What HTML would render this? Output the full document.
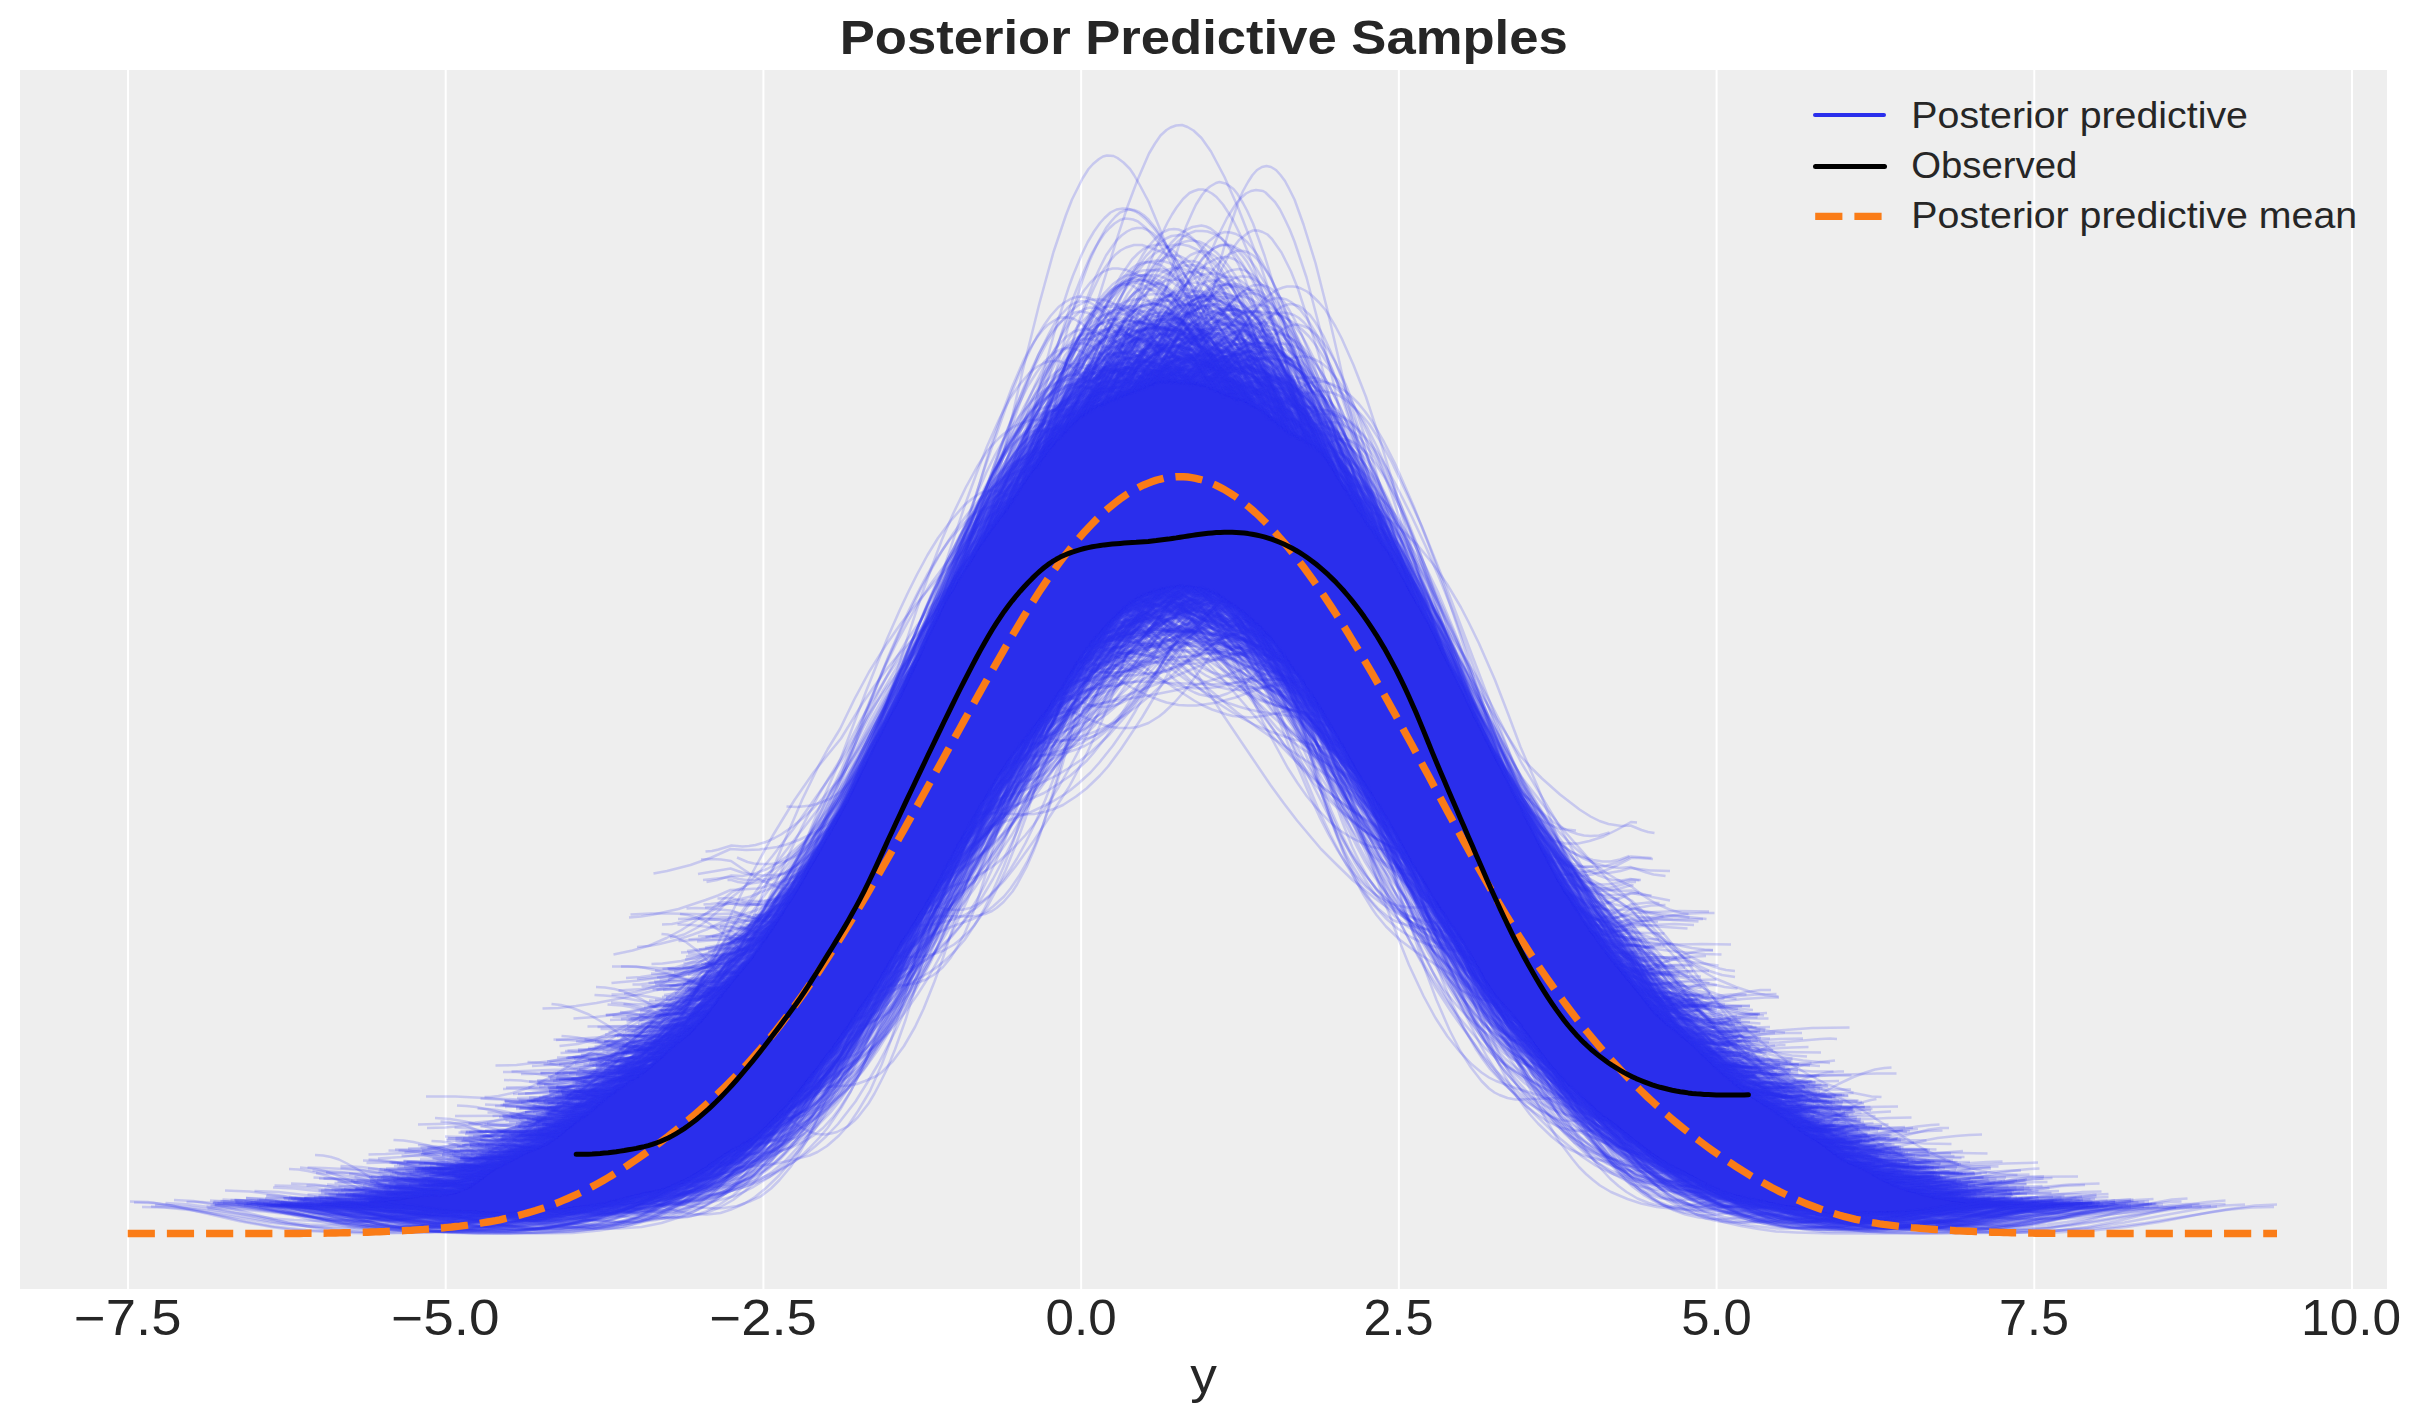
<!DOCTYPE html>
<html><head><meta charset="utf-8"><title>Posterior Predictive Samples</title>
<style>
html,body{margin:0;padding:0;background:#fff}
body{width:2423px;height:1423px;overflow:hidden;font-family:"Liberation Sans",sans-serif}
svg{display:block;position:absolute;left:0;top:0}
text{font-family:"Liberation Sans",sans-serif;fill:#262626}
</style></head><body>
<svg width="2423" height="1423" viewBox="0 0 2423 1423">
<rect x="20" y="70" width="2367" height="1219" fill="#eee"/>
<g stroke="#fff" stroke-width="2" fill="none"><path d="M128.00 70V1289"/><path d="M445.71 70V1289"/><path d="M763.43 70V1289"/><path d="M1081.14 70V1289"/><path d="M1398.86 70V1289"/><path d="M1716.57 70V1289"/><path d="M2034.28 70V1289"/><path d="M2352.00 70V1289"/></g>
<svg x="20" y="70" width="2367" height="1219" viewBox="20 70 2367 1219" style="position:static">
<path d="M369,1201.2L383,1199.0L403,1197.0L422,1194.0L440,1193.5L446,1192.9L457,1190.2L467,1185.9L473,1182.2L488,1171.1L495,1166.8L524,1151.8L543,1143.9L552,1138.5L571,1123.5L588,1110.9L608,1094.3L633,1077.5L647,1067.4L655,1060.6L671,1045.9L687,1033.0L695,1025.6L705,1014.2L727,985.7L746,963.1L754,952.9L777,919.3L795,891.0L831,828.7L847,799.3L872,748.8L903,688.5L935,620.3L946,598.8L954,585.2L983,539.0L1009,503.5L1032,468.8L1048,448.4L1060,434.3L1075,419.1L1086,410.0L1095,405.0L1124,392.4L1139,386.8L1155,380.2L1160,379.0L1165,378.6L1188,380.4L1203,383.0L1211,385.5L1227,392.7L1240,396.7L1246,399.1L1253,402.9L1262,408.8L1293,432.0L1298,434.8L1309,439.7L1313,442.0L1318,446.1L1323,451.8L1329,460.5L1365,517.9L1384,543.5L1390,552.4L1396,562.6L1410,588.7L1424,613.0L1434,632.2L1482,729.8L1505,774.1L1542,847.7L1553,868.7L1563,886.2L1582,916.2L1603,946.3L1650,1005.0L1658,1013.9L1665,1020.3L1689,1039.4L1723,1071.4L1742,1087.2L1755,1096.5L1777,1110.2L1801,1128.5L1822,1141.7L1838,1154.1L1845,1158.7L1866,1168.1L1883,1177.8L1891,1181.9L1901,1186.0L1914,1190.3L1932,1195.0L1948,1198.0L1974,1201.0L1992,1201.9L1992,1207.1L1966,1208.0L1928,1212.3L1903,1213.9L1859,1214.7L1837,1216.0L1825,1215.2L1803,1210.6L1776,1206.4L1737,1197.9L1725,1194.5L1710,1188.0L1666,1164.9L1657,1159.4L1647,1152.2L1597,1113.4L1562,1080.5L1553,1070.7L1544,1059.6L1516,1021.3L1499,1002.2L1493,994.7L1485,982.4L1463,944.4L1437,906.1L1412,865.2L1388,822.5L1360,778.8L1331,728.2L1321,711.7L1304,686.3L1278,650.2L1271,641.2L1261,630.4L1247,617.8L1237,610.2L1217,596.7L1210,593.3L1203,591.3L1191,589.5L1181,588.8L1170,590.0L1153,594.1L1144,597.3L1136,601.7L1127,608.3L1116,618.4L1101,634.0L1090,646.9L1080,661.0L1062,690.4L1053,704.0L1039,723.2L1013,756.8L1000,776.0L968,830.0L936,889.1L926,906.8L898,951.0L878,984.0L867,1000.8L835,1047.0L800,1092.3L788,1106.3L774,1121.2L763,1131.9L754,1139.5L746,1144.9L726,1156.0L697,1175.2L685,1181.9L674,1187.1L666,1190.3L659,1192.4L640,1196.4L616,1202.7L601,1205.9L562,1211.3L536,1212.5L513,1214.6L502,1215.1L469,1213.5L445,1213.1L414,1208.8L398,1207.5L384,1207.2L369,1208.0Z" fill="#2a2eec"/>
<g fill="none" stroke="#2f33f1" stroke-opacity=".2" stroke-width="5" stroke-linejoin="round" transform="scale(0.5)">
<path d="M1257 2039l18-2 13-3 18-5 13-5 36-20 13-9 23-17 22-21 22-22 27-31 31-30 27-27 49-55 58-69M3488 2181l22 4 27 1M1997 1552l33-35 23-25 22-26 38-51 39-54 93-140M1065 2292l19 0M665 2404l37 2 43 5 37 8 96 21 48 8 26 3 48 2 27 0 27-2 42-7 16-4 32-10 43-19"/>
<path d="M3648 2289l16 3 38 2M1148 2179l35-4 26-4 35-10 35-12M2004 1542l55-69 45-63 106-154M3634 2281l85 5M1944 1641l34-23 28-26 24-27 24-31 15-22 14-25 24-44 29-61 33-79M3636 2284l58 0M1198 2408l18 2 40 0 13 0 31-3 26-6 18-5 31-12 35-18 31-22 39-35 40-43M2071 1453l22-26 53-67 92-133M2789 1124l18 24 39 59 194 304 22 24 22 22 36 32 39 30 22 14 18 9 18 6 26 4 18-1 22 9 13 4 13 2"/>
<path d="M2226 797l13-9 14-6 14-4 13-2M1195 2198l15-1M2393 1175l59 68 49 51 44 39 83 66M3630 2279l73 2M1254 2052l41 1 91 9M3771 2361l51-6 35-2M3458 2160l44-7 38-3 29-1"/>
<path d="M1058 2202l46-2 42-5 47-8 47-11M1161 2217l15-2 16-2M2243 1222l31-14 27-8 26-6 26-4 27 0 26 2 21 3 27 7M3699 2325l58 6 101 3M923 2334l31 1 37 3M1050 2225l71-3 49-3 16-2M2309 1182l44 22 103 41 33 14 44 26 21 15 11 9"/>
<path d="M3465 2164l18 7 31 8 27 3M1167 2223l15-1M3741 2345l53 6 36 1M964 2315l68 1M2231 795l11-7 10-5 11-3 15-2M3615 2271l42-1"/>
<path d="M1253 2396l24-2 29-7 29-8 29-12 24-12 24-14 29-21 24-19M3042 1616l126 169 53 77 43 70 58 104M582 2397l109-2 37-1 49-4 36-4 140-21M1321 2108l9-1M739 2398l46 1"/>
<path d="M2556 1296l58 114 80 152 42 75 26 44 37 55 32 42 37 42 42 42M830 2337l69-1 54-1 24-3 34-5M2505 1239l49 76 49 69 34 44 34 39M1608 2171l23-24 17-21 35-51 18-28M3890 2398l52 3 24 0 128-8 35-1M850 2360l35-2 25-2 35-7 40-9M3402 2107l10 1"/>
<path d="M1106 2162l52-4 33-5 33-6 29-7 33-11 37-16M2483 1220l47 89 24 42 18 32 29 43 23 31 29 33 23 23 38 31M1285 2142l4 0M768 2382l110-2 52-3M3636 2283l87 0M1088 2272l28 1M3334 2047l28 17 18 9 19 7 23 7 14 3 23 2"/>
<path d="M1790 1413l73-160 34-69 30-55 24-40 29-43 29-35 25-25M2457 1203l54 88 24 36 35 48 19 25 34 40 83 90M3651 2292l58 1M675 2363l35 2 36 5 41 8 53 15M3628 2279l30 2 35 0M3836 2386l52 4 100 2M2105 1405l105-96 42-36 68-54 63-45M2697 992l10 2 11 5 10 6 16 13 16 16 10 14 16 23 10 17 21 38 16 31 31 67 42 99 47 118M3717 2335l42-14 37-9 36-6 26-1"/>
<path d="M1246 2131l33-4 23-7 24-8M3595 2256l42 1M979 2332l23-1M2342 1177l44 5 50 8M3726 2337l39 4 44 1M2364 763l9-1 14 1 14 5M919 2364l31 1M1211 2407l21-2 21-4 26-8 16-7M2301 767l10-5 16-4 21 2 10 3"/>
<path d="M2304 769l15-22 19-26 25-27 14-13 20-11 10-3 9-2 10 0 15 3 15 7 9 7 15 15 15 19 19 33 15 31 10 22 19 51M3369 2345l25 17 9 5 15 7 20 7M3575 2242l27 2 36 2M1026 2188l38-2 38-5 37-7 33-8 28-9 52-20 42-18 47-24M3257 1962l65-34 38-16 19-6 19-4 9-1 19 0M1147 2417l39 4 33 0 39-4 34-9 29-10 29-15 39-26 34-28"/>
<path d="M740 2402l22 0M1416 1902l45-5 36 3 13 0 9-2M3665 2305l35 2M2213 1251l19-3 27-7 37-16 23-14 32-27 14-14M2801 1146l32 58M2637 902l14-12 15-8 9-3 10-1 14 3 9 4 10 7 19 18 14 17 19 29 19 35 24 52 24 55 19 49 24 65 24 68 61 188"/>
<path d="M1258 2395l20 0 20-2 20-4 10-3 24-11 15-8 15-10 20-15M2489 800l20-11 20-7 20-4 10 0 10 1 14 3 10 4 15 8 10 7 10 9 15 15 15 19 20 28 20 34 14 28 20 42 20 47 20 50 20 55M3100 2130l20 37 24 39 25 31 15 16 10 10 15 11 15 10 15 9 15 7 14 5 15 3 25 3M2437 781l13 2 8 3 13 6 9 5M1116 2420l31 4 36 2 26-1 36-5 31-9 31-12 31-17 26-19M2539 833l15 5 16 9 10 7 21 21M1475 1838l21 4 13 0 13-1 21-5 21-8"/>
<path d="M3256 1961l51 30 38 16 27 9 42 10 28 4 32 2M2199 812l14-26 10-16 15-19 10-10 9-7 15-8 10-2 10 0 15 3 9 4 10 6 10 9 15 16M2596 1350l20 43 29 60 20 35 19 33 15 23 25 35 19 25 35 41M3705 2329l20 1M3725 2425l37 9 36 5 37 3 43 0 31-2 37-4 110-18 37-5 36-3 31-1M1390 2021l12 0 20 1M3395 2099l24 2"/>
<path d="M696 2392l62-2 62-5 46-8 51-15 16-5 36-15 51-26 144-82M1458 1875l24 3 15 0 20-3 19-6M3850 2390l59-5 54-1M864 2347l19 1 23 3 23 5 28 7M2029 996l24-56 23-51 28-53 18-31 14-20 19-23 14-13 18-14 14-6 19-4 14 1 9 2 9 3 14 8 19 16 14 15M2521 1253l28 65 19 38 18 34 24 36 18 25 23 23 19 15 14 9 9 5M3227 1927l9 0M1073 2169l40-1 45-7 45-11 40-16 35-20 30-19 85-64 40-28"/>
<path d="M3270 1978l39 6 26 3 65 5M3665 2306l90-1M797 2376l62 2 57 5M2464 1209l68 122 28 49 23 37 34 49 28 37 23 27 11 11 46 43 34 27M3620 2273l74-1M1063 2204l41-5 35-9 46-18 36-19 35-22 46-34 46-39 46-44 36-39 30-36 41-46 30-38 31-41 51-77 46-77 25-44 46-87M2245 1220l15 4 20 7 31 13 40 26 21 16 30 27 36 37 122 140 26 27 35 36 31 27 46 37 46 32 56 35M3660 2299l6 1"/>
<path d="M1136 2208l15-1 24-4 24-6 19-7M2734 1576l58 117 34 63 24 41 25 38 24 33 24 30 29 31M3418 2121l38 8 56 6 84 4M3493 2186l43 0M1676 1636l53-126 35-74 22-42 17-31 18-28 22-30M3404 2106l35 4 44 2"/>
<path d="M2007 1029l49-121 26-59 18-36 18-32 17-28 18-23 18-18 17-12 14-6 17-1 9 2 9 4 18 11 13 12 18 19 22 30M2785 1115l15 26 25 48M3772 2363l20 1M962 2341l21 0M934 2348l41 0M2146 1341l23-7 47-11 24-7 41-14 29-14 35-20 23-16 30-23 41-36M3802 2377l76-6 47-1"/>
<path d="M2136 1356l26-10 21-12 16-10 26-20 37-33 100-100M2778 1105l21 34 27 52M3737 2343l47 6 32 2M1314 2103l23-2M3546 2221l18-4 42-5 27-2 18 0M1943 1123l53-155 24-63 24-59 17-41 24-47 18-29 18-21 6-6 12-9 12-5 5-1 12 0 12 4 6 3 18 16 12 15 18 28 18 35M2400 1169l36 88 17 40 18 36 24 43 12 19 30 41 17 20 18 17 30 23 35 22 60 33 18 11 23 17M3980 2407l35-1 48-2 83-7 71-3M854 2256l37-1 30-3 31-3 36-7 31-7 36-12 31-10 30-13 43-21 49-28 30-18 61-40 98-72 36-29 25-21M2470 1210l31 46 73 115 55 81 36 50 31 39 67 79M3836 2386l55 3 79 1"/>
<path d="M1884 1750l20-11 14-9 25-21 19-21 24-37 10-17 10-20 24-55 15-39 24-73M2254 788l20-54 24-60 24-52 20-34 10-15 9-12 10-10 10-7 14-7 10-2 10 1 10 3 9 6 10 7 10 10 14 20 20 35 19 44 25 65 19 60 25 82M3764 2358l44 0M1396 1872l64 2 28 6 14 0 18-1 14-3M2248 790l13-12 19-12 13-6 19-7 9-2 18-1 14 2 14 5 13 7M2971 1960l36 99 28 66 23 49 32 62 27 45 28 37 13 16 14 14 14 12 14 11 22 13 33 14 27 9 32 7 18 2 74 7 32 2 36 0 23 0 32-2 32-3 32-5M980 2315l31-1 31-3M3024 1579l19 26 56 72 43 58 118 173 42 64 19 26 19 22 24 24 18 17 24 17 14 8 24 11 23 7 15 4 18 2"/>
<path d="M722 2404l24 0M3753 2353l18 1M707 2393l58-2 69-6 32-6 38-9 32-9 38-14M2357 1175l38 3M3715 2331l57 8 64 5 63 4 51 1M2027 1000l18-55 18-51 17-45 14-31 18-35 13-21 9-12 18-19 13-9 9-5 4-1 9-1 5 1 17 5 14 9 18 16 13 15 18 24M3653 2296l25 2 31 1"/>
<path d="M1308 2083l23-3 18-5 18-7 23-13M1793 1407l131-292 45-92 28-49 36-58 27-39 27-32 32-33 18-16 18-14 41-24 18-9 18-6 18-4 18-2 14 0 13 1 19 4 18 6 9 4 18 11M2639 1415l32 99 45 130 37 93 22 54 18 40 37 71 40 72 32 49 14 20 45 62 32 38 31 30 27 25 77 66 23 16 18 11 23 12 27 13 32 12 27 7 32 5 27 2 27 1M940 2339l22 1 22 2M1979 1065l22-53 22-45 22-39 17-24 16-20 11-11 11-9 17-9 16-5 11-1M3712 2331l39 0M1824 1345l49-126 50-117 19-38 22-45 23-41 14-21 13-20 18-24 19-20 22-19 14-8 18-8 14-3 18-1M2409 1176l28 45 22 34 23 31 18 22 14 15 32 32 13 12 37 27 54 38M3250 1956l18-5 36-5 32-2 23 1M2872 1805l23 42 33 55 18 28 28 37"/>
<path d="M1268 2065l26-2 26-5 22-5 48-19 35-19M1179 2205l24-2M2374 1173l34 30 57 54 28 25 19 15 29 20 24 13 23 10M3498 2187l38 10 19 4 28 4 29 3M578 2338l19 1 18 3 19 4 18 5 31 11 61 26 31 12 24 9 25 7 31 5 30 4 31 1 31-1M2739 1584l49 108 43 89 31 57 31 52 18 28 19 25 18 25 18 21 19 18 24 21 37 26M3654 2296l31-2 30-1M2167 830l20-40 19-34 23-34 20-23 19-16 8-6 12-6 27-10 19-3 16 1 8 1 11 3 12 6 23 13 31 25 24 23 23 27 23 33 20 31M2874 1807l20 44 27 54 31 55 23 35 24 29 15 17 19 19 35 30"/>
<path d="M2253 789l20-23 10-10 11-7 15-8 10-4 10-3 15-1 15 2 25 9 25 15 40 28M3227 2249l40 36 20 15 31 20 20 10 15 7M2315 762l14-14 9-7 13-9 9-4 10-4 13-2 9 0 14 2 23 9 9 5 22 16 14 13 9 10 14 15 18 23M3487 2182l22-5 32-3M1077 2209l35-2 25-3 35-4 45-9M1074 2234l93-2M2350 1175l21 17 31 23 36 24 41 24 47 24 41 24M3368 2346l21 16 26 16 15 9 26 10 26 8 31 5 21 3 41 1"/>
<path d="M1096 2153l66-5 48-6 35-7 56-14 22-6M2887 1828l13 21 26 37M3210 1902l51 38 25 25 30 33 30 36 61 74M3683 2318l10 1M737 2406l6 0M3979 2407l26 0M1052 2424l34-3M3433 2379l17 10 23 10 23 8 23 5 23 4 23 1 23 1 17-1"/>
<path d="M3646 2289l26-3 47-2M685 2402l28 2 35 4 34 6 86 19 35 6 40 6 34 2 41-1 40-5 23-4 29-7 51-16M2752 1604l23 61 29 69 34 70 23 40 23 35 12 15 17 20 35 34 11 10 17 13M3597 2256l23 2M3427 2132l43 4 76 5M863 2282l19 1 15 2 29 9 33 14 44 22M2085 915l15-37 19-47 15-30 14-27 15-23 14-19 15-16 14-12 15-8 14-4 10 0 14 1 15 6 19 12 15 12 14 14 24 28M2854 1770l29 85 34 87 29 62 14 27 15 23 14 18 15 16 14 13 10 7 19 11 19 8 25 9 19 5"/>
<path d="M940 2334l23 0 41-2M3385 2355l24 16 23 13 23 10 29 11 29 7 35 5 23 1 35 0M3839 2388l34-2 35-1M777 2341l82-1 50-3 55-9 77-17M2206 815l21-50 22-43 22-36 22-31 28-31 16-15 6-4 11-6 11-4 11-3 11 1 16 3 6 2 11 6 11 7 11 9 11 11 16 21 22 36 17 32 27 62 28 70M2986 1977l16 51 17 46 22 54 16 34 17 30 16 27 17 23 22 25 21 19 22 13 17 7 22 8 27 7 50 9 60 4M2458 791l13-7 17-8 13-4 9-1 9 0 17 3 14 5 13 7 13 10 9 9 13 14 9 12 26 42 13 25 13 28M499 2405l39 2 40 4 118 22 33 4 33 2 39 0 33-3 20-3 46-9M3366 2343l26 20 27 18 33 16 19 7 33 8 20 4 26 1 20 0 20-1M3780 2369l40-6 39-3"/>
<path d="M716 2398l64 2M843 2365l27 1 22 1 48 7M2095 902l16-22 16-19 11-10 16-13M3287 2296l27 30 21 20 22 16 27 16 27 11 22 6 16 3 27 3 38 0M660 2407l65 1 110 7M2250 1217l26-12 39-15 45-13 13-3M838 2369l56-1 57-2M2356 1174l19 8 31 16 126 68M3529 2404l38 16 31 11 19 5 44 7 31 3 19 1 44-1 38-4 169-25 44-4 38-1"/>
<path d="M2552 846l20-6 16-2 8 0 8 1 16 5 17 8 16 11 16 15 16 19 12 16 20 31 20 36 12 24 21 44 16 37 16 40 28 75M572 2412l34 1 41 3 129 15 54 4 34 0 27-2 34-4 27-5M3778 2366l27-1 40-3 102-14 34-4 41-3 20 0M3398 2101l37 3 64 2M913 2336l32 0 47 2"/>
<path d="M728 2405l17 0M2385 766l17-7 17-3 22 0 17 5 8 3 13 8 13 10 22 23 17 21M3429 2134l38-6 34-2M3432 2136l37 5 41 3M541 2410l33 1 39 4 39 5 78 14 45 7 39 5 33 1 32 0 46-5 32-7 33-10"/>
<path d="M2274 1191l33 36 28 26 19 12 14 9 19 7 14 3 14 0 19-3 14-4 14-6 14-8 18-12 14-10M3669 2308l38 2 51 2M2996 1996l22 39 28 45 49 75 33 43 17 19 22 23 22 20 16 12 17 12 33 19 44 19 60 19M784 2345l26 2 27 4 54 13 42 13M2187 821l21-43 27-46 16-24 22-26 16-14 21-16 11-6 10-5 11-2 16-1 16 3 11 4 11 6 21 16 27 23 21 24 33 43 21 33 32 54M2899 1844l27 90 21 67 22 60 21 52 22 43 21 36 27 37 16 18 27 26 16 13 21 13 27 12 32 9 38 8 53 8 81 10M1336 1960l37-2 37-4 74-12M2396 1177l13 9 28 16 19 9 23 10M3640 2286l42-1 18 0"/>
<path d="M3784 2370l106-6 56-1M679 2404l39 2 20 1 111 17 32 2 39 0 26-2M1299 2136l52-65 39-44 19-21 20-18 26-22 13-9M3959 2406l52-3M1440 2316l100-53 60-36 26-17 15-11 35-28 35-34 25-29 30-39 25-38 35-61 31-59 20-43 40-91 30-73 40-103 30-81M3057 1646l20 24 25 26 15 15 20 17 25 18 15 10 45 25 41 20 35 34 30 33 50 61 25 34 66 91 50 69 35 43 35 38 20 18 20 16 30 18 20 8 15 4 16 4 15 1M1037 2200l44 0 49-3 28-3 44-8 32-10 17-7"/>
<path d="M2234 797l13-22 13-20 22-26 9-8 21-15 13-5 9-1 13 1 12 4 18 11 8 8 13 15 9 11 17 26M1225 2177l14 0M3574 2238l23 0M850 2334l81-2 76-3M3201 1892l24 3 9-1 29-4 19 1M811 2341l59 1 59 3 24 1 25-1M1212 2195l88-102 39-41 20-20 29-25 20-16 39-27 15-9 14-7"/>
<path d="M1934 1135l28-71 14-32 13-29 19-36 13-25 28-43 18-25 42-50 64-71 37-39 18-18 19-16 9-6 18-11 19-6 13-1 14 0 9 3 14 6 9 7 9 8 14 16 9 13 19 31 18 38M2646 1427l19 42 18 38 32 58 14 22 23 34 18 24 23 27M3514 2201l23-5 14-1M1311 2084l26-6 17-6 22-11 25-18M3463 2160l30 7 26 3M3687 2321l35-5 34-1M3487 2180l30 2 78 0 45 2"/>
<path d="M3818 2381l95 0M661 2410l70 2 83 5 47 2M1058 2163l113-4 32-2 43-5 43-9M2129 1368l38-38 42-41 33-28 32-25 21-15 43-26 21-10 27-10M3644 2290l97-10 53-2M1119 2247l17-1 16-3M3776 2364l71 3 77 1"/>
<path d="M1123 2072l14 1 18 2 42 9 102 34 18 4M3843 2388l79 0M1945 1639l32-15 19-10 39-25 19-14 26-23 32-32 19-22 39-48 45-62 90-128 26-33 32-39 13-14M3070 1672l58 89 128 191 20 31M3758 2426l32 7 51 9 97 13 83 5 84 1 64-2 58-5 64-8 116-19 45-7 51-5 45-1M2232 1233l32-9 106-29 42-14M2784 1115l14 13 14 16 18 24 14 20 37 60 41 77 33 66 27 61 120 281M3741 2345l19 1"/>
<path d="M2261 788l14-24 13-22 23-29 18-19 18-12 14-6 13-2 14 2 18 6 9 5 27 19 18 18 18 21 19 24 18 26 27 42M3306 2310l18 15 18 13 18 8 19 5M3591 2252l27-15 23-10 23-6 18-1M857 2372l34 0 57-3M1394 1883l52-4 10-1 5-1 24 2 19-1 23-4 10-3M3780 2367l42 1M1363 2030l31 0 20-3M3862 2394l56-4 35-1"/>
<path d="M2068 1454l27-13 33-18 14-11 14-13 18-21 10-12 14-21 28-50 23-50 18-44M2449 789l18-25 19-21 14-11 14-10 14-7 9-3 14-1 9 1 19 5 9 5 14 10 14 12 9 10 24 29 23 36 23 42 28 56 19 41 28 65 93 236M1322 2381l17-5 16-5 22-11 28-16 21-18M2215 1247l17-1 22-3 27-10 22-11 17-11 38-29 11-10M3969 2406l44-1M1351 2369l40 2 13-1 18-4 13-3 13-5 14-6 13-8 13-10 13-12 14-15 13-17 22-35 22-42M2211 808l27-94 31-100 26-75 18-46 9-21 13-27 9-16 9-14 13-17 13-12 9-4 9-3 9 0 9 3 9 5 9 7 13 15 13 20 9 15 18 37 9 21 13 34 13 37 36 105 31 102 31 109M3120 2150l22 45 18 34 27 45 22 33 26 34 18 21 13 12 23 17 17 10 22 10 9 3 14 2 13 1 22-1 22-3 27-6 49-13M769 2393l51 2M3221 2243l28 29 17 14 27 19 23 12"/>
<path d="M3098 2128l25 38 24 33 25 28 25 25 12 11 25 18 37 23 44 20 49 18M3705 2427l32 1 43-2 37-4 106-13 31-3 31-1M3251 2266l15 17 25 26 25 22 39 31 35 21 40 16 29 9 20 4 40 2 25-1 20-2M3747 2350l35-12 44-12 35-5 30-2M1582 2202l16-17 19-25M2135 858l15-38 12-26 19-38 11-20 12-16 12-13 15-12 8-4 11-3 12 1 12 3 15 9 27 25 15 18 16 22M3250 1953l8 1 31 9 19 3 19 2M1782 1428l49-101M3474 2172l27 2"/>
<path d="M3339 2331l20 20 15 13 25 19 30 19 15 7 24 10 20 5 20 4 30 3 20 1 30-1 49-6M3746 2347l124-2M1924 1673l15-8 25-20 25-28 20-27 20-33 20-38 20-43 20-48M2369 764l15-9 10-2 10-1 15 3 15 6 10 6 10 9 10 11 10 12M860 2370l88-3"/>
<path d="M1955 1624l26-26 31-36 31-40 20-28 26-39 26-42 83-145M2879 1293l16 22 25 38 37 61 41 74 46 90 88 153 46 79 21 33 31 46 47 62 15 19 31 32 26 22 10 8 16 9 25 13 31 11 31 6 26 4 52 2M600 2411l76 2 183 15 89 3 50 0 70-3 56-8M2482 1220l37 47 95 121 32 37M3668 2307l32 6 38 5 38 3 50 2M2249 791l19-43 24-48 28-49 14-20 15-17 14-12 14-7 5-2 5-1 9 0 10 3 10 5 19 15 14 16 19 29 19 38 14 32 19 49 19 55M3469 2391l52 21 24 8 43 11 33 5 34 2 38 0 52-7 29-6M3898 2400l23-2 15 0M1435 1797l28-1 24 8 16 4 16 2 32 2 11-2 16-3"/>
<path d="M995 2427l43 5 43 0 30-3 25-4 24-6 25-8M2352 764l19-8 18-2 18 1 19 5 18 6 18 10 19 14 18 17M3814 2379l122-2M965 2272l60-1 39-1 65-7M1741 1987l28-25 18-20 19-22 27-38 28-44 9-16 23-46 23-50 23-56 23-62M2321 762l9-4 10-3 18-2 18 0 23 4 37 13 23 10 23 13 23 16M2413 771l20-12 24-13 15-5 15-3 20 0 10 2 10 3 20 11 14 11 10 9 10 11 10 13 25 37 25 44 20 41 14 33"/>
<path d="M1121 2241l18-1 27-5M1718 2016l18-4 14-4 18-10 13-11 18-16 14-16 14-19 13-21 14-24 13-27 32-72 32-83 36-105M3189 1872l13 2 17 0 22-4 22-5 66 2M3276 1983l24 10 33 10 28 6 19 2M3888 2398l66-2"/>
<path d="M1623 2151l25-23 21-26 29-43 25-44M2205 809l16-24 11-13 11-9 5-3 11-5 16-1 11 3 5 2 17 10M3884 2398l16-2 27-1M3798 2375l97-14 55-6 73-5 36-1M2117 879l21-48 22-41 25-42 22-28 17-19 26-22 8-5 17-8 18-5 25-3 26 2 9 3 17 8 13 8 12 10 13 11 35 35 30 36 25 35"/>
<path d="M1074 2239l85 1M2006 1539l17-21 29-43M3711 2331l92 2 194 0M893 2365l57 3M2461 1209l46 46 28 30 46 46M3717 2334l40 2 40 1M1245 2117l32-4 27-7 27-11 32-17M1121 2253l22 0M3524 2403l11 7 22 11 16 7 23 8 27 6 34 4 33 0 44-5 28-5 50-11M3923 2403l33-2"/>
<path d="M3637 2284l34 1M837 2336l63 2 80 6M2175 821l10-12 11-11 20-15 15-8 11-3 15-1 5 0 21 5M627 2398l18 1 41 4 94 15 35 5 35 1 35-1M2107 892l12-30 17-38 12-24 18-31 12-18 17-20 12-11 12-8 11-5 12-2 6 0 12 1 17 7 12 8 24 19 11 12 12 14"/>
<path d="M2329 763l26-19 11-5 10-6 16-6 21-5 26-6 21-1 11 0 10 2 11 3 10 4 16 9 16 13 16 16 15 19 21 33 11 18 26 56M3813 2423l36 12 42 10 42 5 24 1 24 0 42-3 53-7 108-21 42-7 36-4 36-2M530 2397l69-1 58-2 63-7 41-7 40-9 122-30 104-22M1339 2099l23-33 34-51 70-106 75-98 81-100 52-69M1262 2394l67 1 50-7 18-5 18-7 22-11 18-12 19-14 18-17 13-15 14-16 22-31 23-37"/>
<path d="M2304 769l9-12 22-25 17-16 22-15 13-5 17-3 9 0 13 2 17 5 13 6 13 9 18 14 17 18 17 21 26 37 13 20 26 44M1724 2012l17-19 26-32 30-44 34-60 13-25 17-38M3420 2122l29 7 13 2 30 3 30 1 34 0M3588 2250l10 1M3426 2129l37 17 23 7 27 8 46 8 28 3 23 1"/>
<path d="M2148 1333l34 9 33 4 12 0 17-2 16-2 17-4 34-15 17-8 17-11 34-23 90-69M1001 2210l33-3 29-5 24-7 34-12 38-18 19-11 38-26 29-21 48-42 38-35 67-69 63-69 33-30 34-32 28-31 39-45 24-30 33-46M2193 1272l53-18 33-11 67-18 39-6 28-4 29-1 29 0M1223 2083l51-3 40-5 40-7 35-11M3741 2346l45 1M2216 1243l23 14 17 12 87 69 35 26 35 22 35 17 29 10 17 5 23 5 76 11 23 5 29 8 17 6M3741 2345l34 11 41 9 58 10 35 4 40 4 87 4 157 2"/>
<path d="M585 2401l36 2 42 6 36 8 113 27 42 8 36 5 36 3 59 2 48-1 48-3 54-8 47-11 42-11 54-19 36-15 41-21 30-17 24-16 18-14M3617 2271l18 1M1269 2073l58-1 44 1M1025 2316l9 0M2472 797l9-10 19-17 14-9 14-6 14-2 14 2 14 6 10 6 14 14 9 12 14 22 14 26 24 52 23 66M3297 2014l23-2 47-2 51 0M548 2408l41 1 47 6 41 7 111 23 29 5 35 4 71 6 41 2 35 0 52-3 41-3 53-8 35-8 35-10 36-13 29-14 35-21"/>
<path d="M268 2405l40 1 40 6 40 7 104 24 56 10 64 7 56 3 56 1 65-2 64-5 40-6 40-9 40-10 24-7M3971 2410l56 9 40 5 32 2 32 0 48-2 120-16 40-4 24-1M946 2363l11 0M948 2334l49 1M2257 1211l22 0 27 3 27 7 33 9 27 11 27 13 92 46 71 33M3664 2302l32 3 27 1M1241 2160l27-2"/>
<path d="M1227 2404l53 4 38 1 28-3 29-6 14-4 15-6 28-16 29-20 24-20 42-42 91-104 52-63 53-69 33-51 14-24 19-34 24-49 34-78M1245 2399l24-5 18-6M1658 2107l36-41 19-24 24-34 36-60 37-71M2697 989l12 1 6 2 18 8 12 8 19 16 18 20 12 16 24 38 18 31 19 34 24 50 43 97 42 108 61 165M3450 2385l30 17 31 16 18 7 36 13 31 8 42 8 31 3 30 2 37 0 36-1 55-5 60-11 104-23 36-8 43-5 36-2M1480 1855l12 1 8 0 20-2 16-5 20-10M909 2370l33 0M2387 1177l22 10 16 6 27 9"/>
<path d="M2349 764l24-41 19-29 18-24 15-13 14-11 9-5 5-1 9-1 5 0 14 5 14 10 14 16 14 20 14 26 15 30 14 35 18 52 15 44M2885 1824l24 51 19 38 28 50 14 22 24 32 33 38 51 47M1087 2129l26-1 52-5 37-7 42-11 42-14 36-14 84-41M3718 2335l41-2M847 2371l96 1M3663 2302l42 23 24 13 25 10 36 13 36 9 30 6 30 3 43 2M1003 2270l27 0 21 2 54 9M3626 2277l107 0"/>
<path d="M1737 1994l21-24 20-27 16-23 26-41 21-37 21-39 46-96M3540 2214l26 7 26 5 21 3 36 3M3205 1894l20 11 40 19 120 76 35 20 25 12 30 13 40 13 25 4 30 3M863 2369l35 1 45 3M2458 1205l22 19 21 15"/>
<path d="M3342 2053l52 7 79 5M1217 2064l19-2 24-5 28-8 14-6 43-18 113-55M1288 2097l33-5 36-10M3578 2244l55 3M3784 2368l26 0"/>
<path d="M2142 1347l35-35 35-32 51-41 25-17 25-16 65-32M1364 2078l47-80 52-93 47-70 47-63 32-38 88-98M1991 1561l20-14 16-12 10-10 16-17 26-33 26-40 21-36 26-47 42-82M1446 1924l16-1 21 2 16-2M2102 893l41-85 25-44 24-39 20-28 21-22 12-10 12-8 12-6 9-3 12-1 20 1 21 7 8 4 8 5 20 18 21 23 24 36 25 41M2971 1963l24 43 33 49 36 50 49 58 29 28 28 25 17 12 20 13 29 13M940 2349l33 0M3259 1963l32 3"/>
<path d="M2723 1031l19 13 18 15 18 20 14 17 9 13 23 35 27 46 28 50 50 97 41 86 74 164 46 98 45 106M1616 2161l22-17 26-26 13-16 18-23 17-26 18-29 26-52 17-38M3477 2174l22 0M1099 2156l30 1 31 3 35 8 39 12"/>
<path d="M2183 817l17-26 16-21 17-14 9-6 8-4 13-4 4-1 21 1 25 9 12 6 9 6M3315 2033l8 0M1250 2146l15 0 24-3M2159 835l18-42 18-36 18-31 22-29 13-14 9-7 22-13 14-4 17-2 9 0 14 2 22 7 22 12 18 12 18 15 44 42 27 32 22 31M3012 2015l18 23 13 15M1201 2058l46 0 87-2 29-3 34-5M3533 2405l23 13 17 8 29 11 35 10 23 4 29 4 29 3 34 0 46-1 64-6 46-7 104-18 46-8 46-5 46-2"/>
<path d="M998 2308l16-1 23-2 34-8M3724 2336l90-8 68-1M1011 2300l20-1 25-4 25-6 25-9M1892 1736l25-33 21-30 15-24 30-53 40-82M3484 2181l101 2M807 2360l27 1 33 2 33 4 38 7M2080 923l23-45 27-44 11-15 12-14 15-13 8-6 11-6 12-3 11-1 8 0 12 4 19 10"/>
<path d="M3315 2315l27 24 38 27 32 18 33 13 27 8 37 7 33 3 27 1 21-1M917 2265l32 2 42 6 36 8 53 13M2178 825l10-20 16-26 16-24 16-19 10-11 16-13 16-9 10-3 16-3 16 1 15 4 11 6 16 11 10 9 16 17 21 27M3207 2233l32 40 21 23 21 21 16 15 21 18 16 11 15 10 32 15 21 7 16 3 15 3 27 2 47-2M1376 1981l79-6M3782 2367l79-3 50-1M1146 2183l38 2 38 3"/>
<path d="M3918 2402l31-1M747 2396l75-1M3624 2275l29 4 29 2M2364 1173l26 12 26 11 36 13 21 6M1611 2168l22-26 28-36 27-39 9-16"/>
<path d="M788 2377l58 2 69 5M3271 1976l47 30 32 15 38 15 42 10 16 3 37 3 22 0M1281 2399l47 4 60 11 43 3 17-1 26-4 25-9 22-10 21-16 17-17 22-26 21-33 13-23 13-26 17-39 22-56 21-63 17-54M2636 899l21 2 13 3 13 5 17 11 22 19 13 14 17 23 17 27 17 30 26 52 38 87 47 120 52 140M1388 2350l19-4 24-8 24-12 24-16 20-15 19-18 19-22 20-25M2005 1030l14-27 19-34 29-43 24-29 15-13 14-11M1183 2203l23-1"/>
<path d="M2947 1429l95 163 48 71 75 110 48 73 51 85 60 108M2512 1245l48 130 32 77 21 47 16 31 16 29 16 25 15 22 16 20 22 22 15 14 22 15 21 12 16 7 26 9M3640 2284l84-1M1221 2122l32-2 28-5 32-9 32-13M2363 765l16-12 8-4 12-6 12-4 8-2 20 0 12 2 12 4 12 7 8 6 12 11 12 13 16 22 20 35M1111 2213l33-2 22-2 38-7M3672 2309l22 1 44 1 126-4 38 0"/>
<path d="M1018 2294l60 1M2130 861l20-23 21-16 20-11 15-5M1109 2259l25 0M1067 2248l27 2 44 6M3765 2360l38-3 38-1M2439 786l10-6 9-4 9-3 10-1 14 1 14 6 5 3 14 11 14 14 14 19 19 31"/>
<path d="M776 2366l108-3 51-2 26-2M3151 1818l10 5 21 6 20 4 16 2 20-1 26-4 25 5 57 5 51 3M854 2383l66-1M3667 2305l36 7 48 6 59 3 96 0M3902 2400l71-1M1931 1665l19-14 34-29 39-37 15-16 24-29 29-39 29-45 29-50 34-63 63-122M2894 1323l25 37 38 65 39 71 49 92 164 288 58 96M3500 2191l9 1"/>
<path d="M983 2290l30-1 36-7 36-10 30-12 36-15M1770 1942l36-59M1907 1709l31-48 20-30 20-28 21-27 60-73 87-95 35-43 26-33 51-74 45-76M3451 2151l106-3 21 0M3231 1928l20 20 44 41 30 22 15 10 15 8 19 9 30 10 15 4 45 7 34 3M2260 1203l48 33 28 17 38 19 32 12 38 9 27 3 87 4M3688 2321l60 5 33 2 141 0M1216 2146l48 0 26-2M3818 2381l69-6 48-2"/>
<path d="M775 2398l21 0M3645 2426l41 14 56 11 34 5 35 3 42 2 41 0 77-3 62-7 48-7 104-19 42-6 49-5 41-2M797 2301l15 0 26 3 30 6 45 14 66 23M2185 815l10-9 11-9 10-7 10-4 20-5 10 1 10 1M3306 2021l20-7 20-6 31-3M1434 2003l54-124 80-195 37-86 33-68 17-31 25-41 29-60 29-54 34-54 29-42 33-42 38-45 42-45 16-17 21-16 25-14M981 2266l41 0 94 7M3028 2031l31 58 46 80 26 41 26 37 26 33 36 41 21 19 26 20 31 21 26 13 26 10 21 6 15 3 36 3 21 0 47-3 57-5"/>
<path d="M736 2337l17 1 18 2 17 4 17 6 34 13 58 28M983 2427l34 9 29 4 28 2 29-1 29-5 34-8 29-10 34-16M1877 1229l34-85 23-53 23-51 35-70 22-43 29-48 29-43 17-22 23-25 17-15 12-7 11-6 17-6 12-1 11 2 17 5 23 14 17 15M2513 1248l46 78 34 52 58 80 51 64M3654 2294l11 0M2172 1298l28-15 27-11 11-4 28-7 11-1 22-2 28 2 17 2 27 7 28 9 66 30 61 29 34 13 49 17M3113 1755l39 50 39 46 33 36 39 39 44 49 55 54 34 30 27 22 50 36 44 27 39 20 33 14 34 10 38 8 22 3 34 2M3480 2394l19 7 25 7 31 5 25 1M3893 2416l44 8 37 6 32 2 31 0 25-2 31-5 81-17 32-5 18-2 38-2M928 2330l15 1 14 2 30 8M1145 2416l30 9 24 5 25 3 30-1 19-3 20-5 35-12 29-14 25-13 30-20 49-38 25-21 29-27 30-31 25-28 29-38M2266 782l15-14 15-12 19-12 15-6 10-3 20-2 15 1 14 2 25 8 35 13 19 8 35 17 20 13 29 21 25 23 20 22 15 20"/>
<path d="M964 2304l20-1 72 2M2188 822l15-41 16-35 15-29 16-23 15-19 10-9 5-3 16-7 20-6 11 0 10 2 21 7 20 11 31 25 31 29 15 16 26 31 21 28 10 15M2888 1824l20 53 21 48 25 51 11 18 10 16 10 14 11 12 10 11 10 9 26 20 26 13M3495 2190l61-12 21-2 15-1M3267 1973l39 33 38 36 39 39 55 58M3796 2373l22 1 33-1 115-11 44-2M2782 1111l15 21 11 15 20 36 16 28 31 63 36 81M3567 2233l25 1"/>
<path d="M975 2319l53-2M2162 1315l27-22 32-30 26-27 43-48M3651 2293l32 3M1069 2287l27-1M2287 1190l71 27 49 22 120 58 44 18M1971 1597l9-8 24-26 23-30 10-13 19-32 28-53M2666 937l10 7 18 15 19 21 24 30 19 29 23 42 19 37 19 41 28 66M3762 2357l30 7 36 4 41 3 35 1"/>
<path d="M761 2389l33 3 22 3M911 2423l39 10 33 6 28 2 45-2 33-3 78-12 39-4 39-4 61-4 51-5 27-5 34-9 22-7 22-10 17-8 22-14 11-8 23-18 22-23 17-19 16-22 12-16 16-27 28-52 17-34 17-37 27-66M2114 880l33-103 28-77 23-57 27-61 17-31 22-32 12-12 11-9 11-5 11-3 11-1 6 1 11 5 11 7 11 11 11 13 17 25 22 40 34 71 28 66 33 86M1095 2283l5 0M1248 1987l23-3 19-5 20-6 19-8 34-18 27-16 54-37 19-12 62-22 27-12M3306 2023l26 9 13 3 35 7 30 3"/>
<path d="M839 2348l48 1 79 7M2453 1198l117 206 32 52 37 57 16 22 21 26 21 24 16 16 16 15 27 22 32 21M1155 2226l23-1M2239 1226l23-9 14-4 13-2 32-1 23 1 41 9 95 33 22 7 32 7M2988 1509l54 92 37 50 27 35 32 38 31 35 28 28 27 26 36 32 41 45 23 23 22 21 19 14 27 20 27 15 32 11 22 4M3561 2229l81-9 36-4 25-1M3658 2301l52-2"/>
<path d="M1165 2173l15-2 25-5 20-6 15-6 15-8 25-15 15-11 20-17 20-18 39-43 25-30 60-80 15-18 45-51 70-75M1997 1550l30-26 80-74 30-26 45-35 20-14 25-16 34-20 35-17 40-18 130-52 40-13M3657 2298l55 4M1191 2129l35-4 34-9 34-15 25-13 19-14 25-18 19-17 34-32 49-48 10-9M1608 1756l108-229 39-78 30-54 21-36 22-33 13-17M2916 1868l26 50 21 38 18 28 13 18 21 27 26 29 17 17M969 2318l60 0"/>
<path d="M908 2304l36-2 66-7 36-7 71-18M1083 2285l16-1M970 2290l20 1 25 4 40 11M3487 2180l19 0M1993 1561l28-44M2655 922l9 3 15 7 14 10 9 9 10 9 14 18 10 13 14 22 14 24 15 26 23 49 29 65 48 113"/>
<path d="M947 2325l40-1 34-2M2485 1223l24 34 29 36 20 21 15 13 14 12M2212 804l14-12 10-7 19-10 19-4 19 0M3548 2221l43-1 29-3 43-3 43 0M3357 2066l23 6 14 2 14 1M1078 2194l54-4 32-3 54-10 37-10M2031 1501l54-17 14-5 36-19 18-10 18-13 19-16 13-13 32-35 41-55 18-27 18-30 55-92"/>
<path d="M747 2395l28 1 28 2M2071 937l23-62 17-41 16-38 23-43 23-35 16-22 17-16 17-12 17-6 6-1 11-1 17 3 17 9 22 17 17 17 23 31 17 28M2561 1299l17 46 17 42 17 36 23 42 16 24 23 26 17 14 11 7 11 5M1777 1930l39-58 61-101 45-80 39-77M2296 771l22-23 11-9 11-6 11-5 12-3 11-2 16 2 17 4 23 11 16 10 17 14 17 16 28 32M3696 2326l50-3 39 0M2254 788l24-42 12-18 27-35 16-16 20-14 15-5 12-1 20 2 28 11 19 12 20 15 20 20 23 27 32 44 23 37 28 50M1325 1938l26-3 23-7 18-7 31-18 41-30 36-22 35-24 23-17 36-31M3344 2332l14 12 22 16 27 14 18 8 18 6 18 4 22 3"/>
<path d="M650 2415l33 1 53 3 112 11 52 3 53-2 13-1 26-4M2235 1226l27 23 125 118 26 22 26 19 20 13 26 16 27 14 26 11 39 14 66 18 46 14 7 3M3873 2395l72-2 66-1M1267 2118l51-1M3791 2372l87 1M673 2391l58 2 64 6M1022 2427l29 2 29 0 41-1 23-2 35-6 29-8 29-11M3599 2258l18 4 29 3M1343 2093l20-21 24-26 43-41"/>
<path d="M671 2405l37 2 43 5 37 7 95 21 48 8 48 5 37 1 48-2 21-2 37-8 42-13 27-11 21-12M852 2379l51-1 31-1M3404 2109l41-4 31-2M706 2409l51 2 101 8M2888 1309l23 41 28 55 51 108M855 2339l23 2 23 4 23 6 34 12"/>
<path d="M3458 2157l35 16 20 8 25 8 26 6 35 5 36 2 80 1M896 2276l26 2 21 5 10 4 31 15 37 21M1230 2403l21-3 26-8 10-4M1564 2223l52-30 36-23 47-34 21-17 37-33 20-21 32-39 26-37 21-33 31-56 26-53 21-45 31-76 26-69 68-197M2664 936l16 15 26 28 26 34 26 38 26 45 26 49 26 53 47 101M2475 795l9-5 9-4 9-3 13-2 9 1 9 2 13 5 9 5 9 6 9 7 9 9 13 15 27 38 17 31M589 2406l35 2 34 4 35 5 115 22 23 3 40 4 35 0 28-3 35-6 34-10M1354 2086l29-41 81-121 63-81 104-126M3116 2149l23 37 17 26 29 39 11 14 18 20 17 17 29 25 17 13 34 20 18 7 23 8 17 4 29 5 34 4 29 1"/>
<path d="M2375 766l16-17 20-16 24-15 16-6 20-3 12 0 16 5 16 7 20 14 12 11 20 22 20 27 12 18 20 33 32 60 16 33M3310 2028l28 1M1939 1126l33-86 32-75 19-37 13-25 14-22 14-20 14-16 14-14 14-11 18-9 14-4 14-1 23 3 14 5M2846 1764l28 68 27 60 37 70 18 30 18 26 19 24 23 26 32 32 32 30 36 33 23 19 32 20M2062 944l17-28 11-16 12-15 11-13 11-12 11-10 11-8 12-6M2500 1237l17 22 22 27 39 41M3880 2397l101-3"/>
<path d="M1513 2271l22-10 22-13 23-15 17-13 31-29 35-42 27-37 26-44 18-32 35-72 18-39 18-43M2162 835l22-40 14-21 9-11 13-15 9-7 8-6 14-7 17-3 9 0 9 3 22 10 9 5 9 7 13 12M3275 1982l88-10 71-2M3512 2200l33-4 22-1M3364 2342l27 24 16 12 21 15 32 16 38 13 11 3 26 5 27 3 22 0 48-3 21-3M771 2387l140-2M3676 2313l82-1"/>
<path d="M2273 782l30-64 51-114 17-33 17-29 17-24 9-9 8-8 9-6 8-3 9-2 8 1 9 3 12 9 9 10 8 11 17 30 13 27 9 21 21 61 17 57 21 81 22 91M2792 1671l22 67 21 60 42 112 13 30 34 76 38 76 13 23 13 20 21 30 17 20 26 27 17 13 25 17 26 13 13 3 12 3 26 1 17-1 13-2 34-7M1946 1637l25-31 40-56 25-36 59-94M3699 2326l44 2M3967 2406l31 0M1528 2258l27-17 17-14 27-25 22-25 18-24 26-38 31-51 26-49"/>
<path d="M2073 937l21-68 16-45 15-41 16-36 21-39 10-16 16-18 10-9 5-3 11-4 10-1 11 0 5 2 5 2 10 6 16 14 16 18 31 43 15 23M2486 1226l33 34 33 30M769 2399l15 0M795 2336l54 1 125 10M3407 2110l32 18 17 8 22 9 21 8 22 6 22 5 33 3"/>
<path d="M2288 781l40-121 15-40 22-54 23-44 11-17 7-10 11-12 15-12 11-5 7-2 11 1 11 3 12 7 11 10 11 13 11 15 26 45 25 55 30 72 33 92 33 102 34 112M908 2353l29-1 35-3M2374 1174l82 51 35 18 35 17M3754 2354l58 1 70-1M975 2225l24 0 33 3 42 5 38 6 42 4M2144 855l14-42 14-37 18-41 14-27 14-21 18-21 10-8 9-7 14-5 9-1 9 0 19 5 9 3 9 5 18 13 19 17 23 26 27 38 19 27M3471 2168l23-1"/>
<path d="M1135 2245l16 0M3778 2367l80 0M1078 2283l22 1M3456 2386l27 18 22 11 33 12 33 8 32 3 33-1 33-3 44-7M737 2383l108 2 51-1 23-1M700 2414l38 0 44 4 138 18 38 3 31 2 44 1 50-3 38-5 63-15 44-15M3639 2285l69 12 88 10 44 4 69 1"/>
<path d="M1082 2146l25 1 25 5 41 13 50 22M3831 2385l48 1M1134 2192l56-3 38-5M1874 1236l47-121 19-46 23-53 19-40 19-36 19-32 18-28 15-18 18-20 14-11 19-9 14-3 14 0 14 3 19 9M2582 1333l47 83 66 121 37 64 28 45 24 35 32 45 29 34M1096 2207l31-1 31-3 26-4 32-7M3709 2330l53 0"/>
<path d="M3846 2421l44 14 26 6 26 5 45 5 51 1 57-3 39-5 102-17 71-10 38-3 39-2M647 2357l223 4 88-1M3569 2235l65 2 17-1M857 2357l107 0M3839 2388l59 1M1265 2093l23-1 57 2M2106 1403l22-16 40-32 27-24 17-18 49-57 63-80M2866 1263l31 61 40 83"/>
<path d="M1222 2403l36 9 31 5 37 4 26-1 26-5 26-7 36-17 26-16 21-15 21-19 31-34 26-34 26-39 21-36 26-51 21-45M2696 989l16 10 15 13 21 24 16 23 15 26 21 42 21 47 16 39M3310 2028l81 3M3432 2134l44 5M830 2340l30 2 26 3 21 5 51 13"/>
<path d="M2309 768l14-24 20-28 19-23 19-19 14-10 14-5 10-3 14-1 14 2 19 9 15 12 19 21 14 20 19 33 14 29 19 45 14 37M2818 1718l19 61 24 69 24 64 14 34 19 42 19 38 19 33 19 27 15 18 23 24 19 15 24 16 38 20 24 12 33 12 29 6M3456 2158l28-6 29-2M2317 1182l34 2 21-2 17-2 12-2M3379 2351l32 23 42 24 20 9 27 10 21 7 26 6 47 7 32 1 26 0 42-4 52-9M2980 1495l64 90 30 31 17 15 17 14 13 8 17 9 17 6 13 3 13 1 17-1 21-6"/>
<path d="M3633 2281l37 2M1108 2221l32 1 35 6M3301 2016l35 4 59 3M887 2382l34 0M3103 2134l28 41 22 31 22 29 17 19 22 24 28 26 38 30 23 14 22 13 39 17 16 5 23 5 27 4 34 2 16 0M1112 2175l35-2 53-5 45-6 24-6M3552 2224l64 1"/>
<path d="M1584 2197l41-10 27-9 23-12 18-11 18-14 9-9 27-33 23-31 18-30 22-43 14-29 23-53 22-59 23-63 45-136M2282 777l68-112 22-34 23-28 14-13 9-7 13-8 9-4 9-2 9 0 14 3 14 9 9 8 9 10 18 28 18 36 14 32 18 50 18 58 22 83M3410 2112l18 8 27 8 27 4 14 1M1112 2239l33-1 19-2M1893 1200l28-58 33-64 28-50 32-52 28-37 28-31 14-13 14-10 24-15M2519 1252l28 51 33 54 37 54 61 83 33 48 23 36 28 49 28 55 28 60 94 219 23 52 19 39 14 26 14 25 14 21 18 24 28 30 28 21 29 17 14 6 18 7 24 6 32 4 28 1M625 2341l25 1 31 2 24 3 31 6 55 13 86 25M1019 2426l25 3 30 3 31 0 25-2 43-8 37-11 30-11M3639 2283l62 4 67 1M1323 2379l14 0 14-1 9-2 18-7 19-11 13-11 9-8 19-20M2424 780l23-24 18-17 9-8 23-16 18-8 19-3 18 2 9 2 18 9 14 10 9 8 23 26 23 34 18 31 28 55 18 41 27 67 23 63 23 68M3118 2152l9 16 19 26 27 35 27 29 19 17 23 19 41 26 13 7 14 6 32 11 18 5 23 4"/>
<path d="M3339 2052l36 5M1011 2308l36-1M971 2317l37 0 24-2M3978 2408l129-3M916 2365l38-2M3048 1631l48 61 105 145 34 43 33 38 24 24 24 19 19 10 10 3 14 3"/>
<path d="M1069 2269l55-3M1217 2406l23-2 28-4 23-7 23-10M3442 2143l19 2M582 2367l47 2 36 5 41 8 76 17M2495 1234l82 136 47 71 24 32 23 30 24 26 29 31M3551 2226l30-2M1235 2158l27-4 17-4"/>
<path d="M1234 2073l66-4 39-4 49-7M2182 1287l44-15 35-12 13-6 39-18 49-26 57-28M3266 1971l13 6 35 11 44 12 48 10 44 6 26 2M608 2396l142 2 36-2 29-4 42-8 41-12 47-16 42-16M3173 2204l47 60 42 44 18 17 23 19 24 18 18 10 23 12 18 7 29 8 18 4 42 3 59-1M1132 2247l15-1M2276 777l15-9 32-16 14-5 43-10 65-6 19-1 14 1 14 3 14 4 19 9 19 12 23 22 14 17 14 19 19 28 28 49 14 28"/>
<path d="M945 2363l12 0M3879 2419l56 0 131-7 62-2M837 2381l92-2M3174 1852l14 13 20 16 19 12 19 8 34 8 19 2M1610 2169l9-9 19-22 32-41 28-42 24-38M2257 784l14-15 14-13 24-13 9-4 9-2 14 0 10 3 9 3 14 9 9 7 10 10M3693 2322l37-3 33-1M901 2350l70 0"/>
<path d="M1092 2272l23 0M2959 1940l25 53 10 20 15 27 20 33 15 23 25 35 30 37 15 17 25 26 15 12 25 18 41 22 40 19 25 10M3727 2339l25-4 25-1M1509 2273l23 6 23 3 14-1 23-5 19-9 19-14 18-19 19-24 14-21 14-24 27-55 38-83 65-152 14-31 23-47 32-57 65-99 28-46 23-45 24-52M2220 801l23-79 23-69 23-57 19-40 14-26 9-16 14-19 9-10 14-12 10-6 13-5 14 0 10 1 14 5 14 9 9 8 14 16 18 25 19 32 14 27 28 62 28 72 28 85 27 95M1039 2425l22 2 29 1 22-1 17-1 40-7 39-12M3650 2291l56 4 34 0"/>
<path d="M2881 1816l23 49 18 36 23 40 23 37 13 19 23 29 32 33 32 30M2986 1506l98 175 44 84 35 68M1190 2411l13 0 33-1 26-4 32-6 26-8 26-11 19-11 20-13 26-20M3802 2424l52 11 39 5 39 3 39-1 32-3 33-5 97-21 32-7 33-4 32-1M2357 763l15-15 12-9 16-8 12-5 19-4 12 0 16 2 15 6 16 9 12 9 12 11 11 13 32 41 16 25 19 33M3181 1861l23 9 24 4 20 1 15-1 28 4 27 1"/>
<path d="M3381 2085l30 9 25 3M2343 769l19-39 19-35 23-35 11-14 12-13 15-12 15-8 7-1 8-1 15 4 8 4 11 8 15 17 19 26 19 33 27 56 15 36 22 58 19 53M651 2407l21 0 37 3 105 14 48 4 26 1 21 0 21-2 21-3M2720 1553l24 57 34 73 35 66 39 69 39 60 24 34 20 23 24 28 20 18 9 8M3477 2172l25 0"/>
<path d="M1437 2319l27-10 27-15 27-19 14-12 27-27 22-26 9-11 28-40M2561 849l14 4 9 4 18 12 13 12M3796 2373l104-5 83-1M1021 2296l19-1 28-6 24-8 23-9M1239 2177l19-20 23-27 48-58 61-82 72-99 113-122 53-62 33-44M2666 1460l33 78 48 105 28 56 38 67 33 49 19 25 19 23 33 34 19 16 15 11M909 2255l32 2 37 7 38 11 64 22"/>
<path d="M511 2407l30 1 30 3 54 7 90 15 30 4 24 1 24 1 42-4 30-5 30-7M1286 2145l36-49 24-36 18-30 48-83 49-89 12-19 48-69 48-65 66-85 48-65 30-53 108-197 54-94 30-49 24-36 18-24 18-20M2434 1191l48 64 37 51 48 74 30 50 24 41 54 97 144 271 36 65 36 60 36 58 30 44 18 25 36 40 37 34 60 48 36 26 36 21 18 10 12 5 18 6 24 8 42 10M1123 2260l10 0M681 2332l42 2 48 6 43 8 78 18 48 9M2384 1175l36 17 24 10 12 3M1164 2414l29 4 38 5 23 2 24 0 10-1 28-4 19-5 14-5 15-6 14-8 24-16 14-11 14-13 19-20 24-29 14-20"/>
<path d="M2203 809l18-24 19-19 18-13 10-5 14-5 14-2 23 2 9 2 14 6 19 11M3409 2110l4 0M1640 2129l22-14 17-12 26-24 31-36 21-31 26-44 22-42 31-70 26-65M2421 775l17 1 22 4 17 6 18 9 21 13 22 16 22 19 17 18M1213 2190l9 0M1577 2208l10-9 23-25 14-18 19-29M2203 812l18-31 19-27 14-18 19-21 18-15 24-14 9-4 10-3 18-2 14 2 19 8 9 5 19 15 19 18 18 21 19 24 23 36M3440 2382l33 24 28 15 32 13 33 7 28 2 33-1 32-5 42-10"/>
<path d="M1330 2020l18-1 47-5 35-5M518 2400l34 2 40 6 35 8 103 26 34 7 35 6 40 4 40 3 28 1 52-1 57-5 35-5 28-5 58-14 103-30 46-12 46-9 103-15 28-7 18-5 17-8 23-12 28-25 12-12 17-21 23-34 17-31 12-22 23-52 22-59M2249 788l17-14 17-10 29-10 11-2 17 0 12 2 17 5 17 7M1054 2423l43 8 34 3 34 1 29-3 29-6 39-12 24-10 19-10 29-18M667 2403l29 1 34 4 116 20 40 5 29 2 29-1 28-4 23-4M1802 1390l46-125 46-117 23-52 23-48 29-51 18-26 11-14 17-19 18-15 17-11 17-7 12-4 23-2M2476 1217l87 176 23 45 34 61 18 28 23 35 29 39 28 37 70 83 23 28 34 46 35 48 69 103 34 50 29 36 29 32 40 43M3571 2238l41-3"/>
<path d="M3477 2175l19-1 24 0M2358 765l14-22 13-20 17-20 9-8 13-8 14-6 8 0 9 1 5 2 8 4 14 12 8 11 14 20 13 25 9 20 13 32 13 37M1358 2027l61-3M2260 785l12-10 16-11 20-10 21-5 12-1 12 2 16 5 20 12M3493 2185l101 48 68 35 50 28 82 46 37 20 32 15 18 8 32 11 25 7 25 5 31 4 19 1 44 0 100-7 44 0"/>
<path d="M3687 2322l64-7 37-3 21 0M1637 2131l12-7 35-26 24-20 18-18 12-13 24-30 30-44 18-30 18-34 30-64 24-56 41-110M3661 2429l30 7 24 5 30 2 41-1 30-3 24-3 131-25 36-4 36-1M3181 1862l23 7 19 2M850 2386l26 0 37-1M1669 2093l21-26 26-39 21-34M2403 770l11-7 21-11 21-7 15-1 11 1 16 4 10 5 16 9 10 8 16 15 16 17 26 35 32 51"/>
<path d="M1253 2032l39-4 30-5 35-10 30-11 21-10 13-7 52-31M958 2315l40-1 46-5M3805 2377l57 3M860 2336l24 0 29 2 63 8M2627 1397l34 61 43 75 39 61 33 49M743 2367l35 2 35 4 40 7 41 10M1027 2426l41 8 29 5 29 2 29 1 23-1 29-3 29-7 29-8 41-16 29-13 29-15 29-16 29-19 35-25 29-25 17-16M2368 766l29-14 47-15 11-1 12 1 11 2 12 4 12 7 11 9 12 12 11 14 12 17 12 20 11 23 12 26M3686 2318l23 1"/>
<path d="M3030 1592l13 15 12 12 16 13 20 13 12 6 16 6 13 2 20 2M1107 2079l30 1 24 2 97 11 24 1 36-2 24-4 13-3M1742 1506l60-132 61-122 30-56 18-31 12-20 24-34M2643 1420l115 267 42 92 31 60 36 66 24 41 30 46 19 25 30 37 18 19 30 28 109 78 55 34M3647 2426l37 10 42 8 36 5 49 5 30 1 30-1 43-3 48-6 42-8 91-20 36-6 37-5 30-1M1332 2085l16-4 16-4M3391 2096l29 4M1950 1633l30-31 26-29 13-17 30-42 35-56 26-50 22-44M3128 1782l39 37 44 34 30 20 22 12 34 26 35 21 31 16 39 14 17 5 30 7 26 3"/>
<path d="M2020 1007l19-32 23-36 19-24 19-19M2798 1681l28 59 19 36 18 32 33 49 19 22 23 25M1291 2388l33-6 28-9 23-11 11-6 16-12 23-17M1911 1702l22-23 23-18 22-16 56-34 22-16 28-27 22-29 12-17 16-31 17-35 11-26 28-76 39-122M2402 776l23-25 17-16 16-11 6-3 11-4 11-3 23 0 16 4 23 11 22 16 22 23 17 21 23 32 22 39 17 32 22 48 22 54 23 58M3760 2357l78 15 45 7 33 2 107 0M1871 1773l42-24 19-13 19-15 19-20 19-24 14-22 19-33 24-51 29-74 33-97M2398 767l14-10 24-13 19-7 9-3 10-2 18 1 15 2 19 8 19 12 14 13 14 15 14 18 19 28 15 24 9 17 24 48M1239 2099l27-3 22-4 27-8 26-9 18-9 18-10 13-9 18-13"/>
<path d="M3753 2352l43-3 37-1M1985 1057l15-51 17-57 15-41 17-46 18-39 18-33 14-20 14-17 15-11 14-8 10-1 7 0 8 2 14 6 18 14 14 14 21 26M1039 2248l44-4 43-7 57-18M3383 2089l38 6 29 3 39 3M578 2394l27 2 34 5 33 8 81 22 34 7 34 4 33 1 34-2 41-6 40-9M1913 1166l34-110 33-102 27-76 34-85 27-59 27-51 20-31 14-16 13-14 14-11 6-3 14-7 13-2 14 0 7 1 13 5 14 8 13 11 7 6 27 33 40 59 27 46M2918 1869l47 111 34 71 20 38 27 45 13 22 34 51 20 28 20 27 27 30 21 21 13 12 20 15 14 9 27 14 6 4 21 6 27 6 47 4 74 2 34 3 20 4 47 12 47 15 68 19 40 7 34 4 40-1 41-4 47-11 108-30 34-6 33-3"/>
<path d="M3301 2017l36 8M3611 2267l23 1M1751 1487l58-143 46-111 42-91 15-31 21-38 16-26 15-23 16-18 10-11 16-13 10-6 16-6 15-3M2307 1183l25 24 21 16 37 22 25 12 16 5 26 6 83 5M1839 1312l52-158 26-72 30-78 26-60 17-34 22-39 26-38 26-31 9-8 17-15 17-10 13-6 14-4 13-1 13 0 26 4 30 13 26 16M2988 1988l26 39 13 17 17 22 35 37"/>
<path d="M2467 794l40-67 10-15 25-33 14-14 10-7 10-5 10-3 10-1 10 3 10 4 5 3 15 14 10 12 10 14 15 26 20 43 25 64 25 75 30 100 30 107 20 76M3499 2398l30 9 19 5 30 4 45 6M3877 2396l25-2 25-1M1084 2248l28 0 32 3M3254 1955l56 29 18 9 27 11 33 10 18 3 28 2M3588 2250l108 4M1501 1919l26-44 36-57 25-38 31-43"/>
<path d="M1161 2224l19-2M2108 1402l33-43 85-119M898 2368l44 3M2034 990l29-86 20-53 25-61 20-43 24-45 10-15 15-18 10-10 10-9 15-8 10-3 9 0 10 2 10 4 15 9 15 12 25 27 24 32 30 42M2987 1988l15 35 25 55 20 38 29 53 25 38 25 35 19 25 25 26 25 20 20 13 34 17 25 8 20 4 39 6 69 2M983 2319l49-4M2056 959l19-70 16-51 23-67 20-48 20-41 15-27 12-16 8-9 16-13 15-7 8-2 12 1 16 7 7 6 8 7 16 18 27 42 24 44 16 34"/>
<path d="M947 2323l77-2M1953 1103l16-36 16-33 17-30 22-34 16-22 28-31 22-19 22-15M2656 1440l38 101 17 40 27 58 28 50 27 43 22 30 11 12 33 32 28 20M927 2348l22 0 22 1M3777 2365l35 3 30 1M2671 1468l30 65 30 61 20 38 21 34 20 32 25 36 25 31 15 16"/>
<path d="M600 2335l31 3 18 4 18 6 37 14 85 41 24 9 37 11 18 4 30 2 25-2 24-4M1226 2185l37-35 36-31 25-17 30-17M2685 1493l31 81 18 44 24 52 24 45 25 36 18 23 12 13 18 17 25 19 12 8M1227 2165l17-2 25-6M3285 1993l38 7 63 5M941 2354l25 0M2193 1274l56-22 31-11 99-31 62-18M3773 2426l31 5 19 1 24 1 38 0 37-3 111-13 37-2 38-1M2363 763l14-11 18-11 14-5 23-5 14 0 19 2 23 9 18 11 14 10 18 16 14 14 19 21 18 23 37 51M3594 2257l23-2 37-1"/>
<path d="M1801 1889l33-20 21-17 27-24 33-31 22-24 16-20 33-44 16-24 27-46 38-69 33-64 86-177 38-72 22-37M3071 1673l114 168 38 59 43 70M3754 2352l87 5 136 1M3801 2376l11 0M1427 1981l25-1M2402 768l8 0 16 2 16 5 20 11 12 10M3437 2379l21 17 22 13 42 22 22 8 16 5 21 4 27 4 21 1 32 1 37-3 32-5 48-10 48-13M3928 2403l37-2"/>
<path d="M689 2404l29 0 34 3 97 13 58 7 45 1 40-1M3410 2113l21 5 33 7 33 3M1097 2265l31-3M2297 1184l10 8 26 22 31 29 76 78 21 18 30 26 41 28 36 20 25 13 21 8 51 20M3140 1798l122 119 82 98 31 35 20 21 41 41 20 17 21 17 36 23 20 11 25 12 26 9 26 7 30 6 31 4 36 3M2141 1348l32-37 76-94M3954 2405l87-2"/>
<path d="M827 2359l89-1 51-3M609 2414l54 1 146 11 43 0 36-3M3650 2293l30 3 37 1M1053 2423l25 1 25-1 25-2 25-5M3277 1987l20 8 20 6 45 10 25 2 25 1M2639 1413l33 68 17 32 22 40 17 27 22 35 51 69M3588 2251l84 1"/>
<path d="M688 2411l42 1 125 6M1551 2236l29-15 36-22 24-18 24-21 12-11 29-32 36-43 24-31 35-51 48-75 95-163 119-210 36-61 41-66 54-80 36-48 41-51 24-27 30-32M2907 1346l59 95 78 128 77 110 42 61 101 153 23 40 30 45 36 48 30 36 17 19 30 27 48 38 30 20 53 30 42 19 29 11 24 7 18 5 12 2 18 2 24 2M1398 2041l5 0M2974 1967l13 31 19 38 27 47 32 46 41 49 22 23 14 12 23 18 22 15 37 20 27 13 27 10M3619 2272l36-7 27-4 37-2M1319 1972l34-3 47-9 26-6 34-11 29-8M1146 2416l26 0 20-2 20-5 21-7M2398 772l46-62 15-19 20-21 16-12 10-6 10-4 10-3 10 0 11 3 5 2 10 5 5 4 15 16 21 28 15 27 20 43 21 52 20 59 20 67 21 74"/>
<path d="M707 2366l51 0 128 6 51 1M427 2403l30 1 30 2 30 4 95 13 42 4 36 3 54 0 42-2 35-3 48-5M2505 1242l66 130 60 113 36 64 35 57 42 61 30 40 30 37 48 54 53 57M2406 770l34-5 19 0 19 4 11 5 12 6 18 13 19 19 19 24 15 23M1122 2221l32-2 42-9M2872 1804l37 69 21 35 27 38 21 28"/>
<path d="M1298 2121l22-3M1121 2106l21-1 21-2 21-5 37-10 16-5 21-9 26-13 26-15 37-25 42-32 42-37 32-30 31-25 26-23 37-36M3681 2315l42-10 26-5 32-4 26-1M961 2253l39-1 44-6 45-10 44-15 40-16 33-18 56-33 56-37M3710 2331l17 1 83 0M1393 2025l16-3 13-3M3482 2176l12 2"/>
<path d="M3072 1676l35 32 50 39 105 72 126 137 40 41 50 48 40 35 25 20 30 22 20 13 25 15 35 18 20 7 35 11 35 7 20 1M2042 972l35-75 18-34 17-30 18-27 12-15 11-14 18-16 11-10 18-8 18-4 11 1 12 2 12 5 23 16 12 10M3555 2410l29 11 47 14 40 10 30 5 29 3 29 3 35 1 47-2 46-5 59-9 99-21 35-7 41-5 41-2M3498 2188l23 2M1047 2278l37-1 31-5"/>
<path d="M788 2332l28 2 28 4 17 4 68 17 23 5M3600 2259l45-7 34-2M2149 1335l51 3 42-1 31-6 15-4 16-6 25-13 37-24 46-37 47-41M2784 1115l21 24 25 38 31 52 26 48 21 40 46 97 88 194 88 175M3662 2301l21 4 46 6 26 3 52 1M1222 2162l31-2 14-2M620 2406l30 0 36 3 138 18 42 4 36 2 36 0 54-2 60-4 60-7M3591 2253l36 8 36 5 24 1"/>
<path d="M892 2377l44-2M3278 1986l33 28 28 26 94 94M3588 2250l17 7 16 5 34 8 27 4 39 2M3740 2344l16 0M3577 2244l23 1M2164 832l21-31 13-17 13-13 13-12 13-10 13-8 13-6 13-3 9-1 26 2 9 2 13 4 13 6 13 9 13 10"/>
<path d="M3899 2400l20-1M1596 2185l10-3 14-6 18-12 9-7 19-17 9-10 14-17 18-25 14-21 10-16 18-33 19-35 37-80 23-56M2170 826l24-57 13-30 24-43 13-21 19-22 18-15 14-7 14-5 9-2 14 1 14 5 19 12 18 16 19 22 32 45 23 36 23 39M3205 2233l29 27 18 15 17 12 23 13M3639 2426l47 13 46 9 41 3 46 0 35-3 40-7 46-10 70-17 35-7 34-4 29-2M1050 2424l44 12 32 7 22 4 38 4 39 0 27-3 22-4 33-9 27-10 33-15 27-18 16-12 11-10 33-31 27-32 22-29M2650 912l22 25 22 32 21 39 17 34M3092 2118l27 53 33 57 33 50 11 14 27 34 28 28 32 29 28 19 16 9 22 10 22 8 27 6 27 3 28 0 38-4 38-7 55-13"/>
<path d="M1812 1369l57-138 52-118 24-48 23-46 29-48 14-21 24-32 19-21 24-22 14-11 14-8 19-7 20-2M1000 2323l20 0M3488 2182l39 1M3357 2065l19 2 62 3M943 2298l90-1 52-4"/>
<path d="M862 2370l33 1 43 4M2384 766l19-24 19-20 19-16 19-13 14-5 10-2 9 0 14 3 10 4 9 5 14 10 19 19 15 18 18 29 19 34 24 50 19 45 14 38M919 2340l30 1 29 3M3302 2017l19 1 69-4 34 1M2245 1218l26 4 37 11 31 11 47 20 84 38 78 38 37 20 31 19M3703 2327l32 5 26 2M814 2324l48 2 95 8 37 2M3434 2137l37 2 42 2"/>
<path d="M1055 2295l23 1M3397 2100l23 3 48 3M1213 2140l31 3 13 2 22 7M2278 779l13-19 18-21 17-18 9-7 13-9 13-5 9-2 13-1 13 3 13 6 22 15 9 7 13 14 13 16 13 20 18 29M1266 2126l15-3 12-5 20-10 16-11 15-13 12-12 20-22 20-25 23-34 28-44 16-27 75-116 145-211 107-181M2259 1208l24-4 31-9 28-11 20-10M3265 1971l15 3M2272 1194l37 25 103 78 55 38 30 19 158 87M3129 1782l31 29 36 31 43 30 24 16 85 73 322 264 55 41 24 15 24 15 37 18 30 13 43 14 36 7 37 4 42 2 158-1"/>
<path d="M777 2301l58 1 101 8 39 2 33 1 29-1M3209 1903l14 3 15 0M3625 2275l5 0M937 2359l22-1M2151 1332l47-30 134-92 37-22 26-12M3300 2014l48 39 42 31 54 31 26 13 43 16 48 14 37 7 32 4 26 2M1501 1917l115-176"/>
<path d="M1386 1996l25-2 15-2 20-6M2171 1303l20-21 35-43M3095 1722l40 55 30 44 30 47 29 52M3821 2383l44-5 60-3M1288 2014l49-1 22-1 35-4 27-5 17-4M2426 777l9 0 9 1 18 5 13 6 18 14M2872 1804l31 62 18 30 26 39 13 17 18 21M1377 1976l28-3 19-3 19-5 19-8 9-2M3708 2329l38 4 48 2M1903 1185l29-83 17-44 18-41 17-37 18-32 12-19 17-25 12-15 17-19 18-15 12-8 17-8 18-6 23-3 18 0M3137 2169l23 32 41 55 35 41 18 19 23 23 24 22 17 14 24 17 29 19 29 15 18 8 29 10 35 8 35 6 35 5 41 2 71 2 175 0 76-2 41-2 53-5 47-7 52-11 88-24 35-9 41-7 35-2"/>
<path d="M1221 2096l30-2 45-4 46-8 25-5M3275 1982l25 9 25 6 17 2M704 2402l28 1 27 2 134 21 33 4 28 2 56 0 55-6 39-6M1085 2192l33-3 29-3 38-9 34-9 33-12 43-19M3376 2081l39 12 38 10 33 6 43 4M1015 2299l53 2M2242 1224l42-31"/>
<path d="M927 2311l46-2 36-5 46-8 41-9M2381 1175l51 29 103 65M2737 1579l32 68 31 58 22 36 18 26 36 44M1193 2111l27-2 22-2 30-6 31-7 22-7 22-8 31-13M1273 2090l27-6 14-5 14-6 13-8 14-9 27-22 28-25 18-20 32-38 59-67 37-44"/>
<path d="M832 2383l82 1M909 2423l61 8 33 1 23 0 22-3 27-5 17-4M1413 2028l50-102 33-58 22-35 39-56 22-30 28-35 66-80 22-30M2603 1355l38 104 28 67 33 72 28 50 17 27 16 23 17 22 16 19 28 28 28 25 27 23M3944 2405l67-1M889 2386l19 0M3291 2003l25 4 40 3 64 2"/>
<path d="M3534 2406l28 13 28 10 28 7 29 4 39 1 17-2 45-7 28-6M3900 2400l28-2M965 2346l13 0M415 2417l33 0 41 3 40 3 134 16 61 3 40-1 34-3 40-8 34-9M1067 2301l41-39 33-35 61-68 128-147 40-43 40-39 34-30 20-16 67-34 27-15M1908 1700l14-7 33-20 41-30 27-22 26-25 48-47 33-38 27-32 81-104 74-98 27-34 33-40 27-29M3289 2001l14 7 32 13 13 4 28 6 45 8 32 3 68 5"/>
<path d="M841 2295l51-2 33-2 64-8 77-13 32-7 45-11M2411 1180l39 34 26 25 141 143M3705 2427l32 7 32 5 32 3 39 0 58-4 161-18 38-3 33-1M1297 1966l51-3 43-1 35 1 36 5M1704 2041l20-7 7-4 16-11 12-10 12-12 11-15 20-29 12-20 11-23 20-45 15-41 28-82M2150 843l19-34 20-26 20-19 11-8 8-4 16-5 15 0 8 1 20 8 19 12M3222 1918l27 13 23 7 24 5M1098 2236l42-4 36-6M2297 1186l48 44 132 139 67 63 60 52 24 18 36 26 72 49M3929 2412l36 3 42 1 169-4M3764 2426l29 6 29 4 29 2 35-1 52-5 116-18 46-5 35-1"/>
<path d="M2474 1215l64 89 52 70 32 39 53 61M3433 2136l63 7 101 5M1244 2153l31-1M3657 2298l133 5 66 1M3547 2220l86 2M1160 2205l38 2M3763 2359l64-6 53-2"/>
<path d="M1138 2216l17 1 29 6M1535 2252l12-7 29-21 30-24 11-11 12-12 23-27 30-38 29-44 23-37 35-61 35-67 36-75M3641 2426l41 11 29 7 24 4 29 3 29 2 41 0 47-5 29-5 35-8 88-23 35-7 29-5 30-1M3543 2218l21 0M659 2394l86-2 41-3 29-3 57-11 41-10 34-12 52-22 46-25 24-13 34-22 46-31 52-40 52-43 35-30 63-58 52-51 58-58 29-28M2246 1213l41 21 52 30 144 80 35 20 52 34 23 17 40 31 52 44M1319 2093l17-2 17-4"/>
<path d="M1173 2225l5 0M3712 2331l20 0M1124 2188l31-3 25-5 16-3 25-10 16-7 25-14 31-22 15-13 31-29 26-29 41-52 56-79 36-43 46-52 56-58M3313 2031l34-12 35-11 22-3 21-1M913 2324l43 1 48 5"/>
<path d="M1263 2119l58-3M3182 1865l40 25 40 22 107 89 44 34 18 12 27 15 27 12 22 7 13 2 18 2M793 2379l33-2 28-3 33-6 28-7 33-11 28-12 28-14 33-20 56-40 38-33 128-115 50-44 89-75 61-57 44-38 33-33M2185 1283l28-18 38-26 45-34 39-27M775 2394l47 1M2262 784l16-10 11-5 26-7"/>
<path d="M1955 1098l23-52 18-35 18-32 18-28 17-22 18-18 9-7 14-8 9-4 9-3M1801 1891l36-48 26-40 21-35 42-78 42-88M3612 2268l16 1M754 2385l81 3 60 1M2178 820l11-12 22-20 11-8 21-11 17-4 16-3 11 0 27 2M3599 2261l26-3 26-1"/>
<path d="M1881 1223l33-82 27-62 28-54 22-36 21-31 17-19 11-10 16-13 11-6 11-4 17-4M2494 1233l50 49M3111 1750l12 7 27 12 20 6 16 2 23 0 12-2 24-6 15-5 12 0M2134 1360l57-72 42-56M3647 2289l19 1M2998 1528l23 33 17 20 7 7 16 12"/>
<path d="M898 2384l17 0M2171 830l20-60 16-42 16-37 21-37 16-23 16-17 12-8 12-5 8-2 12-1 12 2 8 4 16 12 13 10 8 9 20 27 16 25 32 54 32 59M3353 2064l80-13 37-2M1348 1944l49-2 63 1 18 3M2228 1237l18-13 31-27M3505 2195l32 0 63-4 54 0M373 2404l30 0 36 3 130 16 54 5 59 1 54-2 53-5 48-7"/>
<path d="M1049 2262l31 1 21 3 21 4M3354 2338l16 13 26 17 21 11 26 11 21 7 36 8 31 3 16 0M2415 779l44-81 22-37 17-26 18-19 9-8 9-6 9-3 8-3 14 1 8 2 9 5 9 7 9 8 13 17 18 29 22 47 22 56 26 78 22 72 27 95 22 87M3055 2070l26 41 26 38 18 21 22 24 18 17 26 20 36 21 13 6M3518 2204l18-6 17-4 18-3 13 0M712 2407l34 1 35 4 35 5 115 20 35 4 34 3 41 1 29 0 58-5 40-5 46-8 46-10 35-10 46-17 41-20 34-23 12-8 23-20 29-27M1165 2214l30-2M3599 2258l35 5 20 1 81 4"/>
<path d="M3362 2342l26 20 20 13 16 8 20 9 16 5 25 6 42 5 20 1M922 2349l51-1M2386 1176l126 99 66 51M1028 2292l56 1M2123 1380l30-18 41-27 35-27 31-26 20-18 36-36 51-56M3553 2223l15 4 21 3 40 2M3916 2402l41-2"/>
<path d="M1435 1809l26-2 21 4 13 0 25-3 18-4 17-7 17-8 25-15M1854 1806l35 12 12 1 13 1 13-1 13-3 8-4 13-7 17-13 22-24 21-30 13-21 17-31 17-35 22-50 43-110 68-190 26-68M2475 798l9-5 17-9 8-3 17-3 17 0 18 5 12 6 13 9 17 16 18 19 12 17 17 27 18 29 34 66 38 85M836 2249l73-2 41-2 114-10 77-7 37-4M3004 2005l31 50 16 22 25 33 31 35 16 14 21 18M1943 1641l34-24 23-21 34-38 24-32 24-40 23-45 19-42 24-61M2329 766l24-61 19-42 15-26 9-16 10-13 9-11 19-18 15-8 9-3 14 0 5 1 10 4 9 5 19 15 24 29 19 29 10 16 24 46 28 61 34 79 33 87 29 80M3235 2253l29 36 24 26 19 16 24 17 24 13 28 12 29 7 33 3M1965 1607l90-110 133-153 64-72 90-97M2661 935l16 3 16 6 16 10 16 14 16 17 16 21 10 15 22 35 21 39 21 42 48 104 43 99 79 195"/>
<path d="M3283 1992l23 7 35 9 54 6M1144 2234l20-1M1242 1933l31 0 18 3 18 4 31 8 44 16 40 13 26 6M2272 781l14-18 9-10 15-13 14-9 14-8 15-4 14-1 14 1 15 3 14 6 24 13 19 13 14 11 14 14 15 16 14 19M3593 2254l24-1"/>
<path d="M972 2288l47 2 26 3 27 5M1344 2372l5-1 26-5 27-9 10-4 31-18 27-18 21-18 31-30 26-30M2250 792l21-53 15-35 27-50 15-25 16-19 10-10 11-9 10-5 11-3 16-1 15 5 21 12 21 21 11 13 10 15 21 37 26 56 26 66 21 60M2254 787l13-10 18-9 26-9 21-3 18 2 13 5M1708 1575l48-111 38-86 24-51 29-59 29-53 24-40 24-34 19-22M2191 812l18-11 13-6 9-3 13-2M3727 2338l17 0"/>
<path d="M729 2406l42 1 41 6 42 8 107 23 41 7 36 4 29 3 48 1 29-1 42-3 47-8 36-9 30-11 29-14 18-9 18-11 18-12 29-23 30-29 30-33M3671 2309l18 5 23 5 24 3 24 1M701 2394l44 1 57 3M1329 2379l25 1 25-1 19-4 19-5 19-7 19-9 18-12 13-10 19-16 12-12 32-35 25-34 19-29 37-64M3846 2389l63-3M3360 2069l50 2 27 3 40 1M1626 2148l24-25 19-24 28-41 24-41M2263 782l23-26 29-22 9-6 10-4 9-2 10-2 9 1 15 3 19 10 9 6 14 14 15 15 14 17M3431 2134l34 0 9 0"/>
<path d="M3127 2158l22 43 23 36 26 35 23 23 9 7 13 8 14 7 18 6 17 2 9 0 27-3M1818 1863l24-24 23-29 24-33 28-46 19-33 33-68 28-64 19-45M2323 764l10-17 23-38 19-26 14-17 10-9 14-12 14-10 14-8 10-4 9-3 14-1 10 1 9 3 14 6 10 5 9 7 19 17 14 16 10 12 14 20 19 31 18 36 24 49 28 69 24 66 24 72M1970 1077l19-38 18-34 19-31 18-27 19-24 23-26 28-26 23-17M2812 1705l32 78 33 69 32 60 28 44 13 20 14 17 23 25 28 23 19 13 18 11M1546 2240l24-14 17-12 18-15 17-16 30-33 23-32 24-38 23-44 35-75M3589 2415l36 11 29 5 12 1 40-1 18-1 29-4M3865 2396l52-16 41-10 41-6 35-3"/>
<path d="M1956 1622l31-38 31-43 45-70 22-39M2411 772l31-39 14-14 13-13 13-9 9-5 14-4 9-2 9 0 9 2 13 4 13 8 9 6 18 18 18 23 18 28 22 41 27 58 22 54 27 72 18 53M1786 1420l34-69M981 2334l15 0M1157 2153l38 0 72 5M3370 2075l52 4 63-5 38-5 34-2 14-1 33 0"/>
<path d="M562 2409l33 1 33 3 150 22 22 3 39 2 39 0 33-2 33-5 34-7M3290 2003l17 6 39 8 22 3 28 1M2124 874l11-38 16-45 15-39 15-34 16-27 15-22 16-16 7-5 8-4 4-1 12-2 11 1 8 3 11 7 16 13 11 11 8 9 16 19 15 21 27 41M1115 2189l70-1 45-4M3631 2280l45-1M2344 767l15-20 14-17 15-13 15-9 10-5 15-4 15 0 15 4 15 8 10 9 14 17 10 14 20 35 15 31 15 35M2800 1684l15 39 15 33 15 31 19 36 20 29 15 18 20 20 20 15"/>
<path d="M633 2409l33 1 38 4 142 21 33 4 27 1 33 0 33-3 27-4 27-7M1099 2176l67-5 33-5 23-6 19-5 19-7 29-13 23-12M3509 2197l10 1M1619 2157l12-10 16-14 20-21 16-18 20-28 16-24 28-48 17-32 20-45M2089 908l20-36 16-25 25-30 16-15 20-15 24-14 24-9 40-11 28-5 21-5 24-3 32-1 20 3 16 6 24 9 20 11 24 18 17 14 12 13M1221 2110l61-2 51-4M3405 2108l22 3"/>
<path d="M1435 2320l9-4 28-18M2406 773l24-16 19-9 14-4 14-1 14 2 9 3 15 7 9 7 9 8 10 10 14 18 9 13 19 30 24 45M3580 2244l27 0M1212 2406l41 3 33-2 23-3 23-4 23-7 32-14 33-19 23-16 42-35 41-42 37-44M3451 2151l5 0M939 2292l36 2 37 7 31 8M3571 2413l43 12 24 5 25 2 24 1 24-1 37-4 18-3M3882 2397l55-14 36-8 43-5 37-2"/>
<path d="M876 2363l42-1 46-5M3491 2184l26 0M749 2370l30 2 35 3 31 4 50 9M1835 1837l26-34 25-38 41-69 41-78 35-76M3115 1760l31 29 35 29 36 24 46 28 5 4 41 38 36 35 102 105 35 36 36 32 20 18 21 16 15 11 26 15 25 13 15 7 36 12 10 2 31 5 25 2M759 2338l95 0 47 0 27-2 52-6 43-9"/>
<path d="M3814 2379l34-6 25-2 44-3M2235 794l16-26 17-19 11-9 5-4 11-5 11-3 16 0 11 2 11 5 6 3 16 14 16 17M927 2290l61-3 38-5 61-13 22-7 33-11M3699 2325l44 2M807 2382l81-1 37-2M3270 2283l31 35 31 30 31 25 44 30 31 16 31 12 44 13 31 6 37 5 25 1 31 0 44-3 68-9 118-22 38-7 43-5 37-2"/>
<path d="M1070 2271l50-1M2019 1009l20-36 25-38 15-20 10-11 20-19M2757 1612l25 46 25 39M1693 2059l40-11 22-10 23-13 13-11 23-23 22-30 14-22 18-32 18-39 13-31 18-47 14-38 18-56 35-126M2209 809l18-32 13-20 18-23 18-17 14-10 27-16 13-5 14-3 18-1 18 3 18 7 18 12 22 17 18 18 18 21 18 26 18 30M2524 821l14-3 18-1 14 1 13 4 10 4 9 5 14 10 13 14 14 16 14 20 14 22 13 24 23 47 28 65M3706 2328l18-2 14-1M3902 2400l23 0"/>
<path d="M1310 1941l59-3 41-4 27-5 23-7 23-4 9-3 23-12M1841 1828l31-30 30-34 21-24 25-33 36-51 35-57 41-71 97-180 30-54 26-42M3078 1687l102 161 45 68 21 28 46 59 30 33 25 24 21 16 25 15 26 11 30 10 46 7 25 2 62 2M1022 2270l100 0M2245 1220l27-3 21 1 26 3 27 6 37 12 126 51 21 7 37 11M3575 2240l52 7 42 4 48 2M1799 1395l19-47 28-61 24-47 20-35"/>
<path d="M978 2331l26-1M2220 1243l125-48 37-11 31-4M3587 2252l32 3 26 2M1137 2418l46 5 32-1 18-2 23-3 32-10 42-16 27-15 28-17 27-19 28-20 18-15M2102 896l13-30 19-36 23-37 9-12 14-16 13-13 19-13 14-7 13-5 14-1 19 2 18 5 32 13 14 7 14 10M1119 2419l24 2 30 0 36-1 31-3 24-3 24-4 24-6 19-5 36-14 24-12 18-11 30-22 19-15 24-24 18-20M2129 1369l67-38 67-40 48-33 54-39 55-40M2698 994l18 3 19 8 12 8 18 17 18 22 18 26 18 28 25 41 30 56 42 84 49 101 78 170 37 68 48 95 42 88 49 106M3951 2405l49-1M690 2399l36 2 36 6 36 8 96 25 48 10 29 4 24 2 30 2 24 0 30-2 30-3 30-5 30-8 24-7 48-19 59-28M1528 2259l30-22 42-35 23-22 18-18 42-44 36-41 60-73 30-41 24-37 36-62 24-46 18-39 24-55 23-60 42-118M2700 993l12 15 12 17 24 40M3621 2278l48-18 24-7 24-5 30-2"/>
<path d="M3703 2427l39 10 40 7 39 2 40-1 28-2 28-4 40-7 73-15 34-6 34-3 34-2M983 2314l51 1M1964 1088l25-69 28-72 24-54 28-57 12-22 17-26 28-40 16-19 12-13 20-17 25-16 16-7 12-4 12-2 8 0 12 1 12 3 13 5 8 4 28 18 8 6 24 22 20 23 13 16M3350 2060l8 0M3363 2071l28 7 32 5"/>
<path d="M926 2277l21 1 42 5 21 4 58 14M3585 2248l25 7 15 2 35 3M2295 1188l37 14 68 33 80 41 105 59M3213 1905l21 19 26 22 37 33 42 34 32 23 90 61 131 86 58 34 32 15 26 11 27 9 26 6 27 4 26 2M2688 974l13 9 9 7 17 18 17 23 18 26 13 23 21 41 22 47 17 41"/>
<path d="M1612 2166l24-16 19-16 19-18 29-35 24-33 24-40 24-43 25-49 33-76M3632 2280l29 0M3398 2101l29 3M1034 2196l34-1 106 4 34 0M2269 1199l68 15 140 20 29 7M3441 2144l29 4 29 1M1245 2152l36-3"/>
<path d="M3756 2355l20 1M3145 2178l20 25 21 23 35 32 15 12 21 13 20 12 20 9M2170 827l15-19 14-15 20-16 19-10 15-5 14-1 15 1 9 2 10 4M2573 1314l24 72 29 83 20 54 29 73 19 45 24 51 20 37 19 33 24 36 20 24 24 25 15 12 19 14 24 14 25 10 33 9M3494 2188l88-20 14-2 34-2M2257 788l12-18 13-16 8-9 21-17 13-8 8-3 9-3 8 0 8 0 13 4 8 4 13 8 13 11 12 14 25 32M3341 2053l16 3"/>
<path d="M2439 783l12 2 13 5 4 3M1253 2043l31-4 26-6 31-10 26-10 22-11 40-23 52-37M1349 2023l39-3 39-9M2330 1178l51 39 28 18 22 12 22 9 28 8 28 6 33 4M3781 2366l33 9 34 6 33 3 39 2 73-3 145-14 61-2M1953 1103l19-52 22-59 23-55 18-39 23-44 13-23 18-27 18-22 19-16 18-12 9-4 9-3 13-1 10 1 9 3 18 9 22 18 14 14M2456 1204l32 72 45 93 28 48 31 48 18 25 19 21 36 37 59 51 50 37"/>
<path d="M2384 1176l58 58 54 44 29 20 34 21 24 13M3561 2231l78 2M890 2352l79-1M1697 2049l18-13 30-24 24-21 19-18 18-20 18-23 24-35 24-42 18-35 31-67 18-44 18-48 36-103M3857 2421l18 3 24 2 18 1 24-1 37-3 109-15 30-3 24-1M823 2392l16 0M2063 943l27-43 16-22 16-20 11-12 16-16 17-15 16-12 16-11 16-8 32-12 27-6 33 0"/>
<path d="M1173 2413l41 2 31 0 20-2 31-6 36-11 36-16 36-21 26-18 20-17 26-23 15-15M1804 1884l67-78 36-44 31-42 26-39 15-25 21-37 36-70 25-55 31-70M2524 821l10 1 10 2 16 5 15 8 10 6 21 16 15 14 16 17 25 32 31 43 41 66 36 64M3046 1625l70 117 64 102 41 62 46 66M3609 2266l29 9 41 10 75 12 76 6 35 2 110 2M1094 2269l24 0M2210 804l14-8 10-4 10-3"/>
<path d="M1647 2121l33-40 33-46 28-43 29-49M3439 2141l19 0 19-1 94-12 52-2M2319 764l17-29 18-25 17-21 13-12 13-9 18-7 17-2 9 1 9 3 17 10 9 8 13 15 13 18 22 40 13 28 18 42 13 34M1038 2267l33-3 24-4 42-13 19-8M2286 1190l19 9 14 5 15 3 19 1 14-2 19-5 19-7 23-10M1592 2190l9-7 24-22 18-20 14-18 29-41 14-24 23-44M2356 763l33-92 24-61 28-67 19-37 9-14 9-12 10-8 9-7 9-4 10 0 9 3 10 5 9 9 9 13 10 14 9 18 10 20 14 35 18 55 24 78 23 90 28 119 19 89M3004 2008l14 19 37 44M3412 2114l28-22 28-16 19-8 14-3 14-1"/>
<path d="M2411 773l28-24 15-12 16-9 16-7 15-4 12-1 8 1 12 3 15 6 16 13 16 17 15 22 16 26 16 31 15 35 16 39 16 44M1088 2236l74-1M1562 1830l65-122 54-100 64-126 25-46 29-54 35-60M3128 2162l35 52 34 45 35 38 20 18 19 16 15 10 20 11 20 9 20 7 34 8 15 3 44 3M2219 802l10-8 15-8 10-3 14-2M1335 2039l47-4 19-3 15-4"/>
<path d="M783 2326l38 1 38 6 50 10 54 14M3576 2242l6 0M1370 1981l20-4 20-7 7-3 16-10 16-12 36-29 11-12 28-28 36-42M2213 804l25-22 15-9 20-10 10-3 15-2 15-1 19 1 10 3M2866 1795l30 65 35 70 25 46 29 47 20 27 10 12 25 26 20 18 15 13 35 24M3728 2339l80-11 35-4 25-1M712 2403l29 1 34 2 121 16 38 3 20 0M1669 1648l58-114"/>
<path d="M3595 2256l20-4 96-22 35-5 36-2M1200 2177l40-1M2511 1247l45 69 30 42 30 37 35 38M1348 2090l63-90 21-28 27-34 36-37 53-47M2637 1410l21 48 21 42 10 19 21 32 16 20 16 18M961 2309l35 0 42 4M2448 1198l17 17 36 32 47 40M3816 2380l59 3 113 1"/>
<path d="M3630 2278l34 2 39-2 29-5 68-14 34-6 28-3 17-1M3826 2383l16 0M2439 785l9-6 13-5 14-3 9 0 13 1 13 5 9 5 18 13 18 18 22 30 17 29M1741 1512l74-237 30-90 22-61 17-45 22-51 26-54 22-40 21-33 22-24 9-8 13-10 9-6 13-6 21-7 9 0 13 0 9 2 13 4 30 13M2453 1202l65 141 26 55 31 60 34 63 18 28 26 38 22 26 13 14 30 26 13 10 30 19 31 16 21 9"/>
<path d="M1907 1707l58-75 29-43 49-79 43-79M2400 769l10-9 9-6 15-9 9-4 15-3 10 1 14 3 5 2 10 6 9 8 10 9 14 18 10 13 15 22 24 44M2269 782l67-99 19-26 14-17 20-18 14-9 14-4 15-1 4 1 5 1 10 5 9 7 10 10 14 20 15 26 14 32 14 37 19 57 15 49M3221 2243l29 41 19 23 10 10 19 18 19 14 24 14 19 8 9 2 29 4 19 1 15-1M3700 2325l14 0M2604 880l13-6 16-5 12-1 8 1 17 4 20 13 16 14 21 25 20 30 20 36 17 32 32 72 49 118 94 240M3626 2276l45 11 50 10 29 3 40 2"/>
<path d="M1160 2186l67-1M1855 1804l39-58 51-82 39-71 28-55 11-24M2388 768l11-5 11-3 23-3 11-1 11 1 17 3 11 4 17 8 11 6 17 11 33 29 17 17 12 13 28 35M3873 2395l101-5 50-2M1319 2097l24-2M2121 1380l20-7 40-13 16-7 20-10 28-20 28-27 16-19 16-20 28-41 28-45M2618 883l12 1 8 1 24 10 16 9 8 5 20 17 25 26 20 26 24 35 24 40 28 51 36 70 16 33 40 88 44 104 76 195 37 88M3767 2361l33-3 32-1M952 2311l23 1 17 1 35 6M2109 884l17-30 18-25 17-19 17-14 18-9 11-3 6-1 6 0 12 1 17 5M3868 2395l40-1"/>
<path d="M1215 2406l13 0 23-1 23-2 27-4 37-9 27-9 19-9 18-10 27-20 23-20 32-32M2421 777l18-9 18-6 19-3 13 0 19 2 9 3 14 6 18 10 27 24 14 15 18 24 28 41 27 49M2550 841l14 6 9 6 19 15 9 9M2490 804l16-22 16-17 12-9 12-6 8-1 8 0 9 2 12 6 12 9 16 19 12 18 12 20 12 24 16 36 17 39 16 44 16 46M1534 2254l42-33 28-25 55-53 56-55 56-58 28-31 37-47 24-34 23-35 23-39 37-69 24-48 28-62 23-57 28-73 37-103M2483 799l33-11 32-14 33-13 23-6 19 0 9 1 14 5 19 10 9 7 14 13 14 16 9 12 10 13 14 24 18 36 19 42 19 47 37 101 84 247 37 105M3745 2349l14-2 32-3"/>
<path d="M2876 1812l14 25 28 48 27 41 19 23M3872 2420l56 0 63-2 130-10 69-2M2433 780l13-6 23-7 27-3 14 0 14 3 9 3 18 9 9 7 14 11 13 15 14 17 23 34 13 24 14 28M1322 2021l28-4 19-5 14-5 24-12 14-8 24-17 42-35M3599 2258l56-5 76-2"/>
<path d="M1957 1095l24-55 19-39 29-50 19-28 10-12 14-16 20-17 19-12 10-4 14-3M3240 2259l24 29 19 20 19 18 24 17 20 11 24 11 28 8 34 5M1301 2069l12-1 21-5 28-9 16-8 17-9 24-17M1744 1501l106-255 41-95 40-88 21-40 16-28 20-33 16-22 21-23 20-18 20-11 13-4 8-1 8 0 16 3M2338 1176l40 70 21 32 20 30 16 21 12 14 17 17 12 11 16 12 29 16 16 6 36 12 21 6 32 8 16 6 17 7M3736 2341l20 6 30 7 65 10 55 4 44 2M970 2261l44-3 44-7 49-14 25-9 24-11 30-15 24-14 39-27 44-36 44-40 49-52 40-46 34-45 49-62 39-53 54-81 54-86 25-42 58-107M2264 1204l24 8 30 11 29 12 54 28 49 28 54 33 78 53 34 25 30 24"/>
<path d="M978 2427l42 5 32 2 31 0 37-2 47-7 48-11 31-9 48-18M1987 1051l32-76 16-34 21-41 21-37 16-23 15-19 11-11 16-11 15-8 11-2 16 0 10 3 5 1 11 6 10 8M2424 1182l15 25 6 7 15 18 16 14 21 13 21 5 11 0M3380 2086l45 3 36 1M2093 904l31-40 23-25 18-16 22-16 14-7 13-4 13-2 9-1M2514 1248l36 79 18 36 27 50 32 51 31 47 13 19 54 71 63 81 49 66M732 2397l22 1 23 2M867 2420l51 13 40 7 39 4 28 0 34-2 40-7 40-10 45-14M1421 2329l40-22 28-21 34-28 45-46 51-57 68-81 68-84 39-53 17-23 34-52 107-180 46-73 50-79 40-58 40-64 39-70 17-33 23-47M2438 786l23-26 23-21 17-11 16-7 12-3 17-1 11 2 11 3 12 6 11 7 11 9 12 11 22 27 23 33 28 49 23 44 17 36 33 77 34 84 40 102"/>
<path d="M2518 1253l21 48 35 69 27 46 17 27 18 23 26 29 17 16 27 18M3182 1863l18 17 30 23 13 7 44 22 22 10 18 6 21 5 31 4M855 2296l29 2 30 5 29 7 65 20M2081 921l12-27 17-36 12-23 18-30 11-18 12-15 12-13 17-15 12-7 12-5 11-2 12 1 6 1 12 5 12 7 11 9 18 19M2497 1228l30 71 23 51 18 32 23 37 12 15 12 14 17 17 18 13 11 7 12 6 18 7M3752 2351l47-9 29-3 24-2M3570 2235l28 2M1105 2219l31-2 31-7 36-14 36-20"/>
<path d="M3719 2334l47 10 48 7 41 5 59 2M1172 2217l18-3M2405 1178l42 67 57 85 23 32 23 29 38 41 32 31 24 22 70 58M3452 2151l47 4 61 2M1086 2203l10 0 30-4 40-7 45-12 45-15M3550 2222l45 12 25 4 30 3M1883 1755l54-50 24-25 30-33 36-43 115-145 42-50 30-33 42-43 30-28 25-22 114-98M2684 974l6-1 12-1 18 3 12 5 6 4 18 15 18 20 18 25 19 28 24 42 30 58 24 51 24 55 48 116 78 197 61 139M3925 2403l54-9 60-7 43-4 36-1"/>
<path d="M2296 1189l40 3 51 7 31 3 35 0M3253 1957l36 24 20 12 21 11 25 11 26 9 25 7 36 6 20 1M2077 930l42-117 23-57 18-42 19-35 14-22 19-23 9-9 9-7 10-4 9-2 9 0 5 1 9 4 10 5 13 13 19 24 14 21 19 35 23 50M3380 2352l19 14 23 15 14 7 24 10 14 4 27 5 19 2 28-1M3767 2360l37-2M1170 2414l43-1 43-3 32-6 26-7 22-9 32-16 32-22 27-24M2271 780l21-23 22-22 10-9 16-12 16-8 11-4 11-2 16 1 16 4 16 8 10 6 16 13 11 11 16 20 16 23 16 27M1315 2116l5 0M3700 2426l40 10 44 6 45 4 45 0 39-2 34-4 117-21 40-5 39-4 33-1"/>
<path d="M3293 2008l23 3 33 3 23 0 61-2 51 1M756 2376l49-1 56-3 49-6 49-8M2118 874l25-34 18-21 12-13 13-11 18-12 12-7 13-5 12-3 12 0 12 2 19 6M2535 1270l37 97 25 59 18 42 19 39 18 36 18 33 19 30 37 53 36 49 19 22 61 71 49 51 37 34M2509 814l18-10 9-3 14-4 13-1 19 1 9 3 13 6 19 13 13 14 14 16 14 19 18 30 14 27 18 39 14 33 13 36 19 52M2277 1192l9 6 22 12 18 8 17 6 18 1 13-1 14-4 8-4 14-8 9-6 17-17M2675 956l13 9 9 7 14 14 13 18 18 28 13 24 13 26 18 37"/>
<path d="M2107 1403l41-13 36-14 45-20 46-25 46-30 25-20 31-23 41-35 30-24M3532 2211l31 4 40 3M1180 2122l38-2 34-4 82-14M2069 934l15-25 19-30 19-24 19-21 15-12 19-11 19-7 10-1 9 0M932 2264l123-1 77-2M2580 1330l35 70 30 52 23 38 18 26 35 45 12 14M3653 2296l35 4 112 10 70 3 59 1M647 2406l33 0 88 6 55 2"/>
<path d="M1088 2245l40-2 30-3M3535 2214l64-2 25 1M3228 1925l22 10 30 12 37 13 37 9 19 4 30 3M2158 1321l44-48 37-48M3696 2323l54 1M1091 2225l37 1 42 3M3675 2310l52-9 21-2 27-1"/>
<path d="M1408 2339l9-2 23-7 23-9 28-16 28-21 23-22 23-27 23-31 23-37M3510 2197l23 7 24 5 23 3 23 1M855 2362l41 2 24 4 23 4M1103 2419l36 11 41 9 24 3 35 2 30 0 29-4 30-7 18-6 35-16 12-7 30-21 23-21 24-26 18-21 23-33 18-27M3736 2343l89-7 53-1M1009 2427l35 3 23 0 29 0 17-1 35-4 23-5 29-8 29-9M2216 1248l35-21 69-46M2794 1131l23 28 29 42 34 57 35 63 58 115 69 151 121 249M3666 2306l104-2M1054 2202l58 0 57 2 33-2M1837 1835l53-29 33-22 24-19 24-24 14-17 19-26 20-29 19-33 14-27 29-60 43-100 47-115 38-86M2673 948l9 3 10 6 9 6 15 13 19 21 19 27 24 41 24 49 28 66 24 60M3456 2154l38 1"/>
<path d="M1001 2275l66-4 26-3 36-6M2115 1390l66-12 31-3 46-9 21-5 41-15 31-13 51-29 57-35 46-28M3578 2242l25 3 21 1M3641 2286l18-5 18-5 14-2 23-1M1300 2386l36-6 36-9 31-11 20-10 11-6 36-25 25-22 26-26 36-41M1938 1130l31-107 31-100 31-93 26-70 20-51 21-42 10-18 10-15 16-17 5-5 10-6 11-3 10-1 5 1 10 5 5 4 11 9 15 19 21 35 20 41 31 67M3251 2267l31 31 31 27 21 15 25 16 26 13 15 6 21 6 15 3 16 2M1916 1692l15-21 25-40 36-63 20-37M3479 2177l60-2 50 0"/>
<path d="M1265 2140l16-1 17-2M2186 1281l27 1 21-1 27-6 22-8 10-5 22-12 32-21 65-50M3984 2407l32 0M1386 2032l27-2M2188 817l17-24 14-15 17-15 14-7 17-5 18 0 9 3 22 10M642 2386l29 1 34 2 41 4 46 5M2597 1350l34 82 29 65 29 57 28 49 29 43 23 29 29 30 17 15 12 9M3459 2157l29 9 29 7 28 5 35 3M1232 2176l8 0M1533 2253l17-2 9-2 13-5 8-5 22-15 21-21 22-30 17-29 13-24 13-26 17-40 17-43M2454 791l13-5 9-2 17-1 17 3 9 3 8 5 9 5 8 7 13 13 18 22 21 34"/>
<path d="M3776 2364l58 1 78-1M1918 1160l27-58 27-53 27-47 18-27 31-41 13-14 23-19 18-12 9-5M3266 1972l21 11 25 9 26 6 30 5M3796 2374l10 0"/>
<path d="M834 2344l82 3 55 6M2305 767l13-22 22-30 18-19 18-14 13-7 9-4 9-2 22 1 18 5 9 4 13 9 13 11 18 19 18 23 13 20 18 29 26 49 18 35M1032 2214l49 3 59 7 34 5M3291 2006l98 30 59 14 44 6 39 2M1334 2076l20-3 26-7M2545 1282l21 38 15 26 30 47 31 42 30 35M3873 2395l62 1"/>
<path d="M3662 2301l37 16 33 11 21 6 27 5 16 3 43 3 87 2M1757 1475l55-114 44-87M2247 1218l45 48 25 25 34 33 30 24 25 14 15 7 20 6 19 4 15 1 30-2 15-2 20-6 59-20M2296 771l24-24 9-7 10-5 9-5 10-3 14-1 10 0 14 4 10 4 9 5 20 12 14 11 10 10 24 27M1184 2171l36-7 29-8 24-10 25-14 12-8"/>
<path d="M749 2397l60 0M3497 2188l28 5 27 2M2521 1255l37 61 93 160 51 82 18 29 42 60 23 32 46 59M3299 2017l46-9 41-9 33-6 42-4 32 0M742 2353l43 1 48 4 43 6 67 10M3759 2357l49-2 36 0M716 2393l58-2 58-3 58-8 59-12M1378 2066l42-46M2008 1537l95-44 47-24 27-15 37-26 37-32 42-43 143-163"/>
<path d="M722 2407l37 2 43 4 61 11 74 14 43 6 49 4 44 0 30-3 25-3 43-9 37-10 37-13 25-9 43-19M3757 2356l68-5 43-2M856 2366l91 3M1072 2254l33 1 29 3M1985 1056l24-50 24-44 25-39 24-33 28-31 20-16 24-15 14-5 10-3M2548 1286l24 39 24 35 39 48M1028 2280l34 0 43 2"/>
<path d="M843 2380l82 1M1985 1058l26-53 25-49 36-62 21-32 26-36 20-25 21-20 26-20 15-9 21-8 15-2 10-1 16 2 10 3 16 6 25 14M991 2427l28 5 38 4 28 1 14-1 24-3 23-6 19-7 19-9M826 2343l28 0 39 2 74 9M3223 2246l22 26 17 18 23 20 22 16 23 13 28 13 23 8 28 7M2705 999l13 16 17 24 25 41M3640 2284l12 0"/>
<path d="M702 2361l256 2M2779 1647l28 56 34 65 29 52 28 49 29 44 22 32 23 29 23 23M1113 2206l22-2 22-3 27-7 22-8 27-12 32-19 43-29M2181 1286l81-36 60-25 54-22 49-17M916 2334l83 0M3910 2402l36-3 30-1M3733 2342l73-7 36-2"/>
<path d="M2277 778l14-11 17-10 18-8 13-2 18 0 13 3 23 10 17 11M3416 2122l17-5 18-3 18-2 13-1M1236 2148l26 0 17 3M812 2325l52 2 75 7 52 4M2094 902l12-16 12-14 11-13 17-14M2534 1269l34 54 35 50 35 46 17 21M3602 2264l104-9 58-2M1389 2350l24-7 24-8 29-13 28-17 24-18 24-22 19-22 24-33 24-39M3372 2079l62-28 33-13 33-8 15-3 19-1"/>
<path d="M1093 2261l39-2M1539 1863l85-166 54-105 65-135 60-116 34-62 35-58 35-51 15-18M3824 2423l27 4 39 4 28 1 27-1 50-4 127-17 33-2 28-1M1125 2218l66-3M1194 2206l5 0"/>
<path d="M1837 1834l103-134 18-25 17-27 26-44 26-50 21-46 26-60M2389 769l17-17 43-36 17-12 18-9 17-6 13-2 13-1 21 3 13 5 17 9 18 14 17 17 30 40 22 36 21 42 26 57 26 64 30 83 26 78M3445 2145l34-9 39-7 26-4 30-1M1528 1884l34-80 76-187 43-99 51-135 42-105 26-59 17-36 17-34 21-39 21-34 26-35 25-29 9-8 13-10 12-8 9-3 8-2 9 0 8 1 9 3 13 9 8 7M801 2376l133 1M1271 2391l37-3 30-4 22-5 29-9 15-6 29-14 22-12 22-15 22-16 15-12 29-30 22-25 22-27 15-20 22-34 22-38M3732 2426l36 10 52 12 36 6 37 4 66 5 37 2 117 0 74-4 66-7 66-10 103-20 44-7 44-6 44-2M1119 2241l40 0M2282 1193l11 5 23 12 34 23 29 23 29 25 68 57 23 17 23 15 29 16 34 14 23 8 35 7M3874 2396l86 2 86 0"/>
<path d="M1025 2301l32 2M2066 939l21-35 13-17 17-21 17-17 13-10 8-6 13-6M2367 1174l48 46 147 146 44 43 62 55M3120 1766l71 82 40 42 31 32 13 15 18 19 31 31 26 22 14 10 26 17 27 15 17 8 23 7 22 6 22 4 13 2M1683 2072l23-27 28-39 14-22 18-32 18-35M2301 767l23-26 13-12 14-10 14-6 18-5 10-1 9 0 9 0 37 7 9 4 19 10 18 13 19 17 18 21 18 25 19 30 18 33"/>
<path d="M1147 2037l44-3 27-3 158-32 11-2 60-14M1922 1679l16-13 22-22 16-20 11-16 22-35 22-42 16-36 16-39M2281 780l28-64 16-34 16-28 22-32 11-11 11-9 16-9 6-1 11-1 16 2 6 2 10 6 17 13 16 20 11 16 11 18 16 32 22 49 22 57 22 65M2849 1765l32 80 27 59 39 69 21 34 28 33 32 33 82 69M3356 2339l27 18 22 14 49 27 32 15 28 11 27 9 38 9 22 3 22 2 27 1 22-1 22-3 27-4 33-7 32-8M3906 2401l28-1M756 2317l48-3 33-4 42-8 49-12 42-14 81-30 43-19 48-24 59-32 42-25 91-59 75-54M2266 1204l37 19 32 20 38 25 27 17 26 16 33 17 48 21 43 17 42 15 27 11M954 2347l22-1M2377 771l21-35 13-19 25-31 13-11 8-6 9-4 12-4 13 0 8 2 9 4 8 5 9 7 17 18 12 18 17 28 13 25 21 46 17 42 17 45M3331 2048l21-2 47-1"/>
<path d="M3105 2137l35 43 22 22 13 12 22 17 30 18M1505 1830l9 0 13-1 9-3 13-6 22-15 18-18M1487 2290l18-6 32-13 27-13 27-17 23-17 9-9 14-13 23-27 18-25 13-21 19-33 18-36 27-63 18-46 14-38M2201 811l19-20 13-13 19-13 18-9 9-3 14-2 22 0 14 3 18 8M3526 2209l51-4 31-1M682 2405l31 1 43 3 74 9 37 3M3746 2351l25-5 25-4 24-2 19 0"/>
<path d="M946 2272l59-1 90 2 21-1M2173 1298l42-17 27-8 16-4 32-5 26-2 21 0 22 1 26 5 21 6 27 10 32 15 21 11 37 23 32 21 80 55M3251 1953l47 39 27 20 21 15 43 26 21 11 32 15 26 10 27 9 21 6 32 7 58 10 54 5M1714 1562l32-71 27-58 28-53 28-45M2251 1215l39-7 20-5 40-16 27-13M1731 2003l31-36 28-40 16-25 76-132 23-39 12-18 20-27 24-30 56-61 20-24 11-16 24-37 20-37 20-45 20-51 16-47M2335 765l19-35 20-28 20-20 8-6 16-9 12-6 8-2 12-2 12 0 12 2 11 4 12 5 12 8 24 19 24 25 28 37 32 50 23 42 40 80 28 60 24 55M3185 1868l19 1 20-2 19-5 20-8 43-4 43-2 39 2"/>
<path d="M639 2398l97-1 84-6 61-8 60-11M2200 1264l54 3 36 4 25 5 115 25 96 17 55 8M3712 2332l18 0M1040 2305l15 0M2224 801l24-25 15-12 20-12 9-4 15-4 20-3 10 0 9 2 20 9 19 13M2346 761l9-6 17-10 12-6 17-4 34-1 12 1 21 5 17 7 21 11 8 6 21 16 21 19 34 37 17 22 25 36M2522 820l72 22 25 10 21 12 13 9 17 16 13 14 17 22 17 27 25 48 30 68 29 79M3241 1943l8 0"/>
<path d="M676 2386l38 0 38 1 82 6M1184 2213l9 0M1263 2064l42-1 26-2 41-4 21-4M2441 1194l31 38 26 25 15 12 16 10 26 12M3888 2398l26 0M3951 2405l34-1"/>
<path d="M3724 2337l11 0M1180 2212l15 0M951 2314l34 1 45 4M3424 2128l20 4 19 2M1185 2131l47 1 70 2M1894 1734l29-36 23-31 18-25 17-27 41-67 24-42 35-67M3744 2425l35 10 35 7 35 4 41 0 41-3 24-3 117-22 41-7 35-3 29-2"/>
<path d="M1455 2306l40-9 35-10 18-6 39-17 26-15 27-18 17-14 18-16 22-24 22-28 13-17 17-27 22-38 22-43 18-38 26-64 27-70 26-78 26-84M2772 1096l27 32 21 32 27 43 26 49 26 54 22 49 22 52 31 77M3540 2214l9 0M2971 1963l13 22 17 27 26 36 18 21 39 41M1114 2208l81 1M1362 2017l60 0"/>
<path d="M779 2366l30-2 25-3 40-9 30-8 25-9 30-13 25-13 25-15 40-29 35-28 30-25 125-111 80-66 106-82 35-28 30-20 20-15 30-25M2305 1185l20 10 20 13 25 20 26 21 40 37 95 93 40 35 50 37 35 22 30 17M3326 2044l11 1M1240 2024l27 3 22 7 13 6 22 12 22 15 17 14M2079 922l22-42 18-31 18-27 17-24 18-21 17-17 18-13 17-11 22-9 9-2 18-3 13 1 26 3 14 4 17 6 26 16 18 14M953 2286l27 1 38 2 59 8M2360 1172l32 25 81 68 43 33 43 31 38 22M3627 2276l43 6 37 2M1896 1196l33-84 24-52 29-54 28-45 19-25 10-11 14-15 15-13 14-10 14-9 15-8 19-8M2621 1388l38 65 28 44"/>
<path d="M1126 2208l31 1 36 4M1297 2386l20-2 14-2 25-8 19-9 15-9 25-17 24-21M1162 2414l21 0 22-2 31-5 32-11 21-9M3600 2259l90 0M1001 2276l21-1 21-3 26-6 27-9 15-6 32-15 32-17 26-15"/>
<path d="M1253 2162l9 0M2358 766l9-10 14-13 13-10 9-5 13-5 13-2 13 1 9 3 9 4 9 6 13 14 9 11 17 26 9 16 13 27M3485 2179l18 2M1361 2043l46-6M3561 2229l14 2 37 4 101 4M2310 763l22-37 30-42 13-15 13-13 13-11 8-6 26-14 13-4 13-2 8 0 13 3 13 5 9 4 13 9 8 8 26 29 22 30 26 45 25 52 26 59 26 66 21 60M1114 2146l35-2 44-3 30-5 30-7 18-5 34-13 22-10 22-11M2467 1212l69 135 26 49 22 36 30 46 22 28 13 16 26 26 26 23 26 19 30 20"/>
<path d="M2045 1486l44-51 31-40 27-39 13-22 36-63M793 2369l94 0 62-2M1334 2104l78-120 37-53 15-20 42-41 36-30 26-20M3411 2115l42 3M758 2400l17 0M895 2381l27-1M3631 2278l33-2 33-1"/>
<path d="M2077 925l24-38 14-21 19-26 19-21 24-20 9-7 15-7 19-6 19-1 14 2 10 3M2600 1357l19 33 24 38 33 50M3619 2273l40 5 90 1M1825 1342l47-118 47-111 33-68 14-26 19-32 14-20 14-18 19-19 14-11 14-8 14-5 10-1 9 1M3312 2030l28 5 57 2M2317 1181l51 38 28 15 28 12 18 4 28 3 23-1 24-3"/>
<path d="M666 2407l59 2 105 9 29 1M3590 2253l29 3 35 3M3198 1885l9 5 24 11 14 5 14 4 28 12 19 6 23 7 19 4 19 3 19 1M1102 2254l19-1 25-4M1162 2110l26-1 42 3 56 7 26 4M3337 2051l17 2"/>
<path d="M3749 2349l68 5 63 1M3773 2363l74-1M3432 2377l17 13 28 19 28 14 28 12 16 6 28 7 23 4 39 3 44 0 50-5 67-12 84-19 39-7 39-5 39-2M1756 1964l37-33 23-24 27-32 42-57 37-55 36-63 46-88 33-66 59-129M3168 1842l32 43 28 34 65 72 32 33 23 21 27 24 37 29 32 21 23 14 23 12 37 17 28 10 41 10 32 5 23 1"/>
<path d="M1142 2196l40-2 36-4M3639 2286l81 0M2494 806l19-12 20-10 16-5 15-3 12 1 8 3 8 3 15 10 16 14 16 18 15 22 12 19 24 43 23 49 20 44 39 95M2958 1940l29 56 39 63 19 28 25 31 34 40 29 31 20 18 14 12 29 20 25 13 24 11M1124 2190l45 1 44 4M3560 2228l68 3"/>
<path d="M3534 2211l36 8 35 7 36 4 51 2M2307 1182l41 24 35 17 29 13 41 13 87 26M3703 2328l59 0M3650 2293l41-3 68-1M3726 2337l22 4 55 6 38 2 33 1"/>
<path d="M2164 829l19-43 32-70 18-34 14-23 19-24 18-18 14-9 10-5 9-2 18 0 10 3 4 2 10 6 9 8 18 22 10 14 14 23 27 54 28 63M2757 1612l23 41 23 38M1238 2166l18 0M2194 815l18-41 18-36 18-31 18-25 18-20 13-10 18-10 9-3 10-2 9 1 9 3 13 6 14 10 18 19 13 19 23 37 18 35 13 29M2721 1555l18 39 23 41 31 48 18 21M630 2310l16 1 16 3 16 5 16 8 27 15 58 39 27 16M1270 2389l59 25 26 8 27 6 32 1 27-3 21-7 16-7 11-5 21-13 21-17 27-26 16-19 16-21 11-16 16-25 21-38 27-54 21-47 27-65 32-84M2076 937l21-84 32-115 21-67 27-71 11-24 10-21 11-18 11-15 10-12 11-9 11-6 16-5 16 0 21 7 16 6 21 10 22 12 26 16 22 15 26 22 16 17 11 14 16 24 16 29 16 35 11 25 21 58 27 82M2849 1764l37 112 22 56 16 37 16 33 21 35 11 14 10 10 11 8 11 6 16 5 10 1 11-1 21-4M2928 1389l29 55 42 87M3606 2263l43 1"/>
<path d="M1098 2184l16 1 17 2 30 7 25 9 13 3M1821 1349l72-229 38-113 22-60 21-54 25-56 21-40 17-25 9-11 12-14 9-8 8-6 13-7 8-3 13-1 9 0 12 5 9 4 17 13 12 13 9 11 30 41M2626 1395l55 102 46 83 64 110 46 77 43 69 33 52 34 48 17 21 13 14M2367 764l22-14 13-5 9-1 18-1 13 0 13 3 14 5 22 14 18 14 17 17 27 31 27 37M1340 1875l14-2 14-4 27-14 18-13 27-23 23-24 14-11 22-20 23-24 23-28 41-53 95-134 54-92 18-28 23-33 18-24 23-28 18-19 18-17M2339 1177l23 3 36 11 55 22 40 18M1971 1595l98-103 32-38 33-41 44-60 43-68 55-88M3087 1706l38 44 60 63 27 30 27 32 22 28 104 168M3675 2312l22 1"/>
<path d="M3680 2428l36 11 36 7 36 3 42 0 36-3 54-9 90-20 41-8 36-5 30-1M893 2278l42-2 42-4 48-11 48-15 111-47 42-14M3272 2283l15 16 16 13 22 16 10 6 16 8 21 8 11 2M1296 2089l30-2 34-5M1112 2420l33 4 27 1 32-3 27-4 11-3 33-10 37-16 38-20M2232 797l16-26 16-21 17-18 10-10 17-12 16-11 16-6 16-2 11 1 11 2 16 6 11 7 22 16 21 20 11 11 27 35 11 16M3281 2291l16 20 17 18 27 25 27 21 21 13 17 8 16 7 16 5 38 7 32 2 17 1 21-1 27-4"/>
<path d="M1059 2422l54 5 32 0 32-3 22-4 21-6 32-13 22-11M3534 2211l64-8 16-1 27 0M3502 2192l35 1 87 1M1282 2388l39 4 33 1 17 0 16-2 28-7 17-7 16-8 23-15 16-13 11-11 23-25 22-31 11-17 22-38 17-32M2214 813l23-64 11-29 16-38 17-31 17-25 16-19 11-9 6-3 6-2 11-2 5 1 11 5 11 7 17 20 11 17 22 42 17 37 17 42 16 47M1207 2153l21-2 15-4 16-5 20-8 31-18 26-19 36-33 31-32 26-29 77-92M3817 2381l26 0"/>
<path d="M942 2345l36 0M3514 2202l21-5 31-3M1771 1451l71-190 40-101 20-47 26-54 30-56 20-31 15-18 15-15 15-11 16-8 15-3 15 0 15 5M2371 1172l66 51 35 29 71 66 91 87M1358 2365l40-5 34-6 39-11 15-7 25-12 34-21 20-15 29-29 10-10 20-26 19-28 40-65 24-47 34-71 40-90M2213 807l25-31 29-32 20-18 29-25 25-18 29-16 20-5 20-3 19-1 15 2 10 2 15 6 19 11 25 22 24 27 20 27 20 31 29 53 25 52M779 2377l56 1 85 5"/>
<path d="M1001 2292l31 0 46 2M3366 2073l21 4 25 3 46 2 36 0 66-4 46-1M3721 2335l43-3 59-6 48-2M836 2290l17 1 17 2 17 4 17 5 39 15 45 22M2135 863l39-113 28-71 28-63 12-23 17-32 16-26 17-23 23-23 17-12 11-5 17-2 11 2 11 5 12 7 11 9 22 26 12 14 11 17 17 29 17 34 16 37 23 57 22 65 28 95M2737 1570l22 87 23 78 22 70 17 45 22 52 23 43 22 35 23 28 22 24 34 30 62 46 17 15 28 27 22 25 57 72 33 39 28 29 29 23 16 11 17 8 17 7 17 5 23 3 28 1 62-1M1412 2025l5 0M3034 1601l70 91 27 38 17 24 32 53 27 48 27 52 32 66M3622 2421l48 15 27 6 22 4 27 3 38 3 43 1 43-2 38-5 48-7 92-18 38-6 43-6 37-1"/>
<path d="M3831 2423l27 6 27 3 34 3 27-1 20 0 34-3 88-11 47-5 61-3M746 2400l29 0M3271 1977l178 166 52 44 46 33 28 17 29 14 23 7 12 3 22 4 18 1M1265 2393l21-3 31-8M1928 1142l21-43 21-39 20-35 21-31 15-20 16-18 15-15 16-12M2439 1190l30 38 52 57 52 50 20 19 16 16"/>
<path d="M2412 1179l13 11 18 12 14 8 18 8M2849 1232l23 35 18 31 45 83 40 83 68 146 59 123M843 2338l41 1 99 4M3575 2240l24 5 35 5 40 5 59 1 93 0M1008 2160l34 1 45 6 49 11 74 21M1318 2031l34-3 30-8 25-8 30-14"/>
<path d="M602 2411l44 2 44 4 37 6 100 17 50 7 44 4 44 1 31-1 31-2 57-8 43-10 63-21M3084 1700l62 55 44 42 44 46 25 30 25 37 93 149 44 64M3752 2353l44 2M778 2376l27 0 32 2 69 9M1144 2417l41 0 41-6 26-7 16-5 20-8 16-7M3265 1968l40 44 35 41M3557 2227l23 5 22 2"/>
<path d="M1380 1982l27-2 18-3 17-3 18-5M2736 1578l35 77 31 56 23 35 22 32 18 22 13 14M3607 2264l27 3 17 1M877 2334l22-1 23 2 29 2 34 5M2303 1184l17 8 35 18 40 24 17 12 28 21 40 32 46 42 46 45 45 48 92 100M3416 2121l69 19 28 5 40 4 34 2 46 0 120-4 40 0M1263 2393l24-1 39-4 29-7 24-10 20-9 34-23 15-11 19-18 24-25M2417 778l24-37 15-19 14-15 20-15 14-6 10-1 10 0 5 0 9 4 15 9 10 8 9 11 15 18 15 23 19 35 24 50 15 33 24 58 39 96M3587 2251l10 0"/>
<path d="M1006 2427l48 13 34 8 33 6 19 2 44 2 33-1 29-4 33-7 34-12 19-9 24-14 19-15 24-20 19-20 14-16 34-41M1921 1153l33-85 20-41 14-28 14-25 19-29 15-19 19-22 24-22 29-22 43-26 28-15 24-14 34-17 24-10 24-9 24-5M1142 2218l14 0 28 1M1326 1980l29-3 29-4 24-5 25-7 29-12 19-7M3823 2383l68-7 51-3"/>
<path d="M775 2390l38 1 21 2M1517 2267l22-14 10-8 11-10 11-12 11-13 21-33M1236 2140l22 0 30 6M2379 766l9-4 17-6 26-4 18 2 13 4 9 4 13 8 17 14 13 15 22 30M3404 2109l35-6 26-1M1069 2262l42-3 26-5M1788 1910l30-32 25-31 18-25 24-39 24-44 24-50 30-69 18-44M3793 2424l54 12 48 8 42 4 42 0 36-4 36-5 121-26 30-5 30-4 30-1"/>
<path d="M1248 2135l17 1 26 5M2255 786l17-12 13-9 30-16 13-5 13-4 22-2 17 2 22 8 17 11 17 13 22 21M2501 1237l23 34 24 30 28 31 18 18M3042 1616l32 34 33 29 33 23 23 13 23 10 24 7 14 2 14 2 23-2 32 11 14 4 24 3M987 2427l54 6 27 1 22-1 21-2 22-4 22-6 21-8M2050 962l32-63 18-34 18-31 31-48 23-30 22-26 18-17 9-8 18-11 9-4 14-5 18-2 13 1 18 5 9 4 18 11 18 15 23 27 18 25M2703 1523l13 33 27 60 23 49 27 54 31 58 27 43 32 47 22 30 32 40 40 47 59 60"/>
<path d="M1406 1760l57-6 15 4 14 2 29 0 19-3 19-7 24-12 19-14 19-17 14-14 29-34M2740 1585l15 38 29 71 33 74 38 74 24 41 24 37 34 49 28 36 15 16 33 33 81 70M1190 2082l28 2 29 4 85 21M1767 1948l14-20 23-36 15-24 19-35M3497 2188l29 2 52-1 28 1M667 2406l77 1M1464 1964l89-138 89-142 42-69 36-65M3588 2253l119-3M1407 1809l14-1 41-5 19 4 23 0 28-5 9-2 24-11 23-15 18-15M3761 2356l18 0"/>
<path d="M1088 2205l25 0 30 3 49 6M3583 2247l35 0M1112 2185l22-1 47-3 32-5 37-7M2434 1189l27 25 31 27 16 13 32 22M2400 1176l41 26 36 25 41 32 29 25M3769 2361l29 1 124-1M1305 1979l17-1 26 1 61 7 34 5"/>
<path d="M1377 2357l19-9 34-18 33-24 15-11M1788 1912l115-181 43-66 57-93 43-73 34-60M2582 864l19 5 28 14 20 12 23 20 24 24 24 29 24 33 19 29 24 40 29 53 24 47 33 70 48 106 76 181M3571 2239l24 1M3021 1575l22 36 139 207 80 111 21 33 38 54 37 50M3737 2343l27 2M3730 2426l28 4 29 1 34 2 40-1 58-5 131-18 34-3 29-1M3263 1968l16 12 46 40 25 25 66 66 31 29 20 18 26 20 30 20 36 17 15 5 16 4 30 4"/>
<path d="M1180 2174l68-1M489 2403l40 3 40 5 40 9 94 21 60 12 53 6 40 3 27 1 34 0 40-2 40-3 20-2 40-8 33-9 34-12 26-11M1618 2159l20-24 27-37M3809 2379l53-7 40-2M1197 2190l24-1M2119 1380l20 13 25 12 15 5 14 3 15 1 15-2 20-6 20-10 25-18 20-18 14-15 55-66 40-51 29-35M1156 2102l38-5 24-5 24-8 29-11 14-7 24-13 24-15 43-32 19-15 28-26 39-37 19-16 38-34 38-40M2470 1211l43 99 91 230 33 79 24 51 19 37 24 42 19 30 24 31 24 26 24 21 9 6 19 12 15 7 24 9 19 5 33 6 24 2M3253 1956l19 10 34 22 95 67 34 21 28 16 29 13 38 13 34 8 33 3"/>
<path d="M1751 1972l103-113 22-25 38-48 38-58 16-28 16-32 38-81 38-93 22-57M2294 778l27-81 22-60 22-52 10-22 11-19 11-17 11-14 11-10 11-8 11-5 10-1 11 1 6 3 11 6 11 9 10 12 11 15 22 36 22 44 27 63 32 86 33 95 33 105M3750 2351l21-2 17-1M1603 2178l31-39M3489 2185l44-10 30-6 40-5 22-1M1402 1987l49-7M3424 2125l37 7 45 5M3497 2189l66 1"/>
<path d="M3522 2203l35 3M1382 2354l34-16 30-16 29-20 25-21M2115 879l15-30 14-28 15-25 15-22 15-18 14-16 15-11 10-6 15-5 15-2 9 1 15 4 15 7 20 12 14 13 10 10M3382 2353l21 15 27 16 21 11 32 11 32 7 26 3 37 2 22-1M683 2411l55 1 110 5M2119 1383l31-16 24-13 37-25 43-32 85-69 25-17 24-15 18-9 13-5M3695 2324l55 2 55 0"/>
<path d="M766 2358l39 2 27 4 33 7 49 13M2211 809l19-37 10-16 15-21 14-16 15-13 14-9 15-5 15-3 14 2 10 4 10 5 14 10 10 8 15 16 38 49M1063 2285l40-1M2004 1542l35-24 35-27 29-25 30-28 30-32 29-35 80-101 39-49 25-28 20-20M3470 2168l30 11 30 9 39 7 25 3M3526 2404l15 5 30 7 35 4 15 1"/>
<path d="M1056 2250l88-1M3186 1868l19 8 18 7 24 4 14 1 51 10 38 5 60 5 33 1M669 2366l52-2 92-5 57-7 41-6 31-7 52-13 46-16 41-20 26-14 16-10 46-32 46-37 37-32 36-35 20-22 67-74 47-56 41-53 15-16 83-97 51-65M2272 1199l15 4 26 8 21 7 15 7 26 13 26 15 41 28 36 30 36 34 134 134 41 38 21 17M3200 1887l25 14 16 5 41 10 21 3M1356 1838l27-1 21 1 35 2 22 3 26 12 18 7 9 3 21 4M1042 2271l77-1"/>
<path d="M1682 2073l15-16 15-19 25-35 39-65 30-55M2179 828l20-56 20-46 15-29 9-15 10-14 15-15 10-8 10-6 25-7 10-1 10 1 10 2 15 4 25 13 19 13 20 15 35 22 25 17 25 20 30 28 25 29 14 21 15 23 25 45M2345 1171l42 45 57 63 36 36 26 22 21 16 21 13 20 11 42 16 21 5M3108 1746l47 66 42 55 67 87 42 57 31 39M3612 2267l26 9 47 10 36 4 31 2M818 2371l59 0 66 2M1938 1646l39-17 66-23 45-20 33-21 20-14 19-17 14-13 13-15 26-33 19-28 27-42 26-46 98-186M2710 1009l20 23 13 17 13 18 20 30 26 45 46 88M3980 2407l105-10 39-3 40-1M3421 2123l4 0"/>
<path d="M1085 2245l37 2 23 4M3394 2100l9 1M3419 2122l23 6 22 4 23 3 27 2M1096 2176l25-1 18-2 24-5 13-3 18-6 19-8 30-15 12-8 31-20 31-25 129-118 18-15 24-16M3353 2337l31 25 36 21 31 14 25 8 12 4 43 9 30 6 148 17 92 9 43 3 36 0 37-1 31-2 61-9 104-22 43-8 37-4 37-2"/>
<path d="M3627 2277l15 1M790 2387l101 2M3789 2370l41-1M913 2328l17 1 11 1 22 5 22 7M2031 995l22-59 27-70 28-63 33-67 27-47 28-38 22-25 22-17 11-6 17-4 11-1 11 2 11 4 11 4 11 7 11 9 22 25 22 32 22 39 27 58M3049 2063l50 109 22 44 22 39 22 35 28 38 27 29 17 15 16 12 22 13 22 9 11 3 28 4 22 0 38-5 39-10 27-10M3705 2329l22-1M890 2273l34 1 29 3 92 15 34 4"/>
<path d="M640 2402l36 1 40 6 51 11 71 17 46 9 25 4 51 3 15 0 36-2 15-1 25-4 31-6 30-8 20-6 31-13M1797 1398l30-69 36-76 25-52 36-66 25-40 20-29 26-33 35-41M2568 1314l20 47 26 53 15 28 20 33 26 35 15 18 20 21 20 19M2252 789l10-9 16-11 16-7 16-4 10-2 16 0 16 4 10 4M2235 796l18-38 12-22 12-20 18-23 18-17 12-9 11-5 12-1 12 2 12 4 18 13 12 11 24 31 12 17 18 29 18 34M3462 2390l18 7 41 15 60 17 54 11 48 7 48 6 36 1 54-1 48-5 47-10 96-23 30-7 36-5 36-3M1103 2206l51 1 42 5M1459 2304l20-6 21-12 21-17 20-23M2232 801l21-44 26-48 46-75 36-53 26-30 10-10 16-13 20-11 16-3 10 1 11 4 10 7 15 17 11 15 10 18 15 33 21 55 21 67 20 79 16 68M3351 2336l31 28 31 24 21 13 15 9 26 9 26 7 31 2 26-1 15-2 31-8"/>
<path d="M896 2344l38 1 43 4M1723 2014l32-24 16-14 27-29 27-34 22-32 16-26 33-59 43-89 38-85 43-104M3036 1604l16 28 81 131 103 171M748 2394l66 2M3127 1778l79 117M3574 2239l69 5M3304 2018l43 25 48 25 39 16 34 10 34 7 39 3 101 1"/>
<path d="M885 2341l99 0M3093 1718l18 24 146 178 77 108 41 53M3611 2266l23 5 22 2M875 2338l111 1M3465 2162l33 1 72-1 53 0"/>
<path d="M559 2411l53 0 129 4 70-3M2194 1272l58 10 53 12 23 4 47 6 30 2 93 4 41 4 35 7M3277 1987l12 3 24 4 46 5 12 0 24 0 117-10 41-1M1117 2257l20-1M1993 1559l29-34 127-156 39-45 35-36 34-32 34-29 39-27 20-11 29-14M3402 2105l29 1 59-2 58-7 35-2 34-1M637 2394l60 1 77 5M3412 2115l33 2M1043 2284l58-1M3201 1890l62 41 32 27 26 25 31 33 32 35 84 100 36 42M3693 2322l26 2"/>
<path d="M1678 2078l16-5 16-7 21-12 21-15 21-19 16-18 21-27 26-40 21-38 16-31 42-92 32-77 63-164M2394 767l10-4 26-5 21 0 21 3 22 8 21 11 26 18 21 17 21 19 37 40 21 24 31 41 32 45 16 25 21 36 21 39M3929 2403l63-6 42-2M994 2308l52 1M2369 766l12-9 16-9 16-6 20-5 16-2 12 0 12 2 20 6 20 11 16 12 24 23 32 39 24 35 16 26M995 2262l131 1M3787 2424l43 11 25 4 32 2 37 0 25-2 31-4 50-8 57-11 37-5 31-4 32-1"/>
<path d="M1041 2302l20-1M698 2403l33 1 34 4 39 7 100 21 45 6 33 2 39-1 39-5 39-8 45-14M2163 832l22-51 23-46 16-30 17-26 11-14 11-13 17-14 11-6 17-6 5-1 6 0 11 1 6 2 11 5 17 14 11 13 11 15 17 27 22 45 17 37M3332 2047l26 12 27 10 39 12 34 8 22 2 22 2M1335 2080l31-1M1865 1788l26-38 23-37 26-50 31-67M2341 762l22-28 32-34 13-12 27-21 8-6 9-5 14-5 18-3 17 2 18 8 9 6 9 7 18 19 18 25 17 32 18 37 23 54 17 49 18 56"/>
<path d="M1139 2238l19 0M2268 782l14-11 14-8 23-10 14-3 14 0 14 2 19 8 14 8M1414 2334l15 1 14-2 24-7 19-9 15-9 9-6 20-17 14-14 24-29 15-19 29-45 24-43M2319 767l58-152 33-85 25-56 19-38 19-30 10-11 9-8 10-5 10-2 14 2 5 3 9 9 10 10 10 15 9 18 10 21 10 25 9 27 15 45 28 107 25 100 33 149 29 142M2925 1881l20 50 14 34 29 61 19 34 10 14 14 21 24 31 24 26 24 25 34 28 34 22 34 21 77 43M1042 2245l51 0 61-1M3604 2263l51 0M683 2408l34 1 33 3 34 5 56 11 67 11 33 4 34 2 39 0 39-5 22-4 17-5 34-12"/>
<path d="M2258 784l26-14 35-13 22-5 26-2 17 2 22 4 35 13 21 12 22 17M2806 1695l21 59 18 41 26 54 22 38 13 19 13 17 26 29 17 17 26 18M3710 2330l22-1M771 2386l78-1 72-3M1774 1931l89-79 50-51 16-19 22-28 34-50 33-59 39-83 16-38 28-68 50-126M2976 1487l34 52 33 54 61 87 44 66 28 44 83 142 50 93M1413 2334l12-2 8-3 12-5 13-6 20-15 25-25M2125 872l21-75 20-65 25-67 8-20 12-25 12-23 9-12 12-15 8-9 12-11 9-5 12-4 12-1 17 1 8 1 8 3 16 8 21 15 28 25 70 70 41 51 25 35 36 67 29 62M729 2387l49 0 72-2 79-8M3726 2337l19 5 30 5 24 3 24 1"/>
<path d="M639 2399l148 0M1929 1666l41-40 60-52 47-43 41-42 30-33 30-36 47-65 77-116 47-67M3278 1987l42 35 59 46 47 34 54 34 17 10 42 19 24 9 17 6 42 9 17 3 24 1M2365 766l23-33 12-12 12-9 17-9 12-4 12 1 12 3 11 8 12 10 12 15 12 17 11 21 12 25 24 58M3793 2424l70 18 30 5 47 5 23 1 24 0 41-3 41-7 35-6 94-22 36-7 35-4 29-2M1228 2161l37-1M1962 1087l34-72 19-37 20-33 24-38 29-36 15-15 14-13 29-19 15-7 9-3 15-4 19-2"/>
<path d="M1454 2307l13-2 16-5 16-8 12-8 25-23 16-18 12-17 13-18M2143 849l12-22 16-26 25-31 12-12 8-6 12-7 8-3 13-3 20 1 12 2 12 5 33 15M2933 1895l29 56 25 38 29 39 35 37M736 2402l35 2 40 5 54 12 70 16 45 9 44 4 30 1 20 0 35-4 25-5 19-5 40-14 25-12 20-11M2152 842l15-34 15-31 14-26 15-24 15-19 10-11 15-11 10-5 10-2 15 0 10 3 20 11 15 15 14 18 10 16 15 26M2564 1305l30 68 15 29 15 26 19 29 10 12 20 22 20 16M3249 1953l15 0 10 1M1008 2267l50-3 50-6 32-6M3288 2003l45 1"/>
<path d="M1376 1950l17-2 14-4 9-2 22-9 49-25 22-15 23-18M2411 1180l147 133 40 42M787 2362l31 1 26 2 89 12M3095 2124l31 45 26 32 37 40 26 23 31 22 21 12 21 9 26 8M1200 2139l31-5 27-7 30-12 22-11 22-12 36-26 22-18 30-30M3452 2152l97 6"/>
<path d="M1273 2100l39-5 23-5 19-6M3357 2065l23 0 32 1M1066 2224l60-5 46-9 33-8M1375 2070l37-49 50-74 23-30 46-58 51-60M3411 2115l13 2 48 2 57 3"/>
<path d="M1091 2252l20 1 29 2M3562 2230l20 4 24 2M3438 2142l26 4 30 2M3342 2055l44 2 82 0 26 0M1366 2362l10 1 15-1 15-2 14-4 20-7 24-14 25-20 19-20 25-29 24-36"/>
<path d="M1135 2221l21 2 21 5M1404 2338l16-1 15-3 16-4 15-7 16-8 16-10 31-25 20-18 21-21 41-45 42-50 57-72 20-28 52-73 31-49 36-62 26-50 26-54 31-71 31-79M566 2396l34 2 33 5 33 8 78 23 39 10 38 8 45 7 61 5 88 3 72-2 50-2 50-5 33-6 39-10 17-6 28-12 22-13 22-14 17-13 22-19 33-34M2174 824l27-35 17-19 28-27 16-13 17-12 33-17 22-7 11-1 17 1 11 3 17 8 11 7 5 4 28 28 11 14 11 15 17 27M2739 1581l22 63 22 56 28 61 22 39 22 31 17 17 17 14 11 7 22 9M2573 1319l31 63 42 78 47 80 46 71 32 41 36 44M3484 2394l21 11 15 6 37 11 26 4 15 1 21 0 26-1M844 2336l30 1 35 3 64 9M3218 1912l10 1 34 0 20 1 99 2"/>
<path d="M1784 1911l31 3 15 0 16-1 25-6 16-6 21-12 10-8 21-19 10-12 10-14 16-23 15-28 21-44 20-50 21-57 41-133 42-146M2341 762l16-19 10-11 10-8 16-9 15-5 11-1 20 1 16 4 10 6 15 10 16 15 15 17 16 21 15 23 16 26 15 29M3422 2125l26 13 52 22 42 15 52 15 41 8 21 3 68 3M2449 790l24-17 20-10 21-6 20-2 12 1 16 5 16 7 17 11 12 11 20 22 20 28 21 32 16 29 20 41 24 54 21 49 16 43M993 2261l44 2 20 3 55 10M2225 797l20-12 10-4 10-3 15-1"/>
<path d="M2222 1241l31-8 35-11 15-5 41-18 46-23M3766 2361l41 1M1314 1955l18-2 27-5 27-8 27-11 27-14 18-12 23-10 22-14 23-16 31-26M1267 2071l28 0 29-1 43-5 14-2M1846 1296l48-137 24-63 24-59 28-63 15-27 19-31 14-19 15-15 14-11 14-8 15-2 14 2 14 6 15 10M3028 2035l29 40 43 57 24 29 19 21 24 24 34 29 19 14 43 28M3684 2318l29-1M3179 1862l47 26 24 16 14 11 42 47 71 87 37 43 24 24 33 29 18 14 14 9 29 14 18 7 14 4 15 3 23 3"/>
<path d="M2560 852l9-1 9 0 14 3 18 9 18 15 18 21 14 19 22 39 18 36M3349 2062l50 0 121 2M3319 2036l24 2M3413 2118l31 9 20 4 40 4M601 2407l34 1 34 3 40 6 90 16 23 2 39 3 34 0 28-1 34-5 29-6M3458 2157l34 1"/>
<path d="M940 2289l32-2 27-3 32-6 37-12 27-11 26-14 27-17 26-20 43-38 27-27 21-24 37-44 101-127 27-32 32-36 32-24 69-48 32-25M2240 1226l28-5 9-2 18-7 27-17 14-10 13-13M3610 2268l19 1M1420 2330l21-6 18-7 17-8 21-13 17-12 22-17 17-16 17-17 22-24 17-20 34-46 35-51 55-94M2541 837l30-36 13-13 13-10 21-12 13-3 8 0 9 1 13 3 17 8 13 8 13 11 13 13 13 16 13 18 25 43 22 43 38 87 30 77 31 84 30 90 90 285M3265 1970l39-1 74-5 25 0"/>
<path d="M1133 2198l78-1M3805 2377l83-15 45-5 33-2M3389 2095l35-3 27-1M1373 1817l19-1 23 1 46 4 23 9 19 4 14 2 9 0 19-3 14-5 9-5M3651 2292l23-5 23-3 23-2 19 0M1174 2197l38-1M2523 1255l59 106 37 59 21 32 22 28 21 23 16 16M3759 2355l80 3 70 1"/>
<path d="M1145 2165l14 0 18-3 27-9 23-10 14-8 27-16 72-49 50-29 23-10M1036 2279l28-1 53-5M3365 2072l28 6 19 2 43 5 24 1M955 2347l20 0M1326 2030l35-4 19-5 20-8 20-10 24-14"/>
<path d="M1366 2361l19-2 19-5 33-11 34-17 28-20 14-12 19-18 20-20 47-57 34-47 47-76M2714 1014l24 31 28 44M3424 2125l19 10 33 13 38 11 39 7 28 4 29 3 47 1M3021 2024l24 44 18 29 29 42 18 22 11 14 24 23 30 23 29 18 12 6 18 7M3805 2376l65 3M3581 2246l22 7 21 4 17 2 21 1M3424 2130l45-1"/>
<path d="M3631 2279l18 0M1372 1913l89-5 16 2 31 0M907 2353l63-2M3249 1953l10-4 34-9 38-8 15-2 39-1M1229 2105l36 0 66 2"/>
<path d="M1090 2241l25 1 30 6M1730 1531l49-136 45-113 39-92 25-50 20-37 20-34 15-22 19-26 15-15 20-16 10-6 15-5 20-3M2691 1503l20 45 25 51 39 72 20 32 20 29 25 34 39 50M1225 2404l26-1 31-5 36-8 31-11 31-16 21-13 31-24 21-18M3078 1689l51 66 83 103 47 59 103 154M3296 2302l16 16 11 9 22 16 16 10 33 15 27 9 17 3M3780 2366l38-1M2242 794l23-33 11-13 12-11 22-15 12-5 15-3 8-1 15 3 11 4 12 7 19 16 34 39"/>
<path d="M1190 2146l26 0 36-3 42-5M3754 2352l20 4 26 4 26 2 16 1M1179 2412l20-2 14-3M1457 2305l16-2 23-6 11-5 11-6 17-13 16-16 23-27 22-34 22-39M2414 771l22 2 17 3 17 6 16 7 23 14 5 4 17 15 17 17M3817 2380l61-7 67-5 50-2 100-2M1258 2130l13-1 20-5 16-6 21-10M2940 1908l28 61 17 30 16 26 16 21 21 23 16 15 25 18"/>
<path d="M2177 820l17-21 17-17 16-12 17-8 13-4 17-2 17 1 21 3 8 2M2324 764l13-20 29-40 17-19 21-18 29-16 8-3 13-3 8-1 13 1 21 8 21 15 21 21 12 16 25 39 17 30 21 43 17 39 25 66M2961 1945l17 42 21 46 16 33 21 38 17 28 34 51 25 35 25 31 25 26 17 14 29 21 13 7 21 10 29 11 29 6 26 2M1464 1947l13 2M2298 769l28-24 13-8 9-5 14-4 14-3 9 0 18 2 28 11 14 7 18 12 18 16 14 14 32 37M3752 2351l55 0M757 2343l74-2 73-7 53-8 34-6 60-14M2320 1175l20 18 20 20 13 14 20 24 47 61 67 94 60 81 27 32 26 29 27 27 20 17 33 26 34 22 60 34M3802 2425l40-1 54-7 40-7 100-23 40-8 47-7 47-2"/>
<path d="M1533 2255l22-16 23-20 14-13 23-26 18-23 18-28 32-58M2364 764l78-129 18-26 14-16 14-12 9-6 9-4 9-1 9 0 10 3 9 5 9 8 9 9 9 12 9 14 9 16 14 29 18 44 19 53 23 74 22 84 19 77M2927 1886l23 47 13 24 19 26 18 20M721 2405l21 0M3436 2138l22 3M975 2291l99 5M2358 762l10-6 15-8 10-3 15-4 20-1 10 0 14 4 15 5 10 6 15 12 20 19 25 34 15 25M3514 2200l27 3 32 2"/>
<path d="M871 2357l47-1 51-5M3491 2184l20 3M2010 1024l24-53 20-38 25-41 20-27 19-20 20-15 15-7 15-3 9 1M1170 2412l53 16 34 7 20 2 19 2 29-2 29-4 19-5 15-5 19-9 15-8 29-19 14-11 25-20 19-19 19-22 20-23 29-39 19-27 29-45 34-58 48-87M2409 771l15-12 14-15 73-87 15-13 9-8 10-5 10-4 9-2 10 1 14 4 10 6 10 9 9 10 10 13 20 33 19 41 24 63 24 71 20 64 24 85 24 93M2396 768l19-6 20-2 12-1 11 1 12 3 19 9 16 9 15 13 8 8 20 22 23 34M3410 2112l16 2"/>
<path d="M1216 2125l19-2 14-4 14-5 19-9 18-12 19-13 33-30 9-9 28-32 42-53 33-43 56-65 94-101M3260 1964l29 2M2040 979l22-74 22-67 22-59 22-50 22-41 8-13 14-18 8-9 14-11 8-4 9-4 13-3 13 0 14 3 22 9 57 34 31 19 70 41 26 18 22 21 18 20 18 25M2884 1823l84 175 26 51 40 71 39 66 18 26 35 48 22 25 26 25 22 16 27 16 26 10 31 8 13 1 26 2 31-1 40-5M3114 2147l16 21 17 19 21 22 16 16 21 16 22 15 11 6 21 11"/>
<path d="M1399 2343l30-12 30-17 24-18 17-16M3759 2426l48 1 65-2 95-10 149-17 41-4 36-1M1068 2422l28 3 23 1 33 0 34-2 34-5 16-4 34-8 28-9 45-20 34-21M3596 2256l46 1M2000 1548l45-59 27-38M3128 1782l27 15 27 12 36 13 40 11 5 3 23 14 63 43 31 20 27 13 32 11 13 3 18 2"/>
<path d="M1215 2163l13-2 14-3 14-4 18-7 18-10 14-9 22-18 14-13 27-30 28-33 32-43 36-53 50-66 37-44 45-53M2421 775l14-2 9 0 9 2 9 3 9 5 10 6 18 16M1097 2421l30 5 30 3 18-1 24-3 18-4 18-6 24-11 24-16M2305 765l18-25 19-22 18-18 18-14 18-8 18-3 18 1 18 5 12 6 12 9 6 5 12 13 18 24 18 29 12 22 18 38 18 42M3628 2423l24 9 18 6 18 4 36 4 36 0 30-3 36-6 103-26 30-7 30-4 30-2M2530 827l30-3 26 1 22 5 18 7 17 10 9 6 22 18 18 19 21 28 18 26 17 30 27 50 22 47 21 51 27 65 52 143M1397 1998l26-5 22-7M2405 1177l26 27 85 92 31 33 49 45 35 27M3169 1844l93 103 58 70 57 66 27 28 18 17 44 39 23 16 22 14 22 13 27 12 31 11 17 5 36 8 22 3"/>
<path d="M848 2326l68 2 77 7M2108 887l21-32 15-21 20-23 21-16 20-12 11-4 10-2 20-2 21 3 10 2M972 2333l29-1M1301 2132l161-200 58-60 40-45 18-21M2299 1187l23 13 28 15 52 22 35 11 69 15 35 11M1832 1328l50-131 32-77 32-68 14-26 18-31 18-28 14-18 14-15 13-13 19-14 13-8 19-7 18-3M2836 1746l27 58 32 63 18 33 28 43 27 38 18 21 23 22 32 25"/>
<path d="M1133 2418l37 1 27-2 26-4 16-3 26-8 27-11 16-8M1758 1475l31-74 32-68 26-51 27-44M3620 2273l27-3 21 0M2339 761l20-13 14-8 15-6 10-3 29-3 14 1 15 4 15 8 14 10 10 9 15 16 24 32 24 40M3231 2249l19 26 24 30 25 26 19 19 25 21 14 11 25 15 24 13 19 7 25 7 24 5 29 2 25 0 19-2 34-5 30-5M886 2370l57 2M2486 1225l45 81 35 57 23 34 17 24 23 29 23 25 29 28 22 18M1292 2117l19-1 14-3M3658 2297l28 0"/>
<path d="M1894 1730l10-9 19-21 24-32 15-24 19-35 10-19 14-32 19-47M2343 762l10-6 9-4 15-4 9-1 20 3 24 10 10 5 19 14 19 19M3502 2192l38-7 24-3 25-1M2038 984l14-35 15-32 23-47 24-37 15-18 14-16 19-15 14-8 15-7 28-6 15 0 19 2 19 4 14 5M3069 2089l24 44 29 48 28 39 15 16 14 13 24 18 28 16 10 4 19 6 14 3 19 2M1208 2188l14-1M3416 2118l20 13 38 21 24 12 25 10 38 13 20 5 19 3 24 3"/>
<path d="M1038 2217l23 0 31 3 18 2 37 7 22 3M1111 2234l35-3 36-9M2753 1603l30 68 16 31 25 49 21 34 25 38 16 20 20 23 21 20M3612 2268l46 8 31 2 36 1M1863 1785l31-9 37-13 21-10 26-15 21-16 26-24 26-28 16-20 31-45 21-34 21-37 31-58 89-179 36-68 32-53M3570 2235l26 6 21 3 10 0M1045 2217l41-2 65-6 15-2 46-10"/>
<path d="M3456 2157l11 2 28 4 54 5 61 2 33-1M1707 2037l28-25 33-35 37-48 19-28 23-37 33-56 61-112 42-82 65-133M2683 970l19-2 9 1 9 2 10 3 9 5 19 14 19 19 14 18 18 28 24 39 18 36 24 49 18 43 24 57 42 112 65 185M2103 892l13-35 13-31 14-27 13-23 13-19 14-17 17-16 9-5 9-4 13-2 14 0 17 3 27 14 45 30M1270 2145l17-1"/>
<path d="M1138 2418l26-3 16-3M3273 2285l17 17 17 14 52 38 28 18 46 23 46 19 52 18 51 14 52 10 23 3 28 2 52 1 51 0 52-4 40-4 46-8 120-28 40-8 40-5 35-2M3660 2301l21 0M1182 2181l22 0 26 3M1581 2202l18-12 18-13 8-8 22-22 18-22 17-25 27-43 22-42 22-45M2508 814l22-10 8-2 9 0 9 1 13 4 9 3 13 9 13 13 9 10 9 12 13 20 22 39 22 47"/>
<path d="M845 2357l20 0 36 3 46 7M3366 2072l11 0M3294 2006l43 19 29 11 26 6 17 3 13 1M3181 1861l32 35 41 50 69 91M3491 2182l21 5 15 1"/>
<path d="M1192 2411l41 2 14 0 23-2 37-6 32-9 18-8 18-10 19-11 18-14 37-32 23-26M3255 1958l42 34 23 16 13 8 19 9 18 6 14 3 13 2M1451 2307l9 2 25 2 22-3 17-6 17-8 21-16 17-15 13-13 13-15 17-24 30-49 38-73 39-84M2425 779l21-15 26-14 13-5 12-3 18-1 12 2 13 4 17 10 13 11 13 13 17 22 13 19 17 30 17 33 13 27 21 50M1497 2281l10-2 16-3 20-8 15-9 15-10 20-17 15-15 16-16 20-24 20-27 91-133 91-130 25-38 25-42 15-27 31-60 15-33 20-49 20-53 25-73M2259 789l16-27 15-23 25-31 15-15 15-9 10-4 16-3 10 0 15 4 15 8 25 19 10 10 20 23 16 19 40 60M3521 2402l40 16 33 10 34 8 39 4 34 1 39-3 45-6 51-9"/>
<path d="M913 2354l54 2M3237 1935l26 26 96 106M3586 2249l27 9 17 5 22 5 26 3M1252 2087l23-4 24-8 19-9 19-12 23-19 20-17 15-16 23-28 20-25 23-35 46-65 120-179 54-79 54-90 43-64M1019 2227l44-3 52-10 35-11 52-22 31-17 21-12 44-30 48-35 57-46"/>
<path d="M919 2348l26 1 26 4M1577 2206l73-37 52-34 10-9 27-25 10-13 16-21 20-36 11-21 10-23 16-39 26-77 11-34 20-76M2041 981l26-115 21-81 32-109 26-79 21-53 15-34 11-19 15-23 11-12 10-9 11-7 10-3 10 1 6 1 10 4 16 13 15 17 11 14 16 25 26 48 26 54 36 79 52 106M1355 2366l23 6 22 4 22-1 18-3 17-5 27-13 22-15 22-19 9-9 18-20 27-36 17-27 36-62 44-89M2305 767l8-10 14-12 13-10 9-6 13-6 14-3 13-1 9 1 13 4 18 8 13 9 9 7 13 12 14 15 26 36M1289 2086l26 0 35 2M2428 783l18-29 19-25 18-19 19-14 9-4 9-3 14 1 14 3 9 5 9 7 10 8 9 10 18 25 19 32 18 37 19 42 18 46 23 64 19 56M3638 2284l14 0"/>
<path d="M930 2268l30 1 30 7 34 11 40 16M3291 2002l29 18 30 17 35 17 15 6 15 6 20 4 20 4 20 1M2853 1775l65 116 32 55 28 44 23 32 46 59 56 63 28 27 13 12 19 15 9 5M957 2309l48 1 33 2M2285 775l33-36 10-8 14-10 10-5 9-3 9-2 10 0 9 2 10 4 14 9 9 9 15 15 9 12 10 14 14 24M1374 2359l29-3 30-6 19-5 30-10 20-9 24-16 20-15 15-14 19-21 15-18 15-20 20-30 14-25 20-38 25-52 14-34"/>
<path d="M3678 2428l37 10 36 9 37 7 43 5 55 5 37 1 37 1 80-1 73-4 62-7 61-12 98-24 37-8 43-6 37-3M2547 842l14-3 15-1 14 2 14 5 15 7 14 11 10 8 14 16 15 18 14 22 15 23 14 26 19 39 34 78M3764 2360l44 0M3393 2097l27 16 47 27 32 13 26 10 21 6 43 8 21 2 21 1M2323 762l19-14 15-7 14-3 20 1 10 3 9 4 30 18 19 16 20 19M3482 2395l19 4 20 4"/>
<path d="M1970 1075l21-61 25-68 16-37 15-33 15-31 16-26 20-29 16-17 10-9 10-8 15-8 11-3 20-1 15 3 21 7 25 15 21 14M681 2406l38 2 38 4 114 17 54 5 33 0 27-1 27-3 27-5M3306 2020l27 19 17 9 38 17 21 7 28 6 21 1M1302 1947l28 1 11 2 24 5 39 15 43 20M2028 995l27-65 12-25 16-30 15-27 12-17 12-15 15-16 16-13 8-5 11-6 16-4 19 0 12 2 20 8 11 6M3265 1970l11 4 20 3M1212 2133l24-2 40-6 24-6 24-7M2449 790l16-10 12-6 16-6 20-3 16 2 20 5 16 9 16 11 20 20 16 19 16 23 12 19 21 35 16 32 12 25 24 56M3242 1941l16 0"/>
<path d="M3420 2123l24 10 24 8 48 11 19 4 28 4 29 1M1792 1410l37-105 29-74 28-64 29-55 12-21 12-18 13-15 12-13 12-11 12-7 13-5 12-2M1160 2204l44 1M3182 1867l26-4 9-2 31-11 17-7 22-2 53-2 66-1M876 2344l70-2 45-5M2433 1186l111 172 40 59 30 42 35 46 41 48 40 43 50 51"/>
<path d="M1283 2387l32 9 22 5 26 2 17-1 21-3 21-7 16-7 27-16 16-12 27-25 21-24 22-27 26-39 22-35 26-48 22-41M2491 802l32 3 17 3 21 7 21 10 16 9 16 12 16 15 22 22 21 27 16 22 32 52 22 39 32 63 42 92M3299 2303l21 23 27 26 16 13 21 16 22 14 32 18 16 8 26 9 27 8 32 6 38 2 26-1 27-3 27-5 32-9M2203 808l26-20 12-8 17-8 9-3 17-4 21 1M3214 2239l25 23 17 12 13 7M3568 2234l8 0M1205 2101l102-5 38-3M1039 2295l12 0 23 3M3155 2186l23 33 17 21 22 24 29 26 40 28 23 13 57 30 45 20 57 22 23 7 29 7 34 7 28 3 29 1 34-2M3822 2384l23-6 45-9 34-5 29-1"/>
<path d="M1144 2222l39-1M2011 1021l21-87 18-63 22-71 17-51 17-43 18-36 17-27 9-11 9-8 8-5 9-3 4-1 14 1 13 6 17 14 17 23 18 28 43 82M2786 1658l17 40 18 36 17 32 26 46 27 39 26 35 35 41M767 2395l22 0 16 2M957 2425l16 2 27 0M2388 767l10-4 11-4 22-3 11 1 16 4 16 10 11 10 11 11 16 23M2816 1713l16 35 27 54 49 85 43 67 27 39 22 30 38 48 81 98 27 30 28 27 32 27 22 15 27 15 32 13M1134 2184l18-1 41-4 18-2 41-8M1121 2202l17-1 17-3 23-7 11-4 17-8 17-10 17-12 23-16 29-24 125-118 34-29 17-11M2335 1178l34 15 34 17 103 60 29 14 17 7M3920 2414l63-3 51 0"/>
<path d="M845 2386l68-2M3389 2092l37 10 26 6 31 5 37 3M1536 2249l31-8 15-6 25-12 21-11 15-9 31-21 15-13 31-31 30-38 21-28 25-43 21-39 20-44 25-60 36-96 26-77 25-81M2209 809l26-56 25-49 26-43 30-45 21-23 15-13 10-7 11-4 10-3 10-1 15 4 5 2 16 10 10 8 20 21 21 30 20 37 26 55 25 60 31 78M3422 2124l16 2 10 1M1373 2028l21-2 26-4M2124 1374l79-60 48-37 84-65 52-35M3023 1579l21 35 64 95 42 66 63 108 37 67M3859 2393l79-10 42-5 42-2 37-1"/>
<path d="M1116 2181l27 1 32 3 42 7M1579 2205l32-21 32-27 32-32 18-21 23-31 32-50 28-49 36-78 28-67M3393 2096l65 2M1700 1591l73-172 54-120 53-112 34-67 20-35 19-33 19-30 25-34 19-23 20-21 24-21 15-10 19-9M2381 1175l24 40 25 38 14 22 34 46 15 18 24 27 93 93 43 48 49 63 107 148 39 48M3551 2223l10 1M2284 1193l25 3 29-1 34-7 30-12M3560 2229l35 3 34 1"/>
<path d="M1113 2253l30-1M2091 906l35-67 64-131 30-56 24-37 15-19 10-10 10-8 15-8 19-3 10 1 5 3 10 5 10 9 15 17 15 24 19 39 20 49 30 83M2605 1360l39 124 35 96 35 84 34 78 35 71 39 73 45 75 29 44 20 27 35 42 19 22 25 22 20 15 44 27 25 17 74 56 30 23 49 36 20 13 20 11 15 8 19 8 25 7 25 3M3558 2233l20-13 15-7 25-8 19-3M1239 2149l41 1M1979 1067l17-46 16-42 25-56 12-25 16-28 12-19 21-25 16-14 8-6 13-6 16-6 16-3 13 0 28 2 29 0M3030 2037l21 32 24 34 29 34 24 25M1232 2145l20-1 25-3 20-5M3789 2370l26 1M2424 775l10-3 15-1 14 2 15 5 20 11 15 12 19 21 10 12M3568 2235l15 2 45 1 83-5 40-1"/>
<path d="M566 2405l35 1 123 7 35 1 35-2M3490 2182l35 3 23 1M990 2212l30 0 74 3 40 0 30-2 34-6M1977 1584l27-29 22-26 11-14 28-41 16-27 22-39M2444 786l11-9 17-11 16-8 17-4 16 0 11 2 11 4 11 5 17 13 11 11 16 20 11 16 17 27 16 31 28 61M3819 2382l44 0M2376 766l10-13 24-25 19-15 14-9 15-5 14-2 14 1 15 5 14 9 15 13 14 15 14 20 15 23 19 34 19 39 15 32"/>
<path d="M3276 1984l60 3M927 2324l39-2 39-6 34-8 17-6 22-8 17-8M2450 791l14-10 15-8 15-7 19-5 10-2 10 1 14 3 15 7 14 11 15 15 14 18 15 22 15 26 19 39 24 57M3718 2334l30-8 14-2 15-1M1280 2123l34 0M1694 2056l34-25 15-13 24-23 25-28 19-25 25-35 19-30 24-39 30-51 58-110 59-123 48-108M2884 1300l53 92 44 82 59 117 73 142 49 100M3742 2347l29 0"/>
<path d="M2465 793l17-11 13-6 17-4 13-1 14 2 13 5 13 7 13 9 8 8 13 14 18 23 9 13 17 29 13 25 30 66M3148 1816l13 1 13-1 17-2 22-6 26-11 22-10 17-1M1252 2109l20-3 15-4 19-7 15-8 30-22 14-14 20-20 35-44 44-65 123-173 93-124 10-15M957 2325l59-1M3170 1848l13 6 14 4 18 3 22 1 18-2M3849 2390l66-6 48-2"/>
<path d="M1156 2099l111 1 35-1 40-4M3168 1844l17 5 17 3 17 2 25-1 17-4 26 1M1333 2376l22 4 17 2 13 1 18 0 30-3 18-5 13-4 17-8 18-9 8-5 22-16 18-16 17-17 31-35 30-41 35-53 205-347 31-57 26-56 18-42 21-61M2140 861l18-62 13-41 17-45 18-36 13-20 9-11 8-9 9-7 9-5 9-3 8-1 9 0 13 4 22 9 13 7 18 11 30 23 39 26 48 28 18 12 17 15 27 28 26 37 22 38M738 2354l47 2 114 14 42 4"/>
<path d="M2248 789l21-17 17-10 21-10 17-4 17-1 12 2 17 7 17 9M1076 2245l73 0M2170 1300l51 27 39 14 22 5 17 1 23-2 11-2 22-8 28-14 23-16 22-19 45-39 22-18M3830 2385l112-1M3139 1799l16 15 21 14 12 8 17 7 12 4 16 4 13 1 16-2M3606 2263l26 0 77-1 47 1"/>
<path d="M1122 2181l45 1 58 3M1365 1934l17-4 13-4 17-7 17-10 56-39 21-18 17-16 35-36 21-26 26-34 38-54 39-61M1982 1058l13-18 17-21M2398 1174l21 29 34 48 35 54 17 29 43 79 77 155 38 75 39 65 26 38 25 33 13 13 26 23 17 11 17 9 22 7 21 3 30 0M958 2425l86 19 57 9 58 2 34-3 35-6 29-8 23-7 28-14 17-9 23-16 18-14 17-15 23-25M3635 2282l23-8 40-11 29-5 23-1M3813 2382l43-7 37-5 43-1"/>
<path d="M1303 1928l22-1 38-5 27-7 27-10 22-9 22-12 27-9 17-7 27-18 22-16 16-14M3859 2421l33 1 44-2 98-10 60-3M1061 2269l62-1M3168 1845l14-2 26-8 27-12 26-14 36-4 22 1M789 2374l51-1 45-5 39-6 51-14M1923 1155l26-74 32-86 19-47 19-43 19-39 20-34 19-30 13-17 19-19 13-8 12-6 13-3 7 0 12 3 7 3 13 8 13 10 6 7 19 22M2442 1194l19 27 13 16 26 30 32 30 32 26 25 19M3890 2400l51-9 45-7 38-3 39-1M3951 2406l57-5 51-3"/>
<path d="M3024 1580l19 32 24 37 138 207 76 105 19 25 14 16 14 16 24 23 14 12 19 14 14 8 29 12 24 6 23 3M615 2389l65 0 118 3 47-1M925 2318l42 1 57 3M1053 2240l51-2 64-5M2326 1180l40 20 46 28 114 80 80 59M3759 2356l34-2 126-14 35-3 28 0"/>
<path d="M2258 786l19-19 15-11 20-11 19-7 15 0 10 1 9 3 10 5 10 6 19 18M2917 1872l29 52 25 39M1274 1894l23-2 22-4 40-10 27-9 27-10 40-19 9-5 18-4 31-10 27-12 22-12 27-19 18-14M1069 2269l55-2M2154 1326l105-85 83-65M3243 1945l51 19 46 13 23 5 55 9M1096 2228l10 0 20 1 45 4M2713 1542l35 68 35 60 35 54 25 33M3644 2287l10 1"/>
<path d="M3485 2183l27-12 22-8 27-4 18-2M2376 765l13-18 18-19 27-23 13-9 13-5 18-3 18 3 13 6 18 13 13 13 14 15 18 25 17 30 18 33 27 55 13 30M3452 2152l4 0M1396 1837l62-3 9 1 12 4 21 4 25 2 29-2M3435 2135l50 4 41 3M2347 762l11-1 20 1 15 5M3072 2095l36 52 31 40 40 47 16 15 15 14 36 27 20 14 31 18 25 11 31 12 31 8M3664 2305l31-13 25-8 26-5 26-2"/>
<path d="M3450 2385l28 18 22 12 23 10 33 10 28 5 17 2 22 1 44-2 34-4 61-11M1265 1969l14 0 31-4 32-6 36-11 54-24 28-16 22-9 14-7 22-12 18-12M2866 1795l27 60 18 35 23 39 27 41 14 18 18 21 18 17 32 26M3468 2170l31-19 27-13 14-5 14-4 22-3M1100 2262l18-1 14-2M3403 2109l37 3M1106 2247l19 1 20 3"/>
<path d="M1393 2348l18-9 18-11 35-27M2494 805l22-14 17-9 22-7 9-1 13 1 18 6 9 5 13 11 13 15 18 26 17 31 14 27 22 51 13 35 26 76M1118 2160l51-5 37-7 41-12 42-17 32-18 23-16 42-32 28-26M2705 1526l32 79 33 73 32 68 28 53 23 42 32 53 28 43 46 65 14 18 28 31 83 83 47 48 41 39 28 24 32 23 37 22 24 10M905 2344l34 2 35 4M3212 2238l20 17 24 16M780 2376l62 2 80 4M1986 1571l34-22 28-22 23-20 23-22 28-30 46-55 28-39 91-131 17-24 23-29M3612 2269l35 6 39 3"/>
<path d="M1210 2069l20 0 36 2 61 5 40 2M3654 2296l66-10 40-5 51-2M1435 2320l33-8 9-4 23-11 19-10 19-13 19-15 14-13 19-18 24-27 14-18 33-48 33-57 42-83M2428 780l33-46 24-28 23-22 19-12 10-3 9-2 14 0 5 2 9 3 14 8 10 7 9 9 24 29 23 38 24 46 23 52 24 57 38 98 37 103 29 81M1221 2404l44 12 20 4 32 4 15 0 16-1 16-3 16-5 16-8 20-13 15-13 16-15 16-19 20-27 32-50M2062 945l23-46 24-41 28-40 20-23 12-13 15-14 24-17 8-4 16-7 24-6 27-3 20 2 32 0 20 2 28 5 51 12 32 11 16 7 15 10 28 20 24 23 20 23 16 22M2441 785l11-5 17-5 17-2 23 4 11 3 11 6 12 8 11 9 23 23 17 22 22 35M3625 2422l17 7 23 7 17 5 22 5 17 2 29 2 28 0 40-4 45-7 102-23 40-8 34-5 28-1"/>
<path d="M646 2410l35 1 35 2 122 15 35 3 35 2 29-1 53-6M3853 2391l47 2 42 0M691 2386l42 1 106 5M3345 2058l10 1 21-1M2122 873l32-71 24-48 12-22 24-39 24-32 16-17 20-15 8-4 8-3 24-3 8 1 12 3 11 6 8 6 16 14 20 25 16 25 24 45 20 43M2648 1429l24 70 20 53 24 56 24 46 24 37 12 17 24 26 20 19 40 30"/>
<path d="M961 2314l73 0M3746 2349l33-3 28-1M1195 2410l47-2 31-5 16-4 21-9 16-7 15-10M1799 1395l94-240 38-89 28-63 28-57 29-53 42-69 28-38 19-22 14-15 23-19 14-10 10-4 19-7 14-2 14 0 9 1 14 4 14 6 24 15 14 11 23 21M2556 1297l47 160 28 92 14 44 24 67 23 59 19 41 14 26 19 31 9 13 19 23 28 27 28 21 75 49 38 30 70 67 99 100 24 20M1326 2012l32-4 28-7 36-14 37-18"/>
<path d="M2311 1184l62-10M3438 2139l44 30 53 33 34 20 34 16 34 14 29 9 39 8 29 3M694 2406l37 1 31 3 36 5 83 15 26 3 36 4 36 2 31 0 36-3 42-7 21-4 25-7M3231 1933l37-9 5 0 36-5 31-1M2463 793l20-6 21-3 21 3 20 10 17 11 8 7 21 21 20 26 21 32M3144 1806l21 20 16 14 21 15 17 9 12 6 8 2 21 5 33 9 29 3M881 2372l61-2"/>
<path d="M1566 2221l22 3 19 0 9-2 18-6 9-4 14-8 18-15 18-19 23-30 18-28 22-41 14-28 14-31 13-34 23-63 14-41 22-74M2084 919l18-53 14-36 18-42 18-36 14-22 18-26 13-13 19-14 13-5 14-2 9 1 9 3 14 6 18 13 22 21 19 19 27 34M3724 2336l9-1M884 2311l26 2 27 4 27 6 37 10M2185 824l16-34 22-38 16-24 16-20 16-15 16-11 10-6 16-6 22-4 10 0 11 2 16 7 16 9 21 17 22 22 16 19 21 30 16 27M2809 1702l38 88 37 79 32 62 27 48 26 44 32 44 27 33 37 41 59 63 32 32 43 39 26 22 16 12 27 19 43 24 21 9 11 3 16 4 21 3 16 0 21-1M803 2385l40 1 45 4M3333 2327l25 19 20 11 30 13 20 6"/>
<path d="M1971 1593l10-4 15-9 20-19 10-11 9-13 15-23 15-27 15-31 20-45M2348 763l14-23 15-18 15-13 15-11 10-4 15-6 10-2 15 1 10 3 9 4 15 9 15 13 15 16 15 19 15 22 15 24 24 46 20 40M2982 1979l25 58 24 49 15 24 20 30 10 13 20 23 25 24 14 11 15 9 30 12 15 3 20 3M3532 2211l15 0M788 2379l78 0 65-2M970 2293l46 2 51 5M1076 2260l26 1 26 3M2330 1179l31 10 58 23 26 9 26 8 26 4M3293 2004l31 34M3574 2239l31 10 31 7 52 8 47 3"/>
<path d="M818 2371l56-2 56-4 28-4M2153 1328l28-26 23-19 28-21 16-10 28-14 17-7 23-6 28-4 22 0 28 2 11 2 29 8 22 7 28 13 62 31M3398 2102l23 14 28 16 33 16 40 16 39 11 39 7 28 4 56 4M1141 2230l30 2M2169 828l20-31 19-25 15-14 10-7 10-5 9-3 10-2 10 1 10 2 10 4 14 7 15 10M754 2360l20 0 39-4 39-7 38-10 33-11 39-16 45-23 45-27 65-44 84-67 98-83 162-145 45-32 39-32M2303 1185l13 6 13 7 26 19 32 29 33 35 19 24 32 44 85 123 25 36 46 58 32 35 33 31 32 26 32 21 59 33M3949 2412l116-2M1704 2041l11-2 8-2 19-7 7-4 23-16 15-15 11-13 8-10 11-19 15-26 15-30 27-63 30-87 22-74M2160 836l19-37 12-19 11-17 11-14 11-11 12-10 11-7 15-6 12-3 18 1 19 3 19 5 19 10 11 7 12 8 22 20"/>
<path d="M1130 2102l46 3 31 5 78 18 21 4M2508 1242l72 144 42 79 57 104 67 119 62 107 57 94 31 47 31 44 16 20 26 31 15 16 16 14 36 25 31 17 21 10M3554 2225l16 5 36 9 47 7 52 3 72 0M2636 1407l19 48 29 68 29 61 29 54 29 46 24 34 34 41 44 46M3381 2085l43-10 44-9 19-2 34-3M3572 2237l26 12 146 63 62 24 58 19 36 9 31 7 32 4 57 5 57 2M1677 2081l28-25 16-16 22-24 23-26 39-49 16-24 28-43 39-68 55-105 45-93 55-124M2860 1252l28 37 22 32 39 63 28 48 33 61 33 64 50 84 39 70 150 280"/>
<path d="M710 2378l38 1 31 2 92 9M2221 1245l37-6 24-2 31 1 19 2 25 4 37 11 37 13 37 15 74 32 38 14M3626 2276l43 9 62 8 68 4 74 2M1204 2172l49-3M2926 1386l27 35 39 59 49 82 44 68 31 51 57 105 92 185M2543 835l16 10 21 19M3464 2391l11 3 21 5 22 3M3773 2364l32-1M1209 2082l58 2 82 9M1696 2053l19-15 10-9 38-42 34-44 34-52 34-60 29-59 38-88 29-72"/>
<path d="M2503 809l18 0 17 1 13 2 17 7 17 8 17 12 13 12 17 17 13 15 17 22 13 19 17 28 30 57 26 55M1033 2426l60-5M2064 1461l54-62 39-48 49-70 38-61M3395 2098l28 11 22 6 16 4 28 5 27 3 44 2M1339 2092l9-2M3540 2215l37 2"/>
<path d="M1245 2088l16-1 15-3 27-7 31-13 21-12 16-10 27-21 26-24 53-55 42-48M2045 1484l37-17 21-13 16-13 16-15 16-16 16-18 21-27 26-37 95-150M997 2315l35 0M1419 2330l15-4 30-13 30-16 25-17 15-12 20-16 24-24 35-40 30-41 30-48 35-64M3313 2031l25 5 40 3 65 0 54-2 40 0M1117 2257l18-1M3426 2130l60 3M3586 2250l48-6 49-4 39-2"/>
<path d="M1167 2185l44-4 18-2 9-2M1144 2200l39-4 38-7M2288 1189l33 9 33 13 56 28 28 17 33 22 22 16 56 44 50 44 50 47M2333 1178l26 26 25 22 13 8 19 9 12 5 26 3 12-1 13-2 25-7M3487 2395l38 20 25 11 26 9 31 10 32 7 38 5 64 7 25 1 108 0 57-3 51-4 38-5 44-6 127-25 38-7 44-5 38-2M3488 2181l42 1"/>
<path d="M894 2382l26 0M3464 2165l83 2M1431 2323l21-13 16-11M2500 806l16-5 15-3 16 0 16 3 16 6 11 6 5 4 16 14 16 19 16 21 26 46 21 45 21 51M1099 2125l83-7 45-8 29-7 33-13 12-5 33-18 37-25 46-39 78-84 41-50M3728 2425l26 9 34 10 33 7 34 5 33 4 47 3 60 2 40 0 74-3 73-7 67-10 114-21 40-7 47-6 40-2"/>
<path d="M1826 1851l32-37 36-46 56-77 55-83 56-81 20-27 40-51 32-37 36-38 52-52 36-37 47-58 28-37 12-18M2576 862l24-22 11-9 12-6 8-3 12-2 12 1 12 3 12 5 12 7 12 9 12 11 24 28 16 22 12 19 24 43 32 64 28 60 28 65 28 69 31 83 104 279 64 153M2250 1217l18-7 17-5 18-2 18 0 11 0 18 3 29 10 18 7 29 17 41 29 47 37 64 54 53 41M3141 1801l117 153 53 73M3774 2363l24 2 41 1 117-2 35 0M3750 2350l111-13 27-1 26-1M1004 2273l22 0 43-4 33-6 38-9"/>
<path d="M1378 2033l22-3 17-5M911 2376l23-1M3652 2297l29-5 64-13 53-10 58-7 29-1M1453 1957l18-2M3326 2041l19 4M1386 2055l4-1M1738 1992l29-13 17-9 26-18 17-15 21-23 17-21 25-36 17-27 17-28 25-46 22-42 17-36 50-113 72-168M2657 923l12 13 21 25 30 41 25 41 34 63M3427 2130l43 4 55 1 25 2"/>
<path d="M1966 1081l13-21 17-24 12-15 9-9M3590 2252l25 6 31 3M1591 2191l23-21 28-33 18-26 28-46M1053 2423l49 8 38 2 38-2 38-5 33-8 32-10 44-20 16-9 28-18M2413 777l22-22 10-10 11-7 11-6 11-3 11-2 11 0 16 6 11 6 16 14 11 11 17 20 16 25 11 19 32 64"/>
<path d="M999 2265l37-2 47-4 63-12M1235 2162l26 0M3306 2309l27 29 17 14 22 16 16 10 11 5 33 11 16 4 33 4 50 2M3826 2383l50-4 44-1M949 2343l31 0M2284 1193l62 30 46 21 174 64M3501 2191l41 4 30 2"/>
<path d="M938 2285l41-3 32-4 41-8 23-5 23-7 18-7 41-18 23-12M709 2353l61 1 55 4 55 8 55 11M1105 2420l44 6 17 2 22-1 16 0 17-2 38-8 28-9 38-16 39-23 16-11 17-13M3485 2178l33 2M1255 2061l46-3 42-8 38-9 32-13M3487 2183l37-5 46-4 61-1M1677 2080l32-35 14-18 32-46 38-61 46-89M2242 793l14-24 14-21 9-11 14-14 19-15 9-5 14-5 14-1 14 2 14 6 9 5 14 10 14 12 18 20 19 22 14 19M3666 2303l28 0"/>
<path d="M3572 2237l27 5 22 2M1359 2004l24-4 24-8 20-9 40-23M3269 1975l12 7 24 12 32 14 28 7 36 6M1325 2380l19-5 19-8 34-16 14-9 20-14 24-21M899 2366l52 1M1605 2174l17-11 23-16 29-26 34-38 29-39 34-55 34-65 35-74 34-81M3768 2360l63 2"/>
<path d="M3656 2297l63-1M1086 2421l41 2 35-2 26-5 15-4 26-9M1331 2070l24 0 23-3M3117 1762l25 26 30 33 50 61 39 53 55 84 25 35M3540 2215l15 3 24 2"/>
<path d="M613 2407l31 1 38 3 43 7 99 19 37 5 38 2 43 0 37-3 31-6 50-13M3664 2306l31 1 87 0M799 2381l48 1 58 4M1624 1728l57-110 43-85 24-44 24-42M1026 2264l47 2 47 3M2097 1417l30-36 94-117 35-41 30-31M3434 2139l65 5 47 5 41 9 30 9 35 14 35 18 42 24 94 61 35 20 30 14 17 7 24 8 35 9 36 6 35 2M933 2306l22 0 27 2 55 7M2199 1267l38 12 11 3 22 3 33 1 27-4 32-11 22-12 38-23 44-30"/>
<path d="M1298 2001l12 1 13 2 12 4 17 6 12 7 12 8 25 18M1563 2224l16 15 17 12 12 7 13 6 12 4 17 1 12-2 12-3 21-11 13-11 8-8 21-27 12-20 12-23 13-26 16-39 21-59 21-69 16-62 25-102 17-75M2026 1008l29-137 25-101 17-62 16-58 25-77 8-22 17-41 12-25 13-22 12-17 9-10 12-11 12-6 13-2 12 1 13 5 8 5 12 10 17 19 25 33 29 47 33 61 54 107 25 52 20 45M2846 1763l37 77 29 49 13 19 21 28 12 15 17 18M1949 1635l23-24 43-48 33-43 18-28 24-37 24-42 23-45 28-58M3004 1543l38 51 94 109 33 41 29 38 61 87 52 88 33 51 33 46 33 40 19 19 19 17 18 14 19 13 33 15 10 3 19 5 23 3M2073 929l23-48 19-33 14-21 9-12 19-19 9-7 9-5 10-4 14-3 18 2 14 5 14 8M2521 1255l32 67 28 53 19 32 19 28 28 40 28 34 23 24 23 21M3496 2187l33-2M1276 2048l44-4 35-5 34-9 34-13M3054 2069l30 49 19 29 15 20 20 22 19 19 25 19 10 6 14 8 25 11M3652 2294l44-9 30-5 29-3 24-1"/>
<path d="M1528 2259l25-17 20-16 26-22 30-30 20-23 16-19 40-54 46-70 35-60 21-37 30-59 46-96M3627 2278l51 3 71 1M1747 1977l19-4 53-4 14-3 19-7 15-9 9-7 10-9 14-17 14-22 15-28 9-21 15-39 19-60 14-52 15-58 14-62 19-90M2182 817l15-40 9-22 10-20 14-23 14-17 15-12 5-2 14-4 9 0 10 3 14 5 15 7 28 22 43 36 24 17 10 4 10 2 19 3 19-1 38-8 19-5 29-5 9 0 15 4 19 8 19 15 19 21 15 20 14 23 24 44 29 59 28 67 24 59 43 112M3177 2206l24 41 19 27 10 12 14 16 19 17 15 12 14 9 14 8 24 10 34 10 105 27 38 7 34 5M702 2408l59 2 130 12 36 3 41 1M2148 1335l77-58 83-59 65-44M1175 2222l4 0M2130 865l19-38 25-42 24-34 15-17 10-10 24-20 25-15 19-8 30-10 14-3 30-1 14 3 10 3 5 2 20 10 14 10 15 11 20 21 14 20 20 32 20 38"/>
<path d="M1059 2274l42-4 23-5M3418 2123l18 0M2010 1024l48-107 31-63 17-31 18-27 17-24 18-18 13-10 13-6 18-3 17 2 9 3 9 5 9 6 17 16 13 15M2446 1196l25 38 33 58 126 229 20 33 29 47 43 65 15 19 24 30 14 17 25 25 19 18 19 16 29 19 15 9M1280 2136l17 0M3864 2393l108-14 38-3 38-2"/>
<path d="M3275 1981l23 25 38 44M3523 2205l19 2M1294 2052l47-2 31-4 36-7M3807 2379l42-10 36-7 31-3 26-2M1024 2425l56 15 30 6 31 5 30 4 20 2 46 0 46-3 40-8 41-13 20-8 16-8 20-12 20-14 31-25 15-14 25-26 31-35 35-47 41-60 30-50 36-63M2710 1007l25 24 31 34 25 36 20 33 31 57 30 64 41 91 36 86M1150 2128l37-4 16-2 26-6 36-11 32-13 47-26 26-17 42-31 31-28M2226 1239l37-8 42-7 78-10 26-5 47-6"/>
<path d="M1029 2302l32-1M940 2340l44 2M3416 2371l22 14 22 12 28 12 22 7 22 4 28 3 39-1 22-1M835 2336l40 1 106 6M2892 1834l17 32 17 28 16 25 17 23M1351 2083l9 0M2069 936l18-31 22-31 13-14 9-8 14-8 9-4"/>
<path d="M1177 2176l63 0M3671 2308l21 7 58 13 26 5 26 2 42 2M3397 2101l32 6 32 2M2364 769l14-22 19-25 14-16 19-15 14-9 14-5 10-1 9 1 9 2 19 11 14 13 15 17 14 21 18 34 15 29 18 44 15 37M2241 1224l42-22 24-10 18-6 31-6 18-2 24 0M3893 2417l42 0 108-4 48-1"/>
<path d="M3575 2241l47 2 98-1M1586 2197l18-7 18-11 18-16 22-26 18-26 18-30 22-45 22-52M2179 823l26-54 14-23 13-21 13-18 14-13 13-11 13-6 9-2 23 0 9 3 8 4 14 9 13 12 13 15 18 24 18 29M3694 2428l16 2 26 0 53-5M743 2402l19 0M2322 1177l72 48 58 35 52 26 71 33M3870 2395l58-15 45-10 39-6 39-3"/>
<path d="M3223 2246l24 23 14 12 24 17 24 14M1001 2321l20 0M798 2330l28 1 33 4 107 18M697 2400l25 1 38 2M3814 2381l38-3 44-2"/>
<path d="M3533 2211l44 5 36 2M1255 2396l84 8 33 0 28-2 28-6 14-5 28-13 19-12 19-15 23-24 19-22 23-33 24-39 19-34 28-61 14-33M2071 934l15-31 19-33 16-21 19-21 12-10 11-8 15-6 16-4 11 0 12 2M1362 1905l18-1 27-4 18-5 36-10 31-5 22-6 27-11M3474 2171l23 6 49 12 27 5 40 4 41 4"/>
<path d="M3984 2408l37-1M2202 812l26-48 20-34 26-39 20-26 20-23 20-18 11-7 10-5 5-2 15-1 10 1 5 2 15 8 11 9 15 16 15 20 20 34 16 31 20 50 15 41M3826 2383l41-3 116-13 46-2M640 2408l39 1 28 3 128 19 39 4 28 0 27-1 28-4 22-5M3215 2239l11 13 17 17 16 15 28 19 17 9 11 4M1004 2232l26 1 32 5 47 12 27 7"/>
<path d="M2383 1174l51 35 51 43 31 28 40 40 71 77M3634 2282l71-7 56-2M838 2366l61-3 33-3 28-3M2246 1218l16 1 34 6 27 10 39 19 45 27 105 73 39 23 38 23 61 31M3182 1863l34 27 44 29 11 9 78 63 50 43 77 65 22 18 34 25 38 23 34 15 16 5 22 6 17 2 11 1M2688 973l18 19 18 25 17 29 18 33M3306 2023l40-8 22-3 13-1 22 0M1319 2110l9 0"/>
<path d="M1331 2030l51-4 38-4M2720 1551l34 89 22 50 30 63 25 46 26 40 17 23 17 21 17 19 30 30 30 26M3477 2173l38 1M1313 2098l29-2M2204 808l16-15 11-7 6-2 11-4 5 0 17 1M2534 1267l27 61 33 66 28 50 33 54 33 47 27 33 11 12 16 15 28 24M3738 2343l22-4 27-2M2266 781l21-37 35-53 26-31 17-16 22-14 13-4 9-2 9 0 13 1 13 3 17 9 17 12 13 13 13 16 22 29 17 28 26 50 22 46 22 52M3038 2048l66 107 26 39 17 24 22 27 17 19 26 26 17 14 18 11 17 9 13 5 18 5 17 2 17-1 18-1"/>
<path d="M985 2312l34-2 28-3M1878 1763l22-23 34-39 22-28 28-41 45-71 112-194 28-47 23-34 28-40M3107 1745l118 140 33 42 62 86 45 60M3640 2286l28 6 45 5 56 2 84 1M2456 792l20-4 20 0 20 1 19 4 20 6 25 11 20 13 20 17 20 22 14 18 15 22 15 24 15 28 15 30 15 33 20 48M3785 2368l10 0M3763 2360l158 2"/>
<path d="M1072 2250l29-2 24-5 24-6 24-9M1049 2297l32-3M2321 1178l60 47 27 18 27 14 22 10 27 8 33 7 33 5M3659 2301l93-12 38-3 38-1M2507 811l13 2 13 4 13 6 13 8 13 10 14 12 26 29M3448 2148l61 1M1032 2246l50 1 61 4M3723 2337l145 2"/>
<path d="M1179 2145l39-1 26-2 56-7M3321 2039l38-2 26 0M750 2399l26 1M890 2423l53 14 41 10 26 5 47 6 27 3 53 0 34-2 26-3 27-5 20-5 27-10 20-10 20-11 20-14 27-23 20-21M2180 818l20-37 20-33 14-20 20-25 13-13 13-10 14-7 20-5 13-1 14 3 13 6 13 9 14 13 20 24 26 41 14 23M3129 2161l41 57 26 34 20 23 20 20 20 17 20 16 21 14 20 13 33 18 20 9 33 13 54 18 87 23 73 15 34 5 40 4 67 3 67-2 46-4 47-7 54-11 87-23 33-8 40-6 34-3M3289 2001l17 6 14 3 13 2 22 3M426 2406l95 3 182 13 88 4 68 1 88-3M2353 1175l27 7 20 8 27 14 20 12 27 19 27 22 27 23 48 45M3745 2347l54 4 82 1"/>
<path d="M1024 2301l39-1M3002 2001l10 22 15 30 24 42 24 35 25 30 24 25 29 22 29 16 24 11M1094 2261l38-1M3433 2135l42 0M818 2369l47 2 64 6M1361 2364l16-3 16-5 27-11 15-9 16-11 22-17 21-19 10-11M2300 769l26-39 16-20 16-16 16-13 16-8 16-5 26 0 16 5 6 2 10 6 21 18 16 18 11 14 11 16 15 27 27 52 21 47M3801 2376l53 1"/>
<path d="M302 2413l46 2 51 5 46 6 116 20 52 6 52 5 45 1 65-1 39-2 26-3 64-11 65-15M3448 2148l39 12 39 8 32 5 26 2 26 1M1325 2051l25 0 44 2M2154 839l20-25 24-24 17-12 20-12 24-8 20-3 37 1 20 4M917 2423l69 15 62 9 44 2 49-3 44-7 25-6 25-8 19-7 37-16 31-17 19-11M2337 762l6-2 7-1 18 0 13 3 12 6M3794 2375l50-12 56-11 31-4 32-1M1149 2231l23 0"/>
<path d="M1188 2162l47-3 42-7M3554 2225l14 0M1304 2102l39-6M2080 922l13-22 13-19 17-21 12-14 13-11 13-9 8-3 9-3M792 2393l40 0M2143 1346l95-106 45-47M3051 1633l39 45 39 39 39 37 51 51 45 50 140 216 50 70 28 35M3639 2283l17 1M3529 2403l29 16 18 8 24 9 24 7 30 7 35 5 30 2 30 1 53-2 42-6 71-13 78-18 41-8 42-5 35-2"/>
<path d="M1242 2150l24-4 24-8 10-4M1407 2035l19-27 25-38 63-106 126-230 39-69 63-126 25-45 29-52 49-79 24-34 24-29M2257 1208l19 1 19 0 14-1 19-3 28-8 19-5 33-14M885 2350l27 1 55 4M3664 2302l5-1M2236 795l18-19 14-12 13-9 9-6 19-7 18-5 18-2 9 1 13 4 23 12 22 19M3438 2140l27 4 50 1"/>
<path d="M3652 2295l57 13 36 7 36 4 31 2M3516 2201l39 2M2361 1175l26 16 25 11 16 5 15 3 26 3M1753 1484l57-139 35-84 31-66 36-69 10-18 16-24 15-21 15-19 16-14 10-8 10-6 16-5M2455 1204l36 46 57 77 51 67 36 41 41 41"/>
<path d="M589 2409l35 1 36 4 36 5 125 22 42 5 36 2 47-1 42-5 36-8 35-11M959 2347l16 0M3580 2243l5 0M2899 1331l39 65 26 48 22 41 109 222 39 83M1987 1568l16-16 22-24 22-28 27-40 22-37 11-21M2373 771l11-18 21-29 22-21 17-13 10-5 17-4 11 0 10 3 6 2 5 3 11 7 16 15 11 13 17 24 16 28 16 33 11 24 22 54"/>
<path d="M1054 2238l32-2 27-6 23-6 46-18 46-23M3375 2081l14 4 13 2M922 2369l27 0M2130 865l26-75 16-39 26-56 16-29 11-17 10-14 11-13 11-10 10-9 11-7 10-4 11-3 16-1 10 0 16 4 10 5 16 11 11 9 10 12 21 27 32 51 16 30 10 22 22 49M2721 1554l15 42 21 50 16 36 37 78 42 81 32 56 21 33 21 31 27 35 26 28 16 12 31 21 32 17M1992 1045l13-26 18-31 22-34 9-12 14-15 13-14 13-11M2041 1491l21-18 26-26 16-18 26-33 22-30 26-41 53-90"/>
<path d="M3806 2377l57-8 51-3M2221 801l14-11 14-8 18-6 14 0M2339 761l19-6 9-1 14 1 15 4 9 3 10 5 14 10M649 2378l57 1 147 12M3444 2146l57 9 39 3"/>
<path d="M1039 2308l10 0M1095 2174l29 2 15 3 25 6 44 13M3613 2268l79 0M1046 2293l37-1M3415 2116l18 1"/>
<path d="M3568 2413l16 5 15 5 16 3 20 3 36 1 52-4M2342 762l18-15 9-6 13-5 9-3 13 0 9 1 14 4 8 3 9 5 22 16 23 22 26 32M893 2281l32 1 16 2 21 4 37 10 43 15M1335 2376l27-5 37-9 32-10 21-7 38-17 10-5 22-14 32-25 10-11 22-23 21-28 21-33 16-29 16-31 32-72M2082 918l16-23 16-20 16-17 16-15 21-17 16-10 16-8 16-6M3840 2387l15 0"/>
<path d="M1896 1193l18-35 18-31 40-64 27-35 13-16 18-19M3869 2396l108-12 29-2 42-2M3693 2323l36-4 42-2 152-1M1038 2253l34-2 23-4 22-7 23-9 39-21 34-22 34-24 163-132M3483 2393l23 14 17 8 17 7 33 11 29 5 28 2 39 0 40-3 67-11"/>
<path d="M1114 2115l62 0 49 1 53 0 22-2 27-5M1647 2121l19-22 20-25 24-38 15-25M3286 1995l63 51 68 52 39 28 29 20 63 39 30 15 29 12 24 9 24 6 25 5 34 3M1192 2153l9 0 14-3 23-9 9-5 14-9 23-19 27-28 27-32 78-104 46-59 27-24 28-21 27-18 37-22M3506 2194l23 2M3610 2267l9 1"/>
<path d="M628 2394l30 2 35 6 36 9 77 23 36 10 42 9 41 6 66 5 83 3 71-1 54-5 42-7 23-5 36-13 18-8 18-11 12-7 12-10 23-21 30-33 24-30M2127 873l18-49 18-45 18-38 18-33 18-27 11-14 18-14 12-6 12-3 6 0 12 2 18 6 18 10 17 15 24 24 66 79M772 2337l52 0 94-2 57-3 31-3M2648 911l13 1 13 4 13 6 13 10 13 13 14 15 13 17 13 20 13 23 13 26 31 67 31 78 31 87M847 2308l115-3 104-6M2147 1340l76-89 44-49"/>
<path d="M2409 772l45-33 26-17 15-8 20-9 10-2 10-1 20 3 15 7 15 10 15 15 21 26 20 32 25 49 25 58 15 39 20 56 26 79M3054 2069l20 34 25 37 16 19 20 23 15 14 20 17 25 17 25 14M3795 2374l10 0M1238 2172l9 0M948 2348l28-1M1611 1749l71-134 54-111 33-64 32-60 33-56M3083 2108l27 50 22 37 22 34 16 23 16 20 22 24 27 25 22 18 27 17 27 14 33 11 22 6 32 6 27 3 33 1 38 0M1548 2238l28-17 27-19 23-18 18-18 13-14 23-28 23-34 27-50 23-48 27-67M2353 764l32-52 27-42 28-40 18-21 18-15 14-6 9-2 9 1 9 2 9 5 9 6 9 9 9 12 14 20 9 15 14 28 18 41 23 60 18 53 23 73 22 79M3308 2312l23 18 23 15 27 12 23 7"/>
<path d="M1113 2153l60 0 95 4M3593 2257l35 2 35 1M649 2403l40 1 52 3M1099 2421l50 8 26 1 30-1 25-3 25-6 31-12 25-14 25-18M3181 2212l15 15 15 12 20 14 5 2M2231 1234l67-37 41-20M2894 1322l26 39 35 59 46 81 41 76 82 128 137 209 46 78 41 66"/>
<path d="M1419 2328l14 0 24-2 14-2 14-4 14-7 15-8 18-15 19-20 10-11 19-28 19-33 23-49M2034 986l14-27 24-41 28-44 19-25 14-16 14-15 24-20 33-21 14-6 24-7 33-4 10 0 28 3M1115 2204l28 1 53 6M3551 2223l24 3M3734 2341l37 3 49 1 128 0M1308 2384l25-3 25-6 25-10 20-9 30-17 30-20 51-40 20-17 25-25 20-21 25-29 30-38 20-31 20-34M1985 1054l25-78 25-69 26-61 20-43 20-37 10-16 15-22 20-24 10-10 15-13 15-8 15-7 15-3 10-1 10 1 10 2 15 5 25 13 40 29 16 14 20 20 20 22"/>
<path d="M820 2348l33 1 44 3 66 7M1388 2351l10-1 21-5 26-10 31-18 26-20 10-8 36-38 26-32 41-56M3120 1766l16 24 15 27M3765 2359l57-5 51-2M1048 2424l50 5 17 0 33-3 27-4 22-6 34-13M1216 2167l10 1 24 3M1511 2273l9-1 15-2 19-5 14-5 14-6 19-12 14-10 19-17 19-20 24-30 19-29 19-31 38-72 29-63 33-82 19-49M2205 809l23-51 24-43 19-29 19-22 29-26 14-8 5-2 14-4 9-1 10 1 14 4 10 4 14 9 29 24 23 25 24 29 29 41 38 58 28 46"/>
<path d="M594 2409l41 0 106 4 29 0 24-1M2376 1172l47 54 82 98 52 60 71 73 52 49 24 21M3530 2210l59-1M1380 1993l37 0 20 3M2021 1008l21-58 24-65 21-49 21-44 21-39 20-33 21-28 12-13 9-7 20-13 9-4 12-3 12 1 9 2 16 7 9 6 12 11 25 28 16 22 21 35M2563 1307l25 54 16 32 17 29 17 25 20 26 21 21 12 11M2489 801l10-1 10 0 15 5 15 9 14 14 10 12 20 29M2000 1037l36-83 19-36 22-42 23-38 13-19 19-24 22-24 9-9 14-10 13-7 14-5 23-3 9 1 13 3 14 6 13 9 19 14"/>
<path d="M1410 1815l21-2 30-6 33 3 26-1 8-1 17-3 17-5 12-5 17-8M904 2350l71 0M1086 2256l23 0 29-2M3957 2406l39-1M1873 1769l51-33 26-18 35-31 21-20 15-17 20-26 16-22 20-32 20-37 36-74 36-83 50-132M3745 2350l26-3 20 0"/>
<path d="M3491 2183l9 0M2482 802l21-16 21-11 10-3 10-3 16-1 11 1 10 3 16 7 15 10 16 14 21 24 16 22 20 34 16 30 21 43 16 36 21 52 26 72M3808 2378l74-25 31-9 36-7 32-3M1310 1968l24 1 28 4 34 7 48 13M3644 2289l34 6 33 4 53 3M3386 2091l85-8 45-1"/>
<path d="M1038 2237l21 0 26 3 63 9M2341 1174l11 11 37 36 31 28 21 17 32 22 89 56 37 27 26 20M3571 2237l21 8 26 9 37 10 37 6 31 2M1182 2180l52 2M2135 856l21-23 10-9 11-8 10-6 10-4 21-4M2620 1385l41 75 26 42 20 30M3697 2326l52-4 41-2 26-1M1640 1702l41-91 46-104 46-96 23-45 27-49 23-37 23-32M2274 1198l4 2 28 7 50 13 19 4 27 4 102 13M3556 2227l30 5 29 2"/>
<path d="M1364 2000l76-4M2099 1414l40-15 31-15 20-13 20-15 15-13 25-26 30-35 31-39 50-69M3076 1683l71 126M3902 2400l35 0M976 2306l83-3M3432 2132l19 4 20 2M1011 2241l25 1 31 3 42 8 26 6M2118 1384l94-101 36-36 26-23 26-21 20-14 21-12M3055 1644l94 129 57 82 57 86 36 60 26 39M3521 2204l31 7 21 2 83 4M1307 1747l27-5 47-12 42-15 38-17 31 2 27-1 35-5 19-5 27-10 27-13 27-16 27-21"/>
<path d="M729 2395l74 2M2136 1357l23-18 34-23 63-36 109-52 45-19 35-12M3005 1542l34 57 23 34 46 63 109 144 46 64 57 95 45 73M959 2279l51 1 92 5M3503 2192l20-1 36-1M727 2398l54 2M2654 1438l27 55 38 69 28 44 16 23 22 29M1629 1719l112-223 98-184M1907 1177l93-193 34-68 24-44 20-32 14-21 15-18 20-19 14-11 15-6 14-2 15 1 15 6 19 14 15 15M2414 1176l59 147 24 57 29 64 30 56 19 35 20 31 19 27 20 24 24 25 19 17 25 16 24 12 15 6 39 9 34 5M3667 2306l20-2 24-1"/>
<path d="M1094 2216l59-2 41-4M1483 1800l18 2 18 0 28-3 21-6 14-7 14-8M1899 1189l25-56 17-36 25-47 25-40 24-33 11-13 10-10 22-18 21-13M1903 1713l26-13 27-18 22-18 16-16 16-18 16-21 11-15 16-26 22-38 32-66 38-86 38-96M3751 2351l54-10 54-9 27-2 32-1M1410 2336l27 1 27 0 58-6 31-4 31-7 35-9 16-7 19-12 24-21 19-21 19-28 24-40 23-52 19-50 23-72 20-68 15-59 24-96M2100 896l47-139 89-286 19-58 20-53 23-53 12-20 11-16 12-11 8-5 11-4 12-1 11 4 12 7 16 15 19 27 27 51 27 61 43 110 46 135 39 128 31 116M2880 1817l19 33 12 17 15 19M3112 2144l23 39 20 29 15 20 16 17 12 11 7 6 16 10 19 8 16 3"/>
<path d="M1255 2102l20-2 20-4 15-4 24-11 35-19 20-14 25-21M2475 1215l30 40 35 42 30 30 22 19M3543 2217l35 3 57 3M1405 1976l18-2 30-9 14-4M1710 1572l66-172 35-88 35-80 31-63 31-52 13-19 18-22 13-12 14-8 13-5 13 0M3193 2222l17 29 22 32 18 23 27 31 17 18 18 15 22 17 22 13 22 9 13 5 27 5 18 2 22 1 26-2 44-5 31-5M1663 1658l19-34 100-203 50-95M2844 1760l32 57 50 85 45 73 19 26 27 35 27 32 37 38"/>
<path d="M1694 1602l96-239 37-90 42-92 17-34 20-39 17-28 17-25 12-16 17-17 12-9 17-7 13 0 12 3M2215 1246l12 13 13 11 12 8 13 7 12 4 8 1 13-1 17-4 8-3 12-8 21-18 25-26 38-47M3513 2199l25-8 26-6 15-3 25-1M2341 1175l18 10 22 14 91 58 22 13 32 14 27 8M1050 2187l67-4 34-4 22-4 45-12 45-18 28-16 22-14 28-22 39-35 51-53M2003 1543l50-34 28-23 28-25 40-38 123-135 39-39 34-28 22-16 23-13 28-12M3702 2326l39 1 118-3 56 0"/>
<path d="M860 2331l21 0 26 2 73 12M3234 2254l26 23 26 19M2512 813l25-12 14-3 10-1 10 1 14 5 15 8 10 8 14 16 15 19 9 15 15 27 24 52 25 63M1161 2163l25-1 25-5 35-10 30-13 40-21 20-14 25-19 29-26M2386 1176l20 9 15 6 25 6M1393 2031l21-4"/>
<path d="M2300 769l22-39 19-30 22-31 12-13 11-11 11-9 11-6 23-9 15-3 7 0 12 3 11 5 7 4 8 5 11 11 15 16 23 31 22 39 26 52 30 67 23 55M3214 1908l12 4 15 4 26 1M742 2384l169 1M1431 2005l31-53 72-120 145-232 61-106 30-50 24-38M2181 1286l55-6 90-16 43-3 24 1 24 5 12 4 12 5 24 12 13 7 18 14 18 15 24 24 18 19 30 36 79 101 30 37 55 59M3772 2364l60 0M1474 1894l31 4 13 1M3125 1775l35 43 22 26 40 42 40 40 53 66 84 111M1611 2166l30-8 25-10 25-13 30-20 25-21 25-26 25-32 20-30 15-25 30-56 50-107 35-82 110-264M2705 1002l15 11 20 19 30 34 15 20 15 22 29 51 35 67 35 74 30 68 55 134M3399 2101l60 4 64 1"/>
<path d="M3672 2313l35-12 26-7 25-4 25-2M3456 2388l26 12 32 10 10 3 22 3 26 3 37-1M881 2386l27 0M2578 865l16-1 16 2 21 6 16 8 16 11 16 14 17 17 16 21 16 23 16 27 16 30 16 32 32 73 43 108M939 2349l35 0"/>
<path d="M1856 1802l33-40 23-30 16-23 28-42 33-58 22-42 56-113M3675 2313l34 6 38 3 11 0M822 2378l50 2 44 5M1148 2416l33-1 22-3 33-8 28-10M768 2383l55 2 60 5M1212 2092l36 0 25-2 30-4 41-7 30-9M2043 971l26-49 15-24 10-13 10-11 15-14 16-9 10-3"/>
<path d="M940 2341l27-2 27-4M1875 1235l40-107 31-76 32-65 18-32 13-21 18-25 14-16 13-13 18-13 14-6 13-3 18-1 14 3M2450 1199l81 109 130 187 31 43 50 63 31 35M3178 1860l13 3 14 1 13 0 18-1M765 2351l62-1 55-2 73-7 33-3M1879 1760l22-32 22-37 23-46 11-26M2202 808l11-10 5-4 12-6 11-3 16-1M2374 765l56-34 17-9 11-3 11-1 6 0 11 3 11 7 11 10 11 14 11 17 6 10 11 24 11 27 11 31M2759 1608l22 60 11 25 11 21 11 18 11 14 11 12 12 9 5 4M3577 2245l33-1M3815 2380l28 0M3123 2156l19 27 14 17 14 16 23 22 14 12 23 16 19 10 27 10"/>
<path d="M2135 1357l35-32 58-58 75-83M2287 775l31-35 14-11 13-8 14-6 13-2 9 0 14 3 9 4 9 5 18 14 9 9 18 20 22 33M2335 761l15-18 9-10 15-12 14-8 10-3 14-2 19 2 10 3 14 8 10 7 14 12 14 17 24 34 29 50M3431 2133l58-4 72-1M1345 2039l21-3 21-7 22-12 29-22M2754 1606l47 93 25 47 30 51 21 32 30 42 17 22 21 24"/>
<path d="M1171 2192l29-2 29-5M3551 2222l38-5 20-1 29-1M1291 2386l25 7 25 5 15 1 20 0 20-4 20-6 20-8 15-9 20-14 20-18 35-40 30-43 30-50 15-27M2135 858l15-32 15-29 15-25 15-22 15-17 10-9 15-11 15-7 15-4 15 0 20 5 20 7 15 8 20 13 15 12 20 19M2212 1255l28-27 40-33M3742 2346l22-1M1067 2198l49-4 50-8 29-6 35-11 50-20M2519 1254l113 164 45 60"/>
<path d="M3894 2398l35-1M1058 2280l31-1 25-3M2000 1547l49-57 25-31 117-162 30-41 37-46M3858 2421l31-1 43-4 56-8 92-15 43-5 43-4 37-1M3175 2204l21 28 21 24 27 26 32 24 32 19 11 4 32 13 27 8M1397 2042l6 0M3946 2405l57-1"/>
<path d="M1310 2000l31-1 45-8 26-6 15-4 35-14M808 2384l104 0M1899 1724l18-10 19-12 30-27 13-13 12-15 24-36 25-43 24-49 31-69 37-89M3829 2384l55 2 55 1M817 2358l37 1 15 1 73 11M3378 2084l41 3 47 2M1063 2284l37 0"/>
<path d="M1053 2302l10 0M1737 1992l47-25 22-13 37-27 26-22 27-26 31-35 22-27 16-24 21-35 21-40 16-32 16-34 48-115 95-249M2543 834l10 2 27 7 21 9 16 10 21 16 16 15 16 16 16 19 16 22 16 24 31 54 22 42 15 33 38 86M3746 2349l16 0M1354 2065l29-1M1687 2065l8-5 13-10 21-21 21-26 17-24 21-36 21-40 21-44 21-48M2298 770l17-32 21-36 12-19 13-16 8-9 13-10 17-9 8-2 9-1 12 2 9 2 8 4 9 5 12 11 17 20 17 26 17 30 17 34 12 28 26 63M2285 777l32-66 16-30 16-26 16-23 16-17 16-12 6-2 10-3 16 0 6 0 16 8 10 8 6 6 16 21 16 26 21 44 17 40 21 60 16 51M2874 1809l27 54 22 39 37 65 32 49 38 51 48 61 54 71 43 53 37 41 22 20 26 20 22 15 16 8 11 4 26 9 22 3 27 1 37-2M571 2406l38 1 45 6 38 7 114 24 45 8 45 5 50 3 51 1 51-2 51-5 57-8 58-11 51-14 38-13 19-8 25-13 38-23 32-23 19-17 19-19"/>
<path d="M2434 783l5-3 9-2 14-2 14 2 9 4 9 6 14 11 14 14 14 17M3489 2183l9 3 19 3 32 5M1074 2169l53-3 54-8 69-16 64-19M3776 2364l27 1M1195 2054l56-1 35 1 31-1 45-3 41-5M1971 1075l15-24 15-22 25-30M2397 1176l40 52 36 43 40 44 21 21 40 36 71 52M1280 2023l72-4 73-6M3885 2397l47-1"/>
<path d="M2047 968l36-108 23-67 28-70 28-60 11-23 12-21 16-23 8-10 16-17 12-9 11-7 8-3 12-1 12 1 12 4 16 8 8 5 15 13 12 12 28 34 23 34 52 85 27 51M3093 2121l12 21 15 25 16 23 20 24 24 25 27 21 20 12 27 10 24 6M3272 1977l9 2 29 3M2717 1020l15 13 14 17 24 37 19 35M1026 2280l36-1 37-3 18-3M1459 1971l128-226 92-158 73-140 49-90 49-86 36-61M2436 1189l91 142 74 112 250 355 55 76 61 81M3657 2428l36 9 25 4 24 3 24 2 31 2 31 0 30-2 43-4 165-26 42-4 37-1"/>
<path d="M3912 2401l52-1M1203 2192l18-2M3474 2171l9 1M3271 1978l25 11 25 8 20 5 25 4M3635 2284l27-11 27-8 16-5 32-6 27-2"/>
<path d="M1007 2307l27-2 22-2M2271 1199l16 3 81 22 103 25 32 10 33 11M3746 2349l21 1M3629 2279l35 2M1317 2071l21-4 30-10 21-11 17-11 4-4M637 2381l62 1 89 5 73 3M2293 1189l28-3 22-2 34 1 28 4 28 7 22 7M3364 2073l29 7 33 7 34 3 45 3"/>
<path d="M1176 2096l96-3 50-4 36-5M1079 2266l49-1M3472 2392l32 14 16 5 22 5 21 4 27 2 37 0M955 2299l47 2 26 4 21 4M1403 2341l21-4 31-9 21-7 21-10 27-16 16-11 15-13 16-15 21-23 16-20 26-41 22-37 21-43 15-36M2074 1445l55-21 22-10 28-15 16-10 28-20 44-40 22-23 111-129M3511 2200l72-32 38-15 33-8 23-2 11 0"/>
<path d="M1136 2236l30-1M2735 1577l45 94 30 55 25 42 20 30 24 34 25 30 25 26M3664 2304l10-1M3677 2313l30 2M1396 1748l65-11 23 8 15 3 27 3 22-1 23-3 19-6 23-11 15-9M3326 2040l12 3M1215 2009l29 2 17 3 21 5 42 14 63 27"/>
<path d="M806 2322l22 1 39 4 84 15 28 4M2741 1587l50 81M750 2384l164 0M475 2409l29 0 35 3 35 4 99 15 35 3 29 2 35-1 29-2 35-5 35-8M1189 2180l19-1 38-6"/>
<path d="M1099 2189l58 2 58 3M2689 977l21 22 21 27 21 32 26 48M2692 1505l19 36 20 31M754 2396l24 0 47-2M2191 1277l30-16 30-14 36-13 23-7 36-7 30-3 42-4 48-2M2825 1726l19 62 19 56 24 62 14 34 15 29 19 35 14 22 15 19 14 16 19 17 14 10 24 12 34 12 24 7M3619 2273l34 0"/>
<path d="M3217 1910l115 136M3534 2211l14 5 23 6 18 4 23 2M1903 1184l33-76 32-69 28-53 17-28 16-24 12-15 16-19 12-12 12-9 12-7 8-3 17-4 12-1M753 2389l104-1 57-4M1176 2185l30-4 35-6M2080 1438l65-19 30-7 55-10 79-13 45-9 25-6 65-20 80-31 45-14M3493 2185l10 3 40 9 40 5 145 5"/>
<path d="M2209 1258l30-13 11-3 25-5 21-1 25-1 36 2 72 6 26 1 56 0M2951 1437l93 164 61 94 56 80 57 73 46 55 87 116 36 44 51 60 31 33 41 40M3658 2298l41 15 41 10 51 6 57 4 20 1M973 2426l35 5 30 3 41 1 36-1 41-7 35-7 36-12 29-12M3750 2352l70 0M514 2411l31 0 37 3 43 5 123 19 43 3 24 1 43-1 37-3 37-5 43-8M3588 2250l24 1 43 0M1115 2225l69-5"/>
<path d="M3486 2180l34 7 39 4M1589 2194l16-8 15-10 26-22 26-29 26-35 26-41 20-37 31-63 31-69M2452 790l10-7 15-9 16-5 10-2 16 0 10 1 16 6 15 10 16 13 15 16 26 35 26 43 31 59M3644 2426l21 6 26 4 20 1 21 1 36-3 36-6 26-6M3939 2404l36-2M1228 2403l37 2 32-1 31-5 21-6 11-4 27-14 31-23 21-20 22-24 10-14M260 2403l36 1 42 6 36 8 103 24 66 12 36 5 36 3 91 4 54 1 85-2 48-2 48-5 42-7 43-9 36-11 30-12M1972 1073l37-66 42-70 36-53 18-24 18-20 30-28 12-9 18-10 19-7 18-3 18 1 18 4M3016 2020l30 41 66 85 36 39 24 21 12 9"/>
<path d="M3641 2285l37 3 27 0M1195 2117l15 1 19 3 34 9 30 11M2759 1610l30 85 14 38 15 34 15 33 14 28 10 19 20 32 14 21 15 19 39 44 29 29 49 43 20 18M3209 2236l25 20 24 17M1187 2144l71-1 36-2M3846 2421l29 6 36 4 53 1 53-4 124-14 41-3 24-1M3722 2335l40 5 40 1"/>
<path d="M1242 2400l19 1 24-1 34-3 20-4 24-6 24-8 20-8 19-10 19-12 20-14 19-16 25-24 19-21 14-19 25-33 9-14M2430 780l15-4 24-1 10 1 10 2 14 6 15 9 9 8 20 19 14 17 20 28M3732 2340l105-27 31-6 21-2 37-3M1335 1937l98-2 29-3 15 0 15-3M3814 2380l20 0M1301 2087l31 3 16 2M3328 2324l31 28 31 26 41 27 16 8 41 18 21 7 26 7 25 5 26 3 42 1 20-1 31-3 26-4 57-12 36-9M3922 2403l21-1"/>
<path d="M934 2330l68 1M3675 2315l34-4 45-3 56-3M2504 1241l23 24 18 17M3047 1625l40 76 32 63M3665 2302l98-3 39 0M1135 2115l40-2 89 4 35-1 27-3M3230 1928l54 35 30 16 18 7 18 5 35 8 9 1"/>
<path d="M2238 1228l27-10 16-5 22-4 21-3 32 1 16 2 22 4 27 9 37 16 43 25 59 40M3070 1671l32 39 123 140 38 45 96 144 54 76M3719 2334l32 2M1209 2408l27 0 22-2 32-6 10-4 22-9 16-9 11-8M2451 787l16 4 11 5M2917 1867l11 26 26 58 22 39 16 26 21 28 16 19 27 26 32 26M3666 2306l150-1M1155 2198l29 1 20 3M3609 2267l29 0M1373 2357l29 1 24-1 14-2 24-5 29-11 19-10 19-12 19-16 20-20 19-23 19-28 9-16 20-34 19-38 19-41 19-45M2303 767l19-28 24-33 24-27 14-15 10-9 19-13 19-9 10-4 9-1 10 0 9 1 5 2 15 7 19 16 19 23 19 30 14 27 20 41 24 59 19 52"/>
<path d="M740 2364l53 1 47 2 59 5 37 4M1883 1754l37-53 32-51 26-48 48-92M1244 2092l30 1 64 6M3674 2313l89-1M808 2322l55 2 93 5 49 2M1367 2058l20 0M1770 1943l16-22 24-39 33-57M3388 2091l24 10 33 7"/>
<path d="M2297 771l15-17 10-9 9-9 10-7 10-5 15-5 10-2 14 1 15 4 10 4 20 13 10 7 14 14 10 11 25 32M1150 2217l41-2M2164 834l12-26 25-47 12-20 17-24 16-19 20-18 13-8 16-5 21-2 16 5 17 9 16 13 8 9 21 26 16 25 16 29M3202 1892l25-1 20-3M3665 2428l34 8 40 8 41 6 27 3 40 4 34 2 67 0 41-2 54-6 60-9 95-19 40-7 47-6 41-1M1416 2333l28-17 23-17M3365 2074l33-15 23-9 38-9 23-2"/>
<path d="M2354 765l11-6 21-7 15-1 11 2 21 6 15 9 16 12 16 16M615 2335l33 1 39 2 189 15 50 2 38 0M2323 1179l66 32 89 40 50 28 22 14 11 9M3343 2054l27 8 39 6 39 3M1057 2246l25-4 20-5 20-6 25-11 20-11 20-13 15-10 35-29 15-14 25-25 45-50 50-59 89-110 105-97 35-34M2060 1463l40-19 35-14 60-21 44-13 80-30 115-49 40-12 30-7 30-1 25 1M3273 1981l13 6 26 8 14 3 17 2"/>
<path d="M1912 1167l23-56 27-58 27-50 31-47 27-34 20-21 19-17 31-23 23-15 12-6M1931 1663l48-55 34-42 14-21 34-54 24-45 19-41M2334 766l19-36 15-23 14-19 14-15 10-8 10-6 14-7 10-2 9-2 10 0 14 5 10 5 9 6 15 13 19 22 19 26 19 30 24 42 29 54 24 50M744 2401l35 2 35 4 35 8 88 21 42 9 46 7 47 4 47 1 59-4 71-11 23-4 29-8 41-14 24-9 23-11 24-13 23-16 18-13 23-20 41-40 36-42 41-54 53-78M2088 911l17-44 18-40 18-34 17-29 18-25 17-20 18-16 12-8 12-6 11-4 12-2 18 1 11 2 30 9 17 9 24 17 23 23 24 29M1007 2314l32-2M2109 1394l18 3 18 1 14-1 19-2 23-7 23-9 22-14 28-24 14-14 23-26 18-22 23-30 55-76"/>
<path d="M1169 2225l9 0M3255 1958l20 2M1266 2156l4-1M926 2338l35 0 31-2M3441 2145l81-2M1029 2425l38 4 33 0 10-1 19-4 24-8M2062 943l28-43 24-33 29-34 14-14 19-16 19-14 14-7 14-5 14-3 15-1 18 3 5 2M2725 1561l33 74 34 68 19 34 23 40 24 38 28 40 29 35 42 48"/>
<path d="M3541 2407l32 12 37 9 22 3 27 3 21 0 32-1 27-2 38-5M1129 2237l33-2M3472 2171l57 1M3645 2290l36-9 25-5 25-3 20-1M1102 2236l25 1 30 5M1418 2330l24-3 25-7 34-17 25-17 29-24 35-35 34-40 30-39 54-79 109-166 108-167 79-127 29-51 40-72 34-66 44-89M2452 792l19-12 10-4 10-2 15 0 10 2 10 3 14 7 20 15 15 15 10 11 19 25 25 39M3599 2260l20 1"/>
<path d="M3526 2207l21 6 16 3 53 9 32 3 42 1M1285 2106l24-3 17-5 12-4 17-9M2166 831l17-41 21-44 16-29 21-30 16-19 21-16 17-8 24-6 9 0 12 2 13 4 16 10 13 11 8 8 16 18 29 39 21 34 17 31M2907 1854l25 63 25 57 21 40 20 33 9 11 12 14 13 12 16 13 21 12 12 6 8 2M907 2351l64-1M2405 1179l80 98 25 28 25 26 29 28 20 17 20 14 35 22M3242 2259l5 6 20 18 31 21M3762 2356l87-1"/>
<path d="M3061 1655l23 17 24 10 24 5 24 0 23-5 28-9 28-14 27-15 12 1M881 2243l16 1 15 3 16 3 20 8 21 9 21 11 51 34M2475 796l15-7 26-9 16-4 15 0 16 3 15 6 16 9 15 13 16 16 15 20 21 32 15 28 26 54 26 63 16 41M3152 2184l16 20 15 17 16 15 21 19 36 25 31 15M1246 2153l26 2M2433 780l17 1 22 7 13 7 13 10M2452 789l9-4 21-5 17 0 22 4 13 5 9 5 17 12 26 27 21 29 18 27M3143 2175l30 36 21 21 18 15 34 25 22 13 17 9"/>
<path d="M956 2288l23 0 32 4 51 10M2078 923l32-51 19-25 18-23 33-33 9-8 18-14 23-14 19-7 23-6 23-2 28 1 18 3 14 3 28 13 14 8M2812 1704l19 54 18 48 19 44 18 40 14 28 23 40 14 22 28 39 18 22 23 24 60 59 74 78 32 31 28 21 32 20 28 14 14 5 14 3M1045 2255l58-4 49-9M3465 2165l24 2 44 3M2932 1398l44 81 65 131 92 178M546 2375l43 2 55 6 43 7 109 22 55 9 55 4 31 1 18-1M3590 2251l30 6 25 2 18 0"/>
<path d="M3847 2390l75-10 42-2 22-1M937 2247l33 1 44 4 27 5 76 17M1391 2348l29 1 15-1 15-2 22-6 18-7 12-6 11-7 14-12 19-18 15-18 25-39 23-41 26-57M2392 771l11-14 26-26 15-12 14-8 15-4 15-1 11 3 11 5 15 10 15 16 11 14 14 23 23 41 14 33 15 37M3108 1750l19 0 15-2 29-4 26-6M3466 2165l18 2"/>
<path d="M3434 2137l34 3M938 2349l33 0M2225 1238l27 1 33 4 27 4 33 8 49 14 87 28 98 29M3195 1881l65 61 126 138 49 52 38 35 44 35 27 19 33 19 16 8 27 12 22 7 27 7 27 4 28 3M971 2340l17 1M1765 1949l17-15 22-22 27-32 34-42 33-48 28-45 44-80 39-76 56-114 27-53M2464 793l28-69 17-36 17-31 16-24 11-12 11-8 11-4 6-1 6 1 11 3 5 3 11 10 6 5 11 15 17 29 22 48 17 43 22 65 28 91 27 98 34 125M3747 2350l22-1 39-1M3230 1929l32 0 57 5"/>
<path d="M1050 2224l23 1 28 3 17 3 40 8M3495 2397l28 12 40 13 45 11 35 5 34 1 39-2 40-4 51-9M712 2376l80 1 125 7M2009 1022l29-54 33-56 28-40 19-22 24-22 14-11 10-6 19-7 14-4 14-2 15 1M2464 1207l51 67 21 23 36 35 25 21"/>
<path d="M1154 2141l39 1 40 4 44 6M3821 2381l34 3 39 2 129 1M1080 2270l37 0M2657 925l11 3 10 5 16 12 15 16 11 13 10 15 21 35 21 42 21 49 20 54M3172 2202l26 34 32 35 15 15 16 13 36 27 26 15 42 19 42 14 31 7M2379 767l16-18 12-12 24-17 12-6 12-2 12-1 16 3 16 7 12 8 17 15 16 18 12 15 16 24 16 27 12 21 20 40M1061 2275l22 0 27 3M1763 1954l32-45 38-57 16-26 32-56 17-31 27-54 21-46M3744 2346l32 3 43 1"/>
<path d="M606 2402l30 1 36 5 35 6 101 22 36 6 29 3 42 0 36-2 41-7 36-10M2440 784l11 1 12 4 18 8M1321 2089l9 0 22-3M2240 795l13-24 18-29 13-17 9-10 17-17 14-11 13-6 9-2 9-2 8 1 9 3 13 5 14 10 13 12 22 25 13 18 18 28 13 23M3485 2181l49-5 44-1M2490 1228l70 74M3499 2190l45 2 105-3 40 1M1130 2256l5 0M3454 2154l33-1 42 0"/>
<path d="M2256 1211l46-16 59-22M3633 2424l29 7 29 5 23 2 23 0 29-1 35-4 134-18 35-3 29-1M2358 1174l27 13 33 18 78 51 55 31M752 2366l139-4 43-3 32-4M2197 1270l37-11 43-12 42-8 27-3 21-1 32 2 22 4 16 5 32 12 10 5 27 17 21 14 32 27 48 46M3284 1993l37 40 16 15 32 28 16 11 21 13 22 10 21 7 27 5M3885 2397l28 0"/>
<path d="M830 2374l108-1M2322 1178l23 14 18 9 14 5 13 3 23 1 23-5 13-5M2731 1041l9 6 13 13 14 15 13 18 23 36 23 42 22 47 50 112M3506 2195l32 4 41 3M1939 1125l33-77 22-48 16-33 28-49 17-26 16-23 17-20 11-11 16-13 12-6 16-6 11-1 17 2 11 3M2447 1195l44 62 17 21 16 20 45 47 33 34 38 38M3851 2390l11 0M1156 2178l15 1 16 2 35 9M2517 816l15-2 11 0 15 5 10 6 10 7 16 15 15 20 10 16"/>
<path d="M3457 2158l28-5 27-3M2374 765l21-8 22-6 37-11 27-5 21 0 16 2 11 3 16 8 16 12 16 15 16 20 10 16 16 28 11 21 10 23 16 39M2944 1914l22 48 21 42 16 28 27 40 42 54 32 37 38 40 31 30 38 31 42 31 32 21 43 24 32 15 43 17 26 10 22 6 21 4M1506 1869l22-4 17-7M3596 2416l35 12 30 9 29 8 23 4 29 5 35 3 29 1 29 0 47-2 47-6 46-9 94-23 40-8 41-6 35-2"/>
<path d="M1044 2424l18 1 30 0 31-3 24-6M2125 871l24-60 13-24 12-22 12-18 12-15 12-12 12-7 12-5 13-1 12 3 12 5 12 8 12 10 31 32M3571 2413l24 11 31 10 24 6 24 3 37 0 36-4 37-8 24-6M3905 2401l25-4 24-1M3741 2345l30 4 46 4 51 1M1156 2217l32-2M838 2375l66-1 35-2M3261 1964l25 18 25 16 16 8 25 12 10 4 25 8 36 5"/>
<path d="M1203 2409l24 0 24-1 29-4 20-5 19-6 15-7 24-15 19-15M2264 1204l15-3 15-4 24-12 9-6M1072 2241l68-1 20-2M2374 1175l20 4 24 4M1350 1997l36-5 24-6 28-8 20-7M2237 1228l27-10 24-11 28-16 20-15M3290 2002l24 8 15 5 36 8 16 2M2191 1277l19 0 28-3 19-3 19-6 14-5 14-6 28-13 94-56M3582 2246l33 11 38 9 47 7 38 2"/>
<path d="M1149 2183l24-2 20-3 20-4 19-7 34-15 34-19M2202 808l20-32 20-25 10-10 10-8 10-6 10-4 10-2 20-1 15 3 10 4 10 6 10 7 14 14 10 11M3257 2272l30 38 24 26 30 25 15 9 20 11 30 11 10 2 15 3 30 2 49 1M1093 2283l9 0M2320 761l21-15 16-8 13-3 8-2 12 0 12 2 13 4 16 7 21 13 20 21 17 20"/>
<path d="M1360 2365l23 0 17-4 14-4 17-10 13-10 14-13 17-21 14-18M1131 2195l16 1 17 2 36 8M2208 806l20-22 32-33 29-25 40-31 16-10 16-6 12-3 20 0 20 5 16 8 16 10 16 16 16 19 16 24 16 27 25 46M1562 2225l20-7 17-7 20-13 16-14 16-16 16-18 33-45 16-26 20-35 41-75 93-190 36-71 32-58 29-46 44-66 101-134 29-41 20-31 36-63M2420 779l40-80 29-49 24-34 12-14 12-11 16-11 13-5 8-2 12 0 8 1 8 3 12 6 12 10 12 12 13 15 8 13 12 20 12 23 24 54 25 64 24 73 24 79 101 354M3203 1893l24 2 39-4 34 2 29 0"/>
<path d="M3630 2278l53 3M3592 2255l32-3 28-1M1132 2116l18-2 23-4 18-6 28-12 41-24 115-76 78-45 5-4 28-13 13-9M1803 1389l50-129 37-89 37-81 18-36 14-24 9-15 18-26 14-17 14-13 14-12 13-8 19-7 14-2M2487 1224l28 55 23 50 105 257 28 63 37 73 27 45 19 26 18 21 18 19 19 16 27 18 14 8 23 11 23 10 51 24M1039 2277l45-1 28-1M3403 2364l17 11 23 12 17 7 28 10 28 6 34 5 50 2M3865 2393l51-1"/>
<path d="M2332 760l16-13 10-7 21-9 16-3 11 0 11 1 21 6 10 5 16 10 11 8 16 16 16 19 21 33M1541 1862l74-129 67-112 25-45M3189 1873l17 5 12 2 21 0 25-2 20 3M1431 1999l4 0M991 2294l40-2 24-3 30-4 20-5"/>
<path d="M1246 2107l18-2 17-3 30-7 26-9 35-15M3382 2089l39-4 39-1M3296 2012l31 2M2201 808l33-38 22-22 16-13 16-12 28-14 10-4 17-2 5 0 11 2 11 4 11 6 11 8 11 10 11 13 16 22 11 16M2681 1484l16 42 33 74 22 44 27 48 22 34 33 43 38 44 16 16M3532 2405l43 22 22 8 27 8 33 7 11 1 22 3 32 0 44-3 49-8 55-15 49-15 32-8 39-7 32-3M2399 768l22-26 37-50 16-20 22-23 10-9 6-4 16-8 11-3 5 0 11 2 5 2 5 2 11 8 5 5 11 12 11 14 10 18 22 43 16 40 21 60 22 70 16 57 21 84M2999 2001l16 28 16 27 22 31 37 52 38 47 32 37 43 42 43 36 32 24 32 21 21 13 22 11 48 20 37 11 16 4 54 7 43 4 53 2M3856 2393l27-3 27-1"/>
<path d="M1006 2268l113 1M3681 2317l64 2M3506 2197l33 0 77-1M1186 2411l56 5 40 0 21-2 15-3 31-9 15-7 20-12 25-20 16-15 15-16 25-32M3650 2292l41-1M2358 1171l52 53 27 23 13 11 31 21 22 9 13 4 17 2 22-1M2845 1224l22 30 22 36 22 39 26 51 39 84 66 147 44 92M3534 2211l35 5 35 2"/>
<path d="M2169 832l20-39 26-43 26-35 21-22 15-13 21-13 25-10 16-3 15 2 16 5 15 8 16 12 10 11 16 19 15 22 16 26 20 42M3098 2128l20 34 21 30 21 29 26 30 25 26 26 22 21 14 26 16 46 22 109 44 41 14 26 8 36 8 36 3 26-2 25-5M3759 2359l31-16 25-10 26-7 21-2M1140 2186l19 1 18 3 14 3 18 6M2136 855l28-37 27-30 23-18 18-11 9-5 23-6 9-2 14 0 23 3 9 3 9 3 14 7M3691 2428l40 2 51-3 125-16 39-4 29-1M2629 890l10 4 15 8 15 12 9 9 25 28 20 27 24 41 25 49 29 65 20 49M3468 2167l19 0"/>
<path d="M3387 2092l13 3 17 3M3892 2417l56-3 102-8 56-3M818 2346l96 0 67-4M3598 2260l51-3 39 0M980 2326l31 0M2330 1178l31 10 31 15 31 20 32 25 18 17 38 36 87 93 37 35 31 27M3712 2427l43 10 25 4 37 3 44 1 37-2 38-4 143-21 43-3 38-2"/>
<path d="M3583 2248l55 4 31 0M744 2397l50 2M2204 807l17-12 11-5 11-3 16-2M2655 921l10 5 20 15 15 13 9 11 25 30 30 45 25 44 29 61 35 79 34 84M3758 2354l40-8 24-3 25-2 25-1M3717 2332l34 7 39 3"/>
<path d="M998 2302l23 1 28 4M2164 830l11-14 17-18 16-14 17-9 23-7 16-2 12 1 16 4M3419 2372l33 25 34 19 33 13 23 7 17 3 33 4 11 1 17-1 17-2 23-3 50-12M1261 2037l40-4 49-9 35-9 14-5 31-12 13-6M2236 793l13-28 25-50 26-43 22-30 17-19 8-6 9-5 9-3 12-2 13 3 13 7 9 7 17 18 13 17 17 29 13 26 17 40 21 59M1318 2088l22-3 22-5"/>
<path d="M2334 765l25-36 24-30 21-20 12-10 20-14 8-5 17-5 16-2 8 1 12 3 17 9 16 12 24 27 25 34 20 34 25 47 20 43 29 66 32 81M1188 2170l17-2 34-6 38-11M3302 2016l55 2M3598 2417l20 5 25 4M1084 2248l35-2 35-4M3664 2429l41 7 29 3 29 1 35-1 35-3 35-4 94-16 35-5 35-3 35-2"/>
<path d="M2420 776l22-12 18-5 17-4 22-1 22 5 22 9 13 7 9 6 22 17 22 23 13 17 18 24 22 36 22 40 13 26 22 47 18 41M3602 2261l31 0M1039 2262l14 1 24 3 13 2 24 6M2255 791l24-42 32-52 19-26 18-22 19-17 14-8 14-5 9-1 9 1 23 6 14 9 10 7 14 14 18 25 19 30 23 44 28 63 23 56M2765 1623l16 32 32 58 22 34 16 24M3724 2426l27 4 16 1 22 0 27-1 37-4 114-18 21-3 38-1M3400 2103l18 9 23 9 22 7 36 8 31 4"/>
<path d="M3784 2370l49 2 49 1M972 2324l28-2 27-3M3768 2361l22 1M673 2405l36 2 36 4 114 19 26 4 26 2 31 1 26-1 32-5 20-5M3704 2426l46 10 34 5 51 5 40 0 34-3 40-5 35-6 80-17 40-7 34-3 28-2"/>
<path d="M781 2412l24 0 37 2 121 13 30 2 24 1 30 0 18-2 31-4 18-4M2305 1186l48 48 42 40 25 18 24 16 36 18 24 9 36 7 55 4M3780 2368l54-8 36-2M911 2276l53-1 29-3 35-4 29-4 24-5 41-11 17-5 29-12M2233 1224l29 20 36 28 41 35 76 69 58 48 47 35 99 67 53 38 53 42 29 26 35 33M3626 2275l41 13 29 8 64 14 53 7 53 4 35 1M1252 2144l16-1 27-4M3870 2395l77 1 98 0M1079 2271l38-1M1749 1492l66-136 33-64M3089 2117l44 68 22 30 33 41 28 30 27 25 38 31 50 32 33 18 38 16 55 18 44 10 55 7 39 1 44-2 43-6 55-10"/>
<path d="M1252 2155l22-2M3403 2107l35 4M1420 1853l19-2 25-6 10 0 19-3 15-4 15-7 20-11 19-14 10-8 25-24M2153 1327l20-12 24-18 15-12 15-14 24-25 50-61M3817 2381l118 2M662 2402l36 1 41 7 36 7 94 23 53 11 66 7 47 2 29-1 36-4 24-4 35-8 30-11 23-11 30-16 18-12M1447 2311l30-1 55-5 30-4 20-6 24-11 20-12 20-16 20-22 15-20 20-31 20-38 19-44 20-51 20-58 20-64 20-71M2078 923l15-27 20-31 20-24 15-14 20-14 15-7 20-6 24-2"/>
<path d="M966 2330l35 2M1791 1411l29-71 23-52 23-50 23-46 23-41 17-27 18-22 23-25M2627 1395l86 178 23 44 35 61 29 44 29 39 28 35 29 30M3745 2348l58 8 35 3 75 2M911 2332l88 0M2569 1314l31 77 18 39 13 27 22 40 23 32 22 27 22 20 26 20M1137 2245l15-1M2333 762l20-10 16-3 15-1 16 3 10 3 26 14 10 8 21 19M2342 765l21-20 17-14 13-8 18-9 21-7 13-2 17 0 18 5 17 10 13 11 17 18 13 17 13 20 17 29 17 34 13 29"/>
<path d="M1278 2041l14-2 15-3 14-5 15-7 28-18 29-25 43-46 29-37 96-109 58-67 29-36M1077 2259l24 1 25 3M3708 2426l31 11 18 5 30 7 37 3 18 1 31 0 48-5 61-9 92-20 42-7 37-5 36-1M2351 1174l59 14 32 7M3526 2206l32 4 43 4 129 0M3463 2390l23 10 30 10 23 7 24 5 23 4 29 3 36-2M3809 2381l41-16 36-10 35-7 29-2"/>
<path d="M783 2356l34 1 40 3 84 11M1982 1574l90-38 34-18 23-14 16-13 23-19 22-22 29-34 33-46 40-61 84-139M1012 2175l42-1 70 1 63-2 43-6 26-7 16-5M3800 2376l74 0M883 2370l64 0"/>
<path d="M1324 1994l36-4 41-7 20-4 28-8 12-4M3369 2075l8 1M1029 2296l54-2M2121 1379l38-35 125-119 43-37 16-13M3587 2249l22 9 27 9 38 11 21 5 49 8 49 3M1725 1539l80-206 49-121 40-89 26-53 14-25 17-29 18-24 13-16 18-16 13-9 14-6 4-2 9-2 9 0 17 2M911 2281l57-1 78-5 20-2 26-4 37-6M2035 1497l37-33 41-40 31-33 130-147 31-32 41-40M3517 2202l42 0"/>
<path d="M1302 2386l38 0 30-2 34-7 26-10 17-8 17-11 17-12 30-27 22-23 17-21 17-23 30-43 21-33 26-41M2230 797l21-42 17-28 17-23 9-8 13-11 12-8 13-4 13-2 13 2 13 5 17 11 13 11 30 33 12 16 13 18 22 32M3274 1981l14 5 34 8 15 2 58 5M3969 2407l58-4 64-2M1175 2194l45-5M1716 2022l37-26 28-25 28-30 25-30 32-44 32-50 45-72 68-117 37-57 16-24 44-60 29-33 88-96 33-38 36-49 16-23 49-79M2553 847l8-10 20-23 20-18 16-9 8-3 8-2 13 0 20 4 12 5 12 8 20 17 16 17 13 16 20 31 24 43 36 76 25 54 48 120 101 266 32 83 17 38 32 65 20 37 20 33 20 30 25 31 24 22 16 10 8 4 12 4 20 1"/>
<path d="M1527 2258l30-5 17-5 17-8 12-8 17-13 17-17 17-20 17-23 21-34 21-38 26-50 72-146 30-54 21-34 21-29 21-25 34-34 34-31 34-37 17-23 21-34 17-31 25-60 26-72 21-69M2290 781l21-59 21-53 17-36 13-22 8-12 9-11 8-8 9-8 8-5 9-4 12-2 5 0 12 2 13 5 9 6 17 16 21 27 21 34 25 47 30 63 59 139M3565 2233l30 4 30 0M2486 800l22 1 14 3 9 4 22 11 22 15 18 16 17 18 18 21M3443 2143l70 2M1085 2249l65-3M3736 2344l137 2"/>
<path d="M1130 2197l36 0 42 5M843 2357l20 0 26 3 36 7 16 4M1122 2420l20 2 26 1 21-1 26-4 25-7 21-6 26-11 21-11M3425 2129l21 2 36 0M3320 2319l38 27 27 16 38 20 33 12 38 12 33 7 16 2 33 3 33 0M2367 1170l81 99 66 71 25 26 66 59 80 69"/>
<path d="M2160 838l21-46 21-41 21-33 16-23 17-17 17-12 8-5 9-2 21-5 12 0 8 2 17 6 17 10 12 10 21 20 34 39 25 34 17 24M791 2368l153 3M1455 1974l39-61 43-67 105-149M2998 2001l33 42 22 24M1368 2071l4-1M1030 2294l31-1 32-5M3718 2334l16 1"/>
<path d="M1353 2369l26-8 27-10 21-11 21-12 16-11 32-25 21-21 16-17M844 2301l93 1 64-2 46-4 23-3 24-5M3804 2376l11 0M652 2345l99 2 53-1 58-5 29-5 23-5 41-12 35-13 58-26 82-39 58-25M3529 2210l64-2 35-1M2593 873l17-7 13-3 12-1 17 2 17 7 17 12 13 11 13 12 21 27 22 32 17 30 25 50 26 55 25 58 43 105 85 224"/>
<path d="M991 2315l44-1M3001 2004l27 36 22 24M1061 2202l20 1 25 3 30 8 39 12M3884 2397l65-2M1033 2312l5 0"/>
<path d="M1228 2119l27-2 24-3 36-10 32-12M1962 1088l28-57 11-22 20-31 16-21 20-21 12-9 12-7M3224 1922l20 3 12 0M3400 2106l24-3 24 0M1298 2063l21-2 16-4 29-8 40-18 13-7M1365 2049l23-3 14-3M3659 2298l13 1"/>
<path d="M1300 2048l39-5 30-6 22-6 30-11M2205 1261l35-13 13-7 17-11 13-10 17-14 30-29M2428 779l19-9 14-5 13-2 9 0 14 3 9 3 14 7 9 5 14 10 14 13 9 10 28 33 27 40M3196 2225l18 16 23 16M1080 2265l25 1 15 2M3031 1594l15 23 25 34 104 139 85 114 30 47 44 68 25 36 25 33M3598 2258l10 2 15 1M3168 1845l9 3 10 2 14 1 14-1 19-3 18-6 10-4 75-4 19 0 23 2"/>
<path d="M1495 2285l28-18 21-18 22-20 33-33 44-53 38-52 32-50 50-81 38-69M3573 2238l27 1 16 0M1217 2140l75-1M3844 2389l54-2 53-1M2353 1174l15 2 40 8 30 8M900 2339l31 1 46 5"/>
<path d="M888 2333l70-1 48-3M2739 1585l16 27 22 31M2189 1278l23-11 57-23 68-26 40-19 34-19M3757 2426l11 1 29 1 46-1 34-2 108-12 40-3 23 0M2203 808l15-26 15-24 15-21 15-18 15-14 15-11 20-9 10-3 10 1 15 3 10 6 15 12 10 10 15 20 10 15 15 26M3289 2297l20 18 30 20 25 12 20 6M1319 2050l33-2 50-6"/>
<path d="M3445 2146l25 2 29 2M1030 2281l56-2 22-2M3835 2387l39-1M1032 2218l95-2 57-2 9-1M1595 2186l19-6 24-10 38-23 33-26 28-25 29-31 19-23 23-32 19-30 29-50 28-56 24-49 47-107 62-151 42-101M2713 1011l9 12 24 33 28 43M3072 1676l43 75 57 96M3370 2076l15 7 19 7 28 7 19 2M1018 2301l42 2"/>
<path d="M773 2388l33 1 50 2M797 2379l129 0M3548 2221l67-7 51-2M1533 1873l82-130M3372 2078l59-11 29-4 24-1"/>
<path d="M2177 824l23-46 9-16 17-27 14-16 13-13 14-10 13-5 18-2 13 1 14 4 13 7 13 11 14 14 18 22 13 20M3530 2209l31 7 22 2 54 2 44-1M700 2407l41 1M2244 1221l40-7 56-9 46-5 61-2M3079 1693l20 15 21 11 25 9 21 5 25 1 20-2 26-8 25-11 41 3M1125 2255l15-1M3326 2323l25 23 19 15 15 10 24 13 25 9 24 5 25 3 34 0M2196 816l13-33 23-49 18-32 14-20 9-11 14-12 9-7 19-11 9-4 14-2 18 2 14 6 9 5 14 10 18 16 27 31 23 30 28 42 23 39"/>
<path d="M1139 2418l48 8 38 2 27-1 22-3 21-6 22-8 16-7 16-9 22-15 27-22 37-39M2244 793l38-64 11-15 21-27 16-15 11-8 6-3 10-4 11-1 11 1 11 4 5 3 16 14 16 20 11 15 16 28 17 35 10 25M1657 1670l70-144 40-76 31-54M1001 2280l54-3 45-6 25-5M1438 1995l24-38 110-157 69-102M3268 1975l27 7 31 7 18 3 26 3"/>
<path d="M3745 2348l15 1M1890 1205l37-96 33-78 16-35 17-32 16-28 12-18 21-26 12-13 17-12 12-7 12-3 13 0 16 4 8 4M3704 2427l22 2 27 0 58-3 134-18 32-3 33-1M3817 2381l92-3"/>
<path d="M698 2348l36 2 17 3 24 5 35 10 71 24M3696 2325l12 0M1040 2281l30 2 30 3M1329 2376l10 4 20 4 15 2 20-1 25-5 15-7 15-8 15-11 15-13 19-20 10-12 30-43 25-43M2406 774l20-19 20-16 14-9 15-7 10-3 15-1 5 0 15 4 10 5 20 15 10 10 10 11 20 28 10 16 25 46 35 76M1410 1895l52-9 17-1 18-3 21-6 22-11M759 2352l37 2 32 4 38 6 64 13"/>
<path d="M873 2362l39 0 39 3M3078 1689l99 137 79 114 33 51 32 45M3447 2147l28 11 15 3 23 4 51 3 56 2M973 2426l39 7 33 4 44 3 28-1 33-5 22-5 33-13 28-14M638 2357l28 1 27 3 22 4 38 8 82 21"/>
<path d="M1322 2102l14 1M2330 765l9-17 14-23 19-28 14-19 19-19 14-10 18-9 10-2 9-1 14 3 9 5 10 7 14 14 14 19 14 23 13 27 19 41 14 35 23 65M1018 2244l47-3 51-6 42-10 31-9M2194 1274l31-15 21-8 52-14 26-5 31-5 62-7 31-2 31 0M3589 2252l41 9 16 3 20 1M3149 1816l9 6 23 12 14 6 19 4 23 3 27-1 51 7 60 4M1310 2112l18-1M1738 1515l52-132 57-137 35-75 21-43 18-33 17-28 13-20 14-17 17-19 13-11 13-9 18-8 13-3M2793 1672l18 51 26 67 21 51 27 56 17 32 26 46 26 39 27 35 30 34 87 88 27 25 39 34 39 30 35 21 44 22 34 13"/>
<path d="M1261 1829l41-2 40 0 82 2 36-2 27 7 23 2 22-3 10-2 27-10M2089 1426l23-13 32-23 18-16 31-33 23-27 23-30 68-100M1229 2402l85 7 39 1 40-2 39-6 34-9 17-7 22-11 34-21 28-22 28-28 17-20 11-15 28-43 23-40 28-55 28-61 39-94 40-100M3170 1846l22 24 34 34 40 34 22 22 28 26 135 120 62 59 39 39 57 53 28 24 22 17 17 12 39 24 23 11 22 9 29 9 28 7 56 6 22 1M2138 1352l39-23 73-41 34-21 19-13 34-26 63-53M3550 2221l29 2M1383 1939l25-3 20-4 34-10 20-4 29-11M3338 2052l17 0 66-6 37-2 21-1 21 1"/>
<path d="M2199 1267l23-3 46-3 64-3 42 1 27 3 46 8 19 5 23 8 18 7 19 8 50 26M3050 1633l33 39 46 51 96 107 37 39 32 43 32 39 37 42 19 18 36 31 37 25 14 7 23 10 28 8 14 2M1261 2394l55 2 37-3 24-4 14-4 23-10 23-13 18-13 37-34 19-20 18-23 33-47M2233 799l19-38 23-43 14-22 23-31 19-19 14-10 9-5 9-3 9-1 14 2 10 5 9 6 9 8 14 15 14 17 14 22 14 25 18 41 19 45M850 2346l21 1 31 3 26 4 31 7M875 2339l48 2 53 6M2131 1360l22 2 26-1 22-2 15-4 27-10 27-15 16-10 21-15 75-59 26-18 11-7 10-5 27-13M2882 1299l21 31 21 35 43 77 32 64 43 89 42 85 69 140M3574 2239l21 1"/>
<path d="M947 2333l58-2M2027 1508l58-29 79-32 43-21 36-23 43-33 31-29 32-33 68-77 32-32M3345 2055l37 21 42 20 26 9 21 5 27 7 47 8 37 3 58 4M2686 970l17 11 9 6 12 11 13 14 21 27 21 33 21 38 26 53 21 49 25 65M1227 2155l24-2 33-7M957 2354l10 0M1928 1143l21-42 20-40 21-35 15-24 26-35 21-24 15-15 21-16M2483 1219l31 60 31 55 21 34 25 38 26 31 26 25 25 21 21 14"/>
<path d="M539 2411l44 1 45 5 44 7 127 23 70 9 44 3 38 2 39 0 44-1 38-3 57-6 45-8 38-11 38-13 32-13 31-17 26-15M2037 1495l44-44 58-60 31-34 38-44 108-132M3078 1688l45 54 76 88 25 31 26 33 12 18 70 112 32 50M3618 2271l25 1 32 1 63-3 45 0M747 2372l79-2 130-7M1108 2249l38 1M642 2381l82-1 54-3 94-8 89-9M2531 1264l59 146 23 55 30 64 23 48 18 33 24 40 17 29 36 52 23 31 53 64 54 54 35 32 30 24M3475 2171l47 13 53 11 47 6 36 1"/>
<path d="M1246 2070l19 1 19 3 14 3 32 12 14 6M2577 864l18-10 14-6 10-1 9 0 9 1 10 2 14 7 14 10 23 23 19 25 19 29 19 33 18 38 19 41 28 67 24 59 51 141M3237 2256l14 22 19 27 28 34 19 18 14 12 19 14 18 10 28 12 19 4 24 4 18 1 24 0 70-5M3304 2309l36 34 21 16 36 21 26 12 36 10 30 5 26 2 31-1M3782 2368l31-1M1887 1209l22-51 21-48 25-52 26-45 25-40 17-25 34-44 26-29 33-36 26-23 8-7 22-15 12-7 17-7 22-5 12 0 13 1 17 6M1026 2314l10 0"/>
<path d="M2349 763l17-15 13-6 14-4 13 1 13 5 13 7 9 7 17 18 13 18M3209 1903l17 4 13 1 22 0 22 2M2993 1520l26 37 26 39 52 70 99 140 26 34 39 46 21 27 26 27 26 23 13 9 13 8 17 8 17 5 13 2M1403 2341l25-9 21-11 20-15 21-18M2188 816l16-41 25-54 16-31 21-33 20-25 21-18 8-5 12-6 9-2 8-1 12 1 8 3 17 8 16 13 8 7 29 34 21 27 24 38 25 43 29 53M1320 2104l14-2M3564 2231l33 9 42 8 38 4 42 3"/>
<path d="M1337 1955l33-6 19-5 22-9 18-8 33-19 19-8 22-14 15-12 25-23 15-15M2327 1179l33 4 26 1 7-1 30 0M3129 1783l11 6 15 6 26 7 15 3 22 0M1061 2263l25 1 39 3M1872 1774l45-46 39-42 30-39 25-37 25-42 30-59 15-33 40-97M2419 777l20-18 20-14 20-10 20-5 20 1 15 4 15 7 20 14 15 14 19 23 20 28 15 24 30 54 25 50 20 42 30 68M3502 2191l104 1M2312 1183l84 24 56 17 37 13 23 11M3666 2305l23 3 33 3"/>
<path d="M3233 1932l13 0M1083 2284l19 0M3456 2158l38 0M3450 2152l77-13 26-2 26 0M984 2426l42 9 21 3 21 3 37 1 26-2 26-4 26-8 26-11 32-18"/>
<path d="M1100 2216l28-1 38-4 33-5M1093 2285l5 0M645 2403l27 0 33 3 94 12 40 4 13 1 33 0M1985 1056l46-71 27-35M2904 1851l40 74 27 45 20 31 26 36 33 42 87 101 53 54 34 31 46 39 40 31 34 22 40 24 40 22 53 23 27 9 33 10 40 8 26 3 34 3 33 1 47-2 26-2 34-4 53-10 100-22 40-8 40-6 40-2M3439 2141l33 17 29 10 28 7 29 3"/>
<path d="M3866 2393l16 0M1374 1902l45-6 22-4 22-6 15-2 15-4 14-6 23-13 18-15 11-11M2059 948l26-45 15-21 11-14 11-12 11-9 15-10 11-4M2841 1752l18 45 23 49 22 44 22 37 19 27 11 15 14 17 15 14 11 8 23 15M1238 2096l19 0 20 3 29 5 19 6M3674 2311l39 0M1075 2266l54-3M3351 2060l39 25 24 14 25 14 34 15 25 9 34 9 25 4 24 2"/>
<path d="M840 2319l97 0 49-1 49-3M3484 2178l22 5 38 5 32 3 33 2M2070 933l22-32 11-14 11-12 16-14M3198 2227l22 32 28 36 22 25 22 21 33 26 27 17 28 13 16 6 39 10 44 7 72 10 49 4 39 2 38-1 39-3 44-6M3914 2402l22-1M910 2232l160-1 109-6M3237 2257l23 24 29 29 29 25 28 23 18 13 28 18 23 12 23 10 23 8 29 9 23 4 28 4 35 1 23 0 34-3 34-5M2107 889l18-38 22-37 9-12 13-16 9-8 9-6 9-5 9-3 9-1 13 1 9 2 13 6 18 11"/>
<path d="M970 2309l30 1 35 3M3906 2415l30 4 24 3 59 1 48-3 119-13 47-2M2456 791l15-3 15 1 9 2 20 7 10 6 10 8 9 10 15 17 15 20M931 2264l80-1 54-2 53-6 27-5M2699 1517l27 64 38 84 43 90 26 51 43 75 27 42 32 47 27 38 16 21 38 43 96 101 43 42 37 32 22 17 32 23 48 29 49 23 42 15"/>
<path d="M1375 2061l9-1M1171 2194l33-4 19-3M3133 1787l129 168 52 74M3581 2246l23 3M1227 2178l14-1M3521 2203l18 1M1975 1072l20-45 24-49 15-26 19-29 15-18 10-9 9-8 15-9 10-4 10-3"/>
<path d="M2028 1507l26-28 22-28 9-12 26-41M2409 771l22-23 13-11 13-8 14-6 8-1 18-1 17 5 14 7 13 10 17 17 13 15 14 19 17 28 13 23 18 34 17 36M1278 2132l27-2M3521 2205l14 0M1082 2278l27 2M3066 2087l17 30 16 28 28 41 16 22 22 24 11 12 22 19 16 12 28 18 33 18 38 19 60 24 39 14M3856 2392l27-1M1024 2282l52-2 32-2"/>
<path d="M1778 1926l43-31 35-20 43-20 44-16 13-6 17-10 13-10 22-20 13-16 17-25 17-30 18-39 13-33 17-49 22-72 17-63 48-192M2359 764l17-19 9-8 13-8 4-2 13-4 26-3 17 1 13 4 9 4 30 16 22 16 30 26 26 25 31 34 26 33 30 45 26 43 26 49 30 61M3412 2113l17 9 13 6 26 7 22 2M310 2410l35 1 36 3 41 5 124 18 42 3 41 2 42 0 71-4 83-9 53-8M2115 1391l23-28 24-32 24-36 23-39M740 2360l106 3 45-2 28-4 23-4 22-6 22-8M2170 825l23-43 16-30 17-27 17-22 17-18 17-14 11-6 17-5 11 0 17 3 11 5 17 15 17 21 11 18 17 32 11 25M2613 1377l17 41 17 37 17 34 22 42 28 46 57 85 44 72 101 171 40 64 28 40 33 41 28 29 57 53M961 2425l54 11 36 4 42 2 42-2 36-5 24-5 48-14 25-9 18-7 42-22M2128 863l18-21 12-11 24-20 12-8 18-9 12-5 18-4 18-1M3506 2399l36 10 42 6"/>
<path d="M1566 2219l16-8 27-15 26-20 27-26 15-19 16-22 16-24 16-27 21-40 27-55 42-97M2307 770l27-59 16-32 16-28 10-15 11-14 10-11 11-9 5-4 16-9 11-2 10 0 16 4 5 3 11 8 11 11 10 12 16 23 16 29 16 33 16 38 21 55 32 91M2077 925l12-25 19-38 19-32 15-22 19-24 11-12 15-13 8-5 7-5 19-8 19-4 19-1 16 2 22 7 23 8 19 9M1944 1118l29-56 18-30 17-27 18-24 12-14 29-30M3098 2127l24 35 17 24 30 37 23 25 18 17 41 34 41 28 24 14 35 18 36 16 41 17 29 12 36 11 47 15 23 6 24 4 47 7 41 0 35-2 42-5 35-7 59-12 59-11 35-4 30-1M3636 2283l38 0 128-2"/>
<path d="M3310 2026l33 20 19 11 47 20 32 8 15 2 18 2M2333 760l12-15 17-18 12-11 13-9 12-5 13-3 16 0 9 2 12 5 13 9 12 11 13 15 12 18 13 22 12 24 13 27M2776 1101l14 17 19 26 23 38 19 34 24 47 18 41 19 44 24 58M1921 1682l54-57 96-97 29-30 34-38 29-34 34-45 44-65 29-47 53-94M2638 898l20 14 14 13 15 15 24 31 24 35 24 42 29 54 25 51 34 75M3152 1819l24 22 19 14 20 11 24 7 24 3 15 4 19 4 29 4 34 1 44-1 58 1"/>
<path d="M936 2345l45-1M3403 2109l95-2M3287 1999l36 7 18 2 73 4M1016 2427l44-1 16-1 22-5M2349 762l22-7 18-2 23 1 22 5 18 7 17 10 14 10 27 25"/>
<path d="M1072 2241l38-1 55-5M3581 2244l147 26 54 7 38 3 33 1M858 2350l48 1 59 4M3873 2395l18 0M1609 2171l27-34 27-35 60-87M1128 2249l16 0"/>
<path d="M1218 2404l31 4 50 4 45-1 27-4 40-9 31-12 27-13 27-17 18-15 27-26 27-32 18-24 22-35 27-49 27-54 23-51M2873 1281l23 29 22 32 27 42 31 51 32 55 36 66 54 90 94 170 40 68 45 63 13 17 18 18 14 11 18 11 18 7 18 4M884 2387l17 0M1190 2411l28 0 50-3 16-2 34-5 16-3 28-8 11-4 28-12 22-13 17-12 22-17 17-15 44-46 39-47M2190 814l11-12 11-9 22-16 22-10 17-5 22-4 34-3 22 3 28 7M3649 2290l5 0M3954 2406l118-3"/>
<path d="M3212 1903l30 36 30 38M3236 1934l27 23 150 137 41 35 19 13 36 24 36 18 9 3 19 5 13 3 19 2M2101 1404l85 38 31 11 21 3 22 0 15-2 22-8 21-13 10-8 21-20 22-25 31-42 80-117M3539 2215l26 4 32 1M1374 1976l21-1 60 1M3524 2205l17 3 22 2"/>
<path d="M1795 1403l47-106 42-90 43-85 38-66 38-58 19-26 18-24 24-26 19-19 14-13 19-14M2489 1226l14 24 19 30 19 28 19 25 19 22 28 32 38 37M1205 2408l37 8 15 2 16 1 21-3 10-2 21-7 21-10 16-10 16-12 26-25 21-24M1796 1897l16-19 16-22 26-41 36-66 47-95M2309 775l31-77 26-58 27-50 21-34 15-20 11-12 10-10 11-7 10-4 5-2 11 1 10 3 11 7 5 5 10 12 11 15 10 18 11 21 15 38 21 58 21 68 21 76 26 107M3722 2335l20-4 27-3M805 2346l37-1 66-5 61-9 52-10M3172 1848l14 6 19 4M3244 1948l20-5 25 0"/>
<path d="M1023 2143l99-4 45-4 41-6 45-11 22-7 18-8 41-20 45-29 36-28M1167 2157l98 4M2770 1632l21 39 20 35M3730 2339l46-7 42-2M1359 2366l23-8 18-10 18-13 18-17M2443 787l23-15 13-5 9-3 14-1 13 1 18 6 14 9 13 11 23 26 23 33 22 41M1810 1372l21-51 22-48 21-46 15-31 32-56 21-29 16-17M3277 2287l21 20 21 18 16 12 15 11 27 13 10 5 21 6 22 5"/>
<path d="M2052 1473l42-18 26-15 15-11 16-13 26-27 26-32 26-37 36-60 46-82M3571 2237l31 5 36 3M2557 1297l33 72 18 38 19 35 24 38 18 27 19 24 28 30 19 16M2173 825l15-18 16-14 15-12 21-10 15-5 16-2 21 2 10 2M1949 1112l33-84 17-37 20-43 21-38 17-27 21-30 16-21 21-21 17-13 17-10 12-6 8-3 17-2 21 1 8 2 13 4 16 9"/>
<path d="M1202 2169l51 0M562 2403l34 1 23 2 103 13 41 3 28 1 23-1 41-5M1052 2263l49-2 33-2M3810 2378l38-1M3590 2253l24 5 30 4 29 3 24 1"/>
<path d="M739 2403l16 0M2848 1766l27 58 27 53 27 47 32 50 21 28 27 29 22 21 27 21M3382 2086l32-11 27-7 27-5 27-2M1243 2074l35-1 35-3 35-4 40-7M3742 2346l30-4 30-2M1055 2424l27 2 27 2 17-1 33-3 27-5 22-6 22-7 22-9M3656 2297l22-1M1032 2311l11 0M3620 2274l37-12 26-7 16-3 31-2"/>
<path d="M2184 1284l90 53 33 18 28 11 17 5 28 5 28 1 28-3 51-13 50-15 22-6 28-4M3097 1724l45 61 45 57 33 39 45 50 34 41 33 38 34 36 45 44 61 55 34 27 45 34 39 26 45 25 45 20 45 16 39 9 28 5 33 2 34 2M704 2391l63 2 42 3M1076 2422l63 2 57-2 37-3 16-1 31-6 26-5 16-5 10-3 27-13 15-8 21-14 16-13 21-19 26-29M3327 2042l31 6 21 1M915 2378l17 0M1251 2396l33 2 25-2 25-5 16-5 13-5 12-6 17-10 20-17 21-20 17-20M1898 1191l25-57 21-43 24-46 21-34 25-33 21-22 25-20 16-10"/>
<path d="M2841 1751l49 130 22 51 21 47 27 52 17 27 16 23 21 25 27 25 27 22 60 42 81 53 114 73 48 28 38 18M1905 1713l35-51 31-50 31-57 17-35M2301 770l18-36 13-23 18-26 13-15 13-12 13-7 14-4 13 2 17 6 14 8 13 13 17 22 18 29 18 35 13 30 18 43M2984 1504l26 34 49 71 26 41 22 38 22 42 22 45 22 49 31 73M3741 2345l49-9 22-2 22 0M1029 2305l23 0M2132 1363l63-29 116-60 40-18 23-7 41-8 34 0 18 1 23 5 35 10M3010 1552l34 51 47 59 46 62 34 50 29 44 58 94 46 86 29 51M3882 2397l98 1M421 2411l36 1 37 3 160 23 36 3 37 2 49-1 37-3 37-6 49-11"/>
<path d="M1942 1119l32-73 31-66 21-39 32-52 26-38 16-20 16-18 16-16 15-15 37-29 21-14 16-9 21-9 16-5 21-5 31-2 11 1 16 3 10 4 21 11 16 12 11 10 10 11 11 12M2736 1573l63 211 22 67 31 93 21 56 26 60 21 41 22 34 21 27 15 15 11 8 10 5 16 6 16 3 10 0 79-3 32 1 16 2M3383 2352l21 16 21 13 16 8 16 6 16 4 16 3 15 2 21 0M3736 2343l26-2M3463 2388l29 18 30 14 29 10 17 4 18 3 29 2 35-1 35-4 46-8M3865 2393l41-8 41-7 35-4 35-1M1451 1979l13-25 54-95 68-116 95-154 49-92 36-63 32-53 31-48M3137 1794l32 38 23 26 19 19 23 20 14 10 42 26 18 7 14 4 10 1"/>
<path d="M2458 1206l17 17 34 31 39 32M3077 1685l30 25 34 26 56 40 64 43 42 42 26 23 13 11 25 19 26 16 26 12 25 8 26 4M3544 2218l5 0M1572 2213l29-16 24-17 20-15 29-24 39-40 24-28 29-38 15-22 14-24 25-44 14-29 20-43 19-47 19-51 39-112M2242 791l10-8 19-10 15-4 15 0M3424 2374l25 17 32 18 39 15 32 10 19 4 32 4 32 2 39-1 141-8 51 0 109 2 58-2 32-3 32-4 128-20 32-3 32-1"/>
<path d="M2273 1197l5 1 14 1 27-2 32-4 60-14M652 2397l130 2M2084 919l20-53 16-35 25-51 15-26 21-28 20-22 16-12 15-9 20-6 10 0 11 0 15 4 31 13 15 9 20 17 21 21 25 30M2747 1595l36 100 31 81 25 63 31 70 30 62 36 63 31 46 25 30 16 16 10 9 41 32 30 22 204 154 41 26 26 14 15 6 20 7 16 3 15 2 20 0 16-2 20-6M3625 2282l26-26 15-14 15-12 16-11 15-9 15-6 15-4 11-2M1232 2402l34-6 22-8M3671 2309l39-1 45-2 51-1"/>
<path d="M3857 2392l53-1M2019 1014l23-71 28-77 23-57 18-40 23-43 18-28 10-13 13-16 19-16 9-6 9-5 9-3 14-2 9 0 9 1 14 6 9 5 14 11 18 17 23 27 19 26 23 39M2588 1342l32 90 37 92 14 31 23 46 23 40 13 20 19 25 27 30 14 12 18 14 42 25M1196 2117l24-3 15-3 34-10 39-17 15-8 24-15 29-21 34-29 30-28 63-67M3563 2230l48-11 20-3 29-4 24 0M1602 2179l20-23 16-20 29-41M2390 769l16-10 20-8 12-3 13 0 8 0 16 6 12 6 8 6 12 10 12 12 21 25 24 38M3105 1741l21 15 20 12 16 8 24 9 16 4 12 1 25 0 24-4 16 3 24 2"/>
<path d="M2404 771l14-4 22-4 9 0 14 3 13 4 14 8 18 15 18 21 14 19M2873 1807l27 55 23 39 18 29 18 26 18 24 14 16 22 22M2208 805l18-10 14-5 9-2M2972 1479l67 96 19 24 38 43 24 24 28 28 29 25 33 25 24 15 29 14 23 18 24 15 29 13 24 7 14 2M1223 1989l24 0 35 2 44 7 68 12 34 3M3609 2266l35-11 29-7 29-4 20-1"/>
<path d="M660 2406l40 1 45 6 39 7 102 22 56 10 56 5 40 1 28-1 34-3 34-6 22-6 34-11 17-8 23-12 22-15M2448 788l9-11 14-13 19-12 9-4 14-3 14 0 9 3 9 5 14 10 14 14 9 11 14 20 14 24 14 27 23 51M1006 2178l38-1 14 1 28 2 94 10 37 2M3271 1976l42 6 94 9M3268 1973l120-13 45-1"/>
<path d="M1060 2260l43-3 38-6M1289 2118l14-1 19-3M3695 2323l9 0M1863 1260l107-326 28-80 19-54 28-68 20-42 8-15 16-26 12-17 8-9 8-9 12-9 12-7 12-4 7-1 12 2 12 3 12 7 12 9 16 16 24 29 16 23 43 68 12 17M2621 1382l44 134 28 79 28 73 15 37 20 42 20 38 16 26 20 30 24 30 47 49 88 76 39 30 32 26M1252 1956l29-2 41-6 41-9 34-8 37-12 29-13 12-3 21-8 21-9 16-11"/>
<path d="M1055 2124l34 2 43 7 34 9 48 15 43 10M2162 832l20-29 24-29 14-14 10-7 10-7 9-5 10-3 9-1 10 1 10 1 24 10 9 6 10 8M2615 1379l24 56 29 63 43 86 25 43 24 43 115 195 92 161 29 45 24 35 33 41 49 53 28 27 25 20 28 18 34 17 39 15 19 6 34 9M2174 823l21-29 22-23 11-9 15-11 18-10 21-10 55-17 29-4 15-1 21 2 40 9 22 8 15 7 14 9 18 14 26 24 18 20 11 14 21 29 19 27 7 12M1040 2216l28 1 29 3 33 6 33 8M2235 1230l28-10 29-12 28-17 19-14M1194 2195l21 0M2038 980l26-63 21-43 21-35 10-14 16-18 11-8 15-10 11-4 10-1 11 0 10 3 11 4 15 11M2478 1218l37 67 26 45 42 66 21 31 31 42 26 30 32 32 26 21"/>
<path d="M1415 2010l14 0M2314 767l27-46 18-28 22-30 17-19 18-14 17-10 9-3 13-2 14 2 9 4 8 6 14 12 8 11 14 18 17 30 13 27 22 51 23 59 17 52M2011 1529l108-27 28-9 19-9 20-11 16-10 24-19 24-24 12-13 44-55 75-110 44-60M2719 1027l12-1 8 0 12 1 8 3 8 3 12 7 12 8 12 11 32 31 31 38 28 40 28 47 16 31 20 41 32 73 27 70 24 64 32 74 24 60 64 168 31 81M972 2325l16 1 22 3M1239 2399l28 5 27 3 22 1 22 0 38-3 43-8 33-10 44-22 22-13 16-12 28-23 32-34 28-33 21-31 39-65 22-41 32-69 33-73 38-93M2206 810l27-41 17-19 16-17 17-12 16-8 22-8 16-2 17 1 16 4 16 9 17 11 38 36 27 34M3665 2305l27 8 16 3 33 4 22 1M847 2347l85-4 21-1 38-5M2402 1178l27 25 32 33 58 66 58 64 32 33 48 46M3384 2088l27 10 26 6 27 6 53 8 42 3"/>
<path d="M1247 2008l66 1 51-3 45-7 16-3 20-5M3815 2380l20 0M797 2393l32 1M1847 1816l27-17 16-13 17-14 21-24 22-31 16-29 11-22 22-53 21-63 22-71M2248 791l16-17 11-8 11-4 5-1 5 0 17 2M875 2358l32 0 52 1M3439 2146l43-27 31-16 21-8 11-3 16-2 10 0M3718 2426l26 8 39 9 59 10 59 4 52 0 46-2 46-6 52-8 131-26 45-6 40-2"/>
<path d="M955 2355l12 0M3201 1889l37 47M3803 2425l37 3 43 0 36-3 86-8 62-4 24-1M937 2273l32-1 38-3 70-11 44-7 27-4M634 2410l66 3 126 16 48 3 31 1 24-1 18-2 30-4M1386 2060l36-64 42-78 67-107 60-88 90-122 54-82M1137 2197l34 0 38 2"/>
<path d="M1041 2307l9 0M1127 2132l42-1 90 3 46-3M2474 1216l17 19 17 16 17 15 17 13M1298 2133l4 0M2069 935l14-28 19-34 18-31 19-26 14-17 19-20 19-16 14-10 14-7 18-7 24-5 9 1 19 2 28 8 14 7 18 11M1898 1728l19-23 20-25 34-53 20-34 25-46 34-71M2438 782l15-7 14-3 10-1 10 0 10 2 19 8 20 14 20 19 24 31 20 31"/>
<path d="M1048 2271l46-3 36-7M2148 1334l67-27 51-24 46-26 92-55 26-14M3597 2258l31 3 36 1M2079 929l15-44 20-51 20-45 20-40 15-25 20-28 15-15 20-16 10-4 10-3 5-1 10 0 15 4 15 7 10 6 25 19 20 21 15 19 25 35M1316 2073l26-1 30 1M2112 1395l26-12 31-13 36-14 52-17 57-15 63-12 83-13 52-7 42-3M3047 1628l31 40 42 50 140 156 104 146 26 34 37 46 46 53 37 37 21 19 36 29 31 21 42 24 36 17 36 12 47 12 42 7 31 3 16 1"/>
<path d="M736 2396l77 0M1382 2062l48-56M1839 1829l24-24 30-35 23-34 24-37 30-51 29-57 60-126M1244 2135l54 3M2281 777l16-11 21-11 16-5 16-2 11 0 16 5 11 6 16 13M3178 2207l21 27 38 42 37 38 33 29 26 21 22 15 27 17 27 14 26 11 33 11 37 9 16 3 43 2 38-1 27-2 37-7 43-10M3844 2389l37-9 38-7 37-4 33-1M1005 2307l20 1 20 2M1289 2387l30 3 20 0 15 0 20-3 25-5 25-8 15-7 29-15 25-17 30-25 25-26 25-30 15-20 20-29 15-24 20-36 30-60M1101 2267l22 0"/>
<path d="M1424 1874l15-1 24-4 10 1 20-2 15-4 20-7 25-13M3916 2402l44-2M946 2317l33-1 37-5 38-7M1138 2234l31-2M1976 1067l21-34 20-31 15-20 16-17M3708 2330l26-1M3156 2186l28 38 14 16 24 24 18 14 19 11 19 9 23 7"/>
<path d="M1076 2250l41 2 22 3M1023 2236l40 0 95 2M2332 1174l31 36 36 38 27 24 27 20 27 15 31 13 36 9 36 7M3096 1723l45 69 18 26 27 34 22 26 18 17 14 11 31 19 14 8 9 4 13 4 14 2M1240 2166l21-2M3757 2355l37 1 98 0M2322 766l13-16 18-17 14-10 14-6 13-4 14-3 27 3 14 4 18 8 14 8 23 18 23 21 18 20 18 21 23 30 27 39"/>
<path d="M1320 2060l15-2 15-4 26-9 19-10 26-17M3193 1879l19 2 19 1M3466 2163l41 6 54 4 68 2M2492 802l17-16 17-13 12-5 12-3 13-1 12 2 13 6 12 10 17 19 12 18 13 21 12 25 17 38 12 32 25 73M3300 2015l46-1M1085 2017l31-1 36-4 41-6 57-11 72-17 62-16 36-11 41-16 10-2 26-10M2151 1331l46-37 52-38 36-21 31-15 31-12 20-5 16-2 10-1 26-1 15 2 21 3"/>
<path d="M3646 2291l43-7 43-3M1200 2127l31 0 32-3 22-2 36-5M2257 1205l27 16 27 14 23 10 27 10 31 9 23 5 58 9 50 10 36 11M1217 2405l36 3 23 0 27-1 23-3 18-4 23-7 28-11 22-12 19-11 27-21 13-12 23-22 37-39 27-34 32-44M2437 785l18-13 9-5 14-6 14-4 23-3 9 0 18 3 14 5 9 4 18 10 23 17 27 28 27 32 28 38 22 36 28 49 27 54 23 51 36 88 23 59M730 2386l58-2 35-3 35-5 58-12 64-20M2138 1354l46-62 47-58M2650 917l17 4 17 8 12 8 12 9 11 12 12 13 17 25 18 27 29 54 29 64 35 86 35 94M3284 2292l23 23 35 29 29 19 35 18 11 4 24 8 40 9 41 5 23 1"/>
<path d="M1192 2137l19 0 54-7 27-6 27-7M813 2353l31 1 32 4 31 6 38 9M3770 2362l63 9 63 6 32 2 63 2 37 1M1168 2228l5 0M2233 798l14-31 14-27 14-23 13-19 19-20 14-11 14-7 13-2 10 1 13 6 19 14 14 15 9 12 18 28 19 34 14 29M3210 2234l14 23 14 20 14 19 14 17 18 20 9 8 19 15 14 9 18 10 18 7 23 7 23 2 37 3 37 0M919 2322l39 1 51 5M3771 2362l39 1"/>
<path d="M705 2410l47 1 77 4M2306 1181l42 35 76 68 17 15 36 24 17 10 24 11 23 9 18 6 29 6 23 3M1263 2394l27-2 23-5 18-5 9-4 18-10 9-6M1822 1348l36-97 41-105 32-78 22-52 23-49 27-54 28-46 18-26 13-18 9-10 10-10 13-12 18-13 9-4 10-3 18-2 18 3 13 5 14 7 18 11 9 7M2839 1751l32 63 27 50 23 39 36 58 32 46 32 40 54 64 32 34 23 22 32 26M1094 2219l33 3 18 2 24 6M2396 768l33-63 18-33 19-27 14-16 10-8 9-6 14-5 10 0 9 2 10 4 9 7 10 8 9 11 19 28 19 35 23 54 24 64 19 57 23 78 19 67M742 2397l70-1M3936 2404l51-1"/>
<path d="M1710 2030l18-16 12-11 25-27 18-24 24-37 36-64 42-87 30-69M3853 2422l54-3 60-5 120-15 36-3 30-1M1536 2250l27-8 27-11 18-10 22-14 18-15 22-22 14-15 22-30 18-26 18-30 18-33 22-45 18-40 22-53 41-107M2377 767l18-18 13-12 23-16 18-9 13-3 14-1 13 2 18 7 13 9 14 12 18 20 13 18 13 22 18 32 18 35 14 30M3334 2049l27 4 45 2 107-1M2123 1374l44-15 30-12 34-17 25-13 29-19 30-21 19-16 93-77M2967 1469l35 65 112 222M1411 1874l27-5 24-7 11-2 20-5 15-6 16-8 23-14 20-15 15-14M1982 1059l16-29 19-33 27-41 24-29 15-18 31-30M2208 806l46-33 43-25 31-16 12-5 11-3 12-1 8 0 8 2 15 4 16 8 15 13 12 10 11 14 12 17M2829 1735l66 126 43 78 43 72 27 41 19 27 20 25 62 74 27 31 27 26 31 28 31 23 20 12 46 22 31 9 24 5"/>
<path d="M1226 2403l19 0 34-4 20-3 24-7 14-6 24-13 15-9 24-18M2700 992l24 18 10 9 14 16 25 32 24 39 24 44 39 80 33 77 34 81M562 2409l61 2 158 11 55 2 48-2M1895 1731l36-53 49-73 49-79 54-92M2966 1467l36 65 43 80 164 289M3623 2275l25 2 24 0M1443 1989l24-51 43-84 28-53 29-49 52-81 33-46 29-37 38-57 33-46M3179 2209l33 45 28 32 24 23 15 12 28 20 19 11 24 12 19 6 38 9 19 3 19 1M2259 788l17-26 12-17 24-28 13-11 12-9 16-8 13-3 12 0 12 2 17 7 20 14 21 19 12 14 16 23 17 25 12 22"/>
<path d="M2108 1402l39-11 17-6 18-7 17-9 22-14 22-18 31-32 30-40 22-33 35-58M2632 892l13 8 13 9 18 17 13 15 26 35 26 41 39 72 105 211 66 126 92 167 61 97 43 75 35 65 53 105M1028 2426l31 6 47 5 36 0 26-3 32-7 31-11 21-11 26-16M2345 761l15-34 16-30 15-26 16-20 16-15 10-8 10-6 11-2 10-1 5 0 11 4 15 10 16 15 21 27 16 26 20 42 16 36 21 53 21 59M1229 2125l32-3 18-4 36-11 27-12M3492 2185l23 4 22 2M1903 1183l32-60 21-33 11-16 15-21 27-29"/>
<path d="M1727 2008l20-10 74-32 34-19 15-10 19-15 20-19 20-23 19-28 20-33 19-40 20-45 20-52 24-72 20-63 29-103 15-55M2292 779l24-56 20-38 19-32 20-25 10-10 10-7 9-7 10-4 15-5 10-1 14 1 10 2 10 4 10 6 15 12 9 10 15 17 10 14 20 31 24 48 20 44 19 48 30 80M3753 2354l15 0M1112 2173l66-1 72-3M3423 2128l27 9 28 12 27 14 22 14 28 20 22 17 72 61 44 35 27 19 28 15 38 17 17 5 33 8 49 6 39 1M1078 2269l42-1M2372 1174l23 10 14 4 19 5 14 2M3447 2148l10 1M1918 1689l55-83 110-170M3284 1993l30 27 35 30 44 35 45 31 20 12 35 19 30 15 20 8 40 14 35 7 15 2 40 3"/>
<path d="M488 2410l42 2 48 5 137 24 53 8 54 5 35 2 60-2 42-4 35-7 30-6 30-9 18-7M697 2380l31 0 37 3 49 6 25 4M3578 2414l37 6M941 2339l44 1M2350 768l22-33 22-28 17-18 28-25 16-11 6-2 11-3 11 0 5 0 11 4 12 7 5 4 17 17 16 24 11 19 17 33 16 38 23 59 16 50M3732 2339l33-3M998 2315l34 0"/>
<path d="M1108 2243l20-2 19-5 14-5 15-6M1267 2158l38-44 34-46 24-37 38-64 63-110 43-59 39-47 28-31 34-32 72-66 10-10M2012 1528l19-15 19-18 34-36 33-41 91-121 34-40 24-26 15-14 19-17 24-19M1053 2287l41 1M3962 2406l52-3M1945 1641l89-129 20-30 20-34M2398 770l15-7 20-3 15 2 15 5 14 9 15 13 15 15 15 18M3587 2249l25 5 25 2M932 2370l11 0M3453 2153l59 16 71 14 32 4 43 3 38 1"/>
<path d="M2166 1306l41-21 134-78 36-20 21-10M2071 935l27-61 21-43 21-40 27-44 21-30 22-26 10-11 22-18 15-11 11-5 11-4 10-1 16-1 11 1 11 2 10 4 16 10 11 9 11 11 21 27 16 24 32 57M3215 2236l21 35 22 32 26 35 16 20 22 21 26 24 11 8 32 17 21 9 27 6 21 2 27 0 26-3 21-5 43-13 21-10M3731 2342l22-8 16-4 15-3 16-1M962 2328l51-1M3538 2215l25 1M790 2345l46 2 29 2 58 8 34 3"/>
<path d="M1220 2040l23-1 36 1 112 15M3275 1981l27 30 27 27 49 42 27 18 32 16 13 6 18 7 23 6 31 5M1182 2194l36-4M3187 1870l18-1 13-2 18-6 26-13 57-13 31-5 31-3 22-1 26 0M755 2399l28 0M1057 2423l25 5 47 8 25 3 26 1 36-2 26-4 25-5 21-5 20-7 31-13 26-14 20-14 16-11 25-23 21-21 20-24"/>
<path d="M660 2397l42 2 107 15 41 3M1944 1639l23-11 18-11 12-9 12-11 12-12 24-30 12-18 17-30 24-47 30-69 24-62M2395 769l12-9 12-7 12-6 12-3 12-1 12 0 18 5 5 3 12 7 12 9 12 11 18 19 30 39 29 45M3602 2261l24-4 41-5 30-1M1238 2139l52 2M1129 2212l27 0 33 5M3850 2390l71 0M1191 2134l35-1 70 3M3114 1757l12 8 15 9 20 7 11 2"/>
<path d="M2432 1189l18 13 15 9M3656 2296l128 0M855 2385l53 1M3524 2206l16 1 22 0M655 2410l33 1 34 3 134 18 50 4 34 1 28-2 16-2 34-7M2247 1216l39-10 84-26 17-4M1207 2134l25-2 26-4 35-8 31-9M3777 2365l20 0"/>
<path d="M1039 2301l21 1M1722 2014l32-34 15-19 22-28 31-46 32-52 32-58 37-72 32-67 26-61M2341 763l21-23 11-10 16-11 15-8 22-5 15-2 16 3 11 4 11 6 15 14 11 11 16 20 10 16 16 26 11 21 21 45M3643 2286l47 8 27 3 26 1M1271 2056l25-2 20-4 20-4 20-7 40-17 25-14 16-10M3628 2276l30 14 40 17 40 13 31 7 30 6 40 3M3412 2116l79 13 46 6 88 8 42 0M1112 2158l123-4 42-2M3374 2078l14 3 36 4 32 3"/>
<path d="M1236 2156l42-4M1973 1592l65-50 42-36 18-18 33-37 13-17 28-39 33-52 41-76 42-82M3599 2258l5 0M1731 2001l38-32 38-36 24-25 28-33 91-114 42-62 29-45 24-39 14-25 24-46 19-41 19-44 23-60 43-120M2382 768l14-18 14-14 19-13 15-7 14-3 14-1 14 3 15 6 9 6 14 11 29 28 14 18 19 26 14 22 24 39 19 34M3555 2227l24-8 19-8 81-44 28-13 24-9 19-6 19-3 14-1M959 2263l66 2 89 8M1966 1083l26-64 27-56 22-40 27-40 13-16 14-13 9-8 17-12 14-6 13-4 18-1 9 1"/>
<path d="M1261 2155l12-2M738 2392l96 0M2154 1324l86-33 42-19 27-13 48-30 64-45M3819 2424l30 4 37 2 30 1 31 0 48-3 104-11 48-4 49-1M794 2328l44-1 55-2 39-3 49-9 23-6 33-10 38-18 22-12 23-14 27-20 28-22 33-30 33-32 22-24 39-44 105-127 55-62 33-25 83-58M3523 2205l22-6 28-5 22-2 22-1"/>
<path d="M1909 1704l38-48 17-23 22-33 33-56 44-83M3837 2386l83 0M3676 2312l30 3 105 2M1059 2218l51-4 28-3 28-4 46-10M2432 1188l199 259 69 87 28 32M3343 2055l14 5 23 6 18 3 23 3M3284 2293l25 26 24 22 25 17 14 8 20 10 24 8 25 6 39 4"/>
<path d="M1360 1828l15 2 18 5 19 8 14 9 19 14 19 16 24 26 14 14M2459 794l14-9 10-4 9-3 10 0 9 1 14 5 14 9 10 7 14 16 14 20 24 41M2735 1047l20 20 21 25 24 35 20 35 28 53 32 65 37 79 44 99M3212 1904l16 14 16 12 40 21 20 9 13 4 28 6M650 2395l164 1M2081 1436l29-16 36-25 28-25 21-20 29-31 28-34 36-47 50-68M3690 2427l57 15 50 8 57 5 57 1 57-3 64-7 128-20 50-7 43-4 35-1M3731 2340l22 4 22 3 28 2"/>
<path d="M3780 2367l65-10 30-2 24-1M1143 2157l22-1 28-6 23-7 33-15 17-10 34-22 28-23 28-27 34-37 28-33 28-35 16-23 34-39 73-91 39-53 28-41 34-51 17-28M2253 1208l84 42 23 10 22 9 56 18 79 19 62 18M3560 2410l40 13 39 9 39 5 51 1 33-1 45-5 135-17 33-3 34-1M924 2290l120-1 52-3M2355 1174l110 36M1870 1780l32-33 52-57 42-55 28-43 33-55 24-43 47-93 56-117M3342 2055l29 5 32 3 19 1 66-3 42 1"/>
<path d="M775 2378l99-2 66-4M1919 1157l22-77 27-89 22-65 22-59 22-51 22-44 17-27 16-22 17-15 5-4 11-5 6-2 11-1 11 2 11 4 16 11 11 12 11 13 22 33 17 28M2485 1225l28 28 27 24M1405 1978l48-2M1088 2170l91-3 36-3 31-6 35-9M2461 1207l56 60 92 103M1125 2146l15-1 16-3 30-11 16-8 15-9 31-21 31-25 36-33 118-120 30-30 46-32 31-23 46-38M2048 1480l21-17 61-58 62-67 102-118 41-43"/>
<path d="M3567 2236l38-16 29-9 24-5 28-2M1152 2205l33-3 25-3M1116 2240l19 1 19 2M1424 2325l29 2 34-1 29-5 15-4 33-15 20-10 14-10 19-13 10-9 34-35 19-24 24-35 29-47 24-44 29-59 29-64 24-57 92-229M2438 783l19-20 19-14 5-3 10-4 14-5 19 0 15 4 19 10 15 11 19 20 19 25 10 14 24 40 10 17 33 68 44 97M3436 2140l10 2 29 2 43 0 63-3M2276 780l18-43 24-51 12-23 12-18 11-16 18-19 6-5 12-6 6-2 12-3 6 1 17 3 18 8 12 8 12 11 24 27 17 25 24 39 30 56 29 62 24 54M2934 1892l35 101 18 42 18 38 18 33 23 38 18 24 30 36 18 18 23 21 24 16 24 14 23 11 36 13 83 25M3585 2414l24 8 30 8 29 6 36 4 35 0 30-2 36-5 106-22 30-5 35-4 24-1"/>
<path d="M492 2396l31 1 32 3 107 17 56 6 45 3 113 5 107 8 57 3 44-2 44-7 38-10 38-16M1557 2229l19-14 19-17 18-19 13-15 13-17 19-29 25-45M2401 770l13-9 19-12 19-9 12-3 13 0 19 3 19 8 12 9 13 10 13 13 19 23 25 37 31 56M1182 2204l23-3M3483 2177l33 7 42 4M3305 2020l24 4 52 4 24 1M1203 2164l61-3"/>
<path d="M1027 2311l15 0M1892 1736l21-20 32-35 16-22 21-31 21-36 21-40 26-55 22-46M2365 767l17-17 20-19 26-17 12-7 13-5 16-2 9 1 17 6 12 8 13 12 12 16 13 19 12 22 13 26 12 29 17 42M3474 2170l17 1M2404 1178l18 16 31 33 36 40 50 59 41 43 18 18 27 24 23 16M3086 1704l63 80 59 68 54 57 18 22 41 46 27 28 18 16 27 23 23 17 18 11 27 15 14 5 22 7 18 4 18 2M893 2383l22 0"/>
<path d="M929 2349l20 1 20 2M3429 2132l14-3 30-1M1602 1771l46-130 31-79 52-137 21-50 20-46 21-43 21-39 20-36 26-41 42-57 25-33 21-22 21-20 36-29 31-23M2196 810l21-27 26-31 21-22 10-9 16-12 20-12 11-5 10-2 15 0 11 4 15 8 11 9 10 12 10 14 11 17 15 30M2590 1333l36 131 26 81 15 44 11 26 15 36 21 43 15 28 21 33 26 36 57 74 31 44 52 78 62 100 20 29 26 34 42 47 41 44 15 14 21 18 21 15 46 30 31 16 32 14 41 16 26 9 31 7 26 5 15 2 31 2 21 0M1891 1739l39-59 30-46 39-63 68-113M3401 2105l20 9 14 5 15 4 19 2M2051 961l34-62 35-52 14-19 15-17 15-15 14-12 15-10 15-8 14-5 15-3 10 0 15 3 14 4 15 8M3280 2291l15 16 20 18 19 17 20 13 19 10 25 9 15 3 19 2"/>
<path d="M1175 2053l87-1 86 2 44-1M471 2403l32 1 37 5 37 7 90 20 43 8 47 7 43 3 53-1 58-5 69-10 90-16M1915 1695l25-25 19-21 37-51 19-27 43-75 50-96M2419 775l25-38 25-33 12-13 13-12 18-13 7-3 12-3 13 0 6 0 6 2 12 6 7 3 12 11 19 21 18 27 25 46 19 40 25 62 31 85 19 56 25 81M3607 2418l50 12 50 9 87 14 69 6 31 1 31 0 50-4 49-7 44-9 93-25 31-7 38-7 37-2M2014 1526l102-65 45-30 22-16 51-43 112-108 29-26 33-26 17-11 17-9M3236 1933l73 79 39 41 51 48 28 24 51 40 39 27 28 17 57 31 50 24 40 16 39 13 40 12 50 11 40 5 50 4"/>
<path d="M1111 2148l42-2 96 0 27-2 14-2M2212 1252l28-10 36-12 51-12 37-7 27-5 60-6M2239 1223l78 31 39 8 19 2 20-1 12-2 23-6 23-9 16-8 20-12M2773 1098l12 10 20 23 23 35 27 48 24 44 35 72 86 184 43 89 39 67 31 45 23 28 24 25 19 15 20 13 15 8 16 5 19 4 12 1 35 12 31 7M1300 2108l30-1M2450 791l26-16 25-12 21-6 21-3 21 3 17 5 21 12 17 14 13 13 8 10 21 30 13 20 25 47 17 35 25 60 21 54 21 60M2390 766l12-11 26-17 13-7 13-5 13-2 13 1 8 2 13 5 13 9 17 16 9 10 17 23 8 13 18 31 21 43"/>
<path d="M1088 2220l32-2 32-5 23-4 32-10M2145 1342l31-38 35-49M3816 2381l91-6 50-1M1299 2015l33-4 19-4 29-9 15-5 24-12 52-27M934 2370l12 0M1423 2327l18-6 24-11 35-21 36-27 30-25 36-33 47-51 30-34 42-53 30-43 24-37 18-31 29-55 24-48 30-64 48-111M3075 1681l36 50 24 37 36 63 29 59M3534 2405l30 14 18 7 24 7 36 9 30 3 41 0 24-1 24-3 36-7 48-12M3928 2404l30-4 24-1"/>
<path d="M860 2345l45 2 62 8M3704 2328l39-1M3764 2358l30-3 30-1M1821 1858l17-19 23-30 16-25 23-37 17-31 17-33 17-37 23-54M2257 786l11-18 11-15 12-13 17-15 11-8 11-6 12-4 17-1 22 5 29 15 34 26 22 22 29 30M3599 2416l33 14 34 10 29 4 34 1 34-3 28-5 68-16 45-12 29-6 28-4 28-1M1249 2125l36-3 20-5 21-7"/>
<path d="M1141 2224l20-1 21-2M1142 2231l27-1M3748 2351l102-7 49-1M2217 806l17-22 18-17 17-12 12-5 11-4 24-3 11 1 12 1 11 4 12 4 23 13M3469 2390l24 13 23 11 35 15 17 5 29 8 17 3 29 3 29 1 41-1 17-2 105-15 40-4 116-7 35-3 46-7 93-17 29-4 23-1M331 2406l36 2 43 5 36 7 86 18 43 7 44 4 28 1 44-2 21-3 22-3 21-6 22-7 22-8 21-9M856 2393l36-21 65-40 36-21 14-7 22-10 29-10 36-8 21-2M3909 2401l58-4 43-2"/>
<path d="M1308 1963l35 0 50-4 50-8 40-10M3730 2339l24-5 35-7 35-4 35-2M1013 2284l30-1 24-3 30-6 24-7M3481 2178l44 3M1462 2303l18-8 9-4 27-17 32-26 18-18 28-30 18-23 36-51 27-42M2370 767l13-11 19-12 9-4 22-6 14-2 18 1 9 3 14 6 23 14 13 12 14 13 13 16 19 24 27 41 13 22M1102 2218l42 0 46-1"/>
<path d="M1224 2180l12 0M2860 1252l25 42 20 39 25 52 33 76M3744 2347l27 6 33 4 59 4M939 2350l33 0M2364 1174l38 29 22 16 33 20 32 17 33 14 22 8M1370 1919l22-2 43-6 26-4 31-1 17-4 9-3M2319 1181l39 5 35 1 35 0M3552 2223l43 2"/>
<path d="M1439 1855l23-1 22 6 22 3 22 1 15-1M2180 821l21-41 21-38 22-33 17-23 12-13 17-14 22-12 13-4 17 1 17 5 17 11 12 12 22 26 17 25 25 41 17 31M2341 768l18-34 19-28 14-18 19-17 23-16 10-3 9-2 14 0 14 5 9 5 10 6 18 18 19 25 14 21 19 33 23 47 14 31 23 56M808 2333l47 1 68 3 68 1"/>
<path d="M1341 2072l35-3M3489 2396l25 10 15 5 19 4 30 4 19 1 20 0M747 2395l73 0M787 2360l50-3 45-6 45-11 40-13 45-19 45-22 139-78"/>
<path d="M1195 2410l84 17 25 4 34 4 25-1 19-2 30-6 29-12 25-14 24-18 15-14 10-11 25-30 24-36 20-34 20-37 19-41 30-70M3600 2259l35 1M1214 2406l32-3 21-4 27-8 27-10M2076 928l21-62 16-42 16-37 16-32 16-27 16-22 22-23 16-11 5-2 11-3 16-1 16 4 16 8 16 12 27 24 16 17 32 37M1979 1064l90-165 17-29 35-52 21-27 13-13 13-10 17-10 17-4 13 0 13 2 13 5 13 7 17 14M2906 1856l30 65 13 25 17 33 22 34 26 34 13 14 25 24 18 14 12 8M2150 1334l57-49 58-42 24-17 29-17 39-23 24-12M2771 1095l20 19 14 18 24 35 24 40 29 53 29 55 34 69 96 202 24 45 39 69 53 90 48 76 29 41 58 77 19 24 39 40 29 24 24 17 24 15 29 12 29 9 24 4 14 1"/>
<path d="M3660 2301l22 6 33 6 33 4 39 2M3554 2224l28 5 23 3 13 0M1075 2164l31-2 36-3 26-5 67-15 88-25M1055 2424l40 2 41 1 23 0 52-3 52-5 29-5 40-10 29-9 23-10 29-16 17-11 17-13 23-20 29-29 23-26 23-29"/>
<path d="M955 2263l131 1 42-1M3643 2426l30 7 24 2 24 2 42-1 47-5 114-17 35-3 42-2M1109 2267l14 0M1744 1500l56-154 23-61 23-57 23-54 18-39 32-61 23-37 14-19 14-16 14-13 13-9 14-7 9-3 10-1 9-1 9 1M2954 1934l28 57 19 32 32 49 27 36 33 37 18 19 14 12 23 19 9 6 32 17M1429 1976l29-4M3181 1861l37 36 42 37 55 58 21 20 37 34 34 25 21 14 12 8 30 15 12 5 21 8 21 6 21 4 25 4M1115 2236l15 0 35-3M2176 1296l25 6 35 4 20 0 15-2 30-5 40-15 10-4 30-17 30-20 50-35M3591 2253l35-4 45-1"/>
<path d="M1203 2164l38-2 26-3M923 2329l53-1 38-3M2443 789l30-39 22-24 27-22 8-6 14-6 8-3 13-2 9 1 9 2 13 6 13 10 9 8 13 15 9 12 17 28 22 44 22 50 22 57 18 51 26 85 18 62M3039 2047l8 16 22 38 27 38 22 26 17 18 22 19 17 12 27 15M993 2273l46-2 37-3 23-2 32-6M2668 941l9 2 14 4 14 8 9 7 14 14 9 11 23 33 23 42 27 59 23 56 32 85"/>
<path d="M3589 2251l52 6 31 3 15 0M677 2408l43 2 42 5 42 8 115 22 37 6 36 5 48 3 42 0 37-1 42-5 36-6 31-8 30-10 24-11 30-16 30-20 25-19M3694 2324l72-1M3427 2131l97 5M2888 1827l14 30 27 54 27 48 14 22 23 30 18 21 22 22 28 23"/>
<path d="M2457 790l22 3 11 4 17 7 16 12 11 9 16 17M3616 2271l49 3M1517 2269l21-10 16-8 26-17 26-20 37-35 26-29 37-46 42-57 42-61 53-80 105-166 57-98 32-58 47-94 90-191M2904 1341l47 89 90 177 42 76 73 125 58 90 42 60M3508 2195l21 11 21 9 16 6 26 8 37 10 32 4 15 0M2189 1278l15-3 54-8 45-3 59-1 45 3 20 2 20 3 39 9 25 8 55 23M3126 1777l40 51 30 35 29 32 35 36 40 45 49 51 25 23 30 25 20 15 39 25 30 15 30 12 30 10 29 7 50 6M1422 2013l5 0M3906 2400l60-1"/>
<path d="M1189 1990l19 1 23 2 89 16 23 4 19 1 18 0 19-1 18-4 14-3M2869 1799l33 81 32 69 19 35 18 32 24 34 28 33 23 23 19 17 55 45 19 13 33 22M3492 2185l33 3 19 0 115-9 43 0M1736 1996l28-27 18-21 24-28 37-50 38-60 37-68 33-67 28-65 33-83M3121 1767l56 81 38 60M1242 2106l55-5 47-6M3542 2217l28-3 27-1"/>
<path d="M1555 1840l83-166 45-85 44-93 44-88 28-51 28-49 28-45 22-32M2331 1178l34 21 27 20 17 13 39 35 33 35 17 19 22 28 27 37 111 163 50 69 33 40 28 29 11 10 22 19 28 18M1046 2290l44 1M3063 1662l49 46 33 34 28 31 38 49 28 40 22 35 82 158M3772 2362l44-3 39-1M768 2340l84-2 62-3 67-8 45-9M2200 1266l68-20 62-14 22-3 17-1 34 0 22 3 39 9 34 14 23 11 22 14M3543 2216l39 6 57 3M1085 2257l30-2 31-6"/>
<path d="M2329 1177l36 16 36 11 28 5 20 1 15 0M2747 1065l12 3 8 3 12 8 12 12 12 14 12 17 16 25 16 28 31 63 28 63 40 99 44 115M1269 2136l33-2M3567 2411l22 12 16 8 22 9 22 6 28 7 33 4 11 1 27 0 39-2 55-7 44-10 88-23 33-8 39-6 39-2M1606 2172l14-8 14-11 23-20 18-20 9-11 28-37 18-28 14-23 32-58 27-55 23-50M2271 780l19-18 18-16 23-16 14-7 14-5 9-2 18 0 14 3 14 5 18 10 14 9 14 12 13 15 19 23 9 14M1339 2062l46-2M2335 1174l28 27 23 20 23 17 24 13 28 10 18 4 15 1 37-1"/>
<path d="M2125 866l22-36 12-20 13-16 22-23 13-10 8-6 13-5 13-4 17 0 8 2 13 5 13 7 13 9M1362 2364l20-7 14-6 35-17 14-9 30-22 15-11 14-14M3426 2129l31 8 23 4 50 7 36 2 73 1M3231 1930l13 3 19 2 41 10 37 4 18 1"/>
<path d="M3279 1988l21-2 29-1 25 1M1310 2032l23-2 27-4 46-11 27-10M3113 1755l12 8 11 5 20 8 15 3 19 3 19-1 8 0 23-4 23-7 4 1M794 2351l26 0 122 5 20 0M3690 2321l38 6 38 4 44 3 32 0 50-1 121-6 63-2"/>
<path d="M2150 846l13-31 17-36 14-24 13-20 13-17 17-19 9-7 9-6 13-5 13-3 9 0 9 2 13 3 9 4 17 10 13 11 14 13 17 21 22 29M3558 2227l56 3M899 2302l35-3 35-8 26-8 15-6 30-14 41-23 30-20 36-26 76-63 81-71 157-142 46-32 40-33M2363 1172l81 88 31 30 25 22 25 18 21 12 30 14 30 11M3636 2425l42 10 23 3 42 4 35 0 29-2 36-4 88-15 59-9 36-3 29-1"/>
<path d="M3543 2217l46 1M682 2381l43 0 120 3 69 0M2360 767l18-24 24-27 28-26 13-11 10-5 9-4 14-3 9 0 10 2 4 2 14 9 14 12 14 18 14 21 19 36 14 32 18 49 14 41M2927 1886l33 68 28 51 32 50 23 31 24 27 28 30 14 13 23 19 14 10 18 10M1000 2264l45-2 19-3 90-16"/>
<path d="M842 2364l22 0 45-2 56-7M879 2346l34 1 61 2M2173 1293l28 3 17 0 17-2 11-2 11-3 16-7 12-5 11-6 16-12 28-23 11-10 45-48M859 2352l108 1M948 2315l37 0 50-2M2507 813l13-1 18 2 13 5 12 7 13 10 12 12 13 15 12 18M3968 2406l93-9 62-3"/>
<path d="M1361 2364l30 0 14-2 20-3 25-6 20-7 24-10 20-10 39-24 25-18 25-21 15-14 24-28 20-24 35-48 29-49 35-64 25-52 29-67 30-74 24-65M2457 790l20-5 14-1 25 3 15 4 20 9 15 8 14 10 20 17 25 25 15 17 24 32 25 36 30 48 14 27 20 37 20 40M3642 2285l24-1M559 2408l36 1 30 2 132 18 48 3 30 1 30-2 30-4 24-4M1117 2254l22-1M3451 2151l25 9 30 8 35 6 19 2"/>
<path d="M911 2340l36 3 26 5M1558 1840l42-104 42-97 42-91 47-108 26-55 16-31 15-29 26-45 32-46 15-20 26-29 16-14 16-10M2890 1833l26 61 37 82 26 53 26 46 21 33 16 23 36 50 42 52 21 23 26 26 26 23 16 13 36 24 21 13 16 8 31 12 31 9 48 8 15 2 32 1 41-1M3783 2426l49 4 30 1 37-2 43-3 129-16 55-2M1257 2072l49 1 59 4M1993 1049l19-61 25-71 29-76 25-56 20-40 19-34 20-27 10-11 9-10 10-7 10-5 5-2 15-3 9 0 5 1 10 4 10 6 15 12 19 23 20 28 29 48M873 2324l28 1 39 5 45 11M2333 763l17-18 17-16 17-13 16-10 12-5 22-8 17-1 11 1 11 4 17 10 11 10 17 19 11 16 11 19 17 33 17 38 11 29M2842 1754l17 40 23 47 28 50 22 36 22 32 23 27 11 13 56 55M3699 2326l33 1"/>
<path d="M1090 2250l46-3 15-3M3308 2024l15 8 26 17 41 31 46 42 82 80M3651 2292l31 8 26 3M1352 2058l5 0 19-2 18-5M2250 789l23-22 19-12 23-11 15-4 14-1 18 2 19 7 19 11 19 16M3063 2082l37 54 14 19 19 24 33 35 19 18 23 20 52 40 33 21 19 11 33 17 18 9 29 13 37 14M2229 798l25-44 20-32 13-16 20-24 13-12 16-12 13-6 16-3 9 0 8 3 8 3 9 5 12 10 21 21 16 22 17 27 16 31 17 34M881 2381l38 1M3168 2200l13 16 20 21 19 18 13 9 19 13 25 10M3861 2421l19 3 25 2 26 0 26 0 38-4 103-13 32-2 25-1"/>
<path d="M1401 1953l38-7 52-15M2191 1274l35-7 107-27 78-18 60-9M3472 2170l26 8 39 9 21 4 39 3M1189 2093l38-3 39-5 33-9 17-6 22-8 38-20 28-16 27-20M3750 2351l28 4 72 6 60 2 94 0M1278 2147l5 0M1726 2010l18-14 32-26 18-16 28-28 27-33 23-33 18-29 23-41 14-27 27-60 28-68 45-130M2512 812l23 11 23 15 22 18 19 19M3590 2252l23-1M2092 1425l49-48 29-35 39-54 29-46 20-34"/>
<path d="M413 2413l35 1 42 3 142 16 36 3 35 1 42-1 41-4 42-6 35-8M2339 1173l65 91 29 38 12 15 12 12 12 11 18 15 17 11 18 9 24 6 30 3 23-1 18-3M3429 2133l12 0M713 2361l92 0 58-1 46-2 59-6M2237 1229l33-27M3755 2426l39 3 46-1 39-2 112-10 65-3M3255 1957l15-3 53-6 29-1 24 0M857 2385l42 3M2181 819l27-80 21-57 27-63 16-32 21-35 16-20 5-6 11-8 11-5 5-2 11 0 10 2 6 3 10 7 11 10 16 22 21 36 22 42 21 47 32 81 27 72M2998 1998l21 41 32 52 38 54 32 39 26 25 22 15 21 9 27 8"/>
<path d="M969 2249l26 1 42 3 87 14M1206 2159l20-1 20-4 20-4 20-6M3468 2167l25 9 25 7 34 9 35 7 30 5 44 6 55 4 25 0M2107 1401l40-24 45-24 14-8 31-22 23-19 22-22 31-40 23-33 22-37M2542 839l18-22 18-17 18-11 9-3 9-1 9 0 9 3 14 6 9 7 9 8 13 14 9 10 18 27 18 30 23 46 22 50 22 55 27 71 68 188M3575 2240l27 5 27 1M2378 768l29-46 36-53 15-18 10-11 8-6 14-9 15-3 7 0 7 2 7 3 7 4 15 12 7 9 11 15 18 31 14 31 22 54 18 52 14 46 22 75"/>
<path d="M2508 811l12-1 12 1 19 6 12 7 12 9 18 17 12 15 13 18M3774 2426l30 4 37 4 30 1 31 0 30-3 36-4 80-12 36-4 37-3 24-1M1118 2129l27-2 33-6 23-4 33-10 37-14 23-11 33-18 32-22 19-13 23-19 24-20 23-22 14-16 37-37 28-33M1894 1197l23-44 19-31 14-20 19-24M2308 1185l14 3 19 3 28 1 23-1 37-4M3127 2161l28 36 18 22 19 19 23 20 23 18 28 19 19 10 32 13M749 2401l16 0M886 2423l76 19 44 8 33 4 43 3 39-1 33-2 27-5 22-5 27-8 27-11 22-10 17-9 22-13 32-24M1211 2191l10-1M1958 1613l26-10 68-24 26-11 37-18 21-13 26-17 21-17 36-34 37-42 36-46 68-90 32-38 20-24 37-34M3447 2147l42 29 73 44 47 25 52 26 37 16 52 19 47 13 21 4 26 3 36 3"/>
<path d="M3459 2158l40 6 35 3 100-4 44-1M1122 2185l34-1 38-2 44-4M3957 2411l120 14 41 3 33 0 34-1 33-3 128-14 26-2 27 0M3363 2342l23 17 23 14 14 7 23 9 32 9 27 3 14 1"/>
<path d="M1274 2124l22-1 22-4M2229 797l13-21 14-18 13-16 18-17 18-14 18-10 19-6 13-1 18 3 14 4 13 7 14 9 31 27 18 19 18 22 14 19M3714 2333l54-2M2227 1238l28 13 46 18 34 10 23 5 17 2 11 2 34 1 103-12 17-1M1284 2388l39 4 22-2 22-3 18-5 13-6 14-7 13-9 22-20 22-24 22-30M2011 1024l13-38 13-35 18-42 17-38 23-41 35-55 13-19 70-94 40-55 57-81 18-24 13-15 18-18 13-9 13-6 18-3 9 2 9 4 13 10 4 4 13 15 9 13 18 32 13 30 13 34 27 81 26 98 22 93M2755 1608l36 100 26 65 27 61 48 101 18 33 39 69 22 34 18 23 22 24 31 26 13 10 40 27 57 34 53 28 17 9 18 7"/>
<path d="M1057 2272l61 1M1875 1766l46-27 20-13 11-8 20-16 26-24 35-39 26-32 36-50 133-202 20-30 41-54 21-26 25-29 41-43M3179 1859l21 23 61 63 82 93 20 21 26 26 25 23 36 28 31 21 20 11 26 11 20 7 51 13 31 4 41 2M3088 1706l35 29 93 69 44 39 26 34 67 88 22 29 35 42 18 18 18 17 30 26 18 12 18 11 17 8 18 7 22 5 13 2M1861 1266l27-78 36-98 23-57 27-61 23-46 32-56 27-41 23-29 23-24 18-15 9-6 23-11 13-5 14-2 9 0 18 3 19 5 13 6 14 7 27 19M2866 1796l27 55 32 54 14 21 23 30 22 27M3157 2188l55 76 32 39 22 25 14 13 18 15 18 13 19 10 13 7 14 4 23 5 22 3 14 0 32-1 32-3M848 2371l42 1 47 4M2308 764l18-18 18-14 17-11 12-5 18-4 12 0 12 1 23 5 12 5 18 11 12 9 17 16 12 14 18 23 24 36 11 20M3337 2327l41 38 24 19 23 16 30 16 24 10 35 11 30 7 23 3 36 0 35-3 18-3 41-9 24-7"/>
<path d="M677 2372l49 1 56 2 129 9M3785 2370l43 0M1164 2230l11-1M3817 2380l102 2M1743 1984l13-8 14-9 23-20 13-14 28-34 27-44 27-50 28-56 22-51 23-55 32-84M2489 802l18-4 23-4 14 1 13 3 18 7 14 8 14 9 18 17 18 21 14 18 13 21 19 30 27 51 14 27 36 80M3144 1805l17 13 30 20 17 7 13 5 26 7 17 4 38 15 22 7 25 6 35 7 25 3 17 1"/>
<path d="M1122 2183l107 2M3647 2290l36-3 56-2M880 2379l49-2M3632 2280l11 0M3578 2414l40 8 52 6 46 4 70 1 40-1 35-3 150-19 34-2 29-1M2012 1019l78-194 33-78 26-55 26-47 11-19 15-21 11-13 11-12 8-6 14-10 11-4 12-3 7 1 11 2 11 5 15 9 11 10 11 11 19 23 22 36 22 42 41 89M2957 1939l30 60 19 33 29 47 15 22 15 19 33 38 23 19 22 14 15 6 11 3"/>
<path d="M1855 1806l18-28 33-55 23-44 27-57M2373 767l14-19 14-16 13-12 19-14 14-7 14-3 14 1 9 4 14 8 14 13 14 17 9 14 14 24 14 28 27 65M1072 2279l36 1M3305 2023l18 2 18 1M3459 2159l21 5 16 3 38 5 42 3 69 2M2990 1513l54 88 58 83 45 60 40 51 23 26 27 28 22 20 36 39 18 18 31 27 14 11 22 15 31 18 27 12 27 10 23 5 31 5"/>
<path d="M1368 2075l96-144 61-82 112-145M3639 2283l51 12 45 9 45 6 50 2M1096 2233l20-3 14-3 15-5 19-8 29-16 20-13 19-14 29-25 25-22 44-43 53-56 73-72 49-40M3566 2235l15 0M1208 2407l20 1 34-3 29-6 20-5 19-8 35-17 19-13 20-15M2210 808l20-50 15-32 19-35 15-21 15-16 19-17 5-3 10-4 10-2 9-1 15 2 15 7 14 11 20 20 24 30 20 28 29 50 20 38M2406 770l21-25 13-14 16-13 13-8 17-6 12-1 13 3 12 6 17 13 13 13 12 16 13 20 17 30 12 27 17 39 13 32M3332 2050l72-36 25-11 21-8 21-6 21-5 29-4 21 0"/>
<path d="M2115 1390l17-9 22-14 23-14 28-22 23-21 23-24 28-34 34-45 22-32M2669 945l17 16 23 25 17 23 17 25 23 38 17 31 17 33 22 48M765 2398l26 1M958 2303l40 1 50 4M1864 1790l24-28 61-81 71-108 43-70 142-243M3465 2164l29 8 23 5 48 7 24 1"/>
<path d="M2504 808l13 0 13 2 22 6 21 12 22 16 21 22 18 21 34 52 22 37M2580 1331l21 35 20 33 26 37 21 28M3241 1939l29 30 72 85M3532 2210l25 5M3576 2414l39 10 55 11 43 5 50 2 38-2 39-4 38-6 82-15 38-6 33-3 28 0"/>
<path d="M1057 2274l26 1 27 2M3597 2259l85 0M890 2361l21-1 25-2 31-5M3190 1875l15 6 20 7 15 2 20 0 29 5 20 1"/>
<path d="M3708 2427l82 9 50 5 57 3 50 0 51-3 31-3 126-19 38-5 38-3 31-1M1260 2394l28-1 19-1 23-4 28-10 23-10 23-15 18-16 23-24M1820 1354l32-84 42-100 27-58 23-42 24-35 13-17 10-10 13-12 10-6 14-7 13-4M1583 2200l23-2 23-7 17-8 23-16 23-21 22-26 23-29 23-33 46-74 74-129 98-160 46-81 34-68 23-51 28-68 29-74M2424 777l29-26 17-13 12-7 23-11 22-5 12-1 11 2 18 5 17 10 11 8 12 10 22 26 23 33 29 48 29 55 34 74 23 54 29 70 34 90M3255 2270l17 17 23 19 17 11 11 5M3770 2361l97 11 80 2 86 0M709 2378l71-3 66-4 71-8 46-7"/>
<path d="M3398 2101l74-4 47 0M1347 2028l43-4 19-4 14-4M1992 1562l28-32 24-32 14-20 29-47M944 2361l15 0M1157 2231l13-1M3336 2050l35 5 17 2"/>
<path d="M2526 828l10-5 20-8 19-4 15 1 10 2 15 7 14 11 15 14 15 18 14 21 25 43 29 65 34 89M3167 2199l15 16 25 22 24 19 29 19M3589 2253l79-2M2208 1257l21-6 80-18 43-11 16-6 16-8 21-11 21-14M3133 1786l25 28 46 48 42 40 16 15 25 26 26 22 20 15 21 12 13 6 12 4 17 3"/>
<path d="M1924 1677l25-27 44-44 44-39 63-54 35-31 29-29 39-41 35-42 34-46 108-153M2703 997l9 8 15 13 15 16 19 26 20 30 20 34 24 48 54 118M3119 1765l24 27 30 28 39 29 49 32 44 40 29 30 113 124 24 24 30 25 19 15 20 12 15 7 24 9 15 3 14 1M1339 1974l26-4 17-6 18-8 26-16 21-15 13-12 13-9 35-30 30-31 40-45 21-28M2138 1352l58-44 53-35 70-42 99-53M3839 2387l215 1M1586 2198l17-11 22-18 26-28 22-29 22-32 21-37 26-49 22-44M2508 810l18 4 17 5 26 13 26 18 22 20 26 29 30 42 31 50 30 56"/>
<path d="M2605 1362l22 44 22 38 22 33 17 20M3734 2342l89-1M1034 2268l35-3 35-9 17-6 24-10 40-22M1896 1726l35-36 29-35 24-30 23-34 29-47 29-52 30-58 23-50M3581 2414l35 12 23 4 17 2 18 0 17 0 24-3 23-4M3849 2392l58-19 35-10 35-6 35-2M1313 1980l25-2 20 0 29 0 62 4M1925 1676l54-54 37-42 45-55 74-103 99-143 69-95M3125 1776l25 19 21 11 16 7 16 4 17 3 8 0 16 0 17-2 4 0 58 10 90 10M1159 2187l44-3 34-6M2903 1848l29 64 29 61 15 28 19 33 20 30 29 41 39 48 34 39 15 15 39 35 19 15 29 20 34 20 39 19 39 16 30 9"/>
<path d="M1397 1992l11 0 16-3 28-6M3606 2418l27 11 28 9 49 11 27 5 33 3 38 1 27 0 49-4 49-7 38-7 104-22 38-7 38-4 33-1M1106 2241l53-1M1964 1608l70-99 37-56M3691 2321l38 5 53 5 48 1M751 2388l31 1 63 2M3389 2094l32 0M2322 761l15-11 16-6 16-2 16 2 21 8 22 12 26 20 11 11"/>
<path d="M675 2407l57 2 107 7M3835 2386l38-3 32-1M1244 2149l23-1 18-3M3390 2357l18 12 22 14 17 8 12 4 17 5 28 5 40 2M3846 2422l34 5 28 3 29 1 28-1 23-2 28-4 109-20 28-3 28-2M2059 953l14-38 15-34 15-30 9-18 10-15 15-20 10-11 14-14 10-7 15-6 14-3 15 0 25 6 9 5 25 14"/>
<path d="M786 2388l50 0 38 2M3703 2427l44 5 51-1 38-4 107-13 51-4 25-1M1239 2401l38 1 33-1 23-4 19-4 10-3 23-9 19-9 14-9 14-10 19-15 29-27 33-40M1914 1692l28-21 33-32 24-28 19-27 19-32 19-36 23-51 24-56M2509 815l24-9 18-4 15-1 9 0 14 2 19 8 19 12 19 16 19 22 19 25 14 22 19 32 23 44 47 102 62 147M3481 2177l19-1M992 2320l37-2M1489 2286l17 1 17-1 13-2 21-6 22-10 21-14 17-14 21-23 17-22 13-17 26-41 38-71 34-68 72-154 35-70M3231 1929l64 16 30 4 56 4 21 0"/>
<path d="M3666 2305l40 10 54 10 59 7 34 1M3447 2148l62 21 56 17 36 7 36 6 41 2M608 2396l163 4M3478 2172l5 1M2547 838l17 4 17 9 9 7 8 8 13 14"/>
<path d="M792 2393l33 2M940 2423l38 10 33 5 33 3 39 1 44-4 99-10 76-9 39-8 22-7 22-10 27-17 17-12 16-14 28-28 27-33 17-21M2263 789l28-55 33-58 16-25 17-22 11-13 11-10 11-8 11-6 5-2 11-3 17-3 11 1 11 4 5 2 11 6 11 9 11 11 22 27 22 33 17 30 21 45 11 25 28 67 22 60M3466 2168l39-17 38-14 22-5 11-2 16-1 6 0M1098 2183l46-2 47-5 31-5 41-10M2190 813l24-45 12-18 16-21 16-17 16-12 12-7 12-3 16-2 16 2 12 4 16 10 8 6 12 11 12 12 16 20 16 23M969 2194l11 0 17-2 28-6 34-11 16-8 28-14 29-17 101-65 33-21 68-38 17-8 44-19 45-15 23-6M3119 2153l23 28 33 38 23 23 33 29 23 16 28 17 28 14 22 9"/>
<path d="M881 2347l45-1 57-5M2207 1259l64-41 58-40M3942 2412l45 1 83-4 70-2M3286 1999l43 5 121 5M1376 1907l33 2 16 2 27 4 10 3 22 8 11 4M1801 1889l22-25 16-23 16-23 32-53 27-49 27-54 32-69M3591 2414l33 14 10 4 16 6 38 9 43 7 16 2 27 1 27-1 38-2 43-6 32-6 37-9 65-17 32-8 38-6 37-3M638 2409l34 1 39 3 39 6 84 14 39 5 28 3 51 0 33-2 39-7 39-10M2489 1226l34 45 33 44 45 56 45 54"/>
<path d="M2935 1900l17 36 17 32 11 20 17 27 17 23 23 25 11 12 29 25M3859 2422l45 1 45-1 68-7 85-12 29-2 28-1M534 2410l23 0 47 4 122 13 52 4 35 0 29-1 24-2 35-4M1302 2096l25-3 14-4 15-6M3617 2271l69 18 39 9 44 6 34 2M1075 2421l43 3 27-1 16-1 27-5 43-14M2484 798l16-9 11-4 11-3 10-1 17 2 10 3 11 6 11 7 10 10 16 18 22 32 27 51 21 48M3625 2275l16-1"/>
<path d="M3596 2257l61 26 39 15 55 19 49 14 61 13 33 6 50 5 49 3M780 2350l32 1 32 4 38 8 53 14M1203 2160l26-2 21-4 17-5 25-9M908 2374l31-1"/>
<path d="M3600 2259l36-2M2227 1229l15 15 71 80 36 35 15 11 15 10 10 5 10 4 10 2 11 2 10 0 10-1 15-5 10-5 10-6 16-10 15-13 20-20 35-39M2815 1173l20 27 15 24 21 35 20 39 40 84 56 127M731 2399l20 0 21 2M922 2424l37 1M1487 2289l16-6 31-14 26-14 21-14 25-20 21-18 21-21 26-31 21-28 25-40 26-45 16-30 15-32 21-47 42-102M2487 803l16-4 21-1 15 4 16 7 15 12 16 16 15 20 16 25M3249 1952l41 23 32 14 20 7 16 3 21 2M924 2361l37-3M1224 2187l48-57 116-150 37-44 31-36 11-11 90-70 26-22M1952 1625l90 4 26-1 10-2 11-2 21-7 16-7 26-17 21-16 27-26 16-18 26-35 42-63 58-97 32-50 37-52 21-26 16-17M3597 2259l21 1"/>
<path d="M1028 2314l5 0M3474 2392l28 16 23 10 11 5 34 10 23 5 17 3 23 2 23 0 34-2 40-5 57-11M1139 2227l38 0M3198 1888l29-2 34-7 12 0M1066 2422l33 3 33-2 33-5 33-9M1599 2183l28-29 33-41 27-41 28-46M3591 2252l44 2 66 1M1040 2306l15-1"/>
<path d="M1074 2203l33-1 38-3 38-6 48-11M3813 2380l32 1M2431 779l9 2 18 6 19 9M1104 2277l5 0M1518 1895l92-176 72-133 92-185 61-117 36-64 36-59 21-29 25-31M2260 1204l10 11 26 23 26 20 20 15 10 5 16 8 15 6 15 5 21 4 20 3 16 2 36 0 40 2 11 2 30 6M2009 1022l18-32 21-37 22-33 21-29 22-24 21-20 13-9 17-9"/>
<path d="M1275 2102l27-3 22-7 27-12 32-19M1747 1979l28-31 41-52 29-39 53-80 233-373 25-41 69-123M2495 805l33-42 20-22 13-11 8-5 8-5 12-5 13-2 8 0 12 3 12 5 9 5 12 10 20 23 21 30 20 37 21 44 20 49 25 66 32 96 78 239M3232 1929l16 1 16-1 29 2 66 0 28 1M2180 1289l34 10 24 6 20 2 14 1 15 0 14-2 20-5 24-9 34-19 29-19 58-43M3216 1910l25 23 67 61 24 19 30 20 29 16 29 12 29 8 14 3 15 1M3368 2075l14-1 28 1"/>
<path d="M965 2321l46-5 26-5 10-3M1241 2175l46-53 102-124 51-55 26-24 71-51M2263 783l9-11 16-18 24-23 12-9 12-7 13-5 16-3 16 0 16 4 8 4 29 17 12 9 12 12 16 17 33 41M1122 2419l15 3 43 4 21 0 32-4 31-9 21-9 27-15 16-12M3183 2212l16 21 31 37 43 45 21 19 21 18 21 15 27 17 21 11 16 6 21 7 26 5 42 3 37-3 32-3M1155 2183l46-2 41-5M3462 2161l23-1 14 0"/>
<path d="M1291 2387l33 1 21-2 22-2 22-3 17-4 22-7 38-17 33-20 33-24 39-34 27-29 28-31 38-52 39-58 38-65 44-79 33-62 99-207M2746 1062l22 20 22 25 22 33 22 37 33 65 22 47 33 76 27 69M3652 2294l39 6 71 3M974 2247l52 1 110 8M2000 1549l17-16 17-18 12-13 23-31 18-26 17-28 29-54M2434 784l12-7 11-4 18-3 6 0 11 3 12 5 11 6 18 13 17 18 18 23 23 35M3808 2378l69-5 58-1M1366 2056l26 0M3299 2305l51 49 35 28 26 17 30 18 26 11 30 11 30 8 36 7 25 2 36 1 40-1 41-6 46-8 71-18M3923 2403l36-2M3478 2172l61 4"/>
<path d="M3574 2239l24-1 70-7 30 0M3614 2268l24-4 24-2M2010 1035l28-107 34-114 23-70 28-75 17-38 11-23 17-27 12-15 11-11 11-9 12-6 11-3 11 0 17 3 17 7 23 13 28 19 17 13 34 29 34 37 34 46 11 17 17 30 28 57M2864 1789l34 93 22 55 23 48 23 40 11 17 23 28 22 21 45 34 80 55M3378 2350l51 36 17 11 34 19 34 16 28 11 17 6 23 6 34 5 34 4 79 0 40-4 39-6 28-7 29-9 90-34 28-10 29-6 28-3M1927 1143l37-125 22-73 19-55 27-77 27-66 18-38 18-32 9-13 14-17 14-12 9-6 9-4 9-2 9 1 9 2 9 5 9 7 9 8 9 11 9 12 9 14 23 42 27 58M3038 2047l23 35 41 56 23 27 31 34 32 30 41 33 27 19 27 18 37 20"/>
<path d="M1919 1688l30-43 27-48 17-37M2314 762l8-5 14-6 13-3 13 0 9 1 13 5 17 9 14 10M1250 2126l29 2 24 5M1565 2219l14-4 14-6 10-5 19-13 24-21 19-23 14-18 24-36 24-40 43-87 38-86M3652 2294l33-1M1104 2265l20 0M1098 2180l49-3 49-7 20-4 25-7 49-18M2163 1314l113-94 54-42"/>
<path d="M825 2381l42 1 42 3M3439 2142l15 4 21 5 27 3 10 0M2231 807l21-68 22-61 21-51 21-44 16-26 11-14 10-10 11-7 5-2 11-2 5 0 11 3 11 7 16 16 10 14 11 17 16 30 21 50 16 45 22 66 21 73M3839 2388l37-2M3305 2023l13 3 27 6 22 2M2074 1445l39-26 22-18 21-20 30-34 26-33 21-31 35-53 26-43M3496 2187l22 1 90-2 26 0"/>
<path d="M1148 2117l122 5 42 0M3785 2368l63-2M779 2367l52-1 58-1 26-2 45-5M3741 2426l45 1 58-1 52-4 123-11 64-2M1402 1928l58-1 19 2 13 1M3228 2249l18 18 23 19 18 13 23 13M3658 2300l27-3 27-2M3733 2340l49 4 43 2"/>
<path d="M1255 2156l15-1M2608 1369l24 53 40 80 19 36 25 42 25 39 19 28 35 44 24 27M3289 1999l13 1M2435 780l15-6 10-1 9-1 10 2 20 8 14 10 15 15 20 24 14 22M3497 2189l78 1M1260 2394l47 4 28 0 19-1 32-5 28-8 24-10 42-26 28-24 18-18 24-26 28-36 18-27 24-39 23-43 14-29M2371 764l24-24 14-12 32-25 19-10 14-5 14-1 9 0 14 4 10 4 9 6 14 10 19 19 18 25 19 30 14 25 23 48 24 54 18 47"/>
<path d="M1316 2382l39 6 40 2 31-1 31-6 31-9 31-14 26-17 23-19 30-32 23-27 17-27 27-46 26-57 22-54 9-23 31-91M3181 1861l17 14 18 12 14 8 17 8 14 5 22 10 27 10 17 3 23 3M3493 2186l37-7 48-5 42-3 33-1M2517 817l8 2 17 5 8 4 17 10 26 20 8 8 17 20"/>
<path d="M1035 2425l47-1 35-4M3692 2322l58-3M726 2321l32 1 44 5 32 6 92 19 37 6M1608 2166l27-3 22-7 22-12 22-17 17-14 22-25 22-29 28-41 27-49 22-42 50-104 39-87 33-79 27-69 22-59M2435 781l28 3 22 5 16 5 28 9 22 11 16 10 22 17 11 9 17 17 17 20 16 21 22 33 33 60M2198 810l33-73 19-35 23-39 26-35 16-18 18-17 8-5 7-4 16-4 11-1 7 1 8 2 11 5 12 7 19 15 18 19 23 29 19 27 15 25 26 46 38 74 23 49"/>
<path d="M3583 2246l18 7 14 3 23 4 14 1M1622 1727l4-3M3600 2260l74 10 46 4 21 1M1028 2426l24 3 35 3 23 0 30-3 24-4 17-5 24-8 17-8M1158 2179l30-2 61-6"/>
<path d="M946 2338l42 0M1192 2130l30-2 14-2 25-6 25-9 30-14 24-14 25-16 40-28M3585 2249l94-20 20-3 24-1M1130 2191l30-2 24-3 35-8 34-11M869 2367l49-1 38-2"/>
<path d="M3676 2312l26 0M1917 1687l42-22 26-18 12-10 11-13 8-10 11-17 19-35 12-24 11-28 19-51 19-60M2300 769l23-43 11-19 15-23 16-19 11-13 23-22 34-25 11-6 12-4 11-3 11 0 16 3 11 5 11 7 8 6 7 7 16 18 15 23 19 35 23 51 18 49 23 68 27 89M3153 1822l15 8 16 6 11 3 15 3 15 1 12 0 26-3 53 4M1427 2326l24-4 33-11 21-10 12-8 17-12 12-10 25-25 12-15 21-28 29-50 20-41M2168 830l29-47 16-24 17-22 24-30 13-13 53-50 29-22 29-18 16-7 13-3 20-3 13 0 12 2 17 6 20 14 12 12 13 15 20 32 21 39 21 48 24 68 21 65M1145 2114l15 0 15 2 24 6 34 13 44 20M2297 772l20-24 10-9 9-8 10-6 10-4 15-2 9 1 10 2 10 5 14 10 15 13 15 16 24 33M3108 2139l24 37 19 26 25 30 15 15 24 23 29 23 15 11 29 18 15 8 29 14 49 19 44 12"/>
<path d="M1283 1973l49-2 68-4 41-7 31-7M3533 2210l54 2M1310 2120l9-1M1248 2399l43-1 39-5 30-8 39-16 38-24 26-21 26-23 22-23 13-15M3023 1579l17 25 13 17 26 30 30 34 35 31 21 17 30 17 22 8 9 2 17 1 17-3 22 2M858 2335l137 0M2694 1511l39 77 33 58 16 25 17 22 22 27M3657 2298l11 0"/>
<path d="M2235 795l20-19 20-15 16-8 24-7 20-2 16 3 12 4 16 7 11 8M619 2403l127 1M1270 2156l42-54 152-200 67-70 43-47 30-36 25-30M2262 1206l48-9 85-20M1197 2127l19 1 19 1 38 6 19 4M3535 2211l57-9 43-2M2172 1299l89-33 28-12 23-13 19-12 23-18 19-17 18-19M2657 929l14 3 10 3 9 5 14 10 14 13 14 17 14 19 14 22 23 42 33 68 37 87 42 105M3636 2282l14 1"/>
<path d="M921 2364l35 0M3812 2380l52-1M904 2308l67-1 44-3 44-8 33-8M1323 2112l88-101 44-45 17-13M1347 2372l36-6 41-9 36-13 28-11 32-17 22-15 19-14 18-17 18-19 23-29 18-27 23-36 27-53 50-113M2403 773l36-35 23-18 22-13 19-5 18-2 13 2 10 3 18 9 18 14 14 13 22 29 28 42 22 42 23 47 28 62 27 69 23 61M1243 2146l31-4 23-4"/>
<path d="M2474 795l18-9 14-3 14-1 18 3 14 5 14 7 14 11 14 12 13 15 14 17 18 25 14 22 32 55 37 73M957 2345l23 1M1181 2208l19 0M2789 1664l23 62 24 54 19 38 19 33 19 27 19 23 19 17 24 16M1049 2273l70-3M3731 2341l59 1"/>
<path d="M1124 2230l42 2M2313 762l23-30 19-22 19-16 9-6 9-6 10-3 14-4 18-2 10 2 14 4 18 10 15 11 14 15 18 24 19 30 19 35 14 31 18 44M1101 2244l50-1M3655 2296l25-1M1539 2248l28-25 20-25 12-16M2594 871l16 7 12 6 12 7 21 15 12 10 20 21 24 31 33 50 24 45 24 51 28 67M3269 1974l20 2M975 2304l60-1 29-2M3484 2178l25-1"/>
<path d="M1006 2144l26 0 36 3 51 8 77 15 46 5M2362 1173l31 33 82 93 35 39 36 36 26 25 87 81 41 40M2559 1297l51 149 30 80 16 40 17 37 9 17 21 38 21 30 13 15 13 12 21 16 17 10 12 4 17 4 26 3M3287 1997l13 5 17 5 21 5 8 1M3445 2145l33 21 29 16 19 10 24 10 19 7 29 9 34 8 14 2 29 2M3644 2290l32-4 44-3"/>
<path d="M3576 2242l44 1M1299 2115l25-2M1888 1207l18-32 17-30 17-25 11-14M3979 2410l68-3M578 2406l40 1 41 5 41 8 74 16 61 12 54 6 41 2 54-2 27-2 27-5 34-7 33-10 34-13M3317 2317l34 33 41 32 27 17 34 18 13 7 27 10 27 8 34 8 41 6 33 3 48 0 61-4 33-5 48-8 101-22 41-8 40-5 34-1"/>
<path d="M654 2369l47 3 29 3 53 10 41 9M2908 1856l23 56 29 64 18 35 29 50 47 69 53 69 35 43 29 30 23 22 30 25 11 8 35 22 24 11 35 13 17 4 24 4 41 3 35-1M1410 1928l17-1 30 2 33 8M3310 2027l12-2 93-18 37-5 34-4 46-3 26 0M1809 1375l23-55 33-73 28-58 28-52 18-31 19-26 23-27 14-12M2321 1180l24 22 37 30 33 22 23 11 14 5 14 4 19 2 32-1 19-4M3607 2265l41 2"/>
<path d="M1152 2083l39-3 24-5 30-7 24-8 20-9 15-7 14-8 35-22 34-26 44-40 30-29 49-41 49-43M3639 2284l20 1M1970 1596l89-88 71-72 57-55 42-43 33-36 19-22 42-52 43-57M2682 962l23 20 24 25 28 39 28 46 19 35 38 75 75 166M1942 1120l14-29 13-26 28-46 14-20 18-22 28-26M3538 2215l60-6 41 0M2146 853l19-55 32-87 23-55 18-38 18-31 14-19 9-10 14-11 14-7 9-2 9 0 9 3 14 8 9 8 9 11 14 20 23 42 27 61 41 110M3236 2254l14 22 27 37 32 36 14 13 23 19 23 14 18 8 18 6 19 3 14 2 36-2 51-9"/>
<path d="M831 2343l54-2 38-2 33-3 49-6M2223 1242l55-34 38-27M2320 763l8-6 16-9 8-3 16-3 20 1 16 5 32 17 20 15 16 15M3400 2105l28 3M492 2407l41 2 40 5 40 7 121 25 47 7 41 5 53 4 47 2 34 0 74-2 54-4 40-5 47-9 20-5 47-15 40-16 34-16 34-21M3899 2400l27-1M1330 2378l26-2 22-3 40-9 45-14 44-19 22-10 36-20 17-13 23-17 26-26 27-31 18-24 26-45 27-52 18-41 22-55 27-73 17-55M2049 965l22-74 26-79 27-69 27-58 22-40 13-21 13-17 14-15 13-12 18-12 9-4 9-2 13-1 13 1 14 4 8 3 18 10 9 6 13 12 27 31 18 24 13 21 36 62 31 63"/>
<path d="M672 2390l18 0 25 2 24 4 30 6M1623 2151l18-19 19-23 24-37 6-11M1973 1594l24-23 18-22 18-24 12-19 18-33 18-36M2316 764l24-59 24-51 18-33 18-27 18-21 12-10 6-4 6-3 12-3 12 1 6 2 6 3 12 9 12 12 6 8 18 27 18 35 24 56 18 47 25 70 24 75M3369 2345l18 17 18 14 18 12 18 8 12 4 30 5 18 1 24-3M852 2353l61-2 66-6M1268 2100l20 0 20-2 40-7M3638 2283l109 9 55 2M3030 1593l14 19 90 121 72 94 32 37 22 24 27 34 23 25 14 14 22 19 18 14 18 11 27 13 14 5 22 5"/>
<path d="M3706 2328l19 1M1128 2234l43-3M2225 1240l43-21 70-42M3739 2345l58 7 27 2 38 1M2546 837l31 4 24 5 25 8 17 9 17 11 21 18 18 19 17 22 17 26 18 29 20 40 21 44 21 49 31 76 45 116M3077 1685l10 9 14 9"/>
<path d="M2017 1522l66-64 40-41 131-141 30-30 20-19 26-22 25-19 20-13M3599 2260l91-2 50 1M961 2304l33-1 38-4 22-3 44-11M2183 1283l19 1 27-4 19-6 24-11 15-10 27-21 27-25 35-34M3244 1944l34 24 16 9 23 11 35 13 34 7 12 2M753 2394l52 3M1139 2418l52-4 47-8 15-4 16-5 31-12"/>
<path d="M921 2263l63-1 28-2 35-4 23-4 39-10 29-11 34-16 29-16 23-15 28-22 23-19 34-31 51-52 69-72 28-32 52-47M2085 1433l23-23 119-128 40-40 40-37 40-31M1413 1764l21-4 29-9 21 1 16-3 13-3 21-8 20-11 21-15 34-30 20-21 21-24 21-26 12-17 67-105M2295 1189l21 4 25 8 37 13 46 18 91 40 34 14M1093 2229l27-2 30-4 18-3 22-6M1675 2083l17-10 18-13 13-11 17-17 18-19 9-11 17-25 22-34 13-22 26-49 40-82 39-92 31-76M3301 2016l13 4 14 1M1313 2118l8-1"/>
<path d="M589 2396l31 2 30 3 98 17 36 5 37 3 36 2 152 2 61-1 31-2 18-3 12-2 24-7M1959 1092l36-87 25-52 12-23 30-52 19-26 12-15 12-13 18-14 12-8 19-6 12-2 12 0 12 2 25 9M2756 1609l61 121 18 34 25 44 30 51 25 37 18 25 30 38 19 20M933 2356l13 0 22-2M1977 1066l26-62 27-56 22-43 18-32 26-42 22-30 18-20 18-17 17-14 14-7 17-8 9-2 14-2 17 1 13 4 9 4 18 11 9 7 9 9M2517 1247l35 77 22 39 13 21 14 18 17 22 36 38 31 30M1029 2261l40-3 31-5 35-8 25-8M3448 2150l23 6 18 4 32 4"/>
<path d="M1539 2246l21-8 26-14 20-15 21-17 15-16 26-30 15-20 26-38 26-39 26-41 41-72 26-47 46-95 20-47 26-64M2136 864l16-58 20-69 16-45 20-51 16-31 10-18 10-14 11-12 10-9 10-5 5-1 11-1 5 1 15 6 11 7 10 10 15 20 21 34 20 42 16 36 31 77M966 2310l31 0 41 4M2333 1175l51 49 26 22 35 27 21 14 25 14 26 10 30 8 31 3M923 2335l74-1M1468 1823l67 21 16 2M1961 1613l24-29 12-16 32-49 27-47M2404 770l39-28 20-11 8-3 23-7 20-4 28 0 23 6 12 5 12 6 12 9 12 10 24 26 19 28 20 34 20 40 20 45 19 49 24 67 24 74"/>
<path d="M3158 1828l104 115 45 55 49 56 40 36 15 12 24 16 20 11 20 9 30 9 34 6 35 2 84-4 45 0M2417 777l29-32 24-23 14-11 24-13 9-2 10-2 14 2 9 3 10 4 14 11 19 20 15 19 23 39 19 38 19 43 19 47 19 52 24 69M3473 2169l19-2 19-1M1132 2209l29 1 33 4M1383 2353l20-2 35-7 36-15 12-7 19-14 24-22 23-27 24-33 12-18 23-41M2162 834l28-75 20-45 19-40 16-25 8-10 8-9 15-14 8-4 8-3 12-2 12 0 8 2 11 6 12 8 20 20 16 19 43 63 28 36 23 27 20 17 12 7 15 7 12 3 12 2 20-1 31-6 16-2 12 0 11 1 16 5 12 7 8 5 20 19 19 26 20 33 16 31 19 46 20 52 16 46 23 75 20 69M3040 2049l8 24 19 53 20 46 20 41 15 28 16 23 20 24 16 15 15 11 24 13 20 8 19 5 16 2 39 3 56 2"/>
<path d="M1357 1882l53-3 49 0 24 3 17 1 16-2 16-5M874 2338l40 1 65 5M2734 1576l30 62 30 53 25 39 20 27 15 19M3309 2025l50 19 35 8 35 3M3757 2354l39-4 38-2M1109 2247l39 2M3581 2247l15 0"/>
<path d="M1541 2246l22-18 18-18 23-28 23-36M3165 2196l18 26 18 24 27 31 41 40 23 18 18 12 32 18 22 10 19 7 40 8 23 2 27 0M1033 2229l25 0 121-4M2056 953l36-97 20-47 17-34 16-29 16-25 16-18 12-10 12-7 12-4 13 0 16 5 16 10 20 18 41 47M3435 2137l37-1 32 0M1079 2421l18 1 30-1 29-4 18-4M3447 2384l42 24 29 13 42 14 29 5 36 3 41-1 42-6 53-10"/>
<path d="M1010 2214l26-1 53 2 48 4 43 4M1007 2237l92-3 48-3 24-2M2152 1329l91-60 92-61 29-19 24-14M976 2297l35 2 40 7M2477 1218l66 103 25 36 26 34 15 19 25 28 20 21 26 24M1177 2207l26-2M3813 2379l26 1"/>
<path d="M1152 2150l132-5M2317 1179l71 64 19 16 28 22 24 14 14 7 9 3 14 3 14 2 33-1 19-4M947 2360l11 0M1035 2254l23 1 17 2 12 2 35 8M3912 2401l105-5M1748 1493l57-121 21-40 21-38M2687 1496l41 84 21 40 20 36 42 65 31 43 21 26"/>
<path d="M2080 920l28-47 32-46 28-36 25-27 35-32 25-17 17-10 25-9 32-7 14-1 10 1 11 3 17 7 18 12 14 12 25 25 14 18 21 32M961 2351l13 0M3981 2408l64 1 185-4M775 2391l67 0M3751 2351l37 7 30 4 37 3 30 1M595 2400l29 1 34 5 41 9 116 29 52 9 17 2 23 1 29 0 23-1 23-2 24-3 23-5 23-7 23-8 23-10M2012 1021l23-55 29-59 23-39 12-16 12-14 11-12 12-10 11-6 12-5 11-2 12-1 12 2 11 4"/>
<path d="M3243 1947l18-6 23-5 50-14 42-8 36-2M1985 1573l45-69M3528 2207l5 0M893 2363l32-1 32-2M2793 1131l19 30 31 61M3724 2425l25 8 25 7 25 5 25 4 25 3 26 2 56-1 44-4 57-8 100-20 44-7 38-4 38-2"/>
<path d="M1450 2310l18-4 13-6 18-10 9-6 28-25 22-26 18-23M2123 871l22-36 27-37 18-20 9-9 18-15 14-8 13-5 14-4 9-2 14 1 18 5 13 4 18 9 14 8M3261 2274l18 19 18 17 18 14 22 16 18 10 27 12 14 4 23 5M3443 2144l29 5 23 3 19 1M2322 765l12-10 12-9 12-7 18-8 13-1 12-1 12 1 12 4 12 4 12 5 19 13 12 12 18 21 12 16 12 19M2869 1797l24 64 31 70 30 58 25 39 24 30 12 13 12 11 18 15 67 47M3380 2352l43 24 18 8 36 14 31 10 42 12 73 16 61 8 49 1 30-2 24-3 49-9 79-20 31-7 36-5 31-2M2154 847l16-56 17-51 17-46 16-38 17-31 16-24 17-16 8-5 8-2 5-1 12 2 8 2 9 5 8 6 8 9 17 22 16 27 17 32 45 103"/>
<path d="M1179 2207l23-2M3415 2117l19 12 23 13 33 15 37 11 23 4 14 1M1098 2250l49-1M1371 2360l25-8 20-8 21-9 20-12 15-11 21-17 20-20 15-17M2241 791l21-36 15-23 10-14 31-33 20-15 10-6 16-4 20-1 15 4 15 8 26 18 20 20 21 25 15 22 25 41 21 38M3545 2408l15 7 21 8 15 4 25 5 21 2 25-1 26-2 25-4M1169 2215l23-2M2566 856l13 0 9 2 9 4 14 8 9 7 13 13 9 11 9 13M3013 2015l18 33 14 21 18 26 9 11 22 24 22 20M3452 2151l5 0"/>
<path d="M2447 1197l66 126 50 88 27 46 39 56 22 29 11 13 17 18 33 33 16 14 28 19 28 15M3126 1776l49 54 39 47 22 29 28 37 66 103M2053 956l25-39 24-33 10-11 14-13 10-9 10-6M3479 2175l15-1 19 0M1004 2285l31-2 21-3 36-10 16-6 36-17 21-12 25-19 21-18 42-40 41-48 41-52 104-140 26-34 109-107 36-37 21-24M2262 1203l31 4 16 3 36 11 31 12 26 12 31 17 37 22 36 25 72 57 62 51M1556 2229l10-3 16-8 16-9 16-12 26-26 22-27 26-39 26-47 32-62 26-58M3605 2265l16 1"/>
<path d="M673 2404l33 2 34 3 33 5 66 11 56 7 33 1 28 0 27-2 28-4M3319 2036l45 18 38 12 23 6 27 5 22 3 28 1M1100 2158l48-1 63-4 54-10 37-11M1840 1309l42-95 27-56 21-41 22-37 15-24 22-28 10-11 16-16 22-15M3000 2004l38 58 58 83 43 56 37 44 43 46 37 35 37 31 37 26 22 13 21 11 37 16 38 11 26 5 21 3 16 1 48-1 48-5 54-9M3246 1948l18-5 40-5 39-3 27 1M1316 2104l17 0"/>
<path d="M1100 2271l19-1M1488 2287l19-2 9-2 28-11 19-12 14-10 19-19 14-17 14-20 23-40 19-35 28-62M2568 854l14 8 18 14M3428 2133l28-6 32-2M1047 2423l28 2 27 1 39-3 17-2 22-5 33-10M2270 1200l22 7 22 8 39 17 55 27 50 19 27 8 39 9 11 1 22 1M576 2400l32 2 39 5 33 7 71 17 39 8 46 6 38 3 33 0 19-1 52-5 85-12 45-10M2537 840l20-15 13-7 19-6 13-1 13 2 7 2 13 8 13 10 13 13 13 17 19 30 20 35 13 27 19 46 20 49 32 95M3083 2109l20 42 26 48 25 41 20 26 13 16 19 20 20 16 26 18 26 14 19 8 13 4 20 5 19 3 33 3 45 3M3869 2395l26-1M2493 1231l21 32 32 43 12 13 17 15 20 15M3189 1875l13 6 20 6 24 3 17 0 36 5"/>
<path d="M1093 2278l18 0M957 2350l15 0M2358 1174l32 8 31 10 37 14M3519 2203l26 5 27 4 26 2 31 2M3665 2304l32 8 32 5 43 5 22 1M3688 2320l33-1"/>
<path d="M1988 1051l45-68 64-86 40-50 19-19 18-18 18-15 13-9 14-8 22-8 14-2 14 0 13 2 9 3M1585 1756l16-4 12-5M2304 766l19-23 12-10 12-8 11-5 8-2 12-1 7 1 12 4 8 3 27 20 19 20 24 31M1762 1468l33-71 27-55 22-41M3060 2076l49 89 22 36 22 34 22 31 27 33 17 17 16 15 33 27 16 10 22 12 49 21 44 12 66 14 66 11 38 5 38 4 39 2 44-2 43-4 44-8 88-18 33-6 43-6 33-1M3625 2422l31 13 24 7 31 7 24 4 43 5 49 1 55-3 37-4 55-8 104-20 43-8 43-5 43-2"/>
<path d="M910 2324l45-2 46-7 35-9 51-16M978 2302l84-1M2139 853l31-41 26-28 27-22 18-10 9-4 8-2 18-1 14 2 8 3 14 5 13 9M2595 1350l27 55 22 40 13 22 27 40 35 47M1239 2158l30 0M2154 1321l27 7 17 2 38 1 16-1 17-2 11-3 16-6 11-5 22-13 33-23 38-33 49-45"/>
<path d="M2399 771l18-13 23-12 9-4 19-5 13-1 14 1 14 4 13 6 14 8 18 15 14 14 13 16 14 19 18 30 28 53M3647 2289l20 0M1301 2386l19 0 37-5 28-9 23-11 23-14 33-26 18-18 23-27M1072 2287l27-2"/>
<path d="M528 2410l38 1 44 5 38 6 95 16 51 7 38 4 38 1 57-1 64-7 57-11 44-10M613 2371l36 1 48 4 125 19M2471 1212l54 73 83 101 36 46 30 41M3673 2310l28 4 38 2M644 2405l49 3 133 13 33 2 28-1"/>
<path d="M1204 2155l32 0 31 3M3356 2065l23 9 40 11 31 6 32 4 18 2M827 2388l28-1 39-3 34-6M1287 2144l168-170M2336 1175l28 14 22 13 22 15 40 29 45 39 50 49 51 54 44 51 51 60M3614 2269l39 8 23 3 17 1M1163 2221l23-3M2503 1239l101 144 42 55 28 34M3268 1973l55 21 23 7 46 12 55 11 28 3 41 3M1480 2293l29-9 14-7 24-13 14-9 19-15 14-13 15-15 14-17 14-18 19-27 29-47 33-62 34-69M3206 1895l57 46 33 34 81 89 34 35 28 28 34 29 33 23 14 9 19 9 19 7 24 7 29 3"/>
<path d="M712 2409l29 1 30 1 87 11 47 3 35 2 29-1M1249 2159l19-1M2055 955l18-38 23-39 22-34 19-22 15-13 15-8 11-4 19-2 15 2 7 3M938 2317l91 2M1650 2116l49-41 32-30 37-39 27-31 21-28 38-54 37-62 43-78 38-75 96-200 38-73M2561 850l16-2 22 2 16 4 16 7 16 11 16 14 11 10 16 20 16 22 16 26 16 28 16 30 21 45 16 37 38 93M3665 2306l10 0M870 2236l30 2 30 5 30 7 85 24 25 7 30 5M3279 1988l60 29 30 11 20 7 15 2 15 2 10 0"/>
<path d="M1236 2147l57-7M1455 1760l8 0 13 4 24 3 24-3 16-4 12-5 16-8 28-18 28-23 28-27M3277 1986l33 10 44 9 20 3 76 7 56 5M1375 2358l32-11 16-7 32-18 21-14 32-26 22-21 26-29 11-13M3556 2410l27 10 32 8 32 7 32 2 26 0 27-2 59-10M3919 2402l26-1M1099 2214l35-3 35-7 42-15 41-21M3741 2425l29 6 24 4 29 1 30 0 23-1 48-4 82-9 47-5 59-2"/>
<path d="M1192 1974l18 1 19 3 18 5 18 7 19 9 27 16 69 40 10 5M1266 2100l70 0M1042 2148l23 0 41-3 40-6 41-11 41-15 57-27 47-26 64-40 28-20 24-17M3208 2234l35 40 35 34 40 34 35 25 46 27 29 15 29 11 24 8 46 12 46 9 29 3 41 2 46-1 35-4 40-5 128-24 35-6 40-4 35-2M1754 1481l60-126 56-111M2324 1176l25 24 39 31 25 17 22 12 21 9 22 7 30 7 42 6"/>
<path d="M1596 2187l17-18 18-20 26-33 22-30 22-34 31-51M3083 1698l35 40 36 33 30 26 80 62 26 29 48 56 53 64 44 51 40 42 35 33 35 28 18 11 22 12 22 9 17 6 18 4 22 3M2048 1477l32-3 17-4 16-6 16-8 16-12 11-9 16-17 28-35 10-17 22-38 27-51 44-91M2682 965l22 26 27 38 22 35 16 28M1041 2287l31 0 25-1M3698 2325l55 15 117 38 56 14 24 5 43 6 49 4 142 0M3525 2207l37-5 38-1"/>
<path d="M1440 1977l13-1M2470 796l69-33 16-7 20-4 20 2 12 5 12 7 13 10 16 19 16 24 20 39 16 37 16 43 17 48 16 54 12 46M2959 1939l16 45 16 39 16 34 20 36 20 30 25 32 40 46 24 24 53 45 36 25 32 18 33 16 28 10 32 9 37 6M2104 895l23-67 18-48 18-43 23-45 18-30 19-23 13-13 9-6 9-5 9-3 9-1 10 0 9 3 22 11 9 6 9 8 23 27 23 34 18 31 23 44M960 2337l37-2M3583 2415l25 12 12 5 18 6 25 7 24 5 12 1 31 2 18 1 30-2 49-5 55-10 73-16 43-8 43-6 36-2M2316 763l26-20 10-6 15-6 15-3 16-1 15 2 20 5 16 7 15 8 20 15 16 13 10 10 20 22 21 25 15 20M3004 2008l21 43 15 28 15 26 26 40 20 29 21 26 35 39 21 17 20 16 26 15 20 11 51 21 15 5 31 7"/>
<path d="M543 2409l39 2 26 2 33 4 97 14 33 3 26 2 39 0 26-3 33-4 26-5M450 2381l49 2 62 8 75 12 149 29 75 12 37 3 31 0 25-2 25-4 19-4 18-5 19-6M996 2290l40-2 35-6 29-8 23-8M1562 1829l35-56M3904 2400l47-1M2175 1295l73-23 40-13 40-17 56-27 28-15 23-10M3740 2346l56-1"/>
<path d="M1183 2412l45 8 36 4 18 1 18-1 19-2 18-3 18-6 18-7 18-11 18-13 14-12 13-14 14-16 23-30 13-22M2940 1414l23 36 31 59 19 38 49 109M720 2397l78 1M2180 1290l73-30 17-8 22-12 23-14 17-12 28-22 22-19M3472 2173l62-8 56-2M1319 2019l19 2 18 6 19 9 23 16M1592 2186l18-2 14-4 14-5 14-9 23-18 9-9 19-22 14-19 18-27 14-22 19-34 23-48 18-41 14-34 32-88M2086 919l19-61 18-53 19-44 23-46 18-27 10-11 9-10 14-11 14-7 13-6 10-1 9 0 14 1 69 17 60 19 14 5 32 11 14 6 14 9 18 14 10 9 9 10 18 23 14 22 19 32 23 50M2890 1833l14 28 23 41 19 27 18 22M1185 2205l19-2M3596 2258l10 1"/>
<path d="M3524 2402l33 15 22 8 33 8 28 3 27 2 44-2 39-5 33-6M874 2343l46 3 52 7M3675 2313l150 0M1398 2039l8-1M2543 1280l28 49 32 49 33 42 24 28M3089 1709l36 34 77 69 57 56 64 80 37 40 12 12 28 23 20 13 21 9 24 6M815 2344l69 2 43 0 27-1 26-2M2087 914l21-42 22-36 21-29 21-25 27-25 21-16 27-17 26-13 43-13 11-2 16 0 16 4 10 6 11 7 16 15 16 20 21 35M2598 1345l37 143 16 55 16 51 16 46 21 53 16 33 16 29 16 23 16 21 22 22 26 19 69 38 11 7 32 25 32 31"/>
<path d="M1228 2139l37-1 32-3M2041 976l14-37 18-45 14-30 14-26 14-24 14-20 14-17 14-14 18-12 19-8 14-2 14 1 19 4 13 5 19 12 14 10M1498 1924l120-213 65-107 37-64 23-37M1662 1661l18-38 49-111 45-99 41-85 36-70 32-57 36-60 31-44 27-31M2465 1209l31 41 23 26 27 27 40 37M3484 2179l23 0M1005 2211l38 0 94 4 33-1 23-2"/>
<path d="M2358 762l9-1 13 1 9 1 14 5M1165 2143l20 1 29 3 24 4 29 8M2417 772l19 1 15 5 19 10 15 12M2141 852l21-32 16-19 10-11 10-8 16-11 21-7 15-2 21 2 20 7M3109 2141l21 43 20 40 26 44 16 23 26 34 15 17 16 15 15 12 21 13 16 7 20 7 26 4 21 0 26-2 31-7 26-7M1771 1940l59-51 41-41 28-32 18-25 18-29 19-33 9-19 14-30 13-33 28-77 27-88M2255 787l10-19 18-33 32-50 23-28 18-17 27-18 19-6 9-1 23 0 9 1 14 5 13 7 14 9 23 20 27 33 23 33 28 45 27 50 32 66 32 71M3782 2367l32 0"/>
<path d="M2812 1166l16 26 16 30M1646 2122l13-11 19-19 27-36 14-22 14-24 22-46M2273 779l22-23 14-12 18-13 14-7 9-4 14-3 14 0 14 3 9 3 18 9 18 12 28 24 18 20 14 18M1042 2299l30-1M3182 2213l25 25 30 26 26 18 30 18M1135 2239l25-1M3683 2318l31 1"/>
<path d="M836 2367l71-3 52-6M1997 1038l15-21 14-18M3795 2374l38 0M549 2371l40 1 40 4 40 6 63 10 58 7M2042 1488l57-3 23-3 35-7 34-12 11-5 29-15 40-28 34-28 40-37 69-66 34-32 40-32M767 2398l24 0M3065 1661l121 193 61 93M3756 2355l49 2 60 1"/>
<path d="M1074 2277l36 0M1659 2103l16-12 31-28 36-40 20-26 21-27 31-48 41-72 36-70 46-98 51-114M2795 1134l10 16 21 35 30 60M3668 2306l16 2 15 1M550 2403l31 1 37 2 161 16 50 4 43 2 93 2 44-1 43-3 37-5M1163 2414l33 1 39-1 27-4 27-6 28-10 32-16 28-17 27-20M3399 2362l22 17 27 18 28 14 27 9 22 5 33 4 43-1 33-4M920 2317l32 1 69 5"/>
<path d="M526 2406l42 2 41 6 41 7 100 21 35 7 59 7 53 2 24 1 41-2 53-6 53-11 41-13 24-8M1786 1422l53-138 29-71 30-64 29-56 24-37 12-16 11-13 12-10 12-9 18-7 11-2M1055 2296l20 0M3505 2194l20 0M1310 2074l32-2 37-5M3983 2409l65-3M3240 1940l38 19 17 7 17 5 21 4"/>
<path d="M905 2384l11 0M3633 2280l63-13 34-6 45-5 35-2M1246 2168l6-1M3404 2109l31 14 30 16 24 14 25 16 48 35 103 82 37 28 24 17 31 20 30 18M3896 2416l43 11 49 8 36 3 49 0 61-4 97-11 48-5 37-2 36-1M1048 2295l30-1M1288 2087l15 0 20 2 25 4M3771 2362l49 0"/>
<path d="M886 2304l65-2 55-6 54-9 55-13M2155 1325l28-10 43-15 82-30 82-27 27-7 22-5 49-4M3610 2268l60 3M3622 2275l25-7 24-5 25-3 20-1M1142 2214l28-2 28-5M1245 2398l18 0 41-7 27-7 22-9 28-14 22-14 14-10 32-27"/>
<path d="M1214 2090l44-3 49-8 48-12 34-11M2378 1175l63 36 73 39M2329 760l18-14 17-10 6-2 11-3 12-1 17 2 23 9 18 11 17 15 12 13 23 31M2486 802l18-8 14-5 13-1 14 0 13 3 13 5 14 8 13 12 14 13 9 11 13 19 14 22 27 51 31 71M2256 1211l23-6 17-7 18-8 23-12M3305 2021l23 16 53 33 45 23 22 10 27 9 22 5 27 4"/>
<path d="M907 2313l21 1 26 1 68 9M844 2378l78 3M3308 2025l20 1 21-1 42-4 62-8 47-2M621 2409l38 1 31 2 37 4 87 12 49 5 38 1 31-1 37-3 31-3M2234 1229l13-4 37-14 44-21 31-18M2361 767l25-29 25-25 25-19 13-8 17-7 12-1 13 3 12 4 17 12 13 12 12 16 17 26 17 31 12 27 17 40 17 44"/>
<path d="M910 2333l47-2 58-6M3869 2394l12 0M1411 1703l13-1 13-3 26-8 22 2 13-1 13-2 21-6 17-8 13-7 22-15 22-18 21-20 18-19 25-29 13-16 87-137 34-53 35-49M2457 1205l69 110 30 45 30 41 26 33 22 24 43 47 35 35M3456 2388l29 11 20 6 29 4 25 2M2007 1026l17-40 22-48 16-32 22-40 17-25 16-23 17-19 22-22 16-12 22-13 17-5 16-3 22 1 17 4 16 8 22 14"/>
<path d="M3466 2165l29 10 23 5 14 3 29 3M3857 2391l10 0M1374 1965l44-2 45 1M1403 2342l36-16 18-10 32-20 36-28 32-30 27-30 32-42 18-27M3240 1938l22 10 14 9 41 28 54 41 32 19 13 7 18 6 18 4 14 2"/>
<path d="M2686 975l10 5 11 6 21 18 21 25 21 31 21 35 20 42 27 57 36 86M600 2398l138 2 27-1 33-3 44-6 34-6 77-19M1440 1852l20 0 27 6 27 2 19-2 12-2M2227 802l23-67 20-48 19-41 27-48 12-17 8-9 7-8 12-10 8-5 7-3 12-2 8 0 15 4 8 4 16 10 7 7 12 12 12 14 23 37 27 53 23 54 23 62 24 68M726 2370l29 0 41 2 117 12M3468 2165l35 17 41 15 23 6 30 6 35 5 40 3 35 1"/>
<path d="M1176 2119l27 0 23 2 76 11M2686 971l13 15 17 23 13 21 17 32M1554 1842l35-60 30-54 64-124 106-233 41-84 23-45 30-52 29-44 17-21 12-11 12-9M2258 1209l23 4 36 1 17 0 41-6 53-5 29 0M3983 2408l29 0M1417 2332l14-2 36-9 37-12 28-12 46-24 14-8 18-13 32-24 23-22 28-31 27-37 28-43 23-43 18-39 23-53 23-59 33-91 23-70M2263 787l14-24 18-28 19-25 18-20 14-12 14-8 14-4 13 0 14 5 14 8 14 11 18 19 14 19 14 22 14 25 18 37"/>
<path d="M470 2400l33 1 33 5 38 8 65 17 60 14 49 8 38 3 54-1 50-5 27-4 32-8 39-11M2086 917l16-39 21-48 11-21 21-37 11-16 16-20 11-11 16-12 10-5 16-4 16-1 16 5 17 7 26 19 11 8 27 23M3011 2014l11 17 16 22 27 33 10 12M3685 2427l38 10 37 6 27 2 32-2 27-2 32-7 96-25 32-7 32-4 27-2M2408 771l27-8 15-2 8 1 19 5 15 7 15 11 19 18 12 14 22 33M3092 1715l19 9 27 8 26 2 23-1M1211 2030l26-2 21-3 26-5 26-8 15-6 37-16 36-18 63-34 36-14M2138 1354l73-84 62-70M3779 2366l94 0"/>
<path d="M2787 1121l16 21 20 33 15 27 31 57 35 73 97 202 40 83 66 116 97 159M3308 2026l28 6 28 4 32 2M955 2217l20 1 20 2 20 4 20 5 25 8 35 13 35 15M899 2315l69 1 59 3M1667 2094l19-22 20-24 34-48 30-49 34-65M2801 1146l24 40 25 44 19 39 35 71"/>
<path d="M1826 1851l14 0 33-3 23-6 19-6 14-6 9-5 14-9 28-24 28-30 23-29 37-52 23-35 47-72 37-70 28-60 23-58 19-54 23-75 19-69M2380 781l27-123 33-135 19-66 18-54 9-21 10-18 9-14 9-10 10-6 9-2 9 2 10 6 9 10 9 12 9 17 10 20 18 50 24 77 23 91 23 99 51 229 28 134M3788 2372l56-9 42-2M2946 1426l58 107 39 66 19 26 19 24 27 28 16 13 19 14 20 9 23 7 19 3 16 0 19-4 19-7M580 2408l30 1 36 3 36 5 108 19 30 4 31 2 36 0 30-3 36-5 30-8M3651 2293l6 0M695 2405l31 1 36 3 130 17 47 4 47 1 42-2 47-4 31-5M1877 1232l47-118 20-48 21-45 21-41 16-28 15-25 16-23 21-26 15-16 16-13 16-10 15-7 16-3 21 1 10 3M2408 1172l47 97 31 59 31 52 31 43 26 30 21 19 26 18 26 17 68 39M3262 1965l62 5 32 0"/>
<path d="M1095 2225l46-2 47-6M737 2402l22 1M1185 2181l36-4 25-6M2313 1183l31 7 31 12 36 18 46 29 36 27 46 39 26 23 61 58M3196 1883l36 28 30 22 52 47 128 120 26 22 56 43 21 15 25 16 31 16 26 12 25 10 31 9 36 9 26 4 30 3 31 2M3625 2275l52 12 47 7 74 4 57 1"/>
<path d="M1385 2352l15-1 16-3 15-5 10-3 15-7 21-12 25-18 26-23 15-17 15-18 31-43 20-32M3599 2259l41 2 67 0M3589 2251l10 0M1092 2249l51 2M2514 1248l41 89 35 71 40 74 36 57 30 44 30 40 81 99 50 58M3664 2303l5 0M3412 2114l14 1"/>
<path d="M1169 2079l22 1 30 2 34 6 77 18M1103 2008l19 2 23 6 33 13 33 19 60 42 28 17 19 10M1126 2239l32 0M2156 1319l38 1 14-1 14-2 15-3 14-5 19-8 15-8 23-17 29-27 29-31 33-41"/>
<path d="M2290 775l21-24 10-10 16-12 16-8 10-3 11-1 10 1 16 5 10 6 21 17 21 23 21 29M1319 1959l14-2 27-5 37-12 28-12 37-19 27-11 23-12 23-15M2309 1183l14 3 14 4 18 7 23 12 28 17 87 58 28 16 18 9 42 19M3644 2288l28 3M3643 2287l5 0M1084 2421l38 3 28 0 33-3 33-5 38-9 28-8 22-8 33-15M3110 1751l66 67 50 56 33 41 66 96 33 46 22 28M3561 2230l11 3 33 9 28 5 39 4 33 1"/>
<path d="M603 2399l32 2 32 4 128 26 32 4 32 3 26 1 32 0 101-5 43-1 53 2 117 9 48 0 32-4 10-2 21-5 22-8 16-8 16-9 16-11 16-13 21-20 26-29 32-44 22-35M2390 767l21-24 27-22 16-10 10-5 16-3 16-1 16 5 16 8 16 12 16 15 16 20 21 31 22 37 16 33 15 34 22 51M3294 2006l10 2 16 0M3788 2371l51-7 45-2M1993 1047l47-115 47-110 29-62 28-58 28-51 24-35 14-17 9-10 10-8 9-7 10-5 14-3 9-1 14 4 10 6 19 14 14 16 14 18 9 15 19 35 19 40 28 69M3675 2314l52-27 38-16 19-5 19-5 18-2 15-1M3247 1949l30 7 8 1"/>
<path d="M1104 2276l10-1M1595 1776l86-160 130-262 70-135 35-63 30-50 25-36 26-31M2413 1181l105 170 30 45 40 56 35 44 30 34 31 31 110 110M809 2305l17 1 11 1 17 4 17 5 34 13 62 28M2088 914l28-86 17-46 17-43 11-25 17-33 17-27 17-19 6-6 11-7 11-5 12-1 5 0 12 4 5 3 17 13 23 24 17 22 28 46 23 41M3123 2153l28 53 17 30 34 54 17 23 23 28 28 30 11 10 23 15 17 9 23 9 28 6 17 0 22 0 23-3 17-4 57-14M1952 1629l14-3 15-6 10-5 19-13 19-18 15-15 19-26 25-39 14-27 20-40 29-66 39-98M833 2390l24 1M1966 1089l18-66 23-80 23-71 23-63 18-41 17-35 12-20 11-16 18-20 6-5 11-8 12-4 6-1 6-1 11 2 6 1 12 5 17 12 23 22 29 36 29 41M2605 1364l47 99 23 43 23 40 29 44 18 23 23 28 23 24"/>
<path d="M1162 2171l32-4 28-5 27-10 18-7 32-17 18-11 23-17 18-16 37-37 31-37 69-90 91-128M2123 1377l36-18 41-22 46-32 77-59 37-27 18-11 18-10 14-7 18-7M3419 2121l59 36 13 8 23 12 9 3 23 7 13 3 14 1M1302 2083l22-4 23-8 18-11 27-23 27-28 99-124 36-42M1876 1232l46-109 27-60 27-53 28-45 13-19 14-16 14-14 9-7 9-6 14-6 13-3 14 0M3162 2190l19 39 22 43 14 24 18 27 23 29 18 20 28 23 18 12 23 11 23 7 31 5 14 1 23-2 36-4 78-17"/>
<path d="M920 2300l68 3 63 4M1192 2411l30-2 31-4 35-7 36-11 20-8 35-19 26-17 20-16M1603 2179l20-14 21-17 21-22 26-34 20-32 21-38 21-41 20-47M3756 2356l42 1 41 0M1030 2252l20 0 50-3 36-4 20-4"/>
<path d="M3537 2213l65-1M824 2392l16 0M981 2427l26 6 26 6 16 2 31 3 26 0 26-2 26-2 26-5 225-41 37-8 26-7 42-14 26-12 26-15 21-14 21-17 10-10 21-22 16-19 26-38 21-36 10-20 31-66 32-76 36-102 32-97M2156 836l31-74 27-56 26-49 21-33 15-21 11-11 26-22 10-6 11-3 15-2 11 1 10 3 11 5 10 7 11 9 10 11 26 30 21 30 37 61 21 40 41 93M3483 2177l10 0M3681 2320l52-19 51-21 34-11 40-10 23-3 17 0M3376 2082l14 2 38 2"/>
<path d="M991 2131l42-1 25-3 37-4 72-12 52-5 57-3 57 1M1210 2123l54-2 39-3 19-4M1150 2229l23 1M3548 2408l29 13 17 6 16 5 29 7 22 5 23 3 22 1 28 0 34-2 39-5 40-8 84-20 34-6 34-4 28-2M3622 2275l33 1"/>
<path d="M644 2409l56 3 124 14 40 3 28 1 23-1 39-5M707 2410l35 1 40 4 46 7 104 18 46 8 41 4 40 2 40-2 29-3 29-5 23-5 23-8 23-9 29-16 29-18M1093 2270l24 0M3584 2250l25-2 30-2M940 2291l17 0 24-1 59-9 35-7 36-10 23-8M3735 2341l59 16 47 10 53 6 35 3 24 0"/>
<path d="M2239 800l14-32 20-39 20-31 15-19 15-16 15-10 15-6 15-1 5 0 10 3 10 5 10 7 10 9 25 26 15 19 14 21 25 41 20 35M3119 2152l30 41 20 24 30 31 25 22 20 15 20 13 25 14 34 17 20 8 25 8M3208 2235l22 25 17 18 22 19 25 19 13 8 22 10 21 8 22 5M1247 2136l40-1 15-2M1295 2108l16-1 21-3M3682 2316l47-8 115-26 31-6 37-4 26-2 26-1"/>
<path d="M681 2407l54 2 96 9 32 2M1367 1927l24-3 32-7 40-13 19-4 20-6 24-10M2180 1289l98-93M2933 1399l33 57 75 140 71 119 48 86 65 121M3594 2416l16 6 22 5 27 5 27 2 27-1 16-1 38-3 27-4M3818 2381l41-6 31-2 26 0"/>
<path d="M1155 2416l43 0 38-2 37-6 31-10 18-6 25-11 31-18 18-12 19-13 25-21M3984 2410l86-7 75-3M1039 2303l20 0M2256 1205l60 55 20 18 10 7 20 14 15 8 10 5 15 5 16 3 15 0 15-1 15-3 10-3 25-11 20-12 20-13M2114 1392l41-53 62-83 26-33M3529 2208l15 4 31 4 21 1 31 1 72-2 36-2 61-1M3055 1644l89 111 32 43 84 118 51 77 19 25 23 29 23 24 28 22 9 5 19 9 23 6"/>
<path d="M3698 2326l39 0M1344 2372l19-4 19-6 19-8 15-7 19-12 14-11 24-22 14-15M3103 1738l11 5 20 7 20 2 15-1 16-2 23-7 28-12 27-14 16 0 27 2M1226 2176l18-1"/>
<path d="M3766 2361l110 1M627 2355l43 2 50 5 50 9 92 20M2157 1322l21-11 21-8 29-8 42-5 29-2 35 1 22-1 28-2 29-3 49-12 57-17M3216 1913l50 30 21 15 43 33 36 32 28 28 50 56 85 105M3778 2424l29 10 35 8 36 5 50 2 35-2 50-4 121-18 50-6 42-3 36-1M1213 2105l82 2 36 0M1992 1048l29-86 19-52 24-61 24-54 19-37 24-39 23-30 15-13 9-7 10-5 14-4 19 0 10 3 14 6 19 14 19 19 29 37 19 27"/>
<path d="M1616 1741l64-119 64-121M842 2308l45 2 31 2 51 8 44 8M3668 2428l38 6 38 4 38 2 38-1 57-7 132-24 32-4 31-2M1147 2415l33 7 39 4 28-2 28-5 16-5 11-5 28-14 28-19 33-28M1597 2181l22-5 78-5 17-3 16-6 23-10 11-8 22-22 22-30 22-38 17-36 22-55 17-47 22-67 17-55 28-95 39-139M2331 766l33-69 28-52 22-35 17-23 11-13 17-12 11-6 11-3 5 0 12 1 11 5 11 7 11 9 11 12 22 31 22 38 28 57 17 38 22 54 34 86 33 91 33 95M3565 2412l22 7 22 5 22 4 23 0M1208 2141l28-1 62-3M3973 2407l50-3 39-1"/>
<path d="M2298 769l17-13 22-13 9-4 26-6 17-2 22 1 31 2 26 6 22 8 17 9 13 9 22 19 18 19 17 23 13 21 18 31M1036 2252l26-2 31-2 47-6 21-4M3661 2299l31 2M3114 1755l34 50 50 80M3920 2402l28 0M1597 1773l85-161 66-126 35-64 20-34M2604 1364l46 77 20 32 20 29M3702 2327l30 0"/>
<path d="M737 2385l174 0M3406 2110l27 10 22 7 22 4 22 3 16 1M944 2343l20 0 15 1M3230 1929l60 35 40 18 20 8 30 9 40 8 50 4 30 2M2541 836l12 0 11 1 12 3 8 4 23 15 16 13 8 8 23 28 24 35 31 54 23 45M3138 1796l15 17 20 17 15 12 12 7 16 7 19 6 31 1M430 2409l44 1 44 6 43 7 113 22 63 9 62 6 57 2 43 0 38-1 50-4 25-3 38-6 37-9 44-13 31-12"/>
<path d="M3582 2245l58-5 39 0M642 2408l38 1 45 4 89 11 45 4 25 1 26 0 45-5M3840 2387l32-2 32 0M3753 2353l50 4 69 3M1133 2208l24-1 38-8 19-7 19-9 15-9 14-9 19-15 29-25 33-35 62-69 29-28 19-15M2149 849l19-52 19-47 24-50 14-26 15-22 9-12 10-10 9-9 10-6 14-5 19-2 14 4 10 5 10 6 9 8 10 10 19 26 19 31 28 54 19 39M2745 1593l43 84 38 67 148 244 43 62 29 37 23 29 48 54 24 23 24 21 28 21 29 18 33 18"/>
<path d="M1268 2089l31-4 23-6 18-7 18-8 18-10 22-16 18-14M2737 1581l49 126 36 83 27 54 18 34 32 53 13 20 22 31 18 22 23 25 36 31 49 34 27 20M3484 2178l35 10 41 7 60 6 45 2M2299 1186l28 8 19 3 10 0 23-2 24-5 19-6M3664 2303l43 3M2154 840l20-38 20-30 16-17 8-6 11-8 8-3 8-2 8-1 12 2 8 2 12 5 27 19"/>
<path d="M2649 1430l52 104 42 75 20 34 21 31 37 48M2158 1321l19-23 29-38M3701 2327l43 0M1426 1946l33-1 21 3M1008 2202l102-2 44-3 34-2 34-6M3414 2116l34 11 39 7"/>
<path d="M3854 2391l17 0M435 2407l41 2 41 5 41 7 106 22 65 11 65 7 59 3 70-2 47-4 24-4 29-6 18-5 24-9 29-14M1377 2069l52-89 36-56 47-61 112-135M3007 2010l18 29 29 42 24 31 35 43 17 18 30 28 41 31 18 11M867 2347l38-1 21-3 21-4 32-9 37-15 27-13 32-19 26-18 38-29 32-28 58-58 101-102 80-75 53-47 37-26 32-23M2040 980l32-93 32-84 37-84 22-45 14-24 14-22 13-19 14-17 14-13 13-12 14-8 9-4 18-5 9 0 19 1 13 4 14 7 18 13 18 19 14 17 9 14 14 24 23 44 18 42 22 61M2637 1407l23 82 13 45 14 42 18 51 18 47 19 40 18 35 23 40 31 47 23 29 32 37 36 38 32 30 37 30 27 16 23 11"/>
<path d="M1428 2008l44-78 43-71 24-37 48-69 86-112M1062 2422l55 5 45 1 25-1 70-6 41-8 20-5 10-4 30-13 20-11 10-7 20-15 20-19 15-16 15-18M867 2368l30 1 41 4M1914 1696l26-37 15-25 25-46 21-41M1591 2190l32-20 37-26 36-31 23-22 23-25 27-34 19-25 22-35 19-31 22-41 19-36 32-69 31-75 28-71 36-100M2271 786l27-52 19-32 13-21 14-18 14-16 18-17 14-9 13-7 9-2 19-3 13 0 10 2 13 4 14 7 9 6 23 18 27 30 14 18 23 33 22 37 28 49 32 65 32 72 32 79"/>
<path d="M1130 2222l52 1M3698 2325l42 3 52 2M737 2319l21 1 22 2 22 4 22 6 49 15 65 26M1107 2420l44 1 33-4 32-7 22-7 16-7M3321 2035l71 20 60 14 38 5 32 2M1898 1191l27-77 22-61 22-55 23-52 18-37 18-33 18-28 22-29 18-19 18-13 18-8 22-5 9 0 14 1 22 6 22 9 18 8M2597 1351l17 41 23 46 27 49 18 27 22 29 18 20 9 8M3174 2205l23 29 27 30 22 21 22 17 18 11 23 11 22 9 31 9M3651 2292l46 5 52 1"/>
<path d="M1042 2267l78 1M2088 912l26-48 26-39 16-20 10-12 6-5 15-13 16-9 10-4 11-3 15-1 11 2 15 5 16 8 5 4M637 2391l106 0 47-2 52-6 41-9 53-18 47-21 58-30 100-54M2600 1354l35 93 41 98 18 37 17 34 18 32 23 39 24 35 17 23 18 23 29 36 41 45 53 49M977 2313l41-1 27-1M3764 2425l20 7 34 10 34 7 34 5 67 6 68 0 74-4 48-5 54-8 108-18 47-7 41-3 41-2M3822 2383l62 1"/>
<path d="M3186 2216l15 20 20 24 20 21 30 26 30 22 20 12 35 17 45 15 35 7M923 2281l48 0 55-3 48-3 42-4M2191 1270l12 1 61 3 42-2 24-3 79-13 42-4 18 0 24 1 31 6M3888 2418l73-5 48-1M1868 1782l45-52 90-111 30-40 71-99 40-62 40-66 20-35 66-119M2516 817l15-8 15-4 10-1 15 1 15 5 10 6 10 7 15 15 10 11 16 20 15 24 15 26 30 60 35 79M3802 2376l46 0"/>
<path d="M1116 2256l23-1M3544 2408l23 10 30 11 29 9 23 5 47 7 30 2 35 1 47-2 47-6 52-8 94-16 36-5 41-4 35-2M737 2371l132 0 48-3 36-4M2160 1310l101 64 12 6 24 12 24 9 12 4 24 5 18 1 18 0 36-5 42-11 29-11 42-12 36-8 30-3M1415 2334l22-10 17-11 18-12 18-14M2165 829l22-22 26-22 22-12 13-6 9-3 35-8 48-3 13 2 13 3 22 8M1573 1613l22 1 27-3 17-5 22-9 9-6 13-9 44-48M3758 2357l62-1"/>
<path d="M921 2318l20 0 26-3 20-3 30-6 46-15 56-22M3638 2283l61-3 31 0M1349 2368l44 4 34 1 29-4 20-4 24-9 24-13 25-18 19-18 25-28 19-27 20-30 19-34 44-88 68-147M2250 789l30-67 34-68 24-42 20-27 9-11 10-9 15-10 10-5 14-3 15 0 10 2 9 4 10 6 15 11 9 10 20 23 19 30 10 16 29 55 30 64 29 69 29 77M3479 2176l58 3 68 0M1051 2424l44 0 29-3 24-5M3176 1854l20-4 24-9 14-6 29-17 39-7 29-1"/>
<path d="M1834 1837l9-5 24-15 20-15 14-13 24-26 15-20 19-29 24-41 38-77 24-54 53-127M3315 2031l39 25 24 14 19 9 43 17 34 11 34 7 38 6 39 2M1456 1874l4-1 27 0 11-2 23-6 27-14M1182 2210l14-1M2174 1297l28-4 28-6 32-11 19-7 38-19 74-43 29-14 14-6M3479 2174l42 8 52 4M948 2334l44 2"/>
<path d="M509 2382l48 2 61 7 48 7 110 20 48 7 27 2 48 2 21-1 34-4M1338 2099l54-79 35-47 34-45 21-22 89-87M2276 1189l62 56 27 22 28 19 27 15 27 11 28 8 68 14 48 11M3975 2407l34-1M852 2193l59 0 144 7 53-3 37-4 32-6 27-8 27-9 37-17 27-16M1482 1942l32-45 58-92 86-141 37-64M2207 1259l85-29 48-14 33-7 10-1 22-2 21 0 16 0 27 5M3426 2130l24 3 50 1 80-4 40 1M1311 2382l29 6 19 1 19-2 15-2 24-9 24-13 19-13 14-13 24-27 25-32 24-39M1907 1176l20-39 24-41 24-33 24-27M2268 785l34-53 34-58 14-22 19-28 15-17 9-10 15-12 19-11 10-3 9-2 10 1 5 1 9 4 10 7 14 14 20 27 19 34 19 44 15 38 24 73 19 68M2793 1667l24 89 19 65 24 73 24 65 19 46 24 50 24 42 15 22 14 19 29 31 15 13 24 19 72 43 29 15 29 13 48 20 43 13 43 10"/>
<path d="M1326 2068l30-3 36-10M3831 2384l86 1M1275 2391l42 1 33-3 33-6 33-12 23-11 38-23 33-26 38-35 33-36 18-22 38-47 24-33 42-63 38-61 32-57 29-53 28-58M2164 835l19-55 14-38 19-43 14-27 19-29 14-16 9-8 10-6 4-2 10-2 14-1 14 3 5 2 18 14 15 14 14 19 19 29 32 58 24 45M929 2337l59 1M2434 1189l32 38 37 48 54 71 69 88 65 70M3638 2284l27 1M1756 1965l25-29 16-19 25-36 26-39 36-58 82-140 46-74 41-62 77-113 36-56 31-51 25-48M3131 1786l20 13 82 45 31 20 46 50 62 74 46 52 15 16 21 19 31 25 36 24 36 16 10 4 20 5 21 3 25 2"/>
<path d="M2046 968l35-72 25-46 19-33 15-23 30-42 35-43 15-17 15-14 15-13 10-7 20-12 10-5 24-8 10-1 10 1 15 5 10 7 10 8 10 10 10 13 10 14 10 17 20 41 20 49M2603 1359l25 81 24 69 10 25 15 32 15 29 10 18 25 36 25 27 30 25 49 35M3652 2292l10 0M3641 2285l36 7 46 7 36 4 36 2M2367 766l66-119 13-21 16-22 16-16 13-7 12-2 8 1 9 3 8 6 8 8 8 11 9 12 12 24 16 39 17 47 16 54 17 63 16 68M3092 1716l107 170"/>
<path d="M839 2328l75 2 81 4M3948 2405l50-3 38-1M1048 2255l41-2 40-5 20-3M2255 1210l66 29 40 14 40 12 31 7 45 7 71 5M3578 2244l50-1M2123 869l23-54 14-27 14-23 14-19 10-10 14-12 9-5 14-5 9 0 10 1 9 4 14 8 10 8 18 19 10 11M1165 2169l19-2 24-4 34-8 28-10 39-18M2203 1262l43 11 29 9 33 9 34 6 19 3 29 1 28-1 91-9 19-2 24 0M3585 2248l24 2"/>
<path d="M1150 2192l30-1 48-5M3764 2426l48 9 42 6 42 2 35-1 30-2 36-5 108-21 29-5 36-4 30-1M897 2351l71 3M1377 2069l60-91 22-35 60-90 28-46 43-80 33-65 60-123 77-186 44-98 38-78 22-40 21-37 22-34 28-38 21-26 17-16 11-9 16-10 11-5 11-4 11-2 22-1M2514 1248l38 62 27 47 44 80 33 62 54 111 115 251 49 100 39 70 16 27 33 51 22 29 27 32 22 23 87 84 17 14 27 22 27 18 11 6 22 10 27 10 17 5 22 3 21 1 33-1 49-7M839 2357l73-1 54-3M3885 2417l60 7 33 1 34 1 40-2 53-3 87-6 53-2M2687 971l19 23 15 21 15 24 19 37"/>
<path d="M445 2399l36 2 42 7 36 8 89 24 54 12 36 5 35 3 36 2 36 0 71-3 78-10 101-17 120-24 29-7 54-15M1689 1612l44-96 33-68 44-87 37-66M3288 2000l12 2M1926 1676l41-56 42-59 71-105 78-117 71-103M2974 1482l24 37 41 68 18 26 131 184 72 97 47 72 36 50 42 53 30 35 29 32 24 23 42 38M3915 2415l30 2 35 0 125-6 42-1M3213 2238l16 15 11 9 21 16 11 6"/>
<path d="M1680 1629l41-99 35-82 23-52 29-61 30-56 23-40 23-35 24-30M3020 2025l29 42 29 36M3763 2357l76-2M1224 1933l32 0 59 3 37 1 32-3 37-7 32-10 9-3 28-7 32-14M1970 1075l40-63 23-32 72-93 49-61 32-36 27-27 27-22 18-11 18-8 18-4 18-1 9 1 9 2 13 5 14 8 9 7 9 8 18 20M2622 1388l45 138 23 61 18 46 13 32 32 66 13 26 23 38 22 34 27 38 32 39 18 20 18 19 27 26 31 26 32 20 31 15M735 2397l68 1M3784 2368l68-3 56-1"/>
<path d="M2147 1338l22-18 49-38 97-73 49-34M3505 2193l27 5 27 4 44 1M1038 2425l35 5 30 2 20 0 45-1 60-6 20-3 40-7 35-8 25-9 21-9 20-10 20-12 25-20 20-17 30-30 20-22M2049 966l25-84 20-58 20-52 20-44 21-36 20-29 15-17 15-14 15-9 10-3 15-2 10 2 10 2 15 7 30 21 30 26 20 21 30 35 35 45M560 2408l40 1 119 9 39 1 46 0 39-2M3373 2077l28 9 17 3 23 3 17 0M1057 2175l30 2 30 4 34 9 50 16"/>
<path d="M1039 2296l35 3M2140 1351l58-47 46-40 24-23 23-24 35-41M2685 969l17 17 24 28 34 52 35 60 41 82M3920 2403l81-3M2267 784l21-28 27-29 17-16 17-13 13-8 14-5 21-4 18 1 21 6 13 7 22 18 9 10 17 23 13 21 18 31 22 46M3542 2216l23 7 10 2 14 2 18 2M981 2316l51-1"/>
<path d="M1395 2347l14-5 24-9 20-10 14-10 20-14 14-13 25-24 9-11M1851 1810l24-23 44-47 9-11 20-27 19-31 24-44 25-53 19-47 24-66M2292 777l29-54 20-29 14-17 10-9 10-8 14-9 10-5 9-2 30-1 9 1 15 5 19 11 15 10 19 16 24 25 20 22 14 19 34 47 29 46 34 61 34 69 15 32 19 46M3705 2327l5 0M999 2321l24-1M3366 2072l38 2 63 2M983 2427l29 5 33 4 43 1 24-3 15-3 19-5 14-5 19-9M1907 1710l19-21 14-18 10-13 19-29 29-51 19-37 24-51M2496 803l19-5 19-2 14 0 20 3 19 7 19 10 19 15 14 14 10 11 19 24 19 30 24 41 19 39 19 42 34 81"/>
<path d="M1238 2129l13-1 23-3 23-5 27-8M3738 2426l32 3 37-1 37-4 68-10 43-5 31-2 21 0M984 2297l43 2 32 3M1647 2119l13-8 36-27 22-20 18-18 22-26 18-22 32-46 31-55 36-76 36-85 45-116M2466 795l27-16 18-9 22-8 18-1 18 3 23 8 8 6 14 10 18 18 22 28 23 33 26 46 23 42 27 54 22 49 36 81 45 106M3563 2230l18-5 14-3 27-3"/>
<path d="M981 2312l31-2 43-6M2412 773l31-7 22-1 8 1 13 3 18 8 13 8 9 6 13 11 8 9 22 27 22 32M715 2406l33 1 32 3 109 14 38 4 44 1 38-2M3360 2071l22-1 49-4 38-6 27-1M3854 2421l58 9 31 3 38 2 39-1 31-2 32-4 96-17 31-4 32-4 25-1"/>
<path d="M1370 2361l26-14 31-21M2586 867l11 3 10 5 10 7 11 8 20 19 21 23 26 35 26 39 26 43 31 55M1177 2155l15 0 31-4 25-9 35-14 25-15 15-11 16-11 30-27 25-25 30-35 41-52 25-31 40-53 66-92M2246 1221l30-24M3264 2277l15 16 20 18 20 15 25 17 15 9 26 12 20 7 30 9M1086 2280l20 0M1503 2278l40-8 21-6 40-17 15-8 31-21 30-26 11-11 15-18 20-27 25-39 16-28 10-20 25-57 16-39 20-59 20-63 20-71M2092 907l25-79 26-68 30-72 31-61 15-26 15-23 20-25 16-14 10-8 10-5 10-3 15-2 11 1 15 5 15 11 10 9 10 12 10 14 21 34 35 67 31 66 30 71M3311 2314l31 31 20 18 30 21 21 11 10 5 25 8 21 5 10 1 15 1 30-1 31-3M2303 766l33-64 28-46 22-30 17-17 11-10 16-12 11-7 11-4 12-3 11 0 16 3 11 4 11 6 17 12 11 10 22 27 11 17 17 27 22 44 28 64 22 60 27 87 23 78M2912 1858l27 87 17 45 17 41 27 56 17 27 22 30 22 25 22 20 33 27 17 11 22 12 17 6 39 11 38 8"/>
<path d="M1926 1675l34-15 62-21 40-15 40-19 28-17 11-8 17-14 23-21 17-19 28-35 23-33 22-36 40-71 91-176M1940 1649l30-28 39-43 35-44 30-42 35-55 25-44 70-131M1171 2216l18 1M3678 2313l15 1"/>
<path d="M1332 1998l19-1 39 2 43 3M2237 1228l19 4 27 0 20-4 11-5 8-3 20-12 15-12 27-24M2259 1209l19-2 23-4 23-6 28-10 28-13M3271 1977l75 80M3443 2143l28 18 19 9 18 7 19 6 14 4 14 2 18 2M3145 1808l117 132 93 123M3568 2413l21 4 27 3"/>
<path d="M3442 2143l23 0M1074 2161l39-2 49-4 35-4 35-5 22-5 27-7 31-11M2274 779l23-19 24-15 15-5 16-3 8 0 12 2 16 7 19 14 16 16M1164 2196l24 0 23 1M3526 2207l47 0"/>
<path d="M3664 2305l36 0M3355 2065l29-7 49-16 29-8 15-3 19-3 24 0M2131 1365l63-27 53-25 116-61 37-18 32-14 31-10M3412 2114l158 117 53 35 47 28 21 10 21 8 37 13 32 7 16 2 21 1M1337 1939l18-1 22-3 30-7 26-9 48-21 26-17 22-17 22-22 13-15M2552 1288l44 110 22 52 17 38 31 63 13 24 17 30 22 34 13 19 17 23 27 32 21 23 31 31 17 17 31 26"/>
<path d="M897 2289l36 1 37 3 31 3 58 8M1338 2375l38-7 24-7 23-10 24-14 29-20 19-17 33-35 24-31M2320 1179l39 50 23 27 20 16 19 12 9 3 10 3 14 2 14 0 10-2 14-6 15-7 23-19M2740 1056l15 1 9 4 14 10 10 9 10 10 14 20 19 30 14 25 29 57 38 87 33 84 43 118M3580 2247l19-5 34-7 23-2 19-1M1010 2204l31 2 31 6 47 13 41 15M3595 2257l56 0M2233 794l14-23 14-20 13-17 14-13 19-14 13-9 19-6 14 0 9 1 14 4 18 11 9 8 14 14 18 21 19 25 13 21M3084 2109l41 66 14 20 32 40 23 24 28 22 27 16 14 6 23 7 28 4"/>
<path d="M1010 2202l45 1 86 8 32 1 22-2M2246 795l27-56 19-34 27-46 22-31 18-18 10-7 13-9 9-3 9-1 18 2 18 7 19 13 18 19 9 12 18 28 18 36 23 52 22 61 18 55M2799 1679l32 89 18 46 13 31 32 66 18 33 23 35 13 19 18 23 19 21 13 13 32 27 14 11 49 35 9 6M1029 2307l23-2M2558 846l9 0 9 1 10 3 14 6 19 13 19 19 19 25 18 28 19 34 24 47M1089 2198l37-3 20-4 26-8 42-15 16-6 83-40M3183 2214l26 38 31 38 16 16 20 19 26 19 16 9 16 8 20 8 11 3 15 4 21 4 47 4M1219 2406l42-9 26-7 10-4M2175 826l31-63 20-39 21-36 21-31 26-31 16-16 10-9 16-10 10-4 10-2 11 1 10 3 10 5 11 8 15 15 21 27 21 34 15 31 21 49 21 56M2725 1561l26 73 26 64 26 57 20 39 16 27 36 54 37 44 36 37 21 19 26 21"/>
<path d="M1600 2179l11-4 17-7 21-14 22-17 11-10 22-24 22-28 11-17 16-26 17-29 27-55 22-49 44-111M2355 765l17-14 11-8 22-11 22-6 16-1 11 1 16 5 17 9 11 8 11 10 16 19 22 31 33 58M1932 1137l33-93 30-71 25-52 13-23 17-25 12-16 13-13 13-9 12-5 13-3 13 3 17 7 8 7M2262 783l16-13 11-6 27-11 17-2 11 2 16 5 11 5M1964 1089l34-93 17-41 17-37 21-41 12-22 17-25 17-21 17-17 12-8 17-8 17-3 13 1 21 6 16 9 17 11"/>
<path d="M594 2406l33 1 41 5 40 7 74 16 61 11 47 5 33 2 27 1 27-2 20-1 27-5 20-4 27-7 41-15M3831 2384l88-3 114-2M1387 2352l24-10 19-11 24-18 18-17M1857 1273l33-80 39-86 28-54 28-48 28-40 16-20 17-18 22-21 17-12 22-13 11-5M2502 1239l39 65 44 64 39 47 22 24 17 16M3803 2377l36-1"/>
<path d="M2524 1260l85 111M3654 2296l50-1M1302 2109l26-1M2116 1389l35-30 53-49 83-92 35-37M2734 1046l9 5 17 15 22 25 22 31 31 53 26 51 35 75 39 90 40 94M3408 2111l18 4 35 6 39 5 40 3M3514 2200l50 7 60 5 44 2 61 0M1313 2115l8 0"/>
<path d="M492 2396l34 3 34 5 34 9 103 29 40 9 34 6 40 4 46 3 91 3 40 0 80-2 35-2 45-5 34-6 18-5 28-9 17-7 23-11 17-10 17-11 29-21M2119 875l17-25 17-21 17-17 23-17 23-11 17-5 23-3 11 0 12 1M2890 1830l17 39 17 34 23 41 11 17 17 24 12 13 17 16 23 17M3341 2056l23-3 45-1M2002 1032l28-61 33-62 45-74 32-48 33-42 32-36 28-25 13-9 16-10 16-6 12-3 25-2 12 3 8 2 16 9 21 17 20 23 20 31 25 43M2770 1630l32 74 45 94 32 62 21 34 16 26 36 50 13 15 16 17 24 22 33 22M681 2336l32 2 38 7 37 9 80 23 43 9M1343 2017l20 1 15 3 16 4 20 7M1735 1997l27-32 23-34 24-40 16-30 11-25M2275 786l43-161 20-69 19-62 16-43 12-27 7-15 12-19 8-10 8-7 12-7 7-2 8 2 4 1 8 5 8 6 8 10 11 18 8 15 12 26 23 64 24 77 23 87 28 114 23 109"/>
<path d="M1020 2299l23-1 34-3M2141 1350l17-9 23-9 23-6 22-3 29-1 17 0 68 5 23 1 28-1 17-3 23-4 34-8 23-8 57-23M3006 1543l39 68 57 86 74 105 86 116 68 101 45 63M3865 2394l62 1M803 2311l69 2 75 4 51-1 40-3M1371 2073l57-64M2362 1174l29 38 120 167 34 44 35 38 23 23 17 16 40 32 40 26 35 17M1136 2239l24 0M3317 2317l29 22 24 14 28 14 15 5 19 6M2445 786l32-4 20 1 16 2 26 10 11 6 10 8 21 20 21 26 11 15 10 17M3794 2373l141-4"/>
<path d="M3798 2425l24 0 29-2 24-2 112-13 30-2 24 0M2548 839l14-1 14 1 14 3 14 5 9 5 14 10 14 13 14 14 19 24 14 21 28 46 23 45 37 80M2208 811l17-35 17-31 18-27 17-23 17-18 18-15 8-6 18-8 17-3 9 0 8 2 9 3 13 7 13 9 26 26 22 28 17 27 22 40 13 28M3772 2362l97-12 18-2 37-1"/>
<path d="M1134 2245l17-1M2358 764l14-12 23-15 19-7 19-5 10-2 14 0 9 0 19 5 14 5 24 14 18 14 19 17 28 32 19 25 24 34 23 40 38 72M1178 2179l19 1 32 3M471 2405l30 1 36 3 125 21 36 4 30 2 36 0 37-4 37-5 36-7M3761 2357l73 24 44 13 44 10 44 6 36 2 52 0 110-10 51-1"/>
<path d="M2178 827l17-42 17-39 18-34 17-28 13-19 18-18 8-7 9-6 17-6 18-2 8 2 9 4 9 5 4 4 18 17 13 18 17 29 26 53 13 31M1318 2059l44-4 22-3 13-4M2153 839l9-10 13-13 13-10 9-6 13-5 9-3 9-1 13 0M2513 1248l31 65 18 34 17 31 18 27 22 29 17 20 22 19 13 11 14 8M3524 2205l39 0M3561 2232l135-1M787 2393l43 0M3737 2343l44 7 50 4 75 1 62 0"/>
<path d="M2184 816l19-23 24-23 19-14 15-6 19-5 15 0 24 5 9 4 15 9M2985 1984l14 22 29 41 24 31 34 41 24 28 25 25 19 17 19 15M3665 2428l22 5 22 3 22 2 33 0 55-5 83-14 50-7 33-3 28-1M1611 2168l15-16 32-36 31-41 15-22 26-41 26-48M2077 936l26-105 31-113 21-67 21-59 15-38 11-23 10-20 11-16 10-14 10-10 11-8 10-5 10-2 11 0 10 4 10 6 21 19 16 20 10 15 21 35 31 62 36 81 42 103M3845 2390l26-4 26-1M1754 1967l32-38 43-54 112-156 69-103 96-148 37-55 32-46 43-59 42-53 16-18 37-37 32-26M2803 1151l22 20 10 11 22 26 32 44 37 57 27 45 26 48 64 124 69 115 91 161 59 99 26 47 21 35 27 41 32 43 32 36 32 29 21 17 22 15 32 17 16 7 31 11 32 8 59 9 59 4"/>
<path d="M997 2320l30 0M3572 2237l31-1M2376 764l17-16 11-8 11-7 23-10 11-2 17-1 11 3 11 4 17 10 17 13 11 11 17 20 28 39 17 28 22 40M3361 2341l28 19 18 10 19 8 23 8M1997 1041l22-47 21-42 16-27 11-16 16-21 16-17 21-16 16-8 16-4M3062 2078l27 56 21 42 16 28 22 35 27 37 16 18 16 17 26 24 22 14 10 5 33 13 21 6 21 4 33 2 26 0 32-2M3683 2318l27-4 26-2"/>
<path d="M1590 2192l29-18 19-15 14-13 29-29 19-23 14-20 28-43 29-50 38-78 33-76M2920 1372l24 37 42 69 57 97 76 111 52 81 91 149 23 44 24 40 19 30 19 27M3475 2172l24 8 38 9 33 4 33 2M1191 2410l40-1 29-4 25-6 14-5 25-10 34-18M2135 1359l44-59 30-42M2577 867l30-23 19-12 15-4 10-1 15 2 9 3 10 4 10 6 10 8 20 20 19 27 20 32 19 39 30 68 20 50 19 53 30 85 69 215M3501 2192l5-1M1127 2213l23-2 18-3 27-8 19-6M420 2401l37 2 37 6 38 8 96 24 43 8 42 7 48 3 59 1 22-1 37-4 27-4 32-6 26-7 32-11M1952 1102l17-28 21-34 21-29 27-32M3133 1793l16 4"/>
<path d="M1038 2269l59-3 29-3M3458 2158l88-2M1058 2195l59 0 69 1 29-1M2303 1185l30 20 24 13 30 12 20 5 14 2 25 2 34-1 20-1M2604 1362l34 88 39 90 38 78 29 50 15 23 19 27 34 42 20 22 14 14 15 13 29 24M3444 2145l19 3 20 1M837 2328l115 1 28-1 37-3M1358 2083l37-50 65-95 96-130 60-85 37-57 28-45 51-96"/>
<path d="M2072 1450l47-44 63-62 80-86 71-80M2598 877l21-19 8-5 9-4 12-4 9-1 17 1 8 3 13 7 16 13 9 8 12 15 17 24 21 37 17 34 17 39 25 62 21 56 25 73 63 194M3384 2088l63-5 30 0M3415 2118l12 3 36 6 52 4M1212 2030l122-3 39 1 39 5M3513 2198l34 1"/>
<path d="M941 2332l59 2M3146 2178l16 22 26 32 16 17 16 14 21 16 22 13 26 13 21 7M3735 2343l43 5 32 2 32 2 26 0M969 2327l43-1M1561 2225l23-18 12-11 17-19 23-33 23-41M3674 2429l23 8 29 7 29 5 47 4 52 1 40-4 41-6 46-8 81-18 35-6 41-5 34-1"/>
<path d="M3694 2324l99 0M3649 2290l36 4 25 2M2005 1029l23-52 28-52 19-28 23-30 10-11 14-13 23-16 9-5 14-5 14-3 10-1M941 2306l70 0 44-2M3429 2134l25-3 20-1"/>
<path d="M3693 2426l23 7 28 7 34 5 45 3 22-1 34-3 34-5 101-22 45-8 34-5 34-1M1077 2167l48-4 26-4 27-6 32-11 16-7 16-8 21-12 21-15 16-13 22-20 16-17 32-37 37-50 58-87 91-121 64-87 37-53 21-33 38-66 122-229 43-77 21-36 21-33 27-35M2286 1189l37 51 37 54 85 134 54 80 42 62 27 37 26 34 48 57 27 27 37 36 43 35 16 12 27 17 37 22 64 31 42 19M3654 2298l107-5 37 1M688 2377l23 0 55 3 90 10M3361 2072l101-14 44-3 34-1M1906 1179l43-116 33-81 14-30 19-37 14-24 14-21 15-19 14-13 14-10 9-4 10-3 9-1 14 2 15 6 14 9"/>
<path d="M3652 2428l29 5 24 2 29 1 35 0 47-5 124-19 35-3 30-1M3244 1946l21 6 26 10 42 18 37 21 21 15 26 20 36 33 32 32 104 116 31 32 42 38 21 17 16 10 31 19 21 10 26 10 21 7 21 4 20 3 21 1M1042 2205l24 0 103 3 29 0M2399 1178l122 78M1597 1773l83-159 74-146 39-71 30-49M2171 1297l14 5 35 10 19 3 25 0 19-2 20-4 20-6 9-4 35-19 15-9 58-43 30-19"/>
<path d="M938 2264l18 0 29-1 72-4 29-5 30-6 48-13M1479 1945l29-41 48-69 47-75 36-59M2299 1184l53 34 24 16 47 35 24 19 48 42 47 48 42 47 41 52 60 80 89 126 47 65 30 37 36 43M3742 2348l191-3 41 1M794 2357l57 1 63 5 41 1M1984 1059l32-94 31-87 26-67 21-49 20-43 11-19 15-26 16-22 21-21 10-8 11-6 5-2 15-2 16 1 15 7 11 6 10 9 11 11 10 12 21 29 21 33 26 49M2572 1318l21 45 15 32 31 57 16 26 21 33 26 38 52 72 57 83M3138 2171l21 23 31 30 37 28 20 12M533 2410l23 1 46 3 136 17 63 5 40 0 34-2 52-5 22-4M3378 2083l34 4 35 2M3659 2299l23 3"/>
<path d="M1008 2295l37 0 44-5M2270 1200l38-7 49-4 44 2 25 3 25 5M3738 2425l37 8 44 5 31 2 37 1 31-2 38-3 161-19 69-3M2365 768l19-20 15-12 14-9 19-8 14-4 9 0 15 2 18 6 15 9 19 15 28 32 28 41 38 65M3824 2383l27-1M2504 813l17-8 17-4 17-1 11 2 11 4 12 5 17 12 17 16 17 19 17 24 17 27 11 20 17 32 23 49 28 67M3798 2376l57-9 40-2"/>
<path d="M538 2404l27 1 34 3 120 19 53 5 27 1 33-1 27-3 40-6M3818 2383l73-9 33-3 27 0M2344 1174l8 4 13 4 12 1 16 0 12-4M985 2232l37-2 20-3 52-11 31-10 32-12 41-22 26-16 16-11 36-27 42-34 73-61 72-64 11-8M1015 2312l24-1M3667 2429l31 8 36 6 43 4 36 0 31-2 36-3 49-7 79-13 43-6 36-3 37-1"/>
<path d="M1878 1765l60-87 102-150 71-99 91-122 91-119M2693 984l16 14 30 35 25 36 21 33 20 36 30 59 56 118M3747 2348l41 3 25 2M3116 1758l41 61 27 37 27 36 23 27 28 31 54 65 37 40 27 26 32 29 27 21 23 17 32 19 27 13 19 7 27 7 18 2M1268 2100l41-3 41-7M2062 1463l18-6 14-6 13-8 14-9 9-7 14-12 27-29 32-42 31-50 37-65 22-44M3685 2427l42 12 47 9 42 6 35 1 30 0 53-3 66-8 119-22 47-7 36-3 35-2"/>
<path d="M3495 2186l18 1M2231 797l16-13 16-8 16-5 16-1M2677 1480l22 40 26 46 32 49 16 22M3847 2389l69 1M1938 1127l30-76 25-62 21-49 26-52 21-40 21-36 17-23 21-25 9-8 12-10 17-9 9-3 12-3 9 0 21 4 13 4 12 7 22 14 21 19M2560 1303l22 48 29 62 26 49 17 31 17 27 29 45 26 35 33 42 47 53M2089 912l24-52 19-35 9-15 15-20 14-17 14-14 10-7 14-9 19-6 19-1 10 0 9 2 20 5 42 19"/>
<path d="M865 2317l18 0 41 2 88 9M2022 1507l41 4 18 0 35-2 18-4 18-6 17-7 18-10 17-13 18-15 24-24 17-21 18-22 29-40 88-129 30-39M3678 2313l12 4 30 7 41 6 41 4 64 3M2394 767l8-1 12 0 16 2 13 3 12 5 12 7 21 17M3304 2019l17 7 20 8 25 3M755 2371l123 3 62-1M690 2390l25 1 26 3 38 7M2095 913l31-95 20-54 38-97 19-41 13-24 13-22 19-27 13-14 6-5 6-4 13-5 7-1 12 1 13 4 6 3 7 5 13 13 6 8 13 20 19 37 19 46 26 73 19 62M2567 1302l38 155 20 70 12 42 20 57 19 48 19 40 13 22 12 19 13 16 13 14 19 17 32 21 45 21 19 10 32 21 19 15 19 18 26 29M3142 2174l25 28 32 29 20 15 31 21M3864 2394l51-6 38-2"/>
<path d="M790 2299l64 0 69 2 75 4 52 2M2380 1176l12 7 34 24 29 24 35 33 40 43 29 34 40 51 52 71 92 128M3613 2269l40-8 29-5 23-2 29-1M3822 2382l35 3 40 0 40-3 97-8 51-2M610 2397l51 1 95 5M3397 2102l24 7 14 3 56 6 94-1"/>
<path d="M779 2325l38 0 67 4 105 10M991 2292l98-1M3762 2425l52 13 52 8 25 2 39 3 39-1 39-3 39-4 110-16 65-9 38-3 39-2M692 2389l40-1 53-2 41-5 40-9 30-8 29-10 134-55 35-11M3472 2173l29-8 58-20 47-15 35-6 29-3M657 2389l44 2 75 9M2094 908l15-37 15-32 15-30 15-25 20-29 10-12 15-15 10-8 10-7 15-6 15-5 20 0 10 2 14 6 15 8 20 14 15 14 15 18M2653 1436l35 72 20 38 25 46 30 51 25 40 25 36 34 45M3177 1860l15 1 15 0"/>
<path d="M1124 2186l16 0 33-3 16-2 22-5 32-10 33-14M1492 1930l38-55 43-66 65-107M2244 1215l81 67 27 21 27 19 11 6 21 11 11 5 27 8 38 6 33 1 59 0 27 2M1771 1449l59-152 43-105 27-61 22-46 16-31 16-29 16-26 16-22 16-19 16-15 22-14 11-4 10-2 11-1 11 1M2352 1172l32 32 37 33 43 34 81 60 38 33 32 32 43 50M3932 2404l43-1M1037 2231l25 1 26 4 25 5 31 10M2204 1263l41-38 20-21M1134 2252l5 0M2092 907l18-28 13-17 18-16 18-12M3286 2001l72-9 31-2 31-1"/>
<path d="M1459 1943l21 1M2228 796l26-39 25-35 16-20 25-26 17-13 9-5 12-6 13-4 12-1 9 1 8 2 12 5 26 13 20 18 17 18 25 34 17 28 25 48 17 37M2856 1777l21 54 25 59 25 54 21 42 16 30 17 26 21 30 25 32 38 42 54 58 38 37 29 23 21 14 12 7 30 12 25 5 16 1 9-1M3491 2184l25-16 21-11 21-7 13-4 12-2 13-1M1038 2288l58 0M3516 2200l5 0M663 2379l50 1 131 7 41 0 25-2M2304 1182l30 31 25 22 25 17 10 5 15 6 10 3 15 3 25 1 25-3 40-10"/>
<path d="M1410 2000l13-1 12 0M554 2407l30 2 37 3 36 6 116 20 36 5 31 2 42 1 37-3 18-3 18-4 37-9M2915 1869l18 40 25 50 18 32 18 28 12 17 25 27 24 23 31 25M3223 1920l18 1 23-2 59 4M2456 790l20 0 10 3 10 4 20 12 16 14 10 11"/>
<path d="M1260 2115l21-1 47-6M3458 2157l42 24 84 54 53 33 42 22 37 16 36 11 32 8 26 4 47 5 84 3M2779 1107l21 25 25 41 25 50 16 36 21 48M3423 2127l46 2M2251 1215l19-10 23-16M3192 1878l46 29 23 12 37 25 51 29 28 11 23 8 19 4 18 2M502 2405l32 1 33 3 32 5 105 18 32 4 33 3 39 0 39-2 45-6 46-8"/>
<path d="M2160 1315l18-7 14-4 36-8 40-3 82 0 54-2 36-5 63-13 27-7M2899 1333l32 45 36 54 77 123 40 52 50 61 45 51 40 44 41 38 36 44 45 48 27 23 23 17 22 14 18 10 41 17 27 9 31 7 27 3M1215 2405l60 15 21 4 35 3 30-2 20-4 26-8 20-10 15-9 20-16 26-26 15-18 15-21 15-24 20-37 20-40M2235 797l15-26 15-22 15-18 10-9 20-16 11-6 20-6 15-2 15 3 10 3 15 9 15 11 26 21 15 15 20 24 20 26M1294 2106l37-2M2820 1182l23 34 19 34 19 38 29 65"/>
<path d="M1075 2265l30-2 25-3M3544 2218l65-2 26 1M1072 2276l37 0M3696 2324l26 3 32 2M1402 1719l20-1 20 1 20 3 25 17 20 13 16 9 16 7 16 6 16 4 12 1 12 0M3393 2097l68 7M2163 830l26-43 15-21 10-12 10-10 11-9 10-6 15-7 15-2 11 0 10 1 15 6 15 8 10 7 11 9 15 17M3781 2369l20-1"/>
<path d="M1091 2223l51-2 46-3M1607 1756l74-153 41-93 46-100 23-47 28-54 32-59 32-53 14-20 19-24 18-20M2335 1175l27 16 28 19 27 23 28 25 46 48 74 85 55 60 55 54 32 28M3696 2324l27 6 33 6 49 7 59 3 54 1M1338 2072l36-3M2152 840l22-28 18-18 18-15 18-10 14-5 18-3 18 2 18 7M2570 1313l18 43 18 38 18 36 18 31 22 33 18 23 23 22 13 11M3559 2229l18-5 23-6 13-2 23-1M844 2305l42 0 29-2 30-3 60-8 60-12 36-10 30-9M2179 1289l18 3 18 4 18 7 12 5 42 25 59 41 42 27 18 10 18 8 30 10 12 3 24 2 12 1 24-3 36-7 72-20M3568 2236l30 10 54 14 66 13 42 6 47 5 42 3 54 1"/>
<path d="M3263 1967l33 9 51 11 56 7 46 3M842 2343l27 0 27 2 26 4 40 7M1904 1711l20-23 27-34 27-36 27-40 46-76 74-126M3801 2424l47 12 40 6 34 3 40 0 33-2 33-4 127-21 34-4 33-3 34-2M1870 1246l22-55 27-60 18-34 18-30 17-24 18-19 9-7 9-6 18-9M1046 2299l20 0"/>
<path d="M3491 2183l5 0M3545 2219l34 3 61 2M709 2411l55 1 104 9M3401 2104l27 16 22 9 27 8 17 3 11 0M1837 1835l35-52 21-34 31-60 25-57"/>
<path d="M1804 1887l19-24 9-15 9-16 14-28M2067 940l23-108 24-97 28-102 23-73 14-38 10-22 9-19 14-25 10-13 9-10 9-8 10-4 9-2 9 1 10 4 9 6 10 9 14 17 14 21 9 16 19 38 28 66 28 74 42 118M2620 1381l24 83 28 88 24 62 9 21 14 28 14 23 14 19 14 14 10 7 14 8 14 5 19 1 14-2M1146 2416l39 3 27 1 49 0 28-3 27-5 28-7 27-11 11-4 33-19 22-16 16-14 17-15 27-29 33-40M3466 2163l49 17 44 12 22 4 39 6 27 3 38 2M1854 1279l54-151 36-91 13-30 19-38 13-25 18-30 18-25 14-15 18-15 13-7 14-4 9-1 9 2 13 5 14 8M2341 1172l45 72 41 58 31 37 23 23 18 16 13 11 18 11 23 11 23 8 18 4 22 3 36 4M3550 2222l14 0M1029 2425l56 14 46 8 25 2 30 1 26-2 25-4 20-4 31-11 25-11 25-14 26-17 35-29 46-45"/>
<path d="M2073 936l21-72 25-78 25-70 16-40 21-43 17-27 17-19 8-8 8-6 9-3 8-2 8 1 9 2 12 9 8 7 9 10 21 31 16 31 17 36 29 73M3272 2284l36 34 36 26 10 7 31 17 36 16 21 8 36 11 26 6 31 6 51 5 31 0M1394 1992l45 2M3433 2379l14 7 18 8 14 5 22 7 41 6 23 0M961 2197l40 2 44 7 73 16 54 10"/>
<path d="M2324 763l10-12 11-10 20-15 11-6 16-3 10-1 10 2 21 6 11 4 15 11 26 23 26 31 26 38M3549 2407l31 17 21 8 21 7 21 5 26 3 36 1 42-3 26-4 42-9 73-18 36-7 32-4 31-2M1934 1133l30-58 30-49 26-34 10-12 20-19M3282 2292l20 20 20 19 20 18 16 11 30 20 25 15 21 9 30 12 20 6 21 5 35 7 20 2 31 1 25-1 36-3 25-4M1261 2103l14 0 24 2 28 6M3274 2284l28 29 38 32 15 10 28 17 24 11 15 6 19 7 28 6 38 5 43 2M2508 811l16-1 13 2 8 3 17 8 21 17 9 9 12 15 17 23"/>
<path d="M1227 2138l29 1 33 4M1680 2076l28-33 24-31 33-50 38-61 52-87 42-68 33-52 19-31 28-49 24-44 23-46 14-31M3590 2251l28-4 19-2M3519 2203l17 1M1843 1822l13-7 26-19 21-17 22-21 17-20 13-17 25-38 9-16 17-34 30-68 30-78 21-62M2322 766l17-28 17-24 17-19 18-14 8-5 13-6 17-3 17 0 13 3 17 10 17 15 13 14 17 23 17 28 17 31 22 44 17 39M704 2397l82 2"/>
<path d="M904 2382l15 1M3628 2277l20 3 31 1M872 2330l106 1 28-1M2237 1225l51-11 28-3 28 0 33 4 39 9 45 15 34 14 44 21M3619 2274l67-5 45 0M918 2366l34-1M2388 1175l11 8 23 12 45 16"/>
<path d="M961 2314l30 1 35 6M2489 800l15 7 20 12 20 15 15 14M3738 2426l31 2 36-1 37-4 105-15 31-3 26 0M1515 1899l42-65 23-33M3236 2256l33 27 14 10M1563 1771l8-1 15-5 15-9 11-8"/>
<path d="M712 2411l29 1 36 2 117 9 35 1 17 0M3629 2279l23 3 53 2M755 2354l30 2 36 6 37 10 48 16M1009 2426l43 12 30 7 30 6 31 3 36 1 36-2 37-5 30-7 18-6 31-12 30-16 30-20 31-26 24-23 30-33 18-22M2330 1175l98 60 77 39 54 26M3756 2353l71-1 38 0M929 2320l33 1 55 5M3741 2344l5 0"/>
<path d="M1071 2242l57-1 31-2M3125 1775l47 59 31 42 26 38 31 49M867 2337l30 0 88 4M1941 1122l20-41 25-47 19-33 25-37 25-32 24-28 20-18 25-18M2437 1192l54 47 55 43M3586 2248l51 6 121 4"/>
<path d="M1438 1958l32-3M2066 1458l28-29 45-56 23-33 27-43 27-51M2426 779l18-31 23-32 18-21 18-14 9-4 9-3 9 0 10 0 9 3 9 5 13 10 9 9 14 16 18 28 19 33 18 38 18 43 23 61 18 52 23 72M1961 1089l26-51 18-27 9-12 13-16 22-20M3258 1964l12-3 17-2 16-1 17 1M2172 827l27-62 26-54 22-39 18-25 13-16 9-9 8-7 18-13 13-7 9-4 9-1 9-1 8 1 14 3 8 4 14 8 13 10 17 16 18 20 18 24 13 20 17 31 27 56 22 56M2762 1617l22 67 22 59 22 53 17 38 27 52 17 31 31 49 35 51 22 29 31 36 49 48 39 36 27 20 22 14 17 8 22 7"/>
<path d="M556 2411l43 2 50 5 44 7 107 20 62 9 50 4 38 2 69 0 37-3 32-3 43-8 25-6 38-11 31-12 38-16 31-16M3103 1736l25 28 25 26 94 87 19 20 38 48 131 179 38 46M3710 2330l19 3 25 2M1151 2196l19-1 22-4 32-10 23-10M3423 2126l22-3 23 0M562 2412l37 1 36 3 43 5 91 14 30 4 49 5 30 1 30 0 43-3 48-8 43-10M3542 2216l18 3 37 3 67 2M1014 2289l44-2 45-5M1459 1969l50-78 44-67 35-49 39-53M2602 1362l30 42M3518 2202l25 1"/>
<path d="M1265 2082l10 0 28 2 47 6M2401 770l33-33 14-12 10-7 19-10 14-4 14 0 14 3 10 5 14 11 14 14 14 19 14 23 15 26 14 31 14 35 14 38M2988 1989l19 31 23 34 24 28 24 25 14 14M1873 1240l32-86 32-77 22-47 14-25 14-22 14-19 13-17 14-15 14-11 14-9 18-8 14-3 9 0M1324 1849l20-1 15-3 29-8 30-12 44-23 19-4 20-5 34-14 45-21 29-19 15-11M3674 2311l35 6 19 1 25 2 78 2M3410 2111l56-24 23-9 19-6 14-3 14-2 14-1"/>
<path d="M2012 1528l37-29 37-33 27-29 21-29 11-16 10-18 22-40 15-34 22-50M2389 768l10-21 16-27 16-24 16-18 11-8 10-5 6-2 10-2 5 1 11 3 5 3 11 7 16 17 16 23 10 18 11 21 21 47 32 84M3435 2135l21 6 29 5M1510 1830l26 1 15-1 15-3M3871 2395l146-15 46-3 36-1M2304 765l14-5 23-5 9-2 18 0 18 2 23 6 27 12 23 13 13 10M2840 1754l32 87 28 65 31 64 14 24 14 21 22 29 14 13 14 11 27 18 14 6 27 9"/>
<path d="M1138 2148l50 1 85 6M3467 2165l49 8 39 3 14 0M1143 2148l24-1 19 1 86 8M1072 2228l103 2"/>
<path d="M2172 824l23-52 14-26 19-31 18-26 23-24 14-10 9-5 19-8 9-2 9-1 14 1 14 4 14 5 14 9 18 15 28 30 23 29 18 29 14 23 14 26M3475 2172l60-7 28-1M762 2355l38 1 21 2 118 15M922 2309l48 1 64 4M2304 768l16-12 11-5 10-4 11 0 11 3 10 5 6 4 10 10M2566 1303l21 81 21 76 22 71 16 47 16 42 21 48 16 31 16 27 16 24 21 26 32 33 43 39 69 58 32 28 54 44M3696 2324l26 2 27 1"/>
<path d="M1108 2260l23-1M706 2388l53 1 64 6M3575 2244l82-17 29-3 24-1M1184 2193l35-3M901 2384l12 0M2134 859l11-16 18-20 12-10 11-8 18-8 12-2 17 2M3554 2410l23 8 29 6 29 4 30 1"/>
<path d="M1152 2178l35 1 40 6M2127 1368l25-7 25-5 34-3 25-1 40-2 25-3 30-7 20-6 29-14 20-11 15-11 40-30 40-35M2768 1092l10 7 10 8 10 11 15 19 25 36 30 49 30 55 34 69 45 93 65 140 20 38 44 84 55 99 60 103 29 48M1250 2063l23-2 23-6 19-7 27-16 33-22 18-15 28-24 42-40 69-56M2537 1271l28 60 18 37 19 35 23 38 19 27 23 29 23 24 23 20M3486 2183l37-8 33-6 32-3 28 0M1440 1921l24-2 19 0 14-3 10-2M3771 2362l90-1M3210 2233l20 30 25 34 35 40 25 24 35 28 30 21 35 17 20 8 30 9 20 5 15 2 55 6 30 0 50-3 35-5 45-8 60-15"/>
<path d="M3781 2426l56 14 69 11 42 4 21 2 35 1 42-1 48-3 49-5 77-12 83-14 42-6 42-4 35-1M1065 2212l129 1M3510 2197l31 0 114-9 52-2M1868 1783l13-14 34-42 18-23 21-34 17-30 26-48 35-71 22-50M2326 761l26-60 26-55 22-40 17-25 22-25 9-8 8-5 9-3 13-2 9 2 8 4 9 5 9 8 8 10 9 11 17 29 22 46 22 55 25 75 22 70 22 77"/>
<path d="M2069 938l29-63 17-33 12-20 23-34 17-19 12-10 11-8 18-7 11-1 12 1 12 4 17 9 11 9 12 11M2868 1799l34 74 35 67 23 41 29 44 29 35 23 25 35 32 52 45M3724 2336l35 0M1111 2195l43-3 31-3 22-3 26-6M2978 1972l22 44 26 45 13 20 22 30 22 26 30 33 31 26 30 20 31 15M964 2340l22 1M3240 1941l24 1 33 6 41 3"/>
<path d="M1316 2083l41 0M1725 2009l18-15 14-13 23-25 27-37 32-51 18-32 32-63 31-68 46-101M2388 767l9-9 14-11 18-10 9-3 9-2 14 0 9 2 9 4 9 5 13 11 19 21 22 34 14 24 13 27M3244 1947l20-1 25 1 89-5 40 0M3593 2416l33 6M1243 2103l23-1 17-3 12-3 23-8 23-11 23-13 23-16 23-17M3678 2429l23 6 29 7 29 5 29 4 41 2 46-1 35-2 40-5 35-6 98-17 41-6 40-4 35-2"/>
<path d="M1862 1794l51-72 21-31 31-50 41-73 26-50 21-44M2651 914l20 18 21 22 21 26 20 31 31 52 26 48 21 42 25 56M1185 2200l14 0 13-3M2150 842l35-46 13-15 22-22 13-11 14-9 8-5 18-8 22-3 22 1 9 2 13 6 18 12 9 8 13 15M2568 1305l26 102 31 113 18 59 18 55 13 36 13 33 18 38 17 32 18 26 17 19 18 15 13 8 13 5 14 4 30 7 31 3 22 5 22 8M1149 2210l24 1 19 2M1642 2128l13-9 13-11 18-18 17-21 18-25 17-29 18-34 13-28 18-42M2204 820l27-89 26-78 13-33 13-31 22-42 18-27 13-16 9-7 13-9 9-4 13-3 9 1 9 1 13 6 22 16 8 8 9 10 13 17 9 13 18 30 17 36 14 29 22 55 17 50 13 41 27 86"/>
<path d="M770 2371l57 2 95 8M2817 1716l23 56 17 39 28 56 17 28 28 41 22 27 17 17 11 10 23 16M2109 1400l51-53 107-130 28-31M1210 2160l35-3 30-4M2181 1288l15-7 21-8 25-6 30-2 41 2 71 10 30 2 15 0 15-2 16-4 25-8 30-15M2763 1085l10 4 16 12 10 10 10 12 25 36 20 34 16 28 35 73 30 69 31 73 50 129M3745 2347l51-2M3770 2365l40-10 34-7 34-6 34-2"/>
<path d="M1891 1203l31-87 42-110 32-78 26-60 26-54 21-39 16-25 10-15 11-14 10-12 11-10 10-8 11-6 10-5 11-2 10 0 16 4 11 6 10 8 11 10 10 12 26 36 16 27M2494 1232l16 29 37 63 58 91 63 101 47 80 31 55 84 144 53 82 42 60 37 46 26 27 16 15 52 45M3250 2266l48 49 47 41 16 12 21 14 31 16 16 7 16 5 21 5 21 3 15 1 32 0 47-6M1229 2071l36-1 40-6 25-5 71-16M1083 2225l32-2 45-7 40-11M2638 1413l49 102 28 50 27 47 22 37 18 26 27 37 23 27M3300 2013l86 2M3407 2113l42-2 33-1"/>
<path d="M2243 794l25-49 24-41 29-40 25-28 16-13 8-6 8-5 17-7 12-3 8-1 17 0 12 3 12 4 17 9 16 12 21 20 16 20 21 30 28 48 33 66 17 37 28 70M996 2308l54-2M3342 2331l22 16 32 20 27 14 27 11 27 9 28 6 32 5 38 2M3640 2285l28 0M3557 2229l46 0"/>
<path d="M1914 1692l94-85 54-49 207-195 118-106 71-59M3563 2232l35 5 36 2 106-1 35-2 48-1M1241 2399l34 2 30-2 20-2 35-6 30-11 20-10 14-9 10-7 20-15 20-19 15-16 15-19 15-20M3480 2177l50 10 45 4M980 2426l59 13 17 3 24 3 41 1 35-3 23-4 23-5 41-15 24-9 23-11 35-20M2214 807l18-37 11-22 18-28 17-23 18-17 23-16 12-4 12-1 11 1 6 2 12 6 18 14 11 12 18 23 23 34 29 51M1094 2123l42-4 46-8 42-11 37-13 50-24 37-21 111-71"/>
<path d="M3525 2207l47-4 42 0M1882 1755l35-35 34-37 21-27 35-50 21-36 26-49 26-57 21-52M2358 766l13-14 13-10 8-6 13-6 13-3 13-2 17 2 13 4 13 7 13 9 13 12 13 14 25 33 30 49M3413 2115l30 7 21 4 30 2M3443 2144l132 5M2301 769l8-9 16-17 17-13 12-8 12-6 12-4 13-2 12-1 29 3 12 2 29 10 32 17 21 14 32 27 21 21 28 36 17 24 28 48 13 24"/>
<path d="M2001 1034l25-43 16-22 15-18M951 2337l40 2M1268 2392l33 0 34-5 29-8 22-9 28-17 29-19 28-24 28-28M3796 2373l40 2M962 2425l44 9 32 5 33 2 27-1 32-5 27-7 27-10 22-11M2250 788l16-22 16-19 27-27 17-14 16-10 11-5 10-3 17 0 10 2 17 8 10 8 22 20 16 21 11 16 22 41M738 2403l39 1 32 4 96 16 51 6 32 3 33 1 51-2 57-6 84-11 57-11 45-10 45-13 32-13 32-16 32-22 26-21 26-26 25-29M3623 2274l25 4 39 12 38 17 90 40 32 12 26 8 25 6 39 6 32 3 45 1"/>
<path d="M806 2387l96 0M1425 2327l30-17 24-17M2135 1354l30-12 66-26 36-16 24-14 18-12 42-33 67-62M3163 1835l49 61 48 57 24 32 48 60M3687 2318l48 14 42 9 42 6 30 2 30 1M1064 2132l51-3 41-5 36-5 36-8 41-10 46-15 41-15 30-13M2180 1291l36-35 31-27 36-27 25-18M3640 2283l25 4 15 1M1151 2218l39-2M3385 2089l89-18 80-10 70-5 75-1M1237 1981l48-3 64-7 36-4 40-10 59-18"/>
<path d="M1069 2238l14 0 23 1 19 3 23 5M3403 2108l19 1M1420 2330l29-3 45-10 21-5 20-8 17-7 25-14 12-8 25-21 24-25 13-15 33-48 16-28 17-31 28-63 21-51 16-46 21-63M1972 1075l24-120 50-216 33-133 28-102 25-74 12-31 9-18 12-24 12-19 9-10 12-10 8-5 8-2 13 1 8 4 12 9 13 13 8 12 12 21 17 32 20 48 25 62 41 108 33 81 21 47 20 43M2811 1705l25 75 20 57 13 31 20 47 8 17 17 32 16 27 9 11 20 26 13 12 16 13 12 8 25 13 37 14 8 4M2468 1213l42 39 33 28M3550 2222l32 5M1195 2083l22 2 30 6 27 10 39 20"/>
<path d="M1064 2293l19 0M3490 2183l38-1M1234 2142l56 2M1045 2275l39-4 22-3 22-5M1303 2131l11-15 28-42 33-59 38-77 50-111 27-54 28-52 27-49 44-72 38-55 28-35 27-33 44-72 22-32 28-38 22-27 33-36 27-26 11-8 11-7M2149 1328l28-1 27-6 22-9 28-16 21-17 22-19 88-87M2731 1569l55 150 22 55 22 51 17 36 27 54 17 29 16 26 22 31 22 28 17 18 16 15 22 17 11 7 55 30 33 20M3824 2382l28 1M1389 1986l12-1 28-5 29-8M2394 768l13-5 8-2 16-2 16 2 12 4 13 6 16 13 16 18 12 16"/>
<path d="M1342 2096l65-105 20-31 35-51 40-43 90-83M2719 1551l25 74 30 82 30 77 15 35 16 33 25 51 35 62 25 38 15 21 20 25 25 27 20 17 25 18 25 17 25 15 55 36 40 23M2316 766l16-31 21-34 15-21 16-16 15-10 16-6 20-2 11 3 10 5 16 11 15 16 21 29 15 27 21 43 16 35 20 54M1371 2359l31-2 27-6 26-12 27-17 31-27 13-13 14-16 22-29 31-47M2306 765l22-13 9-4 13-4 18-3 18 2 22 7 31 17 18 14 13 13M2524 1258l39 79 38 74 34 59 33 53 29 42 38 48 29 33 34 31M3210 1901l24 4 19 0 10-1 38 3"/>
<path d="M1347 2082l13-1M2244 790l18-13 22-11 13-4 13-2 18 1M3525 2207l31 2 49 1M1178 2127l38-3 25-4 29-8 19-7 34-13 29-14 34-18M2101 1411l97-128 53-68M2389 1176l51 28 23 11 22 10M3835 2385l5 0M1576 2207l15-10 25-20 25-25 20-25 25-36 20-34 15-29 20-42M2292 774l25-28 15-14 10-7 15-8 10-4 15-2 10 0 15 5 10 5 15 10 15 12 15 17 10 12 15 21 10 16"/>
<path d="M1423 2328l36-16 48-25 54-33 55-38 30-25 36-34 18-20 30-38 30-43 18-30 30-57 25-50 42-101 66-175M2465 794l12 0 18 3 12 4 18 9 18 13 13 10 18 18 18 20M3767 2363l30-7 30-6 18-2 18-1M3717 2334l61-5 40-1M1094 2214l79-1 20-1M1885 1748l27-30 28-27 76-66 22-20 22-22 22-25 32-41 22-31 17-26 38-67 27-52 76-153M2671 947l22 16 22 21 16 17 27 34 17 23 16 25 27 45 28 48 54 102 44 85 49 99 49 104 33 62 22 44 49 106 38 88"/>
<path d="M1147 2217l25-2 26-6M1236 2151l26-1 18 1M1862 1793l30-48 35-60 31-59 22-45M3454 2154l18 1M1112 2080l81-5 48-4 39-5 34-8 28-8 34-13 34-19 24-16M2145 1342l86-53 39-28 48-38 58-50M1214 2157l61-5M2424 1184l48 51 69 83 44 51 34 36 31 28M3146 1808l30 32 26 22 22 14 22 10 17 5 18 9 13 5 35 10 30 6 78 10"/>
<path d="M2434 1190l13 21 22 31 18 22 21 24 18 15 17 11 14 6 21 8M926 2344l49 1M2668 942l15 9 14 10 10 9 15 15 15 17 10 13 24 38 15 25 15 28 24 52 35 80 29 75M1080 2146l42 0 47-3 33-3 24-3 28-7 14-4 23-9 28-13 28-16 29-20M2365 1174l32 12 28 15 24 16 14 11 23 21 33 36 33 41 28 39 33 49 70 109 38 55 37 51 33 38M1433 2321l16-9 15-10"/>
<path d="M2305 1185l46 10 64 16 16 3 51 7M3222 1917l13 12 16 13 42 28 17 10 17 8 17 6 17 5 29 6M2399 1175l26 32 25 29 18 17 34 29 21 14 34 18 18 6M3498 2190l75-5 46-1M3818 2382l62 4 47 4 62 8 108 15 41 4 41 2 41 1 41-1 129-9 61-2"/>
<path d="M3675 2311l55 1M1868 1780l45-58 36-48 49-74 31-52 31-56 18-33 27-54M3023 1577l17 30 63 96 107 172 80 125M3499 2190l23 8 27 7 17 3 27 4M771 2380l51 2 62 8M2124 868l17-37 11-22 12-18 16-24 17-19 12-11 17-11 11-5 22-4 17 0 34 8 23 9 17 10 16 11 12 9M3167 2198l17 25 28 36 39 45 34 31 17 13 17 12 17 9 17 7 22 7 12 2 17 3 11 0 34-2M2190 814l10-7 9-5 10-3 10-2"/>
<path d="M1581 1801l55-116 45-90 27-57 32-63 23-41 32-55 22-36 23-32M1406 2339l13-2 13-3 21-8 13-7 26-18 22-18 17-18 17-21 17-23M2786 1117l21 36 30 58M1006 2208l23-2 23-3 23-5 23-7 28-13 23-12 23-14 29-19 29-22 34-29 195-174 40-30 23-20 29-28 22-26 23-28M2330 1176l86 36 57 26 40 21 29 19M3390 2357l46 30 40 20 23 9 29 10 17 4 23 5 46 6 22 1 41-1 40-5 80-11M1370 1989l73 3M3832 2385l39 0"/>
<path d="M960 2273l25 2 25 5 24 8 35 14M1937 1130l25-62 24-54 20-35 20-31 15-18 10-10 14-12 20-10 15-2M3106 2138l30 45 34 47 15 17 20 21 20 17 24 17 20 12 15 6 24 8 35 4M1032 2426l34-2 22-3M2058 1464l33 11 22 5 11 1 34-1 22-5 17-7 11-7 28-20 11-11 22-24 23-29 22-33 22-37 28-49 45-84M2665 938l11 8 17 16 17 20 11 16 28 47 33 66M2308 764l9-12 14-16 9-8 9-6 9-5 9-3 14-1 9 1 14 5 4 3 18 14 9 9 10 10 13 17 18 28M1369 2361l41-15 37-20 23-14 36-30 28-26 18-21"/>
<path d="M2189 1279l90 29 30 7 25 5 15 1 25 1 25-2 25-3 85-14 35-2 15 1M3074 1681l55 70 40 48 45 52 50 53 30 35 35 37 20 19 30 27 25 18 30 20 30 16 30 13 25 8 45 11 20 3 30 2M1400 1962l13-2 21-4 43-14 9-4M3544 2217l26 7 26 5 13 1M2144 847l16-25 17-22 17-17 11-9 11-7 16-5 17 0 16 6 17 9M942 2309l36 2 37 3 20 2"/>
<path d="M2310 765l19-24 12-12 19-17 12-7 7-4 16-5 15-1 23 3 16 5 11 6 12 7 23 19 19 20 27 32 19 26 12 17 31 50M1247 2398l22-2 17-3 18-5 13-6M2278 779l39-50 17-20 17-16 13-9 18-8 13-2 17 2 17 6 13 7 13 11 18 20 21 34 18 33 17 39M2802 1688l26 56 34 64 18 27 26 36 13 17 30 36M2072 1449l50-27 15-9 15-11 20-16 14-14 20-21 30-37 25-36 30-48 30-51M3615 2269l35 3M1332 1994l55-2 60-6M2425 777l17-8 13-3 13-1 8 0 9 2 17 7 12 9 9 7 17 18 17 24 17 30"/>
<path d="M1007 2307l43 0M2947 1428l49 93 48 98 71 137M3678 2316l60-4 38-1M2140 853l13-21 13-18 9-10 13-13 13-8 13-6 8-2 9 0 9 0 4 1 18 7M3074 1680l28 30 24 22 24 18 16 10 17 8 16 6 16 5 24 3 24-1 41 13 36 7M3501 2193l110 0"/>
<path d="M3518 2204l51 0M3227 1922l36 17 30 18 41 28 30 23 36 31 41 41 90 95 53 54 30 26 36 27 18 12 17 11 24 12 24 9 18 6 24 6 18 2 23 2M1527 2259l21-5 25-11 26-17 17-17 12-14 13-16 12-19 21-37 22-43 29-69M2323 764l17-15 17-12 13-7 17-6 21-3 21 2 17 4 16 8 13 9 13 10 21 22 29 36 30 44M1934 1660l76-106 96-138 80-124 25-40M2574 860l25 3 25 9 21 11 25 18 25 23 20 23 25 32 20 30 21 33 25 47 35 71 20 44 50 119 61 157"/>
<path d="M1474 2296l24-3 14-3 14-4 15-6 24-15 19-16 14-15 10-11 14-19 24-40 24-46 33-74M2162 836l28-97 24-71 15-39 14-36 19-42 10-18 14-24 9-14 15-17 9-9 10-6 9-4 10-1 9 1 15 6 9 8 10 9 9 12 10 14 24 43 24 54 24 64 19 58 33 114M3288 1998l31 34 27 23 26 20 18 10 22 9 23 7 17 2M2142 1346l22-15 17-12 17-16 23-22 17-19 23-29 34-48M1389 1999l27-2 27-5M1763 1947l9 0 23-4 18-5 18-6 22-13 9-6 18-15 23-24 18-22 13-20 23-38 13-25 23-49 18-43 18-47 27-75 54-163M3637 2282l27-3 27 0"/>
<path d="M711 2398l65 2M3679 2314l23 0M1270 2392l23-2 29-6 28-8 19-7 23-12 33-22 14-11 28-25M1909 1172l28-86 23-66 19-49 24-56 23-50 24-43 18-30 10-13 14-16 19-18 18-11 10-4 14-2 14 1 9 2 10 4 19 11 23 20 24 25M1001 2273l40-2 34-3 28-5 34-8M2179 1288l74-15 57-10 46-5 40-2 28 0 40 4 40 8 40 12M3733 2341l52 3 125 2M737 2309l34-1 33-2 50-6 16-3 34-7 38-10 105-30 45-11 44-8 22-2 17-1M2404 1179l72 50 50 31"/>
<path d="M1055 2289l37 1M1675 2084l18-17 14-15 28-34 14-20 32-56 13-28 19-42M2171 825l14-23 23-32 14-17 13-15 14-12 19-12 13-6 14-4 23-2 9 0 14 4 18 8 14 9 19 17 18 20 14 18M3384 2090l18 1M3321 2038l19 3 27 1 45-2 53-5 34-1 16 1M1994 1554l88-67 22-18 33-30 38-42 28-37 16-24 17-28 32-59 33-64M2383 769l19-20 12-10 19-14 12-7 13-5 12-3 12-1 7 1 18 5 13 6 18 14 19 18 18 22 13 18 18 29 19 34 37 77M3543 2407l44 22 31 12 25 7 43 9 31 4 56 4 81 2 62 0 111-4 37-3 38-4 31-6 37-8 105-29 31-7 38-7 31-2"/>
<path d="M1082 2270l41-1M3751 2351l99 9 58 5 76 3 69 0M1067 2260l31-1 40-5M729 2398l51 2M2038 981l15-39 20-47 20-41 11-18 10-17 15-22 20-24 15-14 11-7 15-8 15-4 15-2 15 3 21 9 15 9 20 17M914 2211l19 1 19 2 19 4 19 4 48 16 81 32"/>
<path d="M998 2234l22 0 37 4 86 16M2973 1967l11 20 16 27 27 39 26 33 16 17 32 30M2188 1281l28 11 24 8 33 8 28 4 19 2 42 0 19-1 66-9 52-16 42-16M787 2280l20 1 20 3 30 7 36 13 65 26 31 10M2763 1620l36 86 25 56 30 60 21 35 10 16 20 30 15 20 10 12 15 17 16 15 25 18M3360 2067l10 0M1252 2095l37 2 20 2 26 5M3868 2394l21 0"/>
<path d="M1258 1835l24-2 25-4 50-11 54-18 25-9 25-11 20-1 34-2 25-6 20-7 25-11 14-8 25-15M2085 1432l20-14 20-12 34-17 30-11 40-11 19-2 40-2 54 3 80 3 69-5 55-5 54-2M3556 2225l40 17 34 14 40 13 30 8 39 8 20 2 30 2M1266 2393l25-1 29-3 34-8 25-10 14-7 15-9 25-17 29-25 20-19 4-6M1055 2216l22 0 31 2 31 5 32 7M3301 2018l26 3M2207 1259l28-19 27-15 22-12 32-14 28-11 43-13M3750 2351l27-1"/>
<path d="M949 2360l10 0M2170 833l29-79 25-59 24-52 20-34 20-29 20-21 10-9 9-7 10-4 10-3 10 0 10 2 10 4 10 5 14 13 20 23 25 37 20 36 24 55 25 65 20 60M2727 1564l20 65 19 57 20 53 25 59 24 50 30 51 30 43 24 33 30 33 30 29 29 24 45 32 39 31 123 118 45 40 44 33 25 15 19 11 15 7 35 13M3679 2316l10-1M3598 2259l49 9 27 1M1111 2245l21 2 15 2M3486 2394l16 8 21 8 16 5 21 5 32 3 31-1"/>
<path d="M3428 2131l34 2 58 0M2153 1328l24-20 15-10 23-15 15-7 14-6 29-10 47-15 62-23 48-22 14-8M3112 1751l43 64 33 46 24 30 33 37 48 50 24 23 24 20 24 18 19 13 23 13 24 10 34 12 43 10 38 4M1235 2136l26-3 22-5 17-5 22-10M595 2403l34 1 41 5 35 7 109 26 35 6 29 4 35 3 34 1 35 0 41-2 75-8 46-7 162-24 75-14 70-19 57-20 41-17 35-19 29-19 17-14 23-21 23-24 35-45 23-37 23-39 35-67 46-99 93-217 104-249M2555 847l23 4 24 10 17 9 29 22 23 22 23 27 12 14 29 42 34 59 35 65 150 318 47 92 40 75 23 37 23 34 29 41 99 133 40 58 64 104 29 44"/>
<path d="M1580 2203l23-10 14-7 13-8 14-11 14-11 9-10 18-22 9-13 23-36 27-52 28-64 22-60M2118 878l27-56 14-24 13-21 9-12 14-14 14-12 9-6 13-5 9-2 14 0 9 2 23 9 36 24M1135 2101l62-3 169-20M2169 1304l20-17 21-15 40-26 67-35 15-9 57-28M3734 2342l15 0M3599 2258l37-15 41-14 36-8 16-2 16-1M1298 2130l9-1M1694 1604l56-135 43-99 21-47 26-52 30-55 26-42 26-36 17-19 9-8M2352 1174l26 12 30 10 21 7 39 8"/>
<path d="M1602 1766l81-203 58-159 36-92 23-52 18-40 18-36 18-34 22-37 23-33 27-31 18-17 9-7 9-5 9-4 9-2 9-1 13 1 14 6M2501 1237l54 97 86 165 67 124 54 94 54 87 14 20 31 44 27 34 18 20 27 27 9 8 27 18 9 5 9 4M3230 1927l31-21 23-9 27-7 22-2 9 0M468 2400l63 2 118 11 63 4 69 1 62-2M2742 1589l19 35 44 77 18 31 38 56M998 2308l29-3 15-3 15-4 29-11 34-19M2380 765l10-3 14-3 30-2 19 2 15 3 9 5 25 15 19 17 10 10 15 18 19 27M3178 2208l20 24 19 21 29 26 25 18 14 9 20 9 24 10M861 2363l37 1 49 4M3958 2406l68-2"/>
<path d="M1323 1868l12 1 17 5 21 11 16 12 13 11 16 17 25 28 17 21M1667 2094l17-19 12-16 8-13 17-29M2359 764l25-23 16-12 33-19 21-6 8 0 13 1 12 5 13 7 12 10 13 14 16 23 13 20 16 32 25 58M2356 765l14-11 9-5 14-6 14-4 28-2 18 3 14 4 14 7 14 8 32 28 23 24 19 21 37 48M3544 2217l64 2M3775 2364l28 7 45 6 27 3 62 1"/>
<path d="M765 2377l56-2 61-6 46-8 41-10M1654 1676l26-57 41-96 51-117 51-108 36-69 41-72 20-33 16-22 15-20 15-17 21-20 15-12M2728 1566l51 115 51 105 36 64 31 50 35 51 21 26 25 30 31 29 51 42M2651 915l22 11 10 7 16 15 21 25 22 31 21 37 21 43 27 61 26 68M3638 2284l38 12 31 8 22 3 26 2M2328 762l15-9 15-5 20-3 15 1 15 6 20 11 15 12 15 15M2742 1586l20 50 20 43 20 39 29 52 20 30 25 33 35 44 35 41M3663 2303l45 1M1323 2043l27-2 27-5 40-13M3580 2243l41 4"/>
<path d="M599 2400l29 1 35 4 35 7 87 23 41 9 41 7 40 3 29 0 24-1 46-5 29-6 23-6 24-8 23-9M1180 2204l25-2M1094 2203l116-5M3367 2344l20 14 21 13 21 11 20 9 36 13 37 9 36 6 31 2 31-1"/>
<path d="M1653 2113l19-18 42-47 47-53 48-57 57-74 37-55 19-30 29-46 52-97 99-207 43-86M2533 828l19-1 9 2 10 3 19 9 19 14 19 21 19 26 19 31 18 36M3243 1942l19 13 66 56 29 21 19 12 23 14 24 10 19 7 38 8 38 3 42-1 81-7 19-1 14 1M1891 1208l27-101 36-123 27-90 24-69 20-53 23-53 12-22 8-13 8-12 11-14 8-8 12-8 8-5 8-2 12 0 8 1 7 3 12 7 20 17 16 19 15 22 36 55 16 23M2199 1268l14-2 20-6 19-7 30-14 44-26 54-39M3654 2297l19-3 20-1M2229 1236l30-21 15-10 25-14 21-10"/>
<path d="M1114 2172l36 0 52-3 67-13M3655 2299l57-5 41-2M879 2337l110 0M803 2385l72-2 53-4M2659 926l24 30 19 28 24 40 24 44M2269 783l16-29 22-33 17-22 16-18 16-12 17-8 16-3 11 1 17 6 22 14 16 15 11 12 22 31 16 27 17 31 22 45M3502 2398l28 14 27 13 38 15 17 5 27 6 28 4 33 3 32 1 44-1 28-3 27-4 49-11 94-26 33-8 38-6 33-3"/>
<path d="M1241 2078l121 4M3633 2282l121-16 31-3 35-1M1341 2060l45 0M1967 1080l23-49 22-44 18-31 18-27 18-23 22-22 14-10 8-6 14-6 9-3M3242 2260l18 18 31 28 18 13 32 21 26 13 14 6 18 6 13 3M771 2390l23 1 28 4M2081 922l28-70 16-35 23-40 22-33 28-32 22-21 23-15 11-6 17-8 17-5 22-3 11 0 17 3 17 7 11 6 11 9 11 11 17 20 28 41 22 40M2814 1710l33 73 39 80 28 52 23 36 22 32 11 13 17 17 11 9 17 11 22 11M1285 2115l36 1M2369 766l10-6 10-4 20-5 26 1 15 4 10 4 11 6 15 12 20 23 15 20M3773 2362l61-8 30-2 20-1"/>
<path d="M725 2376l43-2 49-5 43-7 43-11 55-18 55-23 123-55M2337 1177l24 18 31 27 37 38 73 80 49 46 25 21 24 17 31 18 37 18M1001 2282l45-3 26-3 52-8M3832 2423l39 3 45 2 84-1 78-4 155-12 71-3M1139 2246l13-1M1150 2166l83-7 42-7M2261 1203l16 11 21 17 104 96 37 29 42 26 36 18 37 12 62 16 37 7M3723 2336l94-1"/>
<path d="M3874 2396l17 0M1065 2239l11 0 23-2 35-7 28-8 34-14M3676 2429l17 2 23 2 45-1 40-3 120-14 63-3M1172 2203l32-1M3699 2325l42 6 48 4 101 1M1411 1944l13-2 9-3 17-8 31-18 22-17 21-23 26-32 27-37 30-48"/>
<path d="M788 2375l37 0 43-3 55-10 49-12M2329 1178l18 6 31 13 36 19 25 14 43 29 61 43 36 25M3599 2416l17 7 27 9 33 7 22 3 28 2 33-1 27-2 33-4 110-20 33-6 33-3 33-2M1149 2209l32-3 23-5M3434 2135l55 1M284 2414l45 1 50 5 158 25 38 4 45 4 44 1 44 0 44-4 38-7 26-6 31-8 25-9M2314 1180l38 16 31 17 51 30 88 57 64 36"/>
<path d="M2542 1276l23 46 17 31 23 38 35 49 23 27 18 19M3580 2414l23 7 23 6 23 3 23 2 47 0 29-2 35-5M907 2321l24 1 36 4 36 8M3428 2376l24 19 24 16 19 9 24 11 36 12 24 5 30 4 18 2 42 0 42-4 54-9 103-21 36-7 42-5 36-2M1468 1959l70-163 40-88 26-54 35-67 18-30 26-42 35-68 22-38 35-58 40-58 31-42 35-45 26-30M1222 2005l21 1 16 3 21 5 16 5 62 24 16 4 21 4"/>
<path d="M974 2426l37 5 32 3 42 0 27-3 26-3 32-7 31-8 27-10M2119 878l40-102 39-94 26-56 13-25 14-22 13-21 13-17 17-20 13-12 9-6 18-9 13-4 9-1 8 0 14 3 17 8 13 9 18 17 13 14 13 17 22 35 13 24 13 28 26 62 27 74 26 86M2759 1612l26 96 13 43 18 52 13 35 13 32 13 27 13 23 9 14 13 17 18 18 13 11 22 11 17 7 44 10M3201 2227l39 56 22 27 18 18 13 13 22 17 17 12 22 13 22 10 31 10 17 4 31 5 13 1 27 1 21-2 31-4M1192 2410l19-1 24-4 20-6 24-9M3307 2024l44 10 39 6 38 5 54 2M3755 2353l10 0"/>
<path d="M1915 1170l20-66 15-46 15-42 20-52 25-56 15-28 15-23 15-18 15-14 10-7 15-5 10-1 10 0 15 6 15 9 15 13M2979 1975l20 38 10 17 15 23 30 40 35 41 20 22 40 36 20 16 40 28M928 2327l83-1M2350 1172l21 21 26 23 26 19 15 10 21 10 26 10 31 7 26 5M2316 1181l27 10 27 5 27 1 18-4 18-4M3447 2150l18 2 54 3M1638 2127l10 0 31-6 26-9 21-11 25-24 11-11 20-29 16-26 10-21 16-34 15-39 16-44 15-48 31-108M2087 915l21-71 26-77 25-64 21-42 21-36 10-15 10-12 21-21 15-10 11-4 10-3 10 0 11 1 15 4 11 5 15 11 10 9 16 17 21 30 20 36 36 74 21 50M3554 2224l77 2"/>
<path d="M1350 1987l73-4 30-3M3800 2376l49 0M2395 769l21-34 22-28 11-11 11-9 16-11 11-4 10-2 6 0 11 1 10 4 11 5 6 3 16 13 21 23 28 36 27 43 27 48 27 53 32 67 38 83 32 75M3481 2394l27 12 16 5 22 7 22 5 21 3 27 3 38-1M1016 2300l52-2M655 2413l176 1M2179 1290l26-10 33-10 13-3 45-6 20-2 32 1 33 3 20 4 26 8 19 7 33 15 26 15 39 27 52 39 39 31M3098 1725l104 123 58 73 92 139M3879 2397l104-1"/>
<path d="M1760 1959l28-42 32-56M1366 2005l12-2 8-3 12-6 20-13 24-22 37-41 24-30 40-56 48-71 68-96M2516 1252l44 50M3139 1797l36 36 40 36 20 15 28 20 25 20 32 23 28 16 28 13 20 6 24 5M3798 2375l49-5 43-3M1106 2193l18 1 28 4 24 5 18 7M1534 2253l23-15 28-21 14-12 37-37 38-45 37-51 19-28 60-97 51-91 42-77 33-63 32-66 33-71M3303 2016l23 20 14 9 19 11 23 10 14 5 23 5 37 6 28 1"/>
<path d="M1053 2274l21 0 48-5M3747 2348l10 1M1901 1187l27-73 32-73 12-24 23-43 20-30 12-16 16-19 15-16 24-20 12-8 20-11 39-16M2871 1804l35 67 40 71 15 26 24 36 20 25 20 22 31 30 16 13M1095 2229l23-4 23-6 18-7 23-11 19-11 27-20 18-15 23-21 37-38 32-37 46-57 77-103 115-121 32-37 27-33M2202 1265l41-7 41-13 55-15 28-6 36-3 28 2 13 3 19 4 18 8 14 7 36 22M3718 2333l87 3 52 0"/>
<path d="M2154 842l25-51 10-18 15-25 19-28 15-17 15-15 15-10 10-4 10-4 19-1 15 1 15 6 15 10 5 4 20 22 20 27 19 33M3193 2223l20 22 25 24 29 25 25 19 25 15 30 15 29 13 35 12M1018 2267l35 0 65 3M1287 2077l29-2 20-5 14-4 30-13 24-13M2445 1196l34 38 93 112 53 59 20 20M910 2352l60 1"/>
<path d="M3787 2371l110-2M2211 811l20-42 20-36 10-16 15-22 10-13 25-29 10-10 15-13 15-11 15-6 10-3 9-1 10 1 15 3 25 12 10 7 10 8 15 16 15 21 20 33 25 51 20 47 20 54M677 2404l32 1 32 4 39 6 103 22 32 5 45 3 26 0 26-2 19-2 39-10 32-11M1914 1696l19-19 13-15 26-35 13-20 26-43 13-23 45-90M3892 2398l78-2M3325 2041l111 3 22 1"/>
<path d="M1136 2210l60 0M3541 2216l55 6 31 2 80 4M898 2386l13 0M1710 2033l19-25 26-38 19-32 12-24M3613 2419l26 11 25 9 32 9 38 6 57 3 44-2 51-7 38-7 95-21 38-7 45-6 38-2M2418 773l18-16 18-12 14-7 9-2 18-2 9 1 14 4 14 7 9 5 13 12 19 20 13 18 18 28 9 16 32 62M803 2355l63 3 85 8M3547 2220l34 2 125-3"/>
<path d="M1935 1659l32-33 18-23 19-26 18-30 19-33 32-65M2377 765l13-14 14-12 14-8 18-9 14-2 9-1 14 3 14 5 9 6 19 15 13 14 14 17 9 13 19 29 32 59M1064 2236l106-4M3476 2393l24 13 23 12 24 10 29 10 30 7 29 6 30 4 41 3 59-2 53-6 53-10 94-22 36-7 41-6 35-2M812 2393l18 1M3622 2275l34-3 38-1"/>
<path d="M1076 2257l25 1 29 6M2424 780l20-14 15-9 15-7 15-5 14-1 15 1 10 3 10 5 10 6 15 14 15 17 9 14 20 35 15 31 10 24M2943 1913l30 60 15 25 14 24 25 34 15 19 30 33 34 34 15 13M3526 2208l40-9 14-2 20-1M700 2389l29 2 29 6 29 8 76 25 23 7 36 8 29 4 29 0 23-2 18-3 17-4 18-6 17-7 18-8M2119 880l23-60 23-49 18-30 17-24 18-19 12-11 11-8 12-7 12-6 11-4 18-4 35-5 23 1 24 6 17 9 12 8 23 21 24 29 11 18 12 21 17 38M2703 1524l17 49 18 44 17 38 24 45 23 35 23 30 12 12 23 22 18 14M1225 2033l54 1 49 3 33 0 33-3 22-4M2351 767l17-18 11-10 16-12 11-6 21-6 11-2 17 2 11 3 16 10 11 9 16 17 11 14 11 16 11 18 16 30 16 34M3314 2315l44 38 38 30 22 14 32 19 33 14 33 11 43 11 22 3 27 3 38 2 49-3 27-3 66-11 108-26 33-7 38-6 38-3M914 2294l154 4M1964 1608l11-10 30-35 42-54 20-31 26-39 21-34 66-117"/>
<path d="M1166 2162l35 1 53 6M3376 2084l31-3 22-1M921 2424l26 5 45 6 26 2 26 0 26-2 19-3 33-8 19-7M2101 895l26-42 26-34 13-14 20-16 19-12 13-4 13-2 20 2 19 7M3678 2428l33 5 19 1 20 0 38-3 39-8M3899 2402l71-24 39-11 39-7 39-3M1208 2083l36-3 23-4 19-4 36-10 28-10 32-13 41-21M3530 2208l18 2M1044 2306l5 0M2363 764l24-19 14-8 9-4 19-4 9-1 10 1 9 3 9 5 14 11 19 20 19 28 18 37M3392 2095l28 5 14 0"/>
<path d="M1227 1909l38-8 34-10 34-15 30-16 17-11 34-23 50-42 22-9 25-14 34-20 25-17 64-47 38-34M514 2400l31 1 38 6 51 11 69 18 44 9 38 5 37 3 38 0 38-2 144-16 32-2 38-2 81-1 63-4 32-5 31-9 13-4 38-17 31-20 25-19 38-34 31-33M1986 1564l50 0 19-3 13-3 19-9 12-9 19-17 13-15 19-28 12-22 25-54 32-79 44-126M2477 796l19-5 12 0 13 2 19 6 12 6 19 14 25 21 13 13 19 20 19 23 25 34 19 27 25 39 25 41 19 33 25 47M3691 2321l38 2M1971 1080l21-70 25-81 21-58 20-51 21-45 20-38 21-30 5-6 15-16 11-8 10-6 15-4 11-1 10 1 10 3 10 4 21 12 20 18 26 27 31 36M3151 2180l31 56 15 25 21 29 30 39 21 21 26 23 25 19 16 10 15 8 20 10 26 10 16 4 30 7 21 2 25 2 26 0 41-4 41-8 41-10M1447 2311l22-7 13-5 22-13 22-16 22-21 18-20 18-22 22-32M1887 1745l44-39 26-26 18-20 13-16 22-32 22-37 22-44 22-51 31-81M2393 768l13-3 13 0 18 2 13 3 17 9 14 8 17 14 13 12M3246 1946l17 10 40 34 44 44 44 46 31 31 26 25 18 14 26 17 22 12 9 4 18 5 22 3"/>
<path d="M1852 1810l50-57 56-67 44-56 25-34 25-37 32-48 50-84 125-222M3889 2398l50 5 56 1 195-6M3547 2220l30 3 26 1M895 2375l39 0M1218 2148l22-2 23-4 27-9 23-11"/>
<path d="M1240 2116l19 0 55-5 13-2M2156 1323l62-9 50-11 37-11 43-16 50-20 31-11 30-9 19-3 19-2M3177 1857l44 44 43 42 105 123 37 42M3877 2419l56 9 49 6 56 4 43 0 50-1 24-2 186-18 62-3M3506 2193l16 5 29 5M816 2297l102-2 64-4 59-6 76-12M2271 1199l27 0 32 4 81 15 37 6 43 3M3533 2211l27 1M2123 1374l14-3 13-5 23-11 17-11 27-23 18-18 27-31 54-67 27-31M2881 1296l32 60 40 85M3541 2216l18 1"/>
<path d="M2391 1175l25 19 25 15 21 11 33 13M3159 1830l13 4 12 3 30 1 21-3 29-9 96-4 58 1M2323 761l18-19 17-13 18-7 18 0 8 3 14 6 13 10 9 8 18 20 8 11 14 21M1354 2078l9 0M2184 817l17-25 18-20 9-8 14-10 9-5 13-6 14-3 18 0 18 3 9 2 17 7 18 10M2892 1831l22 59 18 40 23 44 18 29 9 12 13 16 18 17 22 15 23 11M1328 1990l20-3 37-8 32-10 33-15 28-17 20-15M2984 1983l24 43 16 25 17 21 20 24 12 13 24 24 17 13"/>
<path d="M856 2373l87-1M1110 2147l24-1 49 2 59 6 29 2M2272 1200l19-9 25-9M3561 2230l86-5 43-1M1792 1905l20-29 15-24 31-52M3704 2328l77-5 72-3"/>
<path d="M1080 2258l58-5M970 2209l42 2 37 5 48 10 57 15M729 2366l30 1 36 5 42 7 46 11M3226 1922l15-1 21-4 41-2 51-1M3390 2094l14 6 14 5 19 5 19 3"/>
<path d="M1328 2079l34 1M3772 2363l10 0M2413 775l15-19 20-23 15-14 15-11 15-6 15-1 10 1 15 7 15 11 15 17 15 20 15 25 10 19 20 42 30 75M3474 2393l10 4 20 5 20 4 20 2M1289 2388l36 1 19-1 22-2 14-2 14-3 23-9 18-8 18-10 18-14 18-15 19-18 13-15 19-23 18-26 18-28 14-23M1886 1212l23-72 23-66 27-72 23-51 23-45 18-30 23-33 23-26 13-12 14-11 32-19 27-10 32-8 46-5 27-1 51 4 27 6M3407 2109l63 3"/>
<path d="M1061 2281l47-3M1147 2222l19-1 19-2M3451 2154l61-7 42-2M2235 1227l10 1 40 7 94 27 39 7 25 1 20-1 29-5 30-8M649 2387l62 2 112 6M2715 1019l21 15 20 21 20 25 26 40 31 57 30 63 31 70 26 63"/>
<path d="M1036 2188l120-5 88-8M2096 1418l26-22 21-15 31-20 57-30 114-54 47-27 67-45M3617 2271l37 6 36 2M1877 1766l22-18 23-20 41-40 18-21 23-28 27-40 32-55 22-44 19-40 22-55 37-94M2430 778l23-15 27-12 18-5 14 0 9 0 23 5 13 5 9 5 19 12 22 20 14 15 9 12 18 25 18 29 18 32 19 36 22 49 18 43 23 57M3642 2288l41 3 68 0M875 2370l68-1M2452 789l20-12 24-11 20-4 19 0 10 1 9 3 20 8 19 13 15 13 19 21 20 26 19 31 19 33 25 48 14 30 20 44 24 59M3297 2012l34 8 14 2 10 0M1259 2083l39-1 19-1 53-6"/>
<path d="M2322 1179l31 27 31 23 26 14 15 7 21 7 25 3 26-2 26-4M1282 2048l19-2 15-3 19-6 20-10 38-26 34-29 63-61 39-41 29-34M1873 1237l34-74 29-59 24-45 24-40 25-35 29-35 24-24 15-11 19-13M2648 1424l97 307 24 72 25 67 24 60 29 62 24 44 24 37 25 31 24 25 19 16 15 10 14 7 39 14 48 15 59 24 24 9 24 7 29 7M3714 2331l20 3 24 2M1954 1623l22-20 29-28 29-32 34-42 41-54 34-48 80-119 29-41 34-47M3911 2415l69-4 51-1M3743 2346l31-1 46-4 123-15 31-2 31-1"/>
<path d="M1317 2080l17-1 17-2 21-5M1868 1251l50-144 39-96 21-47 12-25 17-31 17-26 22-27 12-13 13-10 17-8 13-3 8 0 13 1 12 5 13 6 9 6M2613 1375l38 73 26 44 17 26 25 35M3673 2310l95-3M1487 1936l114-235 49-95 33-59 43-90 38-72 33-56 33-50 32-43 17-19 11-10M2858 1783l22 40 33 55 27 42 27 37M3740 2344l27 4 33 4 33 3 38 1M1385 2353l16-3 13-4 12-4 25-13 17-12 12-10 17-17 17-20"/>
<path d="M794 2393l35 2M1042 2425l35-1 34-1 70-7 34-7 23-5 12-4 23-9M2282 784l24-47 23-43 17-29 17-23 18-18 11-8 12-4 5-1 6 0 12 1 11 5 6 3 12 11 17 22 11 20 18 37 17 45 12 34 17 57M3678 2314l64-3M3868 2396l45-9 83-18 32-6 39-5 38-2M1360 2364l21-1 30-6 22-7 17-8 17-10 17-12 18-13 26-25 34-39 30-39 13-18 43-66M2131 866l26-65 30-65 30-54 21-32 13-17 18-22 21-23 26-25 17-14 13-8 13-6 9-3 17-2 13 2 8 4 13 8 13 9 13 13 9 11 13 20 8 15 18 36 21 54 26 79 21 75M719 2386l68-2 74-5 30-5 31-6 43-13M1094 2286l19-13 30-25 43-37 49-47 80-78 56-51 43-34 30-21 13-7M3669 2306l123-6 68 0"/>
<path d="M1068 2258l44-2 29-3M2208 1257l39-16 53-19 34-14 34-17 24-15M3522 2205l25 0M1153 2193l23-1 19-3 18-5 24-6M3407 2108l23 5 28 5 51 4 28 1M1094 2259l19-1 23-2M1537 2250l39-27 33-26 33-32 27-32 33-47 27-48 22-45 33-77M3899 2400l82-3"/>
<path d="M1126 2256l10 0M2387 765l14-6 14-3 19 1 9 2 14 7 14 10 14 13 14 17M3083 1699l25 18 25 13 24 10 25 5 15 1 20 0 24-4 20-6 40 5 5 0 34 1M1371 2000l25-4 13-4 12-5 13-6 33-21M3153 2186l13 13 12 12 21 17M1306 2082l24-2 38-6M3724 2336l49-1"/>
<path d="M1262 2132l40 0M2494 805l24-13 12-4 20-3 16 1 12 4 19 9 20 15 12 11 16 18 24 31 20 30 20 32 27 49 36 70 28 59 64 145M3259 2274l24 23 11 10 18 13 18 12 11 7 24 12 47 18M3449 2150l60-1"/>
<path d="M847 2368l44 2 43 6M1152 2415l19 0 25-3 18-4 19-6M3852 2390l50 2 124-2M1893 1732l26-19 30-25 46-42 30-32 56-68 26-34 35-50 51-77 45-72 82-134M2700 993l15 14 21 22 25 31 20 29 16 23 30 52 41 77 40 83 51 110 51 117M1474 1950l37-62 42-65 89-128M2775 1638l47 117 21 48 21 44 36 70 27 43 26 39 16 21 21 25 15 17 16 15 121 105 47 37M3793 2373l67-3"/>
<path d="M935 2355l31 0M3450 2149l36 9 36 6 52 4M1110 2193l60-3 32-3 28-4M667 2400l26 1 37 4 114 20 47 6 32 2 26-1 26-1 31-4M1949 1109l37-88 36-79 32-55 10-16 16-21 20-22 11-9 15-9 11-4 16-2 10 0 16 4 15 7M2684 1493l31 58 32 53 26 42 26 37M3289 2000l20-3 21 0M1203 2185l27-2M3439 2141l17 5 23 3"/>
<path d="M873 2346l105 1M3493 2185l28 17 44 24 17 7 22 9 16 4 28 7 22 3 22 2M913 2342l45 3 20 2M883 2330l51-1 34-2 34-3 22-4M2673 1471l34 87 28 67 34 70 22 40 23 34 17 21 11 13 17 17 11 10 23 16 11 7M3729 2339l11 1 28 1M632 2346l38 2 38 6 44 11 45 13 50 14M3456 2387l25 12 25 10 26 8 32 7 31 5 26 2 25 0 25-2"/>
<path d="M2961 1458l43 69 38 65 140 218 19 28 29 39 53 64 19 21 19 18 10 8 29 19 29 14 19 6 24 5 14 2M1148 2182l26-3 21-4 13-4 26-9 30-14 22-11 17-10 17-11M2204 1260l26-6 21-9 22-10 21-14 22-15 38-31M3320 2037l21 3M1495 1837l29 4 33 1M3869 2394l67 2M1167 2129l22 1 36 2 67 10M1923 1151l45-95 36-70 18-32 22-37 14-20 18-25 13-16 14-13 18-15 8-5 14-7 18-4 18 1 9 2M2743 1588l54 127 31 67 36 69 18 32 22 36 27 39 18 24 18 20 13 13 23 19 9 7 22 14 18 10"/>
<path d="M3538 2215l46 1M3832 2386l49-12 33-6 32-5 33-1M920 2316l64 0 48-1M3581 2245l42-5 22-1M1953 1101l15-26 19-29 19-25 9-11 10-8"/>
<path d="M348 2400l39 2 39 7 32 7 98 25 58 12 33 5 32 3 78 4 71 0 33-1 45-3 46-5 39-6 39-8 32-8 45-15M3645 2289l20 0M2385 772l9-14 18-26 30-41 18-19 17-13 18-9 9-3 13 0 8 2 14 4 17 11 22 21 13 16 13 19 27 43 26 52 17 39 31 74 31 83 22 66M1274 1958l35-3 27-4 36-7 31-7 31-10 27-11 27-8 13-6 22-12M3380 2085l170 6M2672 947l15 14 24 28 25 33 20 30 24 42 15 28 50 103"/>
<path d="M3820 2383l26-4 26-5 124-28 42-6 21-2 20-1M738 2408l30 0 41 4 120 15 42 4 30 0 42-1 36-3 47-7 48-8 114-23 48-11 36-10 29-11 36-18 30-20 18-15 24-23 18-19 12-14M3727 2339l42 1 24 0M901 2329l108 0M1764 1948l31-16 20-13 21-15 25-22 21-20 20-23 20-26 26-35 15-23 31-51 41-74 214-415M2489 801l10-8 10-7 16-8 10-3 10-1 21 3 10 5 15 10 15 14 21 23 10 15 15 23 21 36 25 47 72 144M2938 1410l41 75 41 79 66 131 36 75M1175 2190l30-2 21-2M2207 810l17-31 17-26 17-23 17-19 17-16 25-16 17-7 17-3 17 2 9 3 8 3 21 13 26 23 17 19 21 28 13 20 17 29M2823 1724l17 40 21 46 17 32 17 28 21 28 13 14 12 11 13 10M3277 1985l25 6 22 3 21 0"/>
<path d="M1526 1884l35-69 65-132 55-107 50-104 36-68 25-45 40-66 20-30 30-41M2795 1673l75 191 25 62 30 68 25 52 25 46 25 38 20 25 35 38 51 43 25 20 35 25 20 13 40 22 20 11 30 14 45 17 25 7 25 6 30 5 30 3M901 2383l17-1M955 2335l41 1M2204 1263l35-11 18-6 59-27 58-29 30-14M3917 2402l35-1M2327 765l20-22 10-9 15-13 20-11 15-5 25-3 15 1 10 3 20 11 10 7 14 14 15 17 15 22 15 24 15 28 20 42M2940 1909l25 46 15 23"/>
<path d="M655 2400l115 1M1467 1959l49-69 48-71 49-76 60-103M2292 1186l97 30 79 21 54 19M1169 2182l46 2 13 1M1202 2408l43 14 32 8 22 4 32 3 33-2 11-1 16-4 21-7 27-14 27-18 27-24 27-30 22-28 27-43 16-28 32-63 17-36M2438 784l16-2 11 1 22 5 16 7 16 11 11 9 11 12 16 20M3707 2329l43 1M987 2332l14 0"/>
<path d="M1124 2237l40-2M927 2374l11 0M1376 2068l86-110 46-49M1152 2166l28-4 32-7 41-17 37-20 41-28 32-24 32-27 36-35M518 2414l51 0 90 4 51 0 45-1 45-5M2115 1389l103-95 58-51 45-38 45-35M3623 2274l45 3 58 0 70-1"/>
<path d="M1119 2092l37-4 31-8 36-15 27-13 36-22 37-25 140-106 36-19 27-17 27-18M2402 1179l27 13 27 12M1237 2172l12-1M1017 2309l26 0M2221 800l13-24 12-21 13-18 16-20 9-8 17-12 12-6 17-4 12 2 13 4 8 5 13 9 8 8 17 19 12 17 21 32M3107 1743l17 11 8 3 21 6M1052 2293l27 1M3317 2033l14 3 18 3 46 3"/>
<path d="M1416 2331l27-1 30-3 26-6 26-9 26-13 13-9 22-17 17-17 22-25 17-24 18-29 17-32 18-36 21-49 35-88M2225 801l26-44 26-38 17-23 31-35 17-16 17-11 13-6 13-2 13 0 9 2 9 3 13 5 17 11 18 16 21 27 18 26 26 44 26 52 26 56M669 2381l120 2 59-2 40-5 20-3 53-14M2130 864l13-23 20-31 20-26 13-14 13-13 13-10 14-7 13-5 13-2 7 0 13 2 14 5 19 10 14 10 6 6M2621 1383l33 83 46 110 40 82 34 60 26 42 20 28 33 42 40 45 33 33 33 31M3325 2322l19 17 20 15 34 20 13 7 26 10 20 4 27 5 33 2M3955 2406l60-7 46-3M2381 766l18-16 40-28 22-13 17-8 9-3 18-4 13 0 13 1 14 4 13 6 13 10 18 16 9 10 13 18 18 27 22 41 18 39 22 56 22 63 18 56M1165 2188l30 1 25 2M1548 2239l39-3 25-6 30-13 15-8 25-19 20-19 24-29 30-42 25-41 25-47 25-54 20-46 44-115 70-195"/>
<path d="M1261 2134l41 0M1067 2209l30-2 26-5 25-7 20-7 26-10 45-24 36-24 25-19 40-34 41-35 71-65M3600 2259l56 1M884 2309l28 1 28 3 29 5 39 10M3626 2277l91-5 62-2M3824 2382l33-2 37-1"/>
<path d="M999 2323l21 0M2370 1174l27 21 26 23 38 37 58 61 59 56 37 32 32 25M3661 2301l37 6 27 1M1987 1053l32-64 31-58 31-48 14-18 22-26 13-14 18-15 18-12 13-6 18-5 14-1 18 0 18 3M1474 1715l21 9 13 3 14 1 21 0 18-3 13-4 26-13 21-16 26-24 18-21 17-22M867 2387l33 1M2422 776l22-17 22-13 16-8 16-6 17-2 16 1 22 7 16 10 16 15 17 19 16 24 16 28 17 33 16 38 16 41 17 45M3026 2030l32 61 44 72 32 47 33 40 27 25 33 23 16 9 16 5 17 5 21 2 22 0M3558 2231l22-6 22-5 22-4 21-1"/>
<path d="M733 2326l122-3 181-9M1124 2238l34 1M3755 2354l57 2M1134 2231l39-3"/>
<path d="M532 2393l35 3 35 6 29 9 87 27 52 13 53 8 64 5 81 3 47 0 81-2 52-2 47-6 41-7 29-6 40-13 41-17 35-16 58-30 64-36 52-35 35-30 18-17 17-20 29-40 23-37 18-32 23-48 12-26 29-71 17-46M2148 845l24-41 29-45 29-37 17-19 12-11 17-15 12-8 29-17 17-9 6-3 18-5 11-2 18-1 11 1 18 4 17 5 18 8 11 8 12 9 17 18 12 14 17 24 24 39 23 47 29 69M1130 2253l9 0M2256 787l19-22 9-9 23-20 14-10 9-5 14-6 13-3 10 0 13 2 10 3 9 4 14 9 18 15 14 15 18 23 9 13M1014 2306l40-1M1647 2120l18-12 11-10 17-17 23-27 17-23 23-37 23-42 28-59 17-41M3700 2428l29-2M1125 2227l25-1 29 0"/>
<path d="M940 2335l29 1 23 3M905 2351l23 1 39 5M3704 2329l62-7 52-2M1223 1966l55-5 51-7 38-7 30-8 34-13 30-15 12-5 17-9 26-15 25-20M718 2405l27 1 28 2 43 5 71 11 66 7 44 1 27-2 27-3 33-6M2050 961l17-30 21-37 22-34 17-22 11-13 11-12 10-10 22-15 11-5 11-3 11-1 11 1 11 4 11 4M2498 1232l44 96 82 169 43 83 44 79 60 99 33 46 27 37 33 37 22 22 38 34 22 17 32 23M3497 2190l11 0"/>
<path d="M957 2319l35-1 41-1M3536 2214l40-10 35-6 45-5 16-1M812 2383l38 0 58 3M3906 2401l161-7 39 0M1135 2175l38-2 37-6 43-9 23-7M3412 2114l33 10 33 8 33 6 38 3"/>
<path d="M1614 2163l19-10 15-10 10-8 10-9 14-16 20-25 19-29 20-36 24-51 30-69M3347 2058l31 6 44 5M1158 2138l100 3 35 0M3828 2423l47 4 59 0 59-3 101-10 41-3 35-1M2224 1240l33-23 61-36"/>
<path d="M3446 2148l88 25 46 12 25 4 30 4 29 2M856 2366l51-3 58-8M3412 2114l47-2 47 0M2140 852l14-21 17-26 13-17 14-15 26-25 18-11 17-7 9-2 18-2 26 2 13 2 13 5 18 8 17 12 18 13M2897 1840l17 39 18 35 13 24 22 36 18 24 13 14 22 21 22 17M2249 1216l50-21 41-19M3267 1971l95 96 51 49 55 47 25 19 20 13 21 12 25 12 25 11 35 10 20 3 26 2"/>
<path d="M2461 791l13 1 14 4 18 11 14 11M1078 2174l37 2 15 2 37 6 47 10M3406 2110l38 5 43 2M768 2373l32 0 64-3 58-4 32-3M1692 1608l115-285 45-107 45-99 32-61 19-32 19-28 20-22 13-11 12-8 13-6 7-1 6-1 13 1 13 4M2282 1193l45 51 25 25 39 33 45 32 96 58 32 20 51 41 26 22 19 19 39 40 32 36M3731 2426l45 4 45 0 39-3 122-12 38-3 26 0M981 2327l24 2M1199 2407l12 3 24 2 19-1 18-3 18-6 12-5 18-10 18-12M2344 761l24-34 12-14 18-19 18-14 12-7 13-6 12-2 12-1 6 0 6 2 12 5 18 12 12 13 12 15 19 26 18 32 12 25 24 55 18 47M3621 2420l13 7 30 12 36 10 24 4 31 2 42-1 48-6 37-8 97-30 36-9 30-5 31-2"/>
<path d="M1209 2140l40-2 44 3M3330 2045l36 2 111 1M1242 2038l35-2 49-5 40-8 27-9 27-11 22-12M915 2380l11 0M3797 2374l18 0"/>
<path d="M1355 1849l28 1 18 2 37 5 23 5 18 10 14 5 19 6 13 2M1134 2194l41 2 32 3M3727 2338l37 3 26 0M1366 1969l98-3M3728 2337l14 0M651 2404l59 2 106 10 36 2"/>
<path d="M1240 2125l50-6 36-7M3505 2194l27 4 32 3M2352 762l13-18 18-21 19-16 13-8 18-9 19-4 13 0 9 2 9 4 14 8 14 11 18 19 18 26 14 22 13 25 14 28 23 53M3033 2041l13 20 28 36M2217 804l12-15 16-18 16-16 8-6 20-13 28-10 8-1 16 1 8 3 12 5 17 11 12 12 12 14M2262 784l19-29 15-17 10-9 10-7 10-5 9-3 10-1 10 1 10 3 10 6 10 7 9 9 10 12 20 28M3418 2121l15 1 39 1 59 0"/>
<path d="M1295 2012l44 0 39-2 55-5M3563 2411l22 11 22 9 22 8 22 6 50 8 22 2 27 0 39-1 49-5 66-11 77-15 39-7 44-5 44-2M3509 2195l5 0M2291 774l24-40 27-41 19-25 16-16 19-14 8-5 8-2 19-4 8 0 12 3 15 7 20 16 15 18 20 28 19 35 20 41 19 44 23 60M1218 2183l15 0"/>
<path d="M1962 1089l23-54 20-42 32-59 28-44 19-27 24-29 24-23 23-20 24-14 20-8 20-7 23-4 20 0 20 1 28 6M1022 2233l57-1 45-3 39-5 23-4M3439 2141l59 2M3238 1939l48 9 31 4"/>
<path d="M1320 2109l9-1M1958 1617l32-39 26-37 27-40 36-59M3377 2082l4 0M1137 2250l9-1M429 2410l35 2 36 3 42 6 100 17 42 7 53 6 42 2 29 0 30-1 59-5 60-10 47-11"/>
<path d="M1006 2233l43-2 29-2 19-3 34-7 77-19M961 2281l103 1 40-1M3527 2208l34-3 87-11 49-2M3230 1930l31 8 9 4 44 19 13 7 48 23 31 13 22 8 17 6 35 8 22 3 26 2"/>
<path d="M3316 2316l26 26 16 14 38 28 26 17 27 13 27 10 43 11 21 3 21 1 43-1 27-3 32-7M3818 2381l32-8 32-7 32-4 26-2M2184 821l20-32 12-16 8-9 20-17 16-9 13-3 16-2 36 0 97 12 73-6 20 2 12 3 20 7 9 4 8 6 20 18 16 20 16 26 20 39 17 37 16 41M2321 1177l44 41 29 25 54 41 49 31 93 57 40 28M3560 2229l29 11 34 10 30 6 24 3 39 3M1472 1953l23-36 42-63 74-103"/>
<path d="M1182 2161l26-1 25-4 36-9 25-9M1445 2312l78-24 33-13 20-10 20-12 19-14 26-24 20-21 20-27 33-51 19-35 13-26 20-40 26-59 33-78 26-66M2723 1032l13 11 14 13 26 32 26 38 33 56 33 62 45 94 46 100 46 105M3700 2425l33 11 33 8 52 9 53 5 52 1 39-3 46-5 46-8 105-24 39-7 40-6 39-2M1325 2031l58 3 27 2M1804 1886l21-31 32-51 27-48 27-53M2347 762l11-4 16-2 16 0 11 3 10 3 22 11 21 16M3684 2429l27 4 32 4 27 1 37 0 27-3 37-6 80-17 37-7 32-4 27-1M1156 2202l19-1 19-3 24-7M1451 1978l24-33 76-99"/>
<path d="M425 2406l29 1 40 4 35 5 116 21 40 5 35 2 46-3 35-5 35-7 34-11M2906 1856l29 73 29 65 23 44 12 19 17 25 23 28 18 19 40 37 18 13 23 15 17 9 29 12M608 2407l63 3 106 13 32 3 37 1 48-4M1478 1946l42-54M1398 1899l33-3 33 0 33 5 21-1M1906 1179l33-85 33-75 29-56 12-22 17-24 12-16 13-14 12-11 16-11 13-5 12-2 13 1 12 3M2389 1174l17 13 20 13 21 8 21 5M3339 2330l12 9 13 7 37 17M1579 1804l29-52 39-66M3086 2112l19 35 39 64 30 43 14 19 25 31 29 31 29 26 20 14 24 13 29 13 15 4 24 5 25 2 39 0 88-7"/>
<path d="M1389 2379l31-1 32-5 12-2 32-11 24-13 19-13 20-17 12-12 24-29 16-22 16-26 16-28 19-40 24-55 20-50 16-43M3031 1594l44 67 40 68 35 67 32 66M3085 1703l24 25 17 12 20 13 12 6 12 4 16 4 20 2 16-1 16-3 25-6 16 2M1108 2275l5 0M3573 2239l14 1M3848 2389l255-3"/>
<path d="M1084 2254l33-1 25-2M3525 2205l24 3M2046 971l23-56 13-31 19-37 18-35 13-22 19-27 18-21 23-20 18-10 9-3 9-2 18-1 28 5 13 6 37 18 13 9 28 21M2911 1863l14 33 27 59 18 34 19 28 27 35 13 13 19 15 27 18M3758 2355l27-1M509 2403l41 2 41 6 40 8 94 22 58 11 58 8 58 4 58 0 58 0 29-2 53-6 40-6 35-8 23-6 47-16 23-9 47-21 52-26 46-25 64-37 35-23 53-37 23-19 29-28 23-26 23-29 24-33 29-49 17-33 23-48 18-38M2596 879l18-13 17-8 6-1 12-1 11 1 6 2 18 9 5 4 12 11 17 19 12 15 12 18 17 30 18 35 34 78 53 133 70 190M3591 2253l63-6 38-1"/>
<path d="M1018 2275l35-2 22-3 29-5 28-7M2205 1258l22-4 40-1 29 2 17 2 40 10 23 7 51 23 51 28 46 32 34 26 23 19 40 35 68 64M3476 2171l57 40 57 36 34 18 40 21 40 17 40 15 34 10 23 5 40 7 34 5 57 3M3490 2183l20 8 24 7 20 4 19 1M494 2407l31 1 31 2 156 21 44 4 44 2 87-1 69-4 93-6 38-5M2659 931l13 6 12 8 13 9 12 12 13 13 12 16 19 28 25 45 25 52 19 44 31 79M3581 2245l34 5 45 4"/>
<path d="M630 2402l37 2 42 6 37 8 106 25 37 8 26 3 37 5 37 2 37 1 36 0 64-6 15-2 43-9 15-5 27-9 31-14 32-18 26-19M1139 2417l38-1 43-5 22-5 27-7 22-7 22-9M3223 2244l21 22 16 15 38 30 32 22 27 16 49 25 49 20 21 7 27 6 22 5 32 4 38 0M3784 2371l27-7 27-5 21-3 27-2M2795 1134l13 22 21 41M3633 2282l35 0"/>
<path d="M3674 2312l130-2M918 2350l54 1M3661 2302l26 4 32 2 27 1M1417 1839l42-1 46 14 19 2 24 2M3316 2031l15 4 27 5 23 2"/>
<path d="M568 2397l59 1 113 9M3527 2209l59 0M1002 2427l51 8 26 2 30 0 26-1 30-5 21-6 25-9 15-7 16-10M3406 2108l36 3M2561 849l13 7 17 14M2158 1322l11-3 28-6 55-10 34-7 33-9 22-9 28-16 28-20 22-19 28-27M2725 1032l11 10 17 19 11 14 17 26 22 39 33 69M3882 2418l45 5 33 0 61-4 95-8 44-1"/>
<path d="M1652 1679l31-58 32-60M2251 1215l44-20 25-11 13-4 25-5M3979 2407l63 0M2188 814l18-34 19-30 18-26 14-16 18-17 14-9 18-8 14-4 14 0 14 3 14 7 18 15 14 14 14 18 23 35 13 24M2804 1691l23 50 23 46 18 34 28 46 27 42 19 26 23 29 23 25M874 2331l47-1 47-3 35-6 29-6M2150 1333l35 9 24 2 17 1 18-2 11-2 12-3 17-7 29-16 18-12 17-14 35-32 65-63M3263 2277l23 22 18 16 23 17 24 16 35 20 29 15 23 9 29 11 18 4 46 10 58 7 47 1M2159 1320l46-6 47-7 23-6 52-15 93-34 46-12 35-5M3979 2408l35 0"/>
<path d="M920 2346l61-1M3982 2407l18 0M1106 2258l27 0M1903 1184l26-62 27-56 32-58 26-41 16-21 16-19 27-26 21-14 16-9 11-4M2466 1205l31 79 80 206 43 102 21 46 16 31 16 28 21 33 16 20 21 23 21 17 22 13 21 8 21 4 27 0 37-4M3809 2378l10 0M1895 1732l28-34 19-24 23-33 24-35 23-39 29-51 37-75M2417 774l10-3 9-1 14 2 10 3 14 7 5 3 14 11 14 15M3078 1688l31 44 40 62 36 56 45 77"/>
<path d="M2150 841l44-79 22-35 23-30 17-19 18-15 18-10 22-6 13 0 9 1 9 4 9 4 8 7 18 17 13 18 14 21 17 33 18 36M2707 1532l177 379 40 79 13 24 22 37 18 24 13 15 18 16 18 12 17 8 27 9 18 3 22 2M3309 2024l35-28 22-14 22-10 18-5 13-1M1222 2123l28-3 24-6 18-6 24-9 19-9 47-28M3609 2267l19 0M1178 2186l29-1 24-2M2249 1211l72 69 43 38 34 24 14 9 20 10 14 5 24 6 10 1 24 2 14 0 62-6 29-4"/>
<path d="M2510 1239l61 141 31 64 30 60 31 52 15 23 21 28 20 24 15 15 11 10 20 16 25 16 16 8M955 2342l27 0M1278 2030l20 1 16 3 10 3 31 14 25 13M1941 1121l21-42 26-47 20-35 31-45 21-26 25-29 31-28 21-15M2939 1906l37 75 20 39 16 25 15 23 31 42 36 40 20 20 16 13 36 28 26 16 30 18M3439 2382l41 22 41 19 36 12 36 7 21 2 25 1 26-1 36-5 57-13M3897 2399l10 0M3749 2426l28 2 35-2 45-5 92-13 34-2 23-1"/>
<path d="M441 2402l35 2 43 6 36 7 93 22 50 10 42 5 43 3 36 0 36-2 85-8 64-11 79-15M3874 2398l28-7 79-22 43-9 35-6 29-1M983 2426l30 6 30 4 30 2 24-1 24-4 24-6 18-6 24-11M2299 770l12-12 12-10 6-5 18-10 18-7 12-2 6-1 18 2 12 3 18 8 6 3 12 8 18 17 12 14 24 35M3777 2368l30-8 24-5 24-3 24-1M1333 2377l23-1 18-2 19-5 19-6 32-14 37-24 9-8 19-14 18-17 28-31 23-30 14-21 28-49M2223 804l93-198 14-27 18-32 14-19 14-14 5-4 14-6 9-2 9 2 10 4 9 6 18 21 14 22 19 39 23 61 14 44 23 83 19 75M899 2342l38 3 33 7M2199 810l15-25 14-23 19-26 9-10 15-13 9-7 14-8 15-4 14-1 9 2 10 3 14 8 10 8 14 16 14 19 14 22M3291 2004l33 3"/>
<path d="M461 2400l51 1 59 4 264 26 30 3 51 2 52 0 36-2 30-4 22-4 22-6M3568 2412l22 11 30 11 29 8 22 5 29 6 30 3 36 3 45 0 44-1 58-6 52-6 117-20 44-7 45-4 44-2M533 2390l33 3 32 6 33 9 92 31 32 9 33 7 38 5 38 3 38 2 54 1 59-2 44-4 43-6 33-7 43-14 32-12 22-10 38-19M2218 802l11-18 16-23 17-19 10-11 11-9 22-14 43-24 54-23 17-8 27-16 16-8 11-4 16-3 16 1 11 2 11 6 11 7 16 16 22 30 16 29 27 61 22 56 21 65 22 72M2917 1871l33 108 21 64 11 27 16 38 17 32 16 26 16 22 16 17 17 14 27 16 11 4 10 2 22 1 27-5 27-7M1250 2137l29-1 25-3M2114 881l29-54 15-24 15-20 10-13 15-16 14-13 15-11 20-8 15-3 20 2 9 2 20 9 15 9 25 22M2993 1993l24 51 25 45 30 47 14 21 25 33 20 23 25 24 29 23 15 9 30 17 34 16 64 27 109 50 30 12 44 15 20 4 29 5 35 1M1303 2055l89-1M3221 2243l19 20 18 16 28 19 14 7M3655 2298l32-1"/>
<path d="M1000 2293l25-1 25-2 25-4 30-5M3504 2192l30 6 30 2M1875 1233l19-42 23-49 13-26 19-31 14-20 18-23 18-18 19-13M2389 1174l23 19 46 34 42 21 22 9M3372 2078l18 3M3952 2405l37-2 32 0M1265 2149l20-2"/>
<path d="M1377 1879l25-2 15-2 20-6 25-10 20-4 25-9 25-13 16-9 15-11 25-21M3584 2415l25 7 15 3 45 6 21 1 25-1 25-2 25-3M3916 2402l30-1M1091 2196l61 0 45-3 22-2M3891 2399l56-1M922 2315l25 0 39-2 59-4M2291 772l34-44 15-17 15-14 20-14 9-6 15-4 15 0 15 4 10 5 14 12 15 16 15 22 15 26 14 32 15 37M3163 1835l40 56"/>
<path d="M2323 1180l68 23 56 13 44 12M3855 2393l94-21 43-8 31-4 31-1M2143 1338l20 14 16 9 12 6 17 4 12 1 12 0 16-6 12-6 16-12 12-13 13-15 16-23 28-49 28-56 8-18M446 2405l37 1 36 5 37 6 73 17 55 10 49 7 43 3 43 0 42-4 55-10 55-15M3537 2214l30 0M3870 2394l110-7 44-1"/>
<path d="M783 2392l49 1M3488 2183l76-5 76-1M2160 1319l49-26 36-20 63-32 63-37 41-26M1004 2277l44 0 61 3M1852 1811l22-30 27-35 105-118 38-50 28-40 33-57 22-41 22-43 77-159M3673 2309l22 4 38 4 28 2 55 1"/>
<path d="M1204 2168l34 1 15 1M2620 884l15 8 20 15 19 22 15 19 19 30 15 25 19 38 20 41M1374 2358l21-2 20-3 31-6 42-15 30-14 21-12 15-11 31-23 21-19 21-21 10-12 31-40 36-54 26-43 31-58 25-51 36-77 21-47 41-99M3641 2285l36 13 36 11 31 8 31 5 31 3 26 0 108-1M1024 2276l33 0 52 2M3413 2118l24 1M1831 1844l14-5 32-7 56 1 18-1 19-4 14-6 9-6 14-12 18-21 9-14 19-35 14-32 14-36 18-58 19-65 18-71 42-179M2326 767l14-27 14-23 14-19 14-16 14-13 9-7 28-17 18-9 19-6 23-5 23-2 18 1 19 4 18 8 14 8 19 15 14 14 14 18 23 36 23 44 28 64 23 60 28 79 37 114 32 107M3210 2236l23 26 24 19 18 12 19 7M3659 2300l28-1"/>
<path d="M2455 790l13 0 8 3 13 6 12 7M1124 2205l16 1 17 2 32 9M3868 2395l33-1"/>
</g>
<path d="M127.7,1233.5L131.7,1233.5L135.7,1233.5L139.7,1233.5L143.7,1233.5L147.7,1233.5L151.7,1233.5L155.7,1233.5L159.7,1233.5L163.7,1233.5L167.7,1233.5L171.7,1233.5L175.7,1233.5L179.7,1233.5L183.7,1233.5L187.7,1233.5L191.7,1233.5L195.7,1233.5L199.7,1233.5L203.7,1233.5L207.7,1233.5L211.7,1233.5L215.7,1233.5L219.7,1233.5L223.7,1233.5L227.7,1233.5L231.7,1233.5L235.7,1233.5L239.7,1233.5L243.7,1233.5L247.7,1233.5L251.7,1233.5L255.7,1233.5L259.7,1233.5L263.7,1233.5L267.7,1233.5L271.7,1233.5L275.7,1233.5L279.7,1233.5L283.7,1233.5L287.7,1233.5L291.7,1233.5L295.7,1233.5L299.7,1233.5L303.7,1233.4L307.7,1233.3L311.7,1233.3L315.7,1233.3L319.7,1233.2L323.7,1233.2L327.7,1233.1L331.7,1233.0L335.7,1233.0L339.7,1232.9L343.7,1232.8L347.7,1232.7L351.7,1232.6L355.7,1232.5L359.7,1232.4L363.7,1232.3L367.7,1232.2L371.7,1232.0L375.7,1231.9L379.7,1231.7L383.7,1231.6L387.7,1231.4L391.7,1231.2L395.7,1231.0L399.7,1230.8L403.7,1230.6L407.7,1230.4L411.7,1230.2L415.7,1229.9L419.7,1229.6L423.7,1229.4L427.7,1229.1L431.7,1228.8L435.7,1228.5L439.7,1228.1L443.7,1227.8L447.7,1227.4L451.7,1227.0L455.7,1226.5L459.7,1226.1L463.7,1225.6L467.7,1225.1L471.7,1224.5L475.7,1224.0L479.7,1223.4L483.7,1222.7L487.7,1222.0L491.7,1221.3L495.7,1220.6L499.7,1219.8L503.7,1218.9L507.7,1218.0L511.7,1217.1L515.7,1216.1L519.7,1215.1L523.7,1214.0L527.7,1212.9L531.7,1211.7L535.7,1210.5L539.7,1209.2L543.7,1207.9L547.7,1206.5L551.7,1205.0L555.7,1203.5L559.7,1201.9L563.7,1200.2L567.7,1198.5L571.7,1196.7L575.7,1194.9L579.7,1193.0L583.7,1191.0L587.7,1189.0L591.7,1186.9L595.7,1184.7L599.7,1182.5L603.7,1180.2L607.7,1177.9L611.7,1175.5L615.7,1173.0L619.7,1170.5L623.7,1167.9L627.7,1165.3L631.7,1162.7L635.7,1160.0L639.7,1157.2L643.7,1154.4L647.7,1151.5L651.7,1148.6L655.7,1145.7L659.7,1142.7L663.7,1139.6L667.7,1136.6L671.7,1133.5L675.7,1130.3L679.7,1127.1L683.7,1123.8L687.7,1120.5L691.7,1117.2L695.7,1113.7L699.7,1110.3L703.7,1106.8L707.7,1103.2L711.7,1099.5L715.7,1095.8L719.7,1092.0L723.7,1088.1L727.7,1084.2L731.7,1080.2L735.7,1076.1L739.7,1072.0L743.7,1067.7L747.7,1063.4L751.7,1059.0L755.7,1054.5L759.7,1049.9L763.7,1045.3L767.7,1040.5L771.7,1035.7L775.7,1030.7L779.7,1025.6L783.7,1020.5L787.7,1015.2L791.7,1009.9L795.7,1004.4L799.7,998.9L803.7,993.3L807.7,987.6L811.7,981.8L815.7,976.0L819.7,970.1L823.7,964.0L827.7,957.9L831.7,951.8L835.7,945.5L839.7,939.2L843.7,932.8L847.7,926.3L851.7,919.8L855.7,913.2L859.7,906.5L863.7,899.8L867.7,893.0L871.7,886.2L875.7,879.3L879.7,872.4L883.7,865.4L887.7,858.4L891.7,851.4L895.7,844.3L899.7,837.2L903.7,830.1L907.7,822.9L911.7,815.7L915.7,808.5L919.7,801.3L923.7,794.0L927.7,786.8L931.7,779.5L935.7,772.3L939.7,765.0L943.7,757.7L947.7,750.4L951.7,743.2L955.7,735.9L959.7,728.7L963.7,721.4L967.7,714.2L971.7,707.0L975.7,699.8L979.7,692.6L983.7,685.5L987.7,678.4L991.7,671.3L995.7,664.3L999.7,657.3L1003.7,650.3L1007.7,643.4L1011.7,636.6L1015.7,629.8L1019.7,623.1L1023.7,616.5L1027.7,610.0L1031.7,603.6L1035.7,597.3L1039.7,591.1L1043.7,585.1L1047.7,579.2L1051.7,573.4L1055.7,567.8L1059.7,562.4L1063.7,557.1L1067.7,551.9L1071.7,546.9L1075.7,542.0L1079.7,537.3L1083.7,532.8L1087.7,528.4L1091.7,524.2L1095.7,520.1L1099.7,516.2L1103.7,512.5L1107.7,508.9L1111.7,505.6L1115.7,502.4L1119.7,499.3L1123.7,496.5L1127.7,493.8L1131.7,491.3L1135.7,489.0L1139.7,486.9L1143.7,485.0L1147.7,483.3L1151.7,481.7L1155.7,480.4L1159.7,479.3L1163.7,478.3L1167.7,477.6L1171.7,477.1L1175.7,476.7L1179.7,476.6L1183.7,476.7L1187.7,477.0L1191.7,477.6L1195.7,478.3L1199.7,479.3L1203.7,480.4L1207.7,481.8L1211.7,483.4L1215.7,485.1L1219.7,487.1L1223.7,489.2L1227.7,491.6L1231.7,494.1L1235.7,496.8L1239.7,499.7L1243.7,502.7L1247.7,506.0L1251.7,509.4L1255.7,512.9L1259.7,516.6L1263.7,520.5L1267.7,524.6L1271.7,528.7L1275.7,533.1L1279.7,537.6L1283.7,542.2L1287.7,546.9L1291.7,551.8L1295.7,556.8L1299.7,562.0L1303.7,567.3L1307.7,572.7L1311.7,578.2L1315.7,583.8L1319.7,589.5L1323.7,595.4L1327.7,601.3L1331.7,607.4L1335.7,613.5L1339.7,619.8L1343.7,626.1L1347.7,632.5L1351.7,639.1L1355.7,645.6L1359.7,652.3L1363.7,659.1L1367.7,665.9L1371.7,672.7L1375.7,679.7L1379.7,686.7L1383.7,693.8L1387.7,700.9L1391.7,708.1L1395.7,715.3L1399.7,722.5L1403.7,729.9L1407.7,737.2L1411.7,744.6L1415.7,752.0L1419.7,759.4L1423.7,766.9L1427.7,774.3L1431.7,781.8L1435.7,789.3L1439.7,796.7L1443.7,804.2L1447.7,811.7L1451.7,819.1L1455.7,826.5L1459.7,833.8L1463.7,841.2L1467.7,848.4L1471.7,855.7L1475.7,862.8L1479.7,870.0L1483.7,877.0L1487.7,884.0L1491.7,890.9L1495.7,897.7L1499.7,904.5L1503.7,911.1L1507.7,917.7L1511.7,924.2L1515.7,930.7L1519.7,937.1L1523.7,943.3L1527.7,949.5L1531.7,955.7L1535.7,961.7L1539.7,967.7L1543.7,973.5L1547.7,979.3L1551.7,985.0L1555.7,990.7L1559.7,996.2L1563.7,1001.6L1567.7,1007.0L1571.7,1012.3L1575.7,1017.5L1579.7,1022.6L1583.7,1027.6L1587.7,1032.5L1591.7,1037.4L1595.7,1042.1L1599.7,1046.8L1603.7,1051.4L1607.7,1055.9L1611.7,1060.4L1615.7,1064.8L1619.7,1069.1L1623.7,1073.3L1627.7,1077.4L1631.7,1081.5L1635.7,1085.5L1639.7,1089.5L1643.7,1093.4L1647.7,1097.2L1651.7,1100.9L1655.7,1104.6L1659.7,1108.2L1663.7,1111.8L1667.7,1115.2L1671.7,1118.7L1675.7,1122.1L1679.7,1125.4L1683.7,1128.6L1687.7,1131.8L1691.7,1135.0L1695.7,1138.1L1699.7,1141.1L1703.7,1144.1L1707.7,1147.1L1711.7,1150.0L1715.7,1152.8L1719.7,1155.6L1723.7,1158.4L1727.7,1161.1L1731.7,1163.7L1735.7,1166.3L1739.7,1168.9L1743.7,1171.4L1747.7,1173.9L1751.7,1176.3L1755.7,1178.6L1759.7,1180.9L1763.7,1183.1L1767.7,1185.3L1771.7,1187.5L1775.7,1189.5L1779.7,1191.6L1783.7,1193.5L1787.7,1195.5L1791.7,1197.3L1795.7,1199.1L1799.7,1200.9L1803.7,1202.6L1807.7,1204.2L1811.7,1205.8L1815.7,1207.3L1819.7,1208.8L1823.7,1210.2L1827.7,1211.5L1831.7,1212.8L1835.7,1214.0L1839.7,1215.2L1843.7,1216.3L1847.7,1217.3L1851.7,1218.3L1855.7,1219.3L1859.7,1220.1L1863.7,1221.0L1867.7,1221.7L1871.7,1222.5L1875.7,1223.1L1879.7,1223.8L1883.7,1224.4L1887.7,1224.9L1891.7,1225.4L1895.7,1225.9L1899.7,1226.4L1903.7,1226.8L1907.7,1227.2L1911.7,1227.6L1915.7,1227.9L1919.7,1228.3L1923.7,1228.6L1927.7,1228.9L1931.7,1229.2L1935.7,1229.5L1939.7,1229.7L1943.7,1230.0L1947.7,1230.2L1951.7,1230.4L1955.7,1230.7L1959.7,1230.9L1963.7,1231.1L1967.7,1231.2L1971.7,1231.4L1975.7,1231.6L1979.7,1231.7L1983.7,1231.9L1987.7,1232.0L1991.7,1232.2L1995.7,1232.3L1999.7,1232.4L2003.7,1232.5L2007.7,1232.6L2011.7,1232.7L2015.7,1232.8L2019.7,1232.9L2023.7,1233.0L2027.7,1233.0L2031.7,1233.1L2035.7,1233.2L2039.7,1233.2L2043.7,1233.3L2047.7,1233.3L2051.7,1233.4L2055.7,1233.4L2059.7,1233.4L2063.7,1233.5L2067.7,1233.5L2071.7,1233.5L2075.7,1233.5L2079.7,1233.5L2083.7,1233.5L2087.7,1233.5L2091.7,1233.5L2095.7,1233.5L2099.7,1233.5L2103.7,1233.5L2107.7,1233.5L2111.7,1233.5L2115.7,1233.5L2119.7,1233.5L2123.7,1233.5L2127.7,1233.5L2131.7,1233.5L2135.7,1233.5L2139.7,1233.5L2143.7,1233.5L2147.7,1233.5L2151.7,1233.5L2155.7,1233.5L2159.7,1233.5L2163.7,1233.5L2167.7,1233.5L2171.7,1233.5L2175.7,1233.5L2179.7,1233.5L2183.7,1233.5L2187.7,1233.5L2191.7,1233.5L2195.7,1233.5L2199.7,1233.5L2203.7,1233.5L2207.7,1233.5L2211.7,1233.5L2215.7,1233.5L2219.7,1233.5L2223.7,1233.5L2227.7,1233.5L2231.7,1233.5L2235.7,1233.5L2239.7,1233.5L2243.7,1233.5L2247.7,1233.5L2251.7,1233.5L2255.7,1233.5L2259.7,1233.5L2263.7,1233.5L2267.7,1233.5L2271.7,1233.5L2275.7,1233.5L2277.0,1233.5" pathLength="2875.40" fill="none" stroke="#fa7c17" stroke-width="7.4" stroke-dasharray="27.2 12"/>
<path d="M576.2,1154.3L580.2,1154.3L584.2,1154.3L588.2,1154.2L592.2,1154.1L596.2,1153.8L600.2,1153.5L604.2,1153.1L608.2,1152.7L612.2,1152.2L616.2,1151.7L620.2,1151.1L624.2,1150.5L628.2,1149.8L632.2,1149.1L636.2,1148.4L640.2,1147.5L644.2,1146.6L648.2,1145.6L652.2,1144.4L656.2,1143.0L660.2,1141.5L664.2,1139.8L668.2,1138.0L672.2,1135.9L676.2,1133.6L680.2,1131.2L684.2,1128.6L688.2,1125.8L692.2,1122.8L696.2,1119.7L700.2,1116.4L704.2,1112.9L708.2,1109.4L712.2,1105.6L716.2,1101.8L720.2,1097.8L724.2,1093.6L728.2,1089.4L732.2,1085.0L736.2,1080.5L740.2,1075.9L744.2,1071.2L748.2,1066.4L752.2,1061.6L756.2,1056.6L760.2,1051.6L764.2,1046.5L768.2,1041.3L772.2,1036.1L776.2,1030.8L780.2,1025.4L784.2,1020.1L788.2,1014.7L792.2,1009.2L796.2,1003.8L800.2,998.1L804.2,992.2L808.2,986.0L812.2,979.6L816.2,973.2L820.2,966.8L824.2,960.4L828.2,953.9L832.2,947.5L836.2,940.9L840.2,934.3L844.2,927.6L848.2,920.7L852.2,913.6L856.2,906.4L860.2,898.9L864.2,891.1L868.2,883.0L872.2,874.7L876.2,866.1L880.2,857.3L884.2,848.6L888.2,839.8L892.2,831.2L896.2,822.5L900.2,814.0L904.2,805.4L908.2,796.9L912.2,788.5L916.2,780.0L920.2,771.6L924.2,763.2L928.2,754.8L932.2,746.5L936.2,738.1L940.2,729.8L944.2,721.5L948.2,713.3L952.2,705.1L956.2,697.0L960.2,689.0L964.2,681.1L968.2,673.3L972.2,665.6L976.2,658.0L980.2,650.6L984.2,643.5L988.2,636.5L992.2,629.8L996.2,623.4L1000.2,617.3L1004.2,611.4L1008.2,606.0L1012.2,600.8L1016.2,595.9L1020.2,591.2L1024.2,586.8L1028.2,582.5L1032.2,578.4L1036.2,574.5L1040.2,570.9L1044.2,567.5L1048.2,564.4L1052.2,561.7L1056.2,559.3L1060.2,557.1L1064.2,555.2L1068.2,553.6L1072.2,552.1L1076.2,550.8L1080.2,549.6L1084.2,548.5L1088.2,547.6L1092.2,546.8L1096.2,546.1L1100.2,545.5L1104.2,544.9L1108.2,544.5L1112.2,544.1L1116.2,543.7L1120.2,543.4L1124.2,543.1L1128.2,542.8L1132.2,542.5L1136.2,542.3L1140.2,542.0L1144.2,541.7L1148.2,541.4L1152.2,541.0L1156.2,540.6L1160.2,540.1L1164.2,539.6L1168.2,539.1L1172.2,538.5L1176.2,537.9L1180.2,537.2L1184.2,536.6L1188.2,536.0L1192.2,535.4L1196.2,534.8L1200.2,534.3L1204.2,533.8L1208.2,533.3L1212.2,532.9L1216.2,532.6L1220.2,532.4L1224.2,532.2L1228.2,532.2L1232.2,532.2L1236.2,532.4L1240.2,532.7L1244.2,533.1L1248.2,533.6L1252.2,534.2L1256.2,535.0L1260.2,535.9L1264.2,536.9L1268.2,538.1L1272.2,539.4L1276.2,540.9L1280.2,542.5L1284.2,544.3L1288.2,546.2L1292.2,548.3L1296.2,550.5L1300.2,552.9L1304.2,555.5L1308.2,558.3L1312.2,561.2L1316.2,564.3L1320.2,567.6L1324.2,571.1L1328.2,574.7L1332.2,578.6L1336.2,582.6L1340.2,586.9L1344.2,591.3L1348.2,596.0L1352.2,600.9L1356.2,606.0L1360.2,611.3L1364.2,616.8L1368.2,622.6L1372.2,628.6L1376.2,634.8L1380.2,641.4L1384.2,648.1L1388.2,655.2L1392.2,662.6L1396.2,670.2L1400.2,678.2L1404.2,686.4L1408.2,695.0L1412.2,703.9L1416.2,713.1L1420.2,722.6L1424.2,732.4L1428.2,742.3L1432.2,752.1L1436.2,761.7L1440.2,771.2L1444.2,780.6L1448.2,789.9L1452.2,799.3L1456.2,808.6L1460.2,817.9L1464.2,827.1L1468.2,836.4L1472.2,845.6L1476.2,854.9L1480.2,864.1L1484.2,873.3L1488.2,882.4L1492.2,891.4L1496.2,900.2L1500.2,909.0L1504.2,917.5L1508.2,925.9L1512.2,934.1L1516.2,942.0L1520.2,949.7L1524.2,957.2L1528.2,964.5L1532.2,971.6L1536.2,978.4L1540.2,985.1L1544.2,991.6L1548.2,997.8L1552.2,1003.8L1556.2,1009.6L1560.2,1015.1L1564.2,1020.4L1568.2,1025.5L1572.2,1030.2L1576.2,1034.7L1580.2,1038.9L1584.2,1042.9L1588.2,1046.7L1592.2,1050.3L1596.2,1053.6L1600.2,1056.8L1604.2,1059.8L1608.2,1062.7L1612.2,1065.4L1616.2,1067.9L1620.2,1070.3L1624.2,1072.6L1628.2,1074.7L1632.2,1076.7L1636.2,1078.6L1640.2,1080.3L1644.2,1081.9L1648.2,1083.4L1652.2,1084.8L1656.2,1086.1L1660.2,1087.3L1664.2,1088.3L1668.2,1089.3L1672.2,1090.2L1676.2,1091.0L1680.2,1091.7L1684.2,1092.3L1688.2,1092.9L1692.2,1093.4L1696.2,1093.8L1700.2,1094.1L1704.2,1094.4L1708.2,1094.6L1712.2,1094.8L1716.2,1095.0L1720.2,1095.0L1724.2,1095.1L1728.2,1095.1L1732.2,1095.1L1736.2,1095.0L1740.2,1095.0L1744.2,1094.9L1748.2,1094.8L1748.4,1094.8" fill="none" stroke="#000" stroke-width="5" stroke-linecap="round" stroke-linejoin="round"/>
</svg>
<path d="M1815 115H1884" stroke="#2a2eec" stroke-width="4" stroke-linecap="round" fill="none"/>
<path d="M1815.5 166.4H1884.5" stroke="#000" stroke-width="5" stroke-linecap="round" fill="none"/>
<path d="M1815.2 216.4H1882.2" stroke="#fa7c17" stroke-width="7.4" stroke-dasharray="27.2 12" fill="none"/>
<text x="839.68" y="54.10" font-size="47.5" textLength="728.02" lengthAdjust="spacingAndGlyphs" font-weight="bold">Posterior Predictive Samples</text>
<text x="1911.35" y="128.40" font-size="37" textLength="336.61" lengthAdjust="spacingAndGlyphs">Posterior predictive</text>
<text x="1911.21" y="178.20" font-size="37" textLength="166.13" lengthAdjust="spacingAndGlyphs">Observed</text>
<text x="1911.35" y="228.30" font-size="37" textLength="445.83" lengthAdjust="spacingAndGlyphs">Posterior predictive mean</text>
<text x="73.99" y="1335.00" font-size="49.4" textLength="107.43" lengthAdjust="spacingAndGlyphs">−7.5</text>
<text x="391.21" y="1335.00" font-size="49.4" textLength="108.39" lengthAdjust="spacingAndGlyphs">−5.0</text>
<text x="709.42" y="1335.00" font-size="49.4" textLength="107.43" lengthAdjust="spacingAndGlyphs">−2.5</text>
<text x="1045.59" y="1335.00" font-size="49.4" textLength="71.11" lengthAdjust="spacingAndGlyphs">0.0</text>
<text x="1363.52" y="1335.00" font-size="49.4" textLength="70.18" lengthAdjust="spacingAndGlyphs">2.5</text>
<text x="1681.26" y="1335.00" font-size="49.4" textLength="70.62" lengthAdjust="spacingAndGlyphs">5.0</text>
<text x="1999.07" y="1335.00" font-size="49.4" textLength="69.94" lengthAdjust="spacingAndGlyphs">7.5</text>
<text x="2301.10" y="1335.00" font-size="49.4" textLength="100.06" lengthAdjust="spacingAndGlyphs">10.0</text>
<text x="1190.23" y="1393.00" font-size="50" textLength="26.63" lengthAdjust="spacingAndGlyphs">y</text>
</svg>
</body></html>
